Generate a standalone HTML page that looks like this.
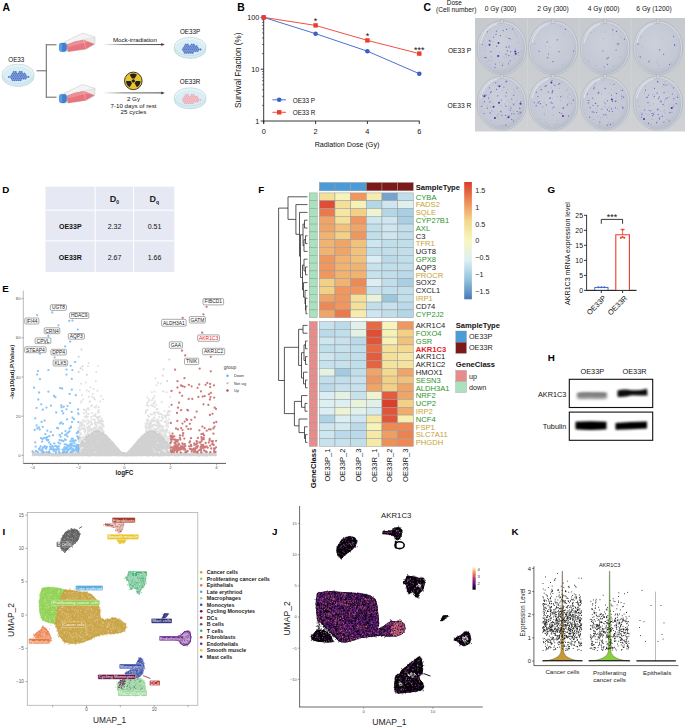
<!DOCTYPE html><html><head><meta charset="utf-8"><style>html,body{margin:0;padding:0;background:#fff;overflow:hidden;}svg{display:block;font-family:"Liberation Sans",sans-serif;}</style></head><body><svg width="685" height="727" viewBox="0 0 685 727"><rect width="685" height="727" fill="#fff"/><text x="2.6" y="10.7" font-size="10.4" text-anchor="start" font-weight="bold" fill="#000">A</text><text x="237.2" y="10.9" font-size="10.4" text-anchor="start" font-weight="bold" fill="#000">B</text><text x="423.5" y="11.0" font-size="10.4" text-anchor="start" font-weight="bold" fill="#000">C</text><text x="2.3" y="192.9" font-size="9.8" text-anchor="start" font-weight="bold" fill="#000">D</text><text x="2.3" y="292.0" font-size="9.8" text-anchor="start" font-weight="bold" fill="#000">E</text><text x="258.2" y="192.9" font-size="9.8" text-anchor="start" font-weight="bold" fill="#000">F</text><text x="547.6" y="192.7" font-size="9.8" text-anchor="start" font-weight="bold" fill="#000">G</text><text x="547.8" y="361.1" font-size="9.8" text-anchor="start" font-weight="bold" fill="#000">H</text><text x="2.6" y="534.9" font-size="9.8" text-anchor="start" font-weight="bold" fill="#000">I</text><text x="272.0" y="534.9" font-size="9.8" text-anchor="start" font-weight="bold" fill="#000">J</text><text x="511.4" y="534.9" font-size="9.8" text-anchor="start" font-weight="bold" fill="#000">K</text><text x="16.3" y="61.7" font-size="6.3" text-anchor="middle" fill="#111">OE33</text><ellipse cx="18" cy="76.8" rx="15.9" ry="9.6" fill="#d4ebf1" stroke="#aecbd5" stroke-width="0.6"/><rect x="2.0999999999999996" y="73.8" width="31.8" height="3" fill="#d4ebf1"/><line x1="2.0999999999999996" y1="73.8" x2="2.0999999999999996" y2="76.8" stroke="#bcd4dc" stroke-width="0.5"/><line x1="33.9" y1="73.8" x2="33.9" y2="76.8" stroke="#bcd4dc" stroke-width="0.5"/><ellipse cx="18" cy="73.8" rx="15.9" ry="9.6" fill="#e6f5f8" stroke="#b6d0d9" stroke-width="0.6"/><ellipse cx="18" cy="75.1" rx="14.3" ry="8.0" fill="#d9eff5" stroke="#cde3ea" stroke-width="0.4"/><circle cx="13.75" cy="72.04" r="0.95" fill="#4f72c4" stroke="#7d98d8" stroke-width="0.3"/><circle cx="15.70" cy="72.04" r="0.95" fill="#4f72c4" stroke="#7d98d8" stroke-width="0.3"/><circle cx="19.60" cy="72.04" r="0.95" fill="#4f72c4" stroke="#7d98d8" stroke-width="0.3"/><circle cx="21.55" cy="72.04" r="0.95" fill="#4f72c4" stroke="#7d98d8" stroke-width="0.3"/><circle cx="12.77" cy="73.66" r="0.95" fill="#4f72c4" stroke="#7d98d8" stroke-width="0.3"/><circle cx="14.72" cy="73.66" r="0.95" fill="#4f72c4" stroke="#7d98d8" stroke-width="0.3"/><circle cx="16.67" cy="73.66" r="0.95" fill="#4f72c4" stroke="#7d98d8" stroke-width="0.3"/><circle cx="18.62" cy="73.66" r="0.95" fill="#4f72c4" stroke="#7d98d8" stroke-width="0.3"/><circle cx="20.57" cy="73.66" r="0.95" fill="#4f72c4" stroke="#7d98d8" stroke-width="0.3"/><circle cx="22.52" cy="73.66" r="0.95" fill="#4f72c4" stroke="#7d98d8" stroke-width="0.3"/><circle cx="24.47" cy="73.66" r="0.95" fill="#4f72c4" stroke="#7d98d8" stroke-width="0.3"/><circle cx="11.80" cy="75.28" r="0.95" fill="#4f72c4" stroke="#7d98d8" stroke-width="0.3"/><circle cx="13.75" cy="75.28" r="0.95" fill="#4f72c4" stroke="#7d98d8" stroke-width="0.3"/><circle cx="15.70" cy="75.28" r="0.95" fill="#4f72c4" stroke="#7d98d8" stroke-width="0.3"/><circle cx="17.65" cy="75.28" r="0.95" fill="#4f72c4" stroke="#7d98d8" stroke-width="0.3"/><circle cx="19.60" cy="75.28" r="0.95" fill="#4f72c4" stroke="#7d98d8" stroke-width="0.3"/><circle cx="21.55" cy="75.28" r="0.95" fill="#4f72c4" stroke="#7d98d8" stroke-width="0.3"/><circle cx="23.50" cy="75.28" r="0.95" fill="#4f72c4" stroke="#7d98d8" stroke-width="0.3"/><circle cx="25.45" cy="75.28" r="0.95" fill="#4f72c4" stroke="#7d98d8" stroke-width="0.3"/><circle cx="8.88" cy="76.90" r="0.95" fill="#4f72c4" stroke="#7d98d8" stroke-width="0.3"/><circle cx="10.82" cy="76.90" r="0.95" fill="#4f72c4" stroke="#7d98d8" stroke-width="0.3"/><circle cx="12.77" cy="76.90" r="0.95" fill="#4f72c4" stroke="#7d98d8" stroke-width="0.3"/><circle cx="14.72" cy="76.90" r="0.95" fill="#4f72c4" stroke="#7d98d8" stroke-width="0.3"/><circle cx="16.67" cy="76.90" r="0.95" fill="#4f72c4" stroke="#7d98d8" stroke-width="0.3"/><circle cx="18.62" cy="76.90" r="0.95" fill="#4f72c4" stroke="#7d98d8" stroke-width="0.3"/><circle cx="20.57" cy="76.90" r="0.95" fill="#4f72c4" stroke="#7d98d8" stroke-width="0.3"/><circle cx="22.52" cy="76.90" r="0.95" fill="#4f72c4" stroke="#7d98d8" stroke-width="0.3"/><circle cx="24.47" cy="76.90" r="0.95" fill="#4f72c4" stroke="#7d98d8" stroke-width="0.3"/><circle cx="26.42" cy="76.90" r="0.95" fill="#4f72c4" stroke="#7d98d8" stroke-width="0.3"/><circle cx="28.37" cy="76.90" r="0.95" fill="#4f72c4" stroke="#7d98d8" stroke-width="0.3"/><circle cx="11.80" cy="78.52" r="0.95" fill="#4f72c4" stroke="#7d98d8" stroke-width="0.3"/><circle cx="13.75" cy="78.52" r="0.95" fill="#4f72c4" stroke="#7d98d8" stroke-width="0.3"/><circle cx="15.70" cy="78.52" r="0.95" fill="#4f72c4" stroke="#7d98d8" stroke-width="0.3"/><circle cx="17.65" cy="78.52" r="0.95" fill="#4f72c4" stroke="#7d98d8" stroke-width="0.3"/><circle cx="19.60" cy="78.52" r="0.95" fill="#4f72c4" stroke="#7d98d8" stroke-width="0.3"/><circle cx="21.55" cy="78.52" r="0.95" fill="#4f72c4" stroke="#7d98d8" stroke-width="0.3"/><circle cx="23.50" cy="78.52" r="0.95" fill="#4f72c4" stroke="#7d98d8" stroke-width="0.3"/><circle cx="25.45" cy="78.52" r="0.95" fill="#4f72c4" stroke="#7d98d8" stroke-width="0.3"/><circle cx="12.77" cy="80.14" r="0.95" fill="#4f72c4" stroke="#7d98d8" stroke-width="0.3"/><circle cx="14.72" cy="80.14" r="0.95" fill="#4f72c4" stroke="#7d98d8" stroke-width="0.3"/><circle cx="16.67" cy="80.14" r="0.95" fill="#4f72c4" stroke="#7d98d8" stroke-width="0.3"/><circle cx="18.62" cy="80.14" r="0.95" fill="#4f72c4" stroke="#7d98d8" stroke-width="0.3"/><circle cx="20.57" cy="80.14" r="0.95" fill="#4f72c4" stroke="#7d98d8" stroke-width="0.3"/><line x1="36.5" y1="70.8" x2="46.3" y2="70.8" stroke="#666" stroke-width="1.0"/><line x1="46.3" y1="44.6" x2="46.3" y2="97.4" stroke="#666" stroke-width="1.0"/><line x1="45.8" y1="44.8" x2="56.5" y2="44.8" stroke="#666" stroke-width="1.0"/><line x1="45.8" y1="97.2" x2="56.5" y2="97.2" stroke="#666" stroke-width="1.0"/><polygon points="64.2,42.1 82.6,33.3 95.1,37.2 94.7,44.4 85.9,49.0 67.5,51.7" fill="#e9e9ea" stroke="#c2c2c4" stroke-width="0.5"/><polygon points="64.2,42.1 82.6,33.3 95.1,37.2 83.5,39.7 67.1,44.1" fill="#f4f4f5" stroke="#cfcfd1" stroke-width="0.4"/><polygon points="66.7,45.0 74.7,41.7 83.5,40.0 94.1,44.0 85.9,48.9 68.1,51.6" fill="#e8747f" stroke="#dc6673" stroke-width="0.3"/><polygon points="66.7,45.0 74.7,41.7 83.5,40.0 89.1,42.1 79.1,44.3 68.1,47.3" fill="#ee8e97"/><line x1="83.5" y1="39.699999999999996" x2="85.9" y2="48.9" stroke="#d9d9db" stroke-width="0.4"/><rect x="59.300000000000004" y="43.0" width="7.4" height="8.7" rx="2.4" fill="#3c82d2" stroke="#2f6fbd" stroke-width="0.3"/><rect x="59.5" y="43.5" width="2.6" height="7.7" rx="1.2" fill="#5b9be0"/><polygon points="64.2,93.4 82.6,84.6 95.1,88.5 94.7,95.7 85.9,100.3 67.5,103.0" fill="#e9e9ea" stroke="#c2c2c4" stroke-width="0.5"/><polygon points="64.2,93.4 82.6,84.6 95.1,88.5 83.5,91.0 67.1,95.4" fill="#f4f4f5" stroke="#cfcfd1" stroke-width="0.4"/><polygon points="66.7,96.3 74.7,93.0 83.5,91.3 94.1,95.3 85.9,100.2 68.1,102.9" fill="#e8747f" stroke="#dc6673" stroke-width="0.3"/><polygon points="66.7,96.3 74.7,93.0 83.5,91.3 89.1,93.4 79.1,95.6 68.1,98.6" fill="#ee8e97"/><line x1="83.5" y1="91.0" x2="85.9" y2="100.19999999999999" stroke="#d9d9db" stroke-width="0.4"/><rect x="59.300000000000004" y="94.3" width="7.4" height="8.7" rx="2.4" fill="#3c82d2" stroke="#2f6fbd" stroke-width="0.3"/><rect x="59.5" y="94.8" width="2.6" height="7.7" rx="1.2" fill="#5b9be0"/><text x="134.9" y="41.6" font-size="6.2" text-anchor="middle" fill="#111">Mock-irradiation</text><defs><linearGradient id="arr" x1="103" y1="0" x2="163" y2="0" gradientUnits="userSpaceOnUse"><stop offset="0" stop-color="#555" stop-opacity="0"/><stop offset="0.35" stop-color="#555" stop-opacity="0.9"/><stop offset="1" stop-color="#333"/></linearGradient></defs><rect x="103.4" y="44.15" width="59.5" height="0.9" fill="url(#arr)"/><polygon points="164.8,44.6 161.2,43.1 161.2,46.1" fill="#444"/><rect x="103.4" y="92.45" width="59.5" height="0.9" fill="url(#arr)"/><polygon points="164.8,92.9 161.2,91.4 161.2,94.4" fill="#444"/><circle cx="133.3" cy="80.9" r="8.8" fill="#ebc42a" stroke="#2a2a2a" stroke-width="0.9"/><path d="M131.98 78.61 L129.69 74.65 A7.216 7.216 0 0 1 136.91 74.65 L134.62 78.61 Z" fill="#222"/><path d="M135.94 80.90 L140.52 80.90 A7.216 7.216 0 0 1 136.91 87.15 L134.62 83.19 Z" fill="#222"/><path d="M131.98 83.19 L129.69 87.15 A7.216 7.216 0 0 1 126.08 80.90 L130.66 80.90 Z" fill="#222"/><circle cx="133.3" cy="80.9" r="1.6720000000000002" fill="#222"/><text x="133.5" y="100.8" font-size="6.2" text-anchor="middle" fill="#111">2 Gy</text><text x="133.5" y="108.3" font-size="6.2" text-anchor="middle" fill="#111">7-10 days of rest</text><text x="133.5" y="114.2" font-size="6.2" text-anchor="middle" fill="#111">25 cycles</text><text x="190.1" y="33.8" font-size="6.3" text-anchor="middle" fill="#111">OE33P</text><ellipse cx="190.1" cy="49.4" rx="15.8" ry="9.0" fill="#d4ebf1" stroke="#aecbd5" stroke-width="0.6"/><rect x="174.29999999999998" y="46.4" width="31.6" height="3" fill="#d4ebf1"/><line x1="174.29999999999998" y1="46.4" x2="174.29999999999998" y2="49.4" stroke="#bcd4dc" stroke-width="0.5"/><line x1="205.9" y1="46.4" x2="205.9" y2="49.4" stroke="#bcd4dc" stroke-width="0.5"/><ellipse cx="190.1" cy="46.4" rx="15.8" ry="9.0" fill="#e6f5f8" stroke="#b6d0d9" stroke-width="0.6"/><ellipse cx="190.1" cy="47.699999999999996" rx="14.200000000000001" ry="7.4" fill="#d9eff5" stroke="#cde3ea" stroke-width="0.4"/><circle cx="185.85" cy="44.64" r="0.95" fill="#4f72c4" stroke="#7d98d8" stroke-width="0.3"/><circle cx="187.80" cy="44.64" r="0.95" fill="#4f72c4" stroke="#7d98d8" stroke-width="0.3"/><circle cx="191.70" cy="44.64" r="0.95" fill="#4f72c4" stroke="#7d98d8" stroke-width="0.3"/><circle cx="193.65" cy="44.64" r="0.95" fill="#4f72c4" stroke="#7d98d8" stroke-width="0.3"/><circle cx="184.87" cy="46.26" r="0.95" fill="#4f72c4" stroke="#7d98d8" stroke-width="0.3"/><circle cx="186.82" cy="46.26" r="0.95" fill="#4f72c4" stroke="#7d98d8" stroke-width="0.3"/><circle cx="188.77" cy="46.26" r="0.95" fill="#4f72c4" stroke="#7d98d8" stroke-width="0.3"/><circle cx="190.72" cy="46.26" r="0.95" fill="#4f72c4" stroke="#7d98d8" stroke-width="0.3"/><circle cx="192.67" cy="46.26" r="0.95" fill="#4f72c4" stroke="#7d98d8" stroke-width="0.3"/><circle cx="194.62" cy="46.26" r="0.95" fill="#4f72c4" stroke="#7d98d8" stroke-width="0.3"/><circle cx="196.57" cy="46.26" r="0.95" fill="#4f72c4" stroke="#7d98d8" stroke-width="0.3"/><circle cx="183.90" cy="47.88" r="0.95" fill="#4f72c4" stroke="#7d98d8" stroke-width="0.3"/><circle cx="185.85" cy="47.88" r="0.95" fill="#4f72c4" stroke="#7d98d8" stroke-width="0.3"/><circle cx="187.80" cy="47.88" r="0.95" fill="#4f72c4" stroke="#7d98d8" stroke-width="0.3"/><circle cx="189.75" cy="47.88" r="0.95" fill="#4f72c4" stroke="#7d98d8" stroke-width="0.3"/><circle cx="191.70" cy="47.88" r="0.95" fill="#4f72c4" stroke="#7d98d8" stroke-width="0.3"/><circle cx="193.65" cy="47.88" r="0.95" fill="#4f72c4" stroke="#7d98d8" stroke-width="0.3"/><circle cx="195.60" cy="47.88" r="0.95" fill="#4f72c4" stroke="#7d98d8" stroke-width="0.3"/><circle cx="197.55" cy="47.88" r="0.95" fill="#4f72c4" stroke="#7d98d8" stroke-width="0.3"/><circle cx="182.92" cy="49.50" r="0.95" fill="#4f72c4" stroke="#7d98d8" stroke-width="0.3"/><circle cx="184.87" cy="49.50" r="0.95" fill="#4f72c4" stroke="#7d98d8" stroke-width="0.3"/><circle cx="186.82" cy="49.50" r="0.95" fill="#4f72c4" stroke="#7d98d8" stroke-width="0.3"/><circle cx="188.77" cy="49.50" r="0.95" fill="#4f72c4" stroke="#7d98d8" stroke-width="0.3"/><circle cx="190.72" cy="49.50" r="0.95" fill="#4f72c4" stroke="#7d98d8" stroke-width="0.3"/><circle cx="192.67" cy="49.50" r="0.95" fill="#4f72c4" stroke="#7d98d8" stroke-width="0.3"/><circle cx="194.62" cy="49.50" r="0.95" fill="#4f72c4" stroke="#7d98d8" stroke-width="0.3"/><circle cx="196.57" cy="49.50" r="0.95" fill="#4f72c4" stroke="#7d98d8" stroke-width="0.3"/><circle cx="198.52" cy="49.50" r="0.95" fill="#4f72c4" stroke="#7d98d8" stroke-width="0.3"/><circle cx="200.47" cy="49.50" r="0.95" fill="#4f72c4" stroke="#7d98d8" stroke-width="0.3"/><circle cx="183.90" cy="51.12" r="0.95" fill="#4f72c4" stroke="#7d98d8" stroke-width="0.3"/><circle cx="185.85" cy="51.12" r="0.95" fill="#4f72c4" stroke="#7d98d8" stroke-width="0.3"/><circle cx="187.80" cy="51.12" r="0.95" fill="#4f72c4" stroke="#7d98d8" stroke-width="0.3"/><circle cx="189.75" cy="51.12" r="0.95" fill="#4f72c4" stroke="#7d98d8" stroke-width="0.3"/><circle cx="191.70" cy="51.12" r="0.95" fill="#4f72c4" stroke="#7d98d8" stroke-width="0.3"/><circle cx="193.65" cy="51.12" r="0.95" fill="#4f72c4" stroke="#7d98d8" stroke-width="0.3"/><circle cx="195.60" cy="51.12" r="0.95" fill="#4f72c4" stroke="#7d98d8" stroke-width="0.3"/><circle cx="197.55" cy="51.12" r="0.95" fill="#4f72c4" stroke="#7d98d8" stroke-width="0.3"/><circle cx="184.87" cy="52.74" r="0.95" fill="#4f72c4" stroke="#7d98d8" stroke-width="0.3"/><circle cx="186.82" cy="52.74" r="0.95" fill="#4f72c4" stroke="#7d98d8" stroke-width="0.3"/><circle cx="188.77" cy="52.74" r="0.95" fill="#4f72c4" stroke="#7d98d8" stroke-width="0.3"/><circle cx="190.72" cy="52.74" r="0.95" fill="#4f72c4" stroke="#7d98d8" stroke-width="0.3"/><circle cx="192.67" cy="52.74" r="0.95" fill="#4f72c4" stroke="#7d98d8" stroke-width="0.3"/><text x="190.1" y="84.0" font-size="6.3" text-anchor="middle" fill="#111">OE33R</text><ellipse cx="190.1" cy="99.8" rx="15.8" ry="9.0" fill="#d4ebf1" stroke="#aecbd5" stroke-width="0.6"/><rect x="174.29999999999998" y="96.8" width="31.6" height="3" fill="#d4ebf1"/><line x1="174.29999999999998" y1="96.8" x2="174.29999999999998" y2="99.8" stroke="#bcd4dc" stroke-width="0.5"/><line x1="205.9" y1="96.8" x2="205.9" y2="99.8" stroke="#bcd4dc" stroke-width="0.5"/><ellipse cx="190.1" cy="96.8" rx="15.8" ry="9.0" fill="#e6f5f8" stroke="#b6d0d9" stroke-width="0.6"/><ellipse cx="190.1" cy="98.1" rx="14.200000000000001" ry="7.4" fill="#d9eff5" stroke="#cde3ea" stroke-width="0.4"/><circle cx="185.85" cy="95.04" r="0.95" fill="#f0a6b2" stroke="#f6c6ce" stroke-width="0.3"/><circle cx="187.80" cy="95.04" r="0.95" fill="#f0a6b2" stroke="#f6c6ce" stroke-width="0.3"/><circle cx="191.70" cy="95.04" r="0.95" fill="#f0a6b2" stroke="#f6c6ce" stroke-width="0.3"/><circle cx="193.65" cy="95.04" r="0.95" fill="#f0a6b2" stroke="#f6c6ce" stroke-width="0.3"/><circle cx="184.87" cy="96.66" r="0.95" fill="#f0a6b2" stroke="#f6c6ce" stroke-width="0.3"/><circle cx="186.82" cy="96.66" r="0.95" fill="#f0a6b2" stroke="#f6c6ce" stroke-width="0.3"/><circle cx="188.77" cy="96.66" r="0.95" fill="#f0a6b2" stroke="#f6c6ce" stroke-width="0.3"/><circle cx="190.72" cy="96.66" r="0.95" fill="#f0a6b2" stroke="#f6c6ce" stroke-width="0.3"/><circle cx="192.67" cy="96.66" r="0.95" fill="#f0a6b2" stroke="#f6c6ce" stroke-width="0.3"/><circle cx="194.62" cy="96.66" r="0.95" fill="#f0a6b2" stroke="#f6c6ce" stroke-width="0.3"/><circle cx="196.57" cy="96.66" r="0.95" fill="#f0a6b2" stroke="#f6c6ce" stroke-width="0.3"/><circle cx="183.90" cy="98.28" r="0.95" fill="#f0a6b2" stroke="#f6c6ce" stroke-width="0.3"/><circle cx="185.85" cy="98.28" r="0.95" fill="#f0a6b2" stroke="#f6c6ce" stroke-width="0.3"/><circle cx="187.80" cy="98.28" r="0.95" fill="#f0a6b2" stroke="#f6c6ce" stroke-width="0.3"/><circle cx="189.75" cy="98.28" r="0.95" fill="#f0a6b2" stroke="#f6c6ce" stroke-width="0.3"/><circle cx="191.70" cy="98.28" r="0.95" fill="#f0a6b2" stroke="#f6c6ce" stroke-width="0.3"/><circle cx="193.65" cy="98.28" r="0.95" fill="#f0a6b2" stroke="#f6c6ce" stroke-width="0.3"/><circle cx="195.60" cy="98.28" r="0.95" fill="#f0a6b2" stroke="#f6c6ce" stroke-width="0.3"/><circle cx="197.55" cy="98.28" r="0.95" fill="#f0a6b2" stroke="#f6c6ce" stroke-width="0.3"/><circle cx="182.92" cy="99.90" r="0.95" fill="#f0a6b2" stroke="#f6c6ce" stroke-width="0.3"/><circle cx="184.87" cy="99.90" r="0.95" fill="#f0a6b2" stroke="#f6c6ce" stroke-width="0.3"/><circle cx="186.82" cy="99.90" r="0.95" fill="#f0a6b2" stroke="#f6c6ce" stroke-width="0.3"/><circle cx="188.77" cy="99.90" r="0.95" fill="#f0a6b2" stroke="#f6c6ce" stroke-width="0.3"/><circle cx="190.72" cy="99.90" r="0.95" fill="#f0a6b2" stroke="#f6c6ce" stroke-width="0.3"/><circle cx="192.67" cy="99.90" r="0.95" fill="#f0a6b2" stroke="#f6c6ce" stroke-width="0.3"/><circle cx="194.62" cy="99.90" r="0.95" fill="#f0a6b2" stroke="#f6c6ce" stroke-width="0.3"/><circle cx="196.57" cy="99.90" r="0.95" fill="#f0a6b2" stroke="#f6c6ce" stroke-width="0.3"/><circle cx="198.52" cy="99.90" r="0.95" fill="#f0a6b2" stroke="#f6c6ce" stroke-width="0.3"/><circle cx="200.47" cy="99.90" r="0.95" fill="#f0a6b2" stroke="#f6c6ce" stroke-width="0.3"/><circle cx="183.90" cy="101.52" r="0.95" fill="#f0a6b2" stroke="#f6c6ce" stroke-width="0.3"/><circle cx="185.85" cy="101.52" r="0.95" fill="#f0a6b2" stroke="#f6c6ce" stroke-width="0.3"/><circle cx="187.80" cy="101.52" r="0.95" fill="#f0a6b2" stroke="#f6c6ce" stroke-width="0.3"/><circle cx="189.75" cy="101.52" r="0.95" fill="#f0a6b2" stroke="#f6c6ce" stroke-width="0.3"/><circle cx="191.70" cy="101.52" r="0.95" fill="#f0a6b2" stroke="#f6c6ce" stroke-width="0.3"/><circle cx="193.65" cy="101.52" r="0.95" fill="#f0a6b2" stroke="#f6c6ce" stroke-width="0.3"/><circle cx="195.60" cy="101.52" r="0.95" fill="#f0a6b2" stroke="#f6c6ce" stroke-width="0.3"/><circle cx="197.55" cy="101.52" r="0.95" fill="#f0a6b2" stroke="#f6c6ce" stroke-width="0.3"/><circle cx="184.87" cy="103.14" r="0.95" fill="#f0a6b2" stroke="#f6c6ce" stroke-width="0.3"/><circle cx="186.82" cy="103.14" r="0.95" fill="#f0a6b2" stroke="#f6c6ce" stroke-width="0.3"/><circle cx="188.77" cy="103.14" r="0.95" fill="#f0a6b2" stroke="#f6c6ce" stroke-width="0.3"/><circle cx="190.72" cy="103.14" r="0.95" fill="#f0a6b2" stroke="#f6c6ce" stroke-width="0.3"/><circle cx="192.67" cy="103.14" r="0.95" fill="#f0a6b2" stroke="#f6c6ce" stroke-width="0.3"/><line x1="263.7" y1="16.9" x2="263.7" y2="123.5" stroke="#222" stroke-width="0.9"/><line x1="263.3" y1="121.0" x2="419.7" y2="121.0" stroke="#222" stroke-width="0.9"/><line x1="260.7" y1="17.4" x2="263.7" y2="17.4" stroke="#222" stroke-width="0.9"/><text x="259.2" y="19.9" font-size="7.2" text-anchor="end" fill="#111">100</text><line x1="260.7" y1="69.2" x2="263.7" y2="69.2" stroke="#222" stroke-width="0.9"/><text x="259.2" y="71.7" font-size="7.2" text-anchor="end" fill="#111">10</text><line x1="260.7" y1="121.0" x2="263.7" y2="121.0" stroke="#222" stroke-width="0.9"/><text x="259.2" y="123.5" font-size="7.2" text-anchor="end" fill="#111">1</text><line x1="261.9" y1="105.4" x2="263.7" y2="105.4" stroke="#222" stroke-width="0.6"/><line x1="261.9" y1="96.3" x2="263.7" y2="96.3" stroke="#222" stroke-width="0.6"/><line x1="261.9" y1="89.8" x2="263.7" y2="89.8" stroke="#222" stroke-width="0.6"/><line x1="261.9" y1="84.8" x2="263.7" y2="84.8" stroke="#222" stroke-width="0.6"/><line x1="261.9" y1="80.7" x2="263.7" y2="80.7" stroke="#222" stroke-width="0.6"/><line x1="261.9" y1="77.2" x2="263.7" y2="77.2" stroke="#222" stroke-width="0.6"/><line x1="261.9" y1="74.2" x2="263.7" y2="74.2" stroke="#222" stroke-width="0.6"/><line x1="261.9" y1="71.6" x2="263.7" y2="71.6" stroke="#222" stroke-width="0.6"/><line x1="261.9" y1="53.6" x2="263.7" y2="53.6" stroke="#222" stroke-width="0.6"/><line x1="261.9" y1="44.5" x2="263.7" y2="44.5" stroke="#222" stroke-width="0.6"/><line x1="261.9" y1="38.0" x2="263.7" y2="38.0" stroke="#222" stroke-width="0.6"/><line x1="261.9" y1="33.0" x2="263.7" y2="33.0" stroke="#222" stroke-width="0.6"/><line x1="261.9" y1="28.9" x2="263.7" y2="28.9" stroke="#222" stroke-width="0.6"/><line x1="261.9" y1="25.4" x2="263.7" y2="25.4" stroke="#222" stroke-width="0.6"/><line x1="261.9" y1="22.4" x2="263.7" y2="22.4" stroke="#222" stroke-width="0.6"/><line x1="261.9" y1="19.8" x2="263.7" y2="19.8" stroke="#222" stroke-width="0.6"/><line x1="263.7" y1="121.0" x2="263.7" y2="124.0" stroke="#222" stroke-width="0.9"/><text x="263.7" y="134.2" font-size="7.4" text-anchor="middle" fill="#111">0</text><line x1="315.6" y1="121.0" x2="315.6" y2="124.0" stroke="#222" stroke-width="0.9"/><text x="315.6" y="134.2" font-size="7.4" text-anchor="middle" fill="#111">2</text><line x1="367.4" y1="121.0" x2="367.4" y2="124.0" stroke="#222" stroke-width="0.9"/><text x="367.4" y="134.2" font-size="7.4" text-anchor="middle" fill="#111">4</text><line x1="419.3" y1="121.0" x2="419.3" y2="124.0" stroke="#222" stroke-width="0.9"/><text x="419.3" y="134.2" font-size="7.4" text-anchor="middle" fill="#111">6</text><text x="347.0" y="146.5" font-size="7.15" text-anchor="middle" fill="#111">Radiation Dose (Gy)</text><text x="0.0" y="0.0" font-size="8.15" text-anchor="middle" fill="#111" transform="translate(241.2,70.2) rotate(-90)">Survival Fraction (%)</text><polyline points="263.7,17.4 315.6,25.4 367.4,40.4 419.3,53.6" fill="none" stroke="#ef3b2c" stroke-width="0.9"/><polyline points="263.7,17.4 315.6,33.7 367.4,51.2 419.3,73.7" fill="none" stroke="#3c5fc6" stroke-width="0.9"/><circle cx="263.7" cy="17.4" r="2.3" fill="#3c5fc6"/><circle cx="315.6" cy="33.7" r="2.3" fill="#3c5fc6"/><circle cx="367.4" cy="51.2" r="2.3" fill="#3c5fc6"/><circle cx="419.3" cy="73.7" r="2.3" fill="#3c5fc6"/><rect x="261.5" y="15.2" width="4.4" height="4.4" fill="#ef3b2c"/><rect x="313.4" y="23.2" width="4.4" height="4.4" fill="#ef3b2c"/><rect x="365.2" y="38.2" width="4.4" height="4.4" fill="#ef3b2c"/><rect x="417.1" y="51.4" width="4.4" height="4.4" fill="#ef3b2c"/><text x="315.6" y="24.0" font-size="9" text-anchor="middle" fill="#111">*</text><text x="367.4" y="38.6" font-size="9" text-anchor="middle" fill="#111">*</text><text x="419.3" y="52.6" font-size="9" text-anchor="middle" fill="#111">***</text><line x1="272.4" y1="99.8" x2="286.0" y2="99.8" stroke="#3c5fc6" stroke-width="0.9"/><circle cx="279.2" cy="99.8" r="2.3" fill="#3c5fc6"/><line x1="272.4" y1="112.3" x2="286.0" y2="112.3" stroke="#ef3b2c" stroke-width="0.9"/><rect x="277" y="110.1" width="4.4" height="4.4" fill="#ef3b2c"/><text x="292.7" y="102.6" font-size="6.4" text-anchor="start" fill="#111">OE33 P</text><text x="292.7" y="115.1" font-size="6.4" text-anchor="start" fill="#111">OE33 R</text><text x="454.3" y="5.3" font-size="6.4" text-anchor="middle" fill="#111">Dose</text><text x="456.2" y="11.9" font-size="6.7" text-anchor="middle" fill="#111">(Cell number)</text><text x="500.5" y="10.8" font-size="6.7" text-anchor="middle" fill="#111">0 Gy (300)</text><text x="553.0" y="10.8" font-size="6.7" text-anchor="middle" fill="#111">2 Gy (300)</text><text x="603.6" y="10.8" font-size="6.7" text-anchor="middle" fill="#111">4 Gy (600)</text><text x="654.0" y="10.8" font-size="6.7" text-anchor="middle" fill="#111">6 Gy (1200)</text><text x="471.3" y="53.2" font-size="6.7" text-anchor="end" fill="#111">OE33 P</text><text x="471.3" y="107.8" font-size="6.7" text-anchor="end" fill="#111">OE33 R</text><defs><linearGradient id="cbg" x1="0" y1="0" x2="0" y2="1"><stop offset="0" stop-color="#c6c9cd"/><stop offset="1" stop-color="#cfd1d4"/></linearGradient><radialGradient id="dishg" cx="0.45" cy="0.4" r="0.6"><stop offset="0" stop-color="#cbd0db"/><stop offset="0.8" stop-color="#c3c8d4"/><stop offset="1" stop-color="#b7bdca"/></radialGradient></defs><rect x="475" y="18" width="210" height="113.5" fill="url(#cbg)"/><line x1="527.4" y1="18.0" x2="527.4" y2="131.5" stroke="#d2d5d8" stroke-width="0.8"/><line x1="579.2" y1="18.0" x2="579.2" y2="131.5" stroke="#d2d5d8" stroke-width="0.8"/><line x1="631.2" y1="18.0" x2="631.2" y2="131.5" stroke="#d2d5d8" stroke-width="0.8"/><ellipse cx="501.8" cy="47.9" rx="24.7" ry="27.0" fill="#d2d6de" stroke="#a7adb9" stroke-width="0.6"/><ellipse cx="501.8" cy="48.5" rx="22.9" ry="25.2" fill="url(#dishg)" stroke="#b3b7c3" stroke-width="0.5"/><path d="M480.6 42.9 A22.2 24.5 0 0 1 496.8 23.9" stroke="#e8eaf0" stroke-width="1.3" fill="none" opacity="0.75"/><rect x="500.3" y="19.4" width="3" height="4" fill="#cdd0d8" stroke="#a9adb8" stroke-width="0.4"/><path d="M498.2 55.9h0M498.5 42.9h0M489.5 44.8h0M515.7 53.7h0M515.2 51.4h0M507.5 50.8h0M484.9 57.5h0M508.8 55.5h0M487.6 31.8h0M490.2 41.2h0M506.3 47.2h0M508.9 38.3h0M506.2 54.1h0M495.0 67.3h0M508.5 63.8h0M493.6 37.1h0M496.8 46.2h0M510.6 51.7h0M496.0 34.3h0M495.5 64.1h0M490.9 51.6h0M506.6 29.4h0M502.4 65.3h0M482.5 44.5h0M500.4 35.7h0M508.9 46.9h0M486.0 57.7h0M510.2 61.0h0M518.4 52.5h0M503.2 30.6h0M510.1 38.8h0M496.4 31.2h0M489.4 40.4h0M512.7 29.0h0" stroke="#6548c4" stroke-width="1.2" stroke-linecap="round" stroke-opacity="0.85" fill="none"/><path d="M498.2 55.9h0M498.5 42.9h0M489.5 44.8h0M515.7 53.7h0M515.2 51.4h0" stroke="#4a2db2" stroke-width="2.0" stroke-linecap="round" stroke-opacity="0.95" fill="none"/><path d="M485.0 50.9h0M518.0 55.1h0M489.3 29.6h0M506.7 36.9h0M488.9 60.3h0M515.8 50.1h0M505.3 54.7h0M518.9 55.2h0M508.9 56.2h0M486.7 61.5h0M514.0 55.4h0M483.1 41.3h0M510.0 28.5h0M499.4 62.5h0M489.4 64.7h0M509.6 45.6h0M506.3 57.8h0M503.3 63.8h0M492.7 41.6h0M515.3 48.3h0M491.1 60.6h0M518.4 42.3h0M485.5 46.1h0M499.6 43.1h0M516.7 35.9h0M515.0 33.3h0M491.5 57.0h0M515.0 59.0h0M506.8 50.2h0M504.0 56.9h0M499.2 52.4h0M509.9 47.9h0M511.9 56.2h0M521.1 51.3h0" stroke="#8d84cc" stroke-width="0.9" stroke-linecap="round" stroke-opacity="0.6" fill="none"/><ellipse cx="553.3" cy="47.9" rx="24.7" ry="27.0" fill="#d2d6de" stroke="#a7adb9" stroke-width="0.6"/><ellipse cx="553.3" cy="48.5" rx="22.9" ry="25.2" fill="url(#dishg)" stroke="#b3b7c3" stroke-width="0.5"/><path d="M532.1 42.9 A22.2 24.5 0 0 1 548.3 23.9" stroke="#e8eaf0" stroke-width="1.3" fill="none" opacity="0.75"/><rect x="551.8" y="19.4" width="3" height="4" fill="#cdd0d8" stroke="#a9adb8" stroke-width="0.4"/><path d="M547.2 42.1h0M553.1 61.5h0M548.5 54.0h0M565.4 29.3h0M539.1 51.3h0M559.0 51.7h0M547.4 57.8h0M557.3 39.8h0M573.5 51.1h0" stroke="#6548c4" stroke-width="1.2" stroke-linecap="round" stroke-opacity="0.85" fill="none"/><path d="M545.4 46.3h0M550.0 46.9h0M533.0 43.9h0M564.7 33.4h0M552.4 61.8h0M562.4 65.4h0M535.3 43.8h0M548.6 57.4h0M561.1 26.8h0" stroke="#8d84cc" stroke-width="0.9" stroke-linecap="round" stroke-opacity="0.6" fill="none"/><ellipse cx="605.2" cy="47.9" rx="24.7" ry="27.0" fill="#d2d6de" stroke="#a7adb9" stroke-width="0.6"/><ellipse cx="605.2" cy="48.5" rx="22.9" ry="25.2" fill="url(#dishg)" stroke="#b3b7c3" stroke-width="0.5"/><path d="M584.0 42.9 A22.2 24.5 0 0 1 600.2 23.9" stroke="#e8eaf0" stroke-width="1.3" fill="none" opacity="0.75"/><rect x="603.7" y="19.4" width="3" height="4" fill="#cdd0d8" stroke="#a9adb8" stroke-width="0.4"/><path d="M616.5 31.4h0M612.7 29.9h0M607.4 64.3h0M603.0 51.0h0M616.1 50.0h0M604.2 67.0h0M618.6 43.7h0M624.4 39.1h0M617.3 44.0h0M607.0 58.7h0M608.3 57.7h0" stroke="#6548c4" stroke-width="1.2" stroke-linecap="round" stroke-opacity="0.85" fill="none"/><path d="M591.1 32.6h0M613.0 34.5h0M594.5 31.0h0M619.8 57.4h0M620.8 37.0h0M605.2 32.0h0M613.3 66.3h0M595.9 65.8h0M618.1 45.3h0M588.7 60.9h0M603.8 38.5h0" stroke="#8d84cc" stroke-width="0.9" stroke-linecap="round" stroke-opacity="0.6" fill="none"/><ellipse cx="658.0" cy="47.9" rx="24.7" ry="27.0" fill="#d2d6de" stroke="#a7adb9" stroke-width="0.6"/><ellipse cx="658.0" cy="48.5" rx="22.9" ry="25.2" fill="url(#dishg)" stroke="#b3b7c3" stroke-width="0.5"/><path d="M636.8 42.9 A22.2 24.5 0 0 1 653.0 23.9" stroke="#e8eaf0" stroke-width="1.3" fill="none" opacity="0.75"/><rect x="656.5" y="19.4" width="3" height="4" fill="#cdd0d8" stroke="#a9adb8" stroke-width="0.4"/><path d="M663.7 54.3h0M673.5 36.3h0M669.5 64.5h0M674.8 45.6h0M648.9 61.7h0M659.7 49.9h0M674.6 44.5h0M638.1 44.2h0M640.2 56.6h0" stroke="#6548c4" stroke-width="1.2" stroke-linecap="round" stroke-opacity="0.85" fill="none"/><path d="M662.4 38.5h0M657.9 60.3h0M659.0 65.5h0M657.2 62.8h0M671.5 64.0h0M649.4 60.3h0M640.8 37.0h0M640.4 58.4h0M642.8 47.7h0" stroke="#8d84cc" stroke-width="0.9" stroke-linecap="round" stroke-opacity="0.6" fill="none"/><ellipse cx="501.8" cy="103.2" rx="24.7" ry="27.0" fill="#d2d6de" stroke="#a7adb9" stroke-width="0.6"/><ellipse cx="501.8" cy="103.8" rx="22.9" ry="25.2" fill="url(#dishg)" stroke="#b3b7c3" stroke-width="0.5"/><path d="M480.6 98.2 A22.2 24.5 0 0 1 496.8 79.2" stroke="#e8eaf0" stroke-width="1.3" fill="none" opacity="0.75"/><rect x="500.3" y="74.7" width="3" height="4" fill="#cdd0d8" stroke="#a9adb8" stroke-width="0.4"/><path d="M499.0 102.7h0M493.5 106.8h0M520.5 103.7h0M508.5 117.2h0M499.4 86.3h0M494.9 117.9h0M484.4 96.2h0M514.1 113.8h0M501.9 115.3h0M503.9 87.0h0M484.9 95.6h0M513.7 95.2h0M490.5 92.6h0M484.5 101.7h0M487.2 108.2h0M481.7 106.3h0M495.7 82.8h0M511.7 99.0h0M482.9 95.0h0M505.9 96.0h0M511.8 113.8h0M511.0 108.2h0M517.1 111.5h0M506.0 81.9h0M511.8 119.3h0M497.6 95.8h0M517.0 88.0h0M505.7 125.2h0M490.1 112.8h0M520.8 101.9h0M509.0 116.0h0M489.7 101.9h0M505.7 115.4h0M501.3 100.0h0M488.7 98.1h0M513.7 104.7h0M491.2 91.6h0M520.9 112.2h0M506.7 81.2h0M510.3 110.5h0M519.7 108.2h0M500.8 111.4h0M484.2 113.5h0M506.3 92.6h0M513.6 121.0h0M486.0 94.9h0M506.0 106.1h0M496.6 89.3h0M520.0 113.0h0M489.4 87.8h0" stroke="#6548c4" stroke-width="1.2" stroke-linecap="round" stroke-opacity="0.85" fill="none"/><path d="M499.0 102.7h0M493.5 106.8h0M520.5 103.7h0M508.5 117.2h0M499.4 86.3h0M494.9 117.9h0M484.4 96.2h0" stroke="#4a2db2" stroke-width="2.0" stroke-linecap="round" stroke-opacity="0.95" fill="none"/><path d="M518.5 113.9h0M519.5 111.9h0M490.1 107.0h0M482.8 96.0h0M501.0 111.4h0M491.7 101.3h0M508.3 109.1h0M510.7 106.4h0M497.4 115.0h0M502.5 90.8h0M493.0 103.2h0M500.2 105.7h0M501.8 106.0h0M500.2 86.2h0M507.1 117.9h0M508.0 100.2h0M507.6 89.5h0M482.7 103.9h0M490.2 113.4h0M493.9 82.1h0M491.3 120.7h0M497.3 85.5h0M491.6 110.8h0M508.9 106.0h0M518.0 111.7h0M501.5 112.5h0M518.3 113.9h0M513.5 89.5h0M499.8 114.3h0M498.0 118.2h0M509.5 116.0h0M500.1 125.7h0M517.0 100.3h0M502.5 125.8h0M497.2 116.0h0M514.7 103.3h0M487.2 105.8h0M506.3 118.8h0M512.5 103.6h0M513.0 111.0h0M504.8 104.1h0M498.4 113.7h0M488.8 94.6h0M501.9 84.5h0M497.6 82.1h0M492.6 111.6h0M509.8 102.3h0M499.1 85.0h0M520.2 108.9h0M514.7 91.8h0" stroke="#8d84cc" stroke-width="0.9" stroke-linecap="round" stroke-opacity="0.6" fill="none"/><ellipse cx="553.3" cy="103.2" rx="24.7" ry="27.0" fill="#d2d6de" stroke="#a7adb9" stroke-width="0.6"/><ellipse cx="553.3" cy="103.8" rx="22.9" ry="25.2" fill="url(#dishg)" stroke="#b3b7c3" stroke-width="0.5"/><path d="M532.1 98.2 A22.2 24.5 0 0 1 548.3 79.2" stroke="#e8eaf0" stroke-width="1.3" fill="none" opacity="0.75"/><rect x="551.8" y="74.7" width="3" height="4" fill="#cdd0d8" stroke="#a9adb8" stroke-width="0.4"/><path d="M551.4 82.6h0M563.0 116.0h0M534.2 102.6h0M559.7 83.5h0M536.3 92.2h0M546.2 85.7h0M553.8 107.2h0M561.7 113.5h0M568.4 116.1h0M537.9 96.6h0M541.2 89.7h0M552.1 103.3h0M558.6 84.2h0M538.0 102.9h0M550.4 98.2h0M552.4 91.7h0M562.9 108.5h0M552.1 92.9h0M552.0 80.5h0M540.4 103.7h0M536.2 105.7h0M555.0 85.2h0M549.7 98.2h0M559.6 112.5h0M552.8 90.5h0M551.2 102.1h0M563.4 107.6h0M545.1 86.3h0M548.2 92.1h0M539.1 101.6h0M546.3 104.9h0M560.6 96.8h0M573.3 100.2h0M567.4 104.9h0" stroke="#6548c4" stroke-width="1.2" stroke-linecap="round" stroke-opacity="0.85" fill="none"/><path d="M551.4 82.6h0M563.0 116.0h0" stroke="#4a2db2" stroke-width="2.0" stroke-linecap="round" stroke-opacity="0.95" fill="none"/><path d="M562.0 82.7h0M543.0 106.9h0M558.4 124.9h0M557.2 120.2h0M562.8 116.1h0M560.6 100.7h0M559.7 88.4h0M566.6 90.6h0M555.6 124.8h0M550.0 103.5h0M567.9 103.6h0M542.4 107.0h0M561.1 113.6h0M545.6 122.5h0M571.4 103.4h0M557.1 96.4h0M569.1 94.5h0M562.5 96.0h0M544.2 113.6h0M569.3 103.1h0M544.5 114.8h0M552.6 108.2h0M568.6 115.7h0M548.8 124.9h0M553.3 115.1h0M544.2 102.5h0M539.0 119.3h0M567.4 89.4h0M539.7 87.1h0M567.7 97.0h0M552.4 98.2h0M551.7 87.9h0M553.6 84.7h0M552.3 108.2h0" stroke="#8d84cc" stroke-width="0.9" stroke-linecap="round" stroke-opacity="0.6" fill="none"/><ellipse cx="605.2" cy="103.2" rx="24.7" ry="27.0" fill="#d2d6de" stroke="#a7adb9" stroke-width="0.6"/><ellipse cx="605.2" cy="103.8" rx="22.9" ry="25.2" fill="url(#dishg)" stroke="#b3b7c3" stroke-width="0.5"/><path d="M584.0 98.2 A22.2 24.5 0 0 1 600.2 79.2" stroke="#e8eaf0" stroke-width="1.3" fill="none" opacity="0.75"/><rect x="603.7" y="74.7" width="3" height="4" fill="#cdd0d8" stroke="#a9adb8" stroke-width="0.4"/><path d="M611.9 99.6h0M593.1 105.5h0M599.9 122.1h0M615.7 101.5h0M598.8 92.7h0M592.9 98.1h0M609.4 111.2h0M610.4 124.3h0M595.4 103.4h0M622.5 90.4h0M597.8 105.9h0M607.4 109.7h0M601.8 109.0h0M605.9 114.9h0M587.4 94.0h0M605.2 88.4h0M592.2 111.8h0M596.5 112.5h0M615.4 107.8h0M612.5 101.6h0M588.6 102.8h0M611.5 95.1h0M603.8 114.6h0M593.9 112.2h0M623.6 97.2h0M607.4 100.8h0M622.4 107.1h0M616.6 93.6h0M605.0 103.0h0M589.6 117.2h0M614.0 84.3h0M615.5 101.2h0M611.6 108.9h0M588.1 100.5h0M621.8 96.2h0M594.2 87.1h0M590.2 107.7h0M623.1 108.2h0M607.4 125.1h0M598.2 93.2h0M612.5 111.5h0M593.8 88.7h0" stroke="#6548c4" stroke-width="1.2" stroke-linecap="round" stroke-opacity="0.85" fill="none"/><path d="M611.9 99.6h0" stroke="#4a2db2" stroke-width="2.0" stroke-linecap="round" stroke-opacity="0.95" fill="none"/><path d="M609.4 107.2h0M589.4 100.5h0M597.7 110.2h0M603.5 101.8h0M600.7 118.0h0M621.4 98.5h0M615.9 92.6h0M606.2 114.6h0M622.2 98.5h0M604.1 106.4h0M588.0 103.4h0M595.9 108.8h0M595.2 84.0h0M605.8 107.4h0M598.1 115.9h0M601.4 93.9h0M610.4 84.3h0M595.7 102.9h0M616.7 100.8h0M609.5 93.2h0M608.5 122.9h0M599.5 124.8h0M596.2 103.5h0M607.4 117.8h0M594.9 83.9h0M613.1 114.7h0M610.0 125.3h0M608.2 107.3h0M617.4 108.5h0M620.9 90.3h0M602.9 80.4h0M616.1 97.7h0M613.2 123.6h0M605.1 99.1h0M598.6 91.0h0M596.8 112.6h0M605.7 104.3h0M602.9 116.6h0M612.3 101.0h0M614.5 100.9h0M593.4 119.5h0M611.2 89.6h0" stroke="#8d84cc" stroke-width="0.9" stroke-linecap="round" stroke-opacity="0.6" fill="none"/><ellipse cx="658.0" cy="103.2" rx="24.7" ry="27.0" fill="#d2d6de" stroke="#a7adb9" stroke-width="0.6"/><ellipse cx="658.0" cy="103.8" rx="22.9" ry="25.2" fill="url(#dishg)" stroke="#b3b7c3" stroke-width="0.5"/><path d="M636.8 98.2 A22.2 24.5 0 0 1 653.0 79.2" stroke="#e8eaf0" stroke-width="1.3" fill="none" opacity="0.75"/><rect x="656.5" y="74.7" width="3" height="4" fill="#cdd0d8" stroke="#a9adb8" stroke-width="0.4"/><path d="M671.7 108.0h0M644.0 119.0h0M662.4 116.2h0M660.9 100.8h0M642.1 114.2h0M658.4 98.6h0M663.1 104.4h0M667.3 97.6h0M657.7 81.4h0M652.2 113.4h0M673.8 98.5h0M656.6 122.6h0M653.6 114.2h0M676.1 103.7h0M672.4 94.0h0M661.0 101.9h0M659.5 119.0h0M677.6 97.2h0M650.1 110.7h0M644.7 110.1h0M666.0 98.9h0M663.8 84.5h0M666.1 85.1h0M648.7 95.0h0M652.7 115.7h0M659.2 96.9h0M663.9 122.1h0M658.1 109.1h0M673.2 106.8h0M648.5 123.4h0M673.4 87.9h0M657.4 109.8h0M670.1 112.4h0M654.5 88.3h0M659.3 118.0h0M645.5 90.2h0M657.8 82.0h0M654.3 96.3h0M664.1 92.7h0M646.4 97.5h0M657.3 93.0h0M658.2 114.6h0M669.2 121.0h0M647.5 97.0h0M641.5 117.1h0M648.0 102.7h0" stroke="#6548c4" stroke-width="1.2" stroke-linecap="round" stroke-opacity="0.85" fill="none"/><path d="M671.7 108.0h0M644.0 119.0h0" stroke="#4a2db2" stroke-width="2.0" stroke-linecap="round" stroke-opacity="0.95" fill="none"/><path d="M664.1 85.8h0M664.7 102.8h0M639.3 106.5h0M668.8 84.7h0M669.0 106.3h0M664.7 110.0h0M673.7 100.2h0M669.5 97.2h0M667.3 91.7h0M656.8 123.4h0M664.4 100.7h0M644.5 92.9h0M660.6 116.9h0M663.9 111.3h0M657.5 121.0h0M652.5 94.7h0M669.9 104.1h0M654.1 94.3h0M654.4 112.8h0M662.3 86.9h0M664.1 106.0h0M645.7 113.6h0M654.0 97.9h0M667.0 119.6h0M648.6 109.8h0M650.8 124.2h0M652.0 119.2h0M649.6 114.8h0M671.7 85.9h0M651.9 110.9h0M656.7 92.9h0M677.8 104.0h0M641.2 112.8h0M641.7 115.2h0M649.8 105.5h0M673.4 104.8h0M645.4 86.2h0M672.0 112.8h0M647.8 115.0h0M664.8 112.9h0M638.1 100.3h0M669.3 113.4h0M664.9 81.9h0M660.4 110.9h0M677.3 95.2h0M653.2 103.8h0" stroke="#8d84cc" stroke-width="0.9" stroke-linecap="round" stroke-opacity="0.6" fill="none"/><rect x="45.5" y="186.7" width="128.8" height="85.30000000000001" fill="#e6e9f3"/><line x1="95.2" y1="186.7" x2="95.2" y2="272.0" stroke="#ffffff" stroke-width="1.0"/><line x1="133.6" y1="186.7" x2="133.6" y2="272.0" stroke="#ffffff" stroke-width="1.0"/><line x1="45.5" y1="210.2" x2="174.3" y2="210.2" stroke="#ffffff" stroke-width="1.0"/><line x1="45.5" y1="240.9" x2="174.3" y2="240.9" stroke="#ffffff" stroke-width="1.0"/><text x="114.3" y="202.2" font-size="9" font-weight="bold" text-anchor="middle" fill="#222">D<tspan font-size="5" dy="1.6">0</tspan></text><text x="154.2" y="202.2" font-size="9" font-weight="bold" text-anchor="middle" fill="#222">D<tspan font-size="5" dy="1.6">q</tspan></text><text x="70.3" y="228.5" font-size="7.0" text-anchor="middle" font-weight="bold" fill="#111">OE33P</text><text x="70.3" y="259.8" font-size="7.0" text-anchor="middle" font-weight="bold" fill="#111">OE33R</text><text x="114.5" y="228.5" font-size="7.0" text-anchor="middle" fill="#111">2.32</text><text x="154.5" y="228.5" font-size="7.0" text-anchor="middle" fill="#111">0.51</text><text x="114.5" y="259.8" font-size="7.0" text-anchor="middle" fill="#111">2.67</text><text x="154.5" y="259.8" font-size="7.0" text-anchor="middle" fill="#111">1.66</text><line x1="23.3" y1="290.5" x2="23.3" y2="463.4" stroke="#aaaaaa" stroke-width="0.8"/><line x1="23.3" y1="463.4" x2="226.0" y2="463.4" stroke="#333333" stroke-width="0.8"/><line x1="21.5" y1="455.4" x2="23.3" y2="455.4" stroke="#555" stroke-width="0.5"/><text x="20.6" y="456.9" font-size="4.3" text-anchor="end" fill="#555">0</text><line x1="21.5" y1="416.2" x2="23.3" y2="416.2" stroke="#555" stroke-width="0.5"/><text x="20.6" y="417.7" font-size="4.3" text-anchor="end" fill="#555">20</text><line x1="21.5" y1="377.0" x2="23.3" y2="377.0" stroke="#555" stroke-width="0.5"/><text x="20.6" y="378.5" font-size="4.3" text-anchor="end" fill="#555">40</text><line x1="21.5" y1="337.8" x2="23.3" y2="337.8" stroke="#555" stroke-width="0.5"/><text x="20.6" y="339.3" font-size="4.3" text-anchor="end" fill="#555">60</text><line x1="21.5" y1="298.6" x2="23.3" y2="298.6" stroke="#555" stroke-width="0.5"/><text x="20.6" y="300.1" font-size="4.3" text-anchor="end" fill="#555">80</text><line x1="32.5" y1="463.4" x2="32.5" y2="465.2" stroke="#555" stroke-width="0.5"/><text x="32.5" y="469.4" font-size="4.3" text-anchor="middle" fill="#555">−4</text><line x1="78.5" y1="463.4" x2="78.5" y2="465.2" stroke="#555" stroke-width="0.5"/><text x="78.5" y="469.4" font-size="4.3" text-anchor="middle" fill="#555">−2</text><line x1="124.5" y1="463.4" x2="124.5" y2="465.2" stroke="#555" stroke-width="0.5"/><text x="124.5" y="469.4" font-size="4.3" text-anchor="middle" fill="#555">0</text><line x1="170.5" y1="463.4" x2="170.5" y2="465.2" stroke="#555" stroke-width="0.5"/><text x="170.5" y="469.4" font-size="4.3" text-anchor="middle" fill="#555">2</text><line x1="216.5" y1="463.4" x2="216.5" y2="465.2" stroke="#555" stroke-width="0.5"/><text x="216.5" y="469.4" font-size="4.3" text-anchor="middle" fill="#555">4</text><text x="124.5" y="474.6" font-size="6.3" text-anchor="middle" font-weight="bold" fill="#222">logFC</text><text x="0.0" y="0.0" font-size="6.2" text-anchor="middle" font-weight="bold" fill="#222" transform="translate(13.6,371.8) rotate(-90)">-log10(adj.P.Value)</text><path d="M146.1 425.7h0M157.6 423.7h0M84.8 428.9h0M150.9 428.1h0M158.6 428.3h0M166.6 432.3h0M92.8 429.7h0M150.2 422.7h0M81.3 440.9h0M78.9 432.4h0M156.9 409.2h0M90.1 401.2h0M81.5 434.2h0M94.7 427.4h0M86.5 437.1h0M95.8 407.5h0M97.8 411.8h0M95.6 416.2h0M164.0 435.5h0M95.9 430.1h0M80.0 426.1h0M158.6 432.0h0M147.4 410.1h0M156.8 421.6h0M169.9 433.8h0M156.9 429.4h0M153.1 403.8h0M101.5 427.0h0M103.0 399.3h0M79.3 436.4h0M79.1 444.9h0M98.7 430.5h0M97.7 416.8h0M162.2 429.9h0M89.7 427.9h0M147.5 421.4h0M90.3 428.3h0M168.1 415.5h0M158.7 432.9h0M169.6 438.4h0M155.7 425.4h0M161.1 434.6h0M152.8 430.7h0M148.1 415.5h0M168.1 426.8h0M156.4 385.2h0M78.8 441.9h0M150.6 414.2h0M103.7 432.0h0M98.9 421.6h0M146.1 431.3h0M146.7 404.9h0M157.8 422.3h0M84.5 426.1h0M170.3 444.2h0M87.2 424.0h0M98.6 423.8h0M161.1 420.8h0M146.8 419.7h0M158.9 425.8h0M100.2 416.2h0M81.2 438.3h0M145.6 413.0h0M83.7 429.1h0M149.1 417.0h0M169.0 432.9h0M99.3 431.1h0M81.5 429.1h0M87.8 416.5h0M149.0 424.2h0M82.3 438.4h0M148.9 401.0h0M94.5 407.3h0M91.2 406.2h0M165.7 435.0h0M163.4 426.3h0M95.1 422.1h0M170.2 396.9h0M85.5 435.0h0M85.7 436.4h0M101.5 427.5h0M164.5 410.9h0M154.5 391.4h0M91.5 430.2h0M160.6 433.0h0M163.3 430.0h0M159.1 421.7h0M79.6 436.0h0M83.0 399.5h0M165.6 421.3h0M93.0 428.6h0M149.0 423.9h0M95.6 414.1h0M145.7 426.1h0M161.6 402.0h0M78.6 444.8h0M159.0 423.8h0M157.6 428.3h0M145.6 423.9h0M157.9 424.4h0M87.8 432.0h0M101.9 432.0h0M90.4 421.4h0M169.7 432.2h0M101.8 423.0h0M80.5 422.8h0M99.1 427.3h0M165.9 418.3h0M150.1 425.2h0M152.0 425.7h0M155.3 424.6h0M160.9 413.9h0M87.3 423.4h0M145.7 423.2h0M149.3 428.0h0M164.1 430.5h0M159.9 430.1h0M90.0 430.5h0M169.3 407.1h0M88.9 430.4h0M170.2 411.0h0M157.4 420.5h0M84.9 437.6h0M83.7 409.6h0M94.6 423.3h0M97.5 418.6h0M167.3 414.4h0M84.2 425.4h0M85.8 421.0h0M164.5 432.0h0M159.6 433.7h0M84.2 429.8h0M154.0 421.6h0M149.3 427.7h0M99.1 420.1h0M80.7 437.5h0M102.5 425.1h0M85.4 436.5h0M88.0 419.9h0M103.5 431.9h0M82.9 440.2h0M99.4 420.3h0M87.8 433.5h0M100.5 429.4h0M170.4 442.2h0M78.5 427.7h0M84.0 413.2h0M160.0 426.8h0M96.3 405.7h0M168.4 411.0h0M103.3 424.6h0M154.8 431.0h0M156.7 430.5h0M85.9 416.3h0M100.3 422.2h0M164.6 422.1h0M147.9 431.5h0M90.8 430.4h0M81.3 423.9h0M168.3 437.7h0M93.0 430.8h0M159.8 424.3h0M81.2 442.6h0M167.3 424.6h0M154.6 406.8h0M91.4 432.5h0M91.2 417.1h0M149.2 399.5h0M160.8 383.5h0M161.3 429.5h0M81.2 422.6h0M164.8 439.0h0M89.0 425.8h0M96.2 428.1h0M153.7 398.2h0M88.9 434.6h0M153.6 424.8h0M153.8 417.8h0M92.0 424.5h0M166.7 436.6h0M96.2 425.5h0M158.5 425.6h0M167.1 439.5h0M151.2 423.3h0M157.5 423.3h0M150.3 430.6h0M158.5 412.3h0M86.9 435.1h0M91.8 424.3h0M88.7 363.0h0M148.1 419.8h0M97.1 422.5h0M148.6 426.5h0M150.0 421.5h0M88.7 427.0h0M81.1 383.7h0M86.5 417.5h0M152.0 414.5h0M88.3 423.0h0M84.0 439.6h0M156.7 420.6h0M92.3 397.0h0M150.3 424.0h0M99.9 430.5h0M152.8 406.1h0M98.8 429.3h0M166.3 422.7h0M83.4 437.3h0M96.9 417.5h0M78.8 429.3h0M103.4 431.3h0M95.7 431.2h0M96.2 371.9h0M167.9 438.7h0M146.9 432.2h0M95.9 424.4h0M96.2 430.8h0M81.2 441.2h0M166.2 431.6h0M96.9 429.4h0M164.3 438.9h0M83.6 419.7h0M163.0 391.2h0M87.7 433.5h0M146.7 430.6h0M152.5 425.1h0M161.1 426.9h0M98.9 412.4h0M163.7 430.6h0M96.5 431.1h0M154.8 406.9h0M167.6 430.6h0M153.5 428.6h0M146.4 431.1h0M163.4 391.6h0M154.4 430.7h0M80.3 438.6h0M78.9 439.5h0M82.7 424.0h0M99.8 428.2h0M164.7 439.0h0M161.3 430.8h0M88.0 366.0h0M157.2 425.7h0M79.9 390.0h0M82.4 428.5h0M93.7 388.9h0M100.9 430.5h0M168.8 412.0h0M151.3 422.2h0M88.8 413.8h0M146.0 410.7h0M101.2 396.1h0M161.3 432.1h0M95.8 381.2h0M83.6 428.0h0M146.7 430.0h0M159.5 432.7h0M79.7 430.4h0M102.4 429.1h0M169.2 414.8h0M78.9 444.7h0M151.6 419.9h0M93.2 416.1h0M162.9 376.0h0M81.8 440.7h0M153.4 420.9h0M98.7 410.0h0M169.2 419.1h0M96.3 427.1h0M164.0 437.1h0M167.5 412.4h0M150.0 430.1h0M162.4 415.0h0M166.1 425.9h0M85.8 416.2h0M146.4 431.6h0M156.4 405.1h0M154.1 421.3h0M166.7 392.3h0M151.0 405.2h0M90.4 387.4h0M162.8 418.2h0M166.7 429.1h0M165.3 430.9h0M162.0 420.2h0M96.8 426.3h0M150.0 422.3h0M145.6 425.8h0M99.0 417.3h0M102.3 429.1h0M157.5 430.4h0M94.2 398.0h0M92.5 429.0h0M91.5 422.7h0M163.5 437.0h0M86.8 390.5h0M148.3 406.1h0M89.1 431.4h0M158.2 419.2h0M158.4 422.8h0M91.8 419.5h0M165.5 437.3h0M88.9 435.0h0M102.0 421.0h0M168.1 441.8h0M78.9 414.5h0M154.8 417.4h0M166.0 432.7h0M165.2 416.4h0M164.4 416.0h0M92.7 394.0h0M87.9 428.2h0M98.9 427.5h0M85.6 382.4h0M93.7 430.6h0M88.9 391.5h0M148.5 426.8h0M81.8 441.9h0M82.0 394.9h0M90.9 424.6h0M154.9 401.4h0M85.2 430.1h0M84.4 431.5h0M166.9 442.1h0M165.3 433.0h0M160.8 430.4h0M147.4 420.4h0M168.4 422.9h0M155.0 412.6h0M145.9 428.2h0M80.4 434.1h0M80.0 424.1h0M103.0 424.4h0M150.8 425.6h0M94.5 428.5h0M166.1 415.4h0M97.7 430.9h0M145.5 426.2h0M95.2 422.8h0M86.6 426.9h0M149.6 429.6h0M88.7 409.6h0M101.0 422.6h0M154.5 396.0h0M87.3 436.4h0M152.4 425.7h0M88.1 408.1h0M153.1 426.2h0M155.7 431.7h0M153.4 420.8h0M102.3 429.7h0M100.6 423.4h0M86.8 413.8h0M101.9 429.1h0M99.3 417.3h0M87.4 428.8h0M157.0 412.6h0M167.8 420.8h0M94.8 415.2h0M88.7 421.9h0M101.5 420.2h0M156.0 426.1h0M157.7 409.1h0M82.6 425.2h0M152.8 398.4h0M169.0 440.0h0M100.1 427.3h0M97.4 390.8h0M163.6 437.8h0M169.4 437.0h0M150.1 421.9h0M84.1 428.7h0M89.7 426.2h0M166.1 431.4h0M82.5 369.8h0M79.0 441.0h0M157.8 420.4h0M88.8 430.1h0M156.6 409.5h0M158.2 419.2h0M98.0 430.8h0M86.2 411.8h0M102.2 428.5h0M79.9 426.5h0M95.5 423.6h0M94.0 430.9h0M89.7 428.4h0M160.2 430.7h0M155.5 432.0h0M152.2 420.9h0M153.7 413.0h0M151.8 392.3h0M163.7 429.2h0M154.6 412.6h0M147.5 397.4h0M102.9 433.1h0M88.0 430.1h0M147.2 402.7h0M99.0 421.9h0M145.9 411.6h0M160.4 431.4h0M162.2 427.6h0M150.4 426.8h0M79.0 432.9h0M149.6 430.8h0M155.9 430.6h0M151.7 430.2h0M80.1 430.2h0M162.1 430.5h0M92.0 405.2h0M84.7 421.7h0M88.9 422.3h0M153.8 431.0h0M145.6 427.2h0M155.4 378.2h0M149.3 425.9h0M103.3 432.5h0M146.0 430.6h0M163.8 435.6h0M100.3 426.6h0M100.3 401.4h0M159.0 414.1h0M94.9 419.9h0M163.5 431.4h0M103.6 426.4h0M100.3 428.1h0M79.5 436.3h0M151.8 400.5h0M81.2 422.4h0M154.6 403.0h0M162.9 434.0h0M80.4 440.6h0M98.4 429.0h0M165.9 430.3h0M93.9 419.5h0M99.9 427.0h0M165.1 437.2h0M163.3 436.6h0M80.0 427.6h0M163.2 418.2h0M101.5 426.8h0M81.4 401.2h0M147.5 431.4h0M158.8 426.5h0M155.3 420.2h0M93.3 429.5h0M146.2 430.7h0M101.8 418.5h0M147.7 424.3h0M86.4 436.2h0M153.0 419.5h0M82.5 421.8h0M98.7 407.3h0M89.0 396.7h0M94.0 431.4h0M146.0 428.5h0M151.5 426.5h0M80.5 433.2h0M169.5 444.3h0M162.7 375.2h0M167.7 424.4h0M88.4 435.3h0M103.0 433.1h0M170.0 443.7h0M81.8 425.8h0M84.8 416.7h0M156.6 429.4h0M84.8 432.6h0M95.0 424.6h0M87.2 409.5h0M94.8 399.4h0M92.2 413.0h0M156.9 425.5h0M167.4 439.8h0M89.5 401.7h0M79.3 433.3h0M83.1 436.9h0M147.4 427.7h0M161.7 417.0h0M162.7 428.7h0M147.6 403.0h0M91.2 429.7h0M165.7 417.3h0M102.1 424.8h0M100.6 430.0h0M78.5 437.0h0M103.0 421.3h0M149.1 428.6h0M97.9 366.1h0M154.9 414.4h0M101.0 420.9h0M163.6 438.5h0M84.9 410.2h0M78.6 438.5h0M96.3 431.4h0M81.8 426.1h0M87.7 433.0h0M98.2 420.7h0M158.0 382.8h0M158.8 433.6h0M160.3 413.8h0M91.1 430.2h0M155.8 429.0h0M156.9 423.1h0M81.0 402.6h0M161.3 425.5h0M167.6 412.6h0M147.5 423.0h0M150.5 430.4h0M154.5 429.4h0M159.2 416.8h0M95.7 427.9h0M85.5 430.9h0" stroke="#c4c4c4" stroke-width="2.0" stroke-linecap="round" stroke-opacity="0.5" fill="none"/><path d="M202.9 453.6h0M146.6 453.9h0M184.2 454.4h0M73.4 453.8h0M106.9 454.2h0M66.2 453.7h0M72.6 454.3h0M103.1 454.6h0M55.1 455.4h0M197.6 453.7h0M40.1 453.7h0M39.5 454.7h0M186.7 454.3h0M133.7 454.4h0M147.9 455.0h0M139.7 454.3h0M110.8 454.8h0M113.2 454.4h0M36.8 454.5h0M75.8 454.6h0M173.0 455.2h0M65.5 454.2h0M119.6 455.0h0M111.7 455.0h0M49.4 454.2h0M40.0 454.9h0M149.6 453.9h0M175.6 454.5h0M126.6 454.2h0M102.0 455.0h0M207.5 454.0h0M215.8 453.8h0M167.2 455.1h0M213.1 454.8h0M123.0 453.1h0M62.9 454.8h0M177.6 455.0h0M97.1 455.2h0M171.6 454.2h0M83.1 453.5h0M182.6 454.6h0M201.8 454.4h0M70.8 455.3h0M91.2 454.1h0M39.3 455.1h0M204.8 454.8h0M157.6 454.9h0M176.9 455.0h0M53.7 453.9h0M98.7 455.1h0M193.1 454.1h0M194.9 454.9h0M51.7 453.9h0M105.0 455.3h0M179.3 455.1h0M138.7 452.1h0M98.8 455.3h0M65.0 454.2h0M169.3 453.5h0M79.2 454.8h0M150.1 454.0h0M154.6 455.3h0M90.0 455.1h0M60.0 455.4h0M145.9 454.2h0M197.3 454.9h0M56.8 455.2h0M36.6 453.8h0M33.0 455.1h0M98.2 455.0h0M73.8 454.2h0M70.1 454.7h0M147.3 454.8h0M204.8 455.3h0M77.3 455.1h0M149.9 455.0h0M192.8 455.2h0M81.1 454.3h0M34.6 454.6h0M97.0 454.3h0M151.3 453.0h0M167.5 454.5h0M78.2 455.1h0M130.3 455.2h0M107.2 455.4h0M175.8 455.0h0M34.8 453.0h0M58.7 454.6h0M69.2 454.4h0M150.5 454.6h0M182.2 455.0h0M87.7 454.6h0M41.4 454.0h0M164.1 454.2h0M33.7 454.4h0M118.1 453.9h0M169.0 454.7h0M51.9 455.2h0M75.2 454.5h0M170.4 455.2h0M160.4 454.4h0M81.4 454.0h0M134.4 453.7h0M128.8 454.7h0M81.3 453.6h0M72.4 453.2h0M194.4 454.6h0M75.9 455.3h0M169.4 453.7h0M92.6 454.8h0M194.5 455.0h0M199.5 454.7h0M148.5 454.8h0M212.6 453.9h0M118.9 454.5h0M190.3 454.0h0M112.9 455.2h0M89.1 454.0h0M71.5 455.1h0M200.1 455.1h0M59.1 454.9h0M203.4 455.3h0M96.0 455.2h0M40.2 455.2h0M159.9 454.3h0M168.1 454.2h0M44.6 454.5h0M182.9 454.8h0M183.3 455.1h0M192.2 455.1h0M200.8 454.9h0M70.4 455.2h0M53.1 453.4h0M181.9 455.0h0M149.2 454.7h0M85.4 454.0h0M50.9 453.9h0M70.2 454.4h0M91.2 455.2h0M79.7 455.3h0M84.5 455.2h0M91.5 454.4h0M209.9 453.3h0M146.3 455.4h0M38.2 454.4h0M174.7 454.8h0M96.3 455.0h0M72.3 454.1h0M191.2 453.7h0M63.8 454.3h0M32.7 454.9h0M212.4 453.7h0M33.3 454.1h0M179.1 455.3h0M66.5 454.4h0M185.6 455.4h0M80.4 454.6h0M72.0 455.1h0M161.2 454.9h0M149.6 455.4h0M47.4 455.0h0M177.3 453.8h0M148.0 454.7h0M105.1 454.5h0M196.3 453.5h0M37.1 454.2h0M70.4 455.2h0M124.7 453.1h0M102.3 454.8h0M117.3 454.9h0M130.3 455.3h0M151.4 453.6h0M96.6 455.1h0M187.6 454.8h0M154.3 455.4h0M113.2 454.7h0M174.8 454.9h0M117.5 455.1h0M195.4 455.3h0M88.0 454.7h0M161.9 455.1h0M61.2 454.9h0M78.1 454.8h0M62.1 454.2h0M92.9 454.3h0M166.6 452.7h0M51.2 454.9h0M103.2 455.3h0M213.5 454.9h0M112.5 453.7h0M68.6 455.1h0M70.5 455.0h0M104.0 454.3h0M178.0 455.2h0M160.1 453.9h0M117.7 455.4h0M58.6 454.5h0M168.8 454.7h0M199.6 454.1h0M170.3 454.8h0M110.0 455.2h0M194.4 453.7h0M174.9 454.7h0M157.5 453.4h0M150.5 454.5h0M148.1 455.1h0M50.5 453.8h0M163.7 454.5h0M148.3 455.4h0M116.3 454.3h0M146.9 454.0h0M203.7 454.5h0M66.2 454.3h0M104.0 453.9h0M122.6 455.1h0M132.5 455.4h0M62.1 454.9h0M128.0 452.9h0M51.1 454.2h0M164.5 454.8h0M126.7 454.1h0M128.5 453.8h0M108.0 454.7h0M158.4 455.2h0M104.7 455.4h0M213.6 454.9h0M97.9 454.6h0M106.0 455.1h0M34.9 454.4h0M161.0 454.8h0M97.3 455.3h0M168.9 454.6h0M205.4 454.7h0M180.0 455.3h0M104.6 455.3h0M175.4 454.8h0M181.5 454.6h0M135.9 454.5h0M74.1 454.4h0M150.0 455.2h0M183.1 454.9h0M86.7 454.3h0M133.4 454.0h0M97.8 454.0h0M189.0 455.3h0M79.2 454.4h0M110.9 455.4h0M165.3 455.3h0M84.2 455.4h0M120.7 454.5h0M111.3 454.4h0M99.2 454.2h0M203.4 455.2h0M184.8 455.1h0M199.2 455.3h0M185.5 454.8h0M149.0 455.2h0M207.6 455.4h0M153.2 455.4h0M58.8 454.9h0M75.5 455.2h0M60.6 454.4h0M198.9 455.2h0M196.5 454.8h0M144.4 455.1h0M197.0 453.8h0M177.5 455.0h0M160.0 454.8h0M130.2 455.3h0M194.9 454.2h0M134.6 455.3h0M58.1 454.6h0M123.2 454.3h0M59.1 455.0h0M122.9 454.1h0M191.3 455.4h0M33.7 454.7h0M136.0 454.4h0M154.9 454.8h0M109.6 454.5h0M209.3 454.0h0M149.5 454.7h0M37.7 454.1h0M203.9 454.4h0M93.3 454.1h0M121.7 455.3h0M197.7 453.7h0M147.6 455.0h0M94.8 454.7h0M119.8 454.6h0M129.2 455.3h0M112.6 454.7h0M110.2 453.5h0M86.4 454.7h0M184.8 454.4h0M82.5 454.7h0M125.7 453.8h0M178.2 455.2h0M93.4 455.0h0M140.4 454.6h0M149.3 455.3h0M165.5 455.1h0M195.5 455.1h0M87.8 455.3h0M33.6 454.5h0M144.5 453.1h0M153.6 454.8h0M145.1 453.1h0M146.0 454.2h0M142.2 454.2h0M157.8 455.0h0M116.7 453.8h0M172.8 454.9h0M39.3 455.0h0M175.0 454.0h0M100.4 454.6h0M183.9 455.1h0M80.0 454.1h0M88.1 454.6h0M111.7 455.0h0M150.6 455.1h0M136.9 455.3h0M39.7 454.0h0M138.4 454.1h0M201.5 455.2h0M103.7 455.3h0M141.4 452.6h0M120.0 454.2h0M108.4 454.2h0M71.6 454.5h0M60.4 455.3h0M158.3 455.4h0M54.9 454.9h0M192.5 455.3h0M56.2 453.7h0M77.1 455.2h0M167.5 455.3h0M174.9 455.1h0M163.8 454.3h0M48.0 454.0h0M148.2 455.1h0M204.1 454.2h0M79.2 453.7h0M34.6 455.0h0M35.2 454.2h0M47.2 453.8h0M89.7 455.3h0M190.9 454.8h0M122.0 454.4h0M138.3 455.0h0M113.2 455.1h0M179.2 454.9h0M99.3 454.5h0M109.4 454.2h0M103.5 454.8h0M176.9 452.9h0M136.8 455.3h0M211.7 455.0h0M161.9 454.9h0M144.0 454.5h0M212.4 454.7h0M89.3 454.1h0M111.4 454.6h0M158.5 454.7h0M143.2 453.8h0M84.6 454.2h0M32.8 455.3h0M140.4 454.3h0M182.6 455.2h0M185.8 455.2h0M181.9 454.5h0M82.9 454.4h0M189.1 454.8h0M200.6 453.9h0M96.3 454.2h0M179.2 454.7h0M69.4 455.4h0M75.6 452.9h0M144.2 454.9h0M70.5 454.3h0M79.4 455.4h0M117.1 453.5h0M48.6 454.8h0M75.3 453.7h0M139.1 453.6h0M128.5 454.0h0M120.2 454.8h0M67.9 455.0h0M65.7 455.1h0M136.4 454.4h0M106.6 454.8h0M40.7 455.3h0M216.0 455.0h0M148.9 455.0h0M177.4 454.6h0M96.0 454.2h0M128.1 455.1h0M214.7 455.4h0M191.9 454.0h0M80.6 455.3h0M175.9 453.1h0M173.7 454.2h0M183.2 454.6h0M39.5 455.2h0M69.5 455.2h0M41.9 455.0h0M135.1 454.6h0M206.8 454.5h0M199.9 454.1h0M105.6 454.8h0M54.6 454.6h0M136.4 455.2h0M150.4 453.9h0M104.8 455.0h0M115.0 453.9h0M215.0 453.0h0M73.3 454.6h0M97.3 455.2h0M198.6 453.7h0M41.2 454.2h0M177.2 455.0h0M213.8 453.9h0M42.8 454.3h0M205.3 454.0h0M157.0 455.0h0M172.0 454.0h0M51.9 455.0h0M55.3 454.7h0M121.1 455.0h0M58.8 454.7h0M157.2 453.7h0M68.4 455.3h0M39.1 454.7h0M204.4 455.1h0M192.0 454.9h0M114.8 455.0h0M50.3 453.5h0M148.1 454.5h0M115.7 454.3h0M120.4 453.7h0M148.1 454.9h0M42.9 454.8h0M163.8 454.8h0M192.7 455.2h0M81.5 454.9h0M82.4 455.1h0M187.0 455.1h0M122.8 454.8h0M91.0 455.0h0M212.6 455.1h0M43.0 454.1h0M71.4 454.4h0M120.4 455.2h0M69.6 454.6h0M99.5 451.6h0M202.7 455.2h0M50.5 454.8h0M43.1 453.2h0M166.2 454.6h0M35.4 452.5h0M181.0 455.1h0M32.9 454.9h0M185.6 454.7h0M112.6 455.3h0M200.3 455.1h0M57.9 454.0h0M65.6 455.2h0M68.7 453.7h0M47.1 454.1h0M123.7 454.6h0M82.9 455.0h0M162.7 454.0h0M181.8 454.8h0M44.6 455.0h0M167.3 454.0h0M42.7 454.5h0M181.7 454.3h0M191.6 453.6h0M123.2 453.0h0M120.2 455.2h0M193.0 455.3h0M185.5 454.7h0M100.0 454.9h0M142.0 454.5h0M33.4 454.2h0M127.4 455.3h0M54.7 455.0h0M191.7 453.5h0M91.6 455.1h0M170.7 454.4h0M43.8 453.5h0M123.5 453.5h0M126.9 454.1h0M36.3 455.1h0M210.5 455.3h0M51.4 454.7h0M78.6 455.3h0M50.3 455.2h0M161.1 455.3h0M142.8 455.2h0M138.6 453.7h0M51.4 455.2h0M192.5 455.3h0M55.1 455.1h0M123.3 454.5h0M55.0 455.4h0M107.1 454.5h0M190.9 454.3h0M59.6 453.8h0M62.7 454.6h0M184.5 454.4h0M109.9 455.0h0M187.0 454.3h0M205.7 455.2h0M175.5 455.0h0M94.2 454.7h0M112.6 453.5h0M200.4 455.2h0M182.5 455.2h0M127.7 455.1h0M208.7 454.7h0M110.2 455.1h0M148.9 454.5h0M45.2 454.4h0M112.2 455.2h0M58.2 455.4h0M210.9 455.0h0M149.0 452.9h0M181.4 453.7h0M38.8 453.9h0M150.5 455.2h0M82.8 453.8h0M132.3 454.1h0M78.6 454.7h0M128.2 453.0h0M85.4 454.3h0M88.7 455.1h0M141.8 455.0h0M208.4 454.6h0M118.3 455.3h0M130.7 455.1h0M56.7 455.0h0M86.5 454.7h0M77.3 454.9h0M48.7 453.4h0M144.7 454.8h0M137.4 455.0h0M163.2 454.8h0M117.3 454.0h0M118.8 455.0h0M89.6 455.4h0M126.8 454.6h0M103.0 455.3h0M97.4 455.3h0M191.1 455.3h0M122.9 454.0h0M84.9 454.5h0M174.6 455.3h0M61.7 453.4h0M113.5 454.5h0M43.9 454.5h0M167.8 454.6h0M52.6 455.0h0M168.4 452.7h0M60.9 454.9h0M156.8 454.5h0M145.9 454.2h0M127.8 453.8h0M168.4 455.3h0M119.9 453.6h0M176.9 454.8h0M55.9 453.1h0M192.7 453.6h0M140.3 455.4h0M124.1 454.0h0M109.4 455.1h0M176.7 454.4h0M102.3 454.3h0M115.7 453.7h0M86.4 454.9h0M104.4 454.4h0M91.7 455.0h0M177.3 454.7h0M114.2 454.4h0M66.4 455.2h0M138.4 454.8h0M139.5 453.3h0M92.1 454.1h0M187.7 454.0h0M70.1 453.1h0M111.0 455.3h0M41.2 455.3h0M136.4 453.0h0M174.8 455.4h0M131.6 454.1h0M127.7 455.4h0M158.6 454.6h0M141.9 454.8h0M97.1 453.9h0M129.1 454.9h0M50.7 454.6h0M135.8 454.6h0M138.1 453.4h0M122.1 453.5h0M113.5 452.9h0M95.7 452.9h0M130.0 455.1h0M91.0 454.8h0M212.5 454.8h0M52.8 454.3h0M197.1 454.7h0M214.7 453.5h0M195.9 454.8h0M85.8 455.1h0M126.6 454.7h0M66.1 455.4h0M148.4 454.6h0M215.3 454.8h0M149.6 454.3h0M177.4 455.1h0M88.9 455.4h0M88.5 455.3h0M187.5 454.0h0M68.7 454.6h0M124.1 454.6h0M151.5 455.1h0M130.3 454.0h0M108.1 455.4h0M54.9 454.4h0M52.1 453.9h0M50.9 454.8h0M184.0 454.2h0M145.3 455.3h0M34.8 455.0h0M174.3 454.6h0M97.6 453.9h0M63.7 455.3h0M198.8 454.9h0M139.6 454.7h0M103.5 454.4h0M42.6 454.3h0M209.1 454.5h0M113.4 454.8h0M40.6 454.8h0M203.8 454.8h0M197.9 454.7h0M182.6 454.9h0M209.1 454.0h0M123.7 454.6h0M104.2 455.2h0M164.7 455.2h0M193.6 454.5h0M121.6 455.2h0M64.4 454.6h0M98.4 454.3h0M86.0 452.7h0M135.8 454.4h0M103.4 454.5h0M106.7 454.9h0M184.5 455.2h0M97.1 455.4h0M84.7 454.7h0M76.1 453.8h0M95.3 455.1h0M61.2 455.3h0M82.1 454.9h0M186.1 454.6h0M186.4 454.6h0M180.6 454.9h0M165.4 454.6h0M101.8 454.7h0M207.5 455.2h0M125.4 455.2h0M56.6 454.2h0M162.5 455.2h0M140.6 453.1h0M100.2 455.4h0M71.6 453.9h0M193.0 454.5h0M132.3 454.5h0M82.3 455.3h0M153.5 454.3h0M137.0 455.0h0M48.3 454.4h0M65.1 454.8h0M154.4 454.6h0M52.5 454.5h0M124.6 455.0h0M87.1 454.5h0M74.2 455.0h0M55.7 455.2h0M106.7 454.5h0M199.7 455.1h0M191.0 453.2h0M56.8 455.4h0M157.6 455.1h0M154.6 454.7h0M153.8 454.5h0M161.2 455.4h0M97.3 453.3h0M148.2 455.2h0M200.4 454.9h0M167.6 455.3h0M39.9 455.1h0M62.3 455.1h0M102.6 454.5h0M39.7 454.8h0M65.6 454.0h0M187.0 453.9h0M79.4 454.7h0M112.5 455.0h0M32.7 454.5h0M186.0 455.3h0M40.4 454.5h0M189.7 455.1h0M77.5 455.2h0M53.0 455.2h0M200.8 454.7h0M170.4 454.0h0M104.9 454.5h0M170.1 455.0h0M49.0 454.6h0M206.6 453.2h0M159.8 454.3h0M168.4 454.7h0M115.8 454.1h0M42.5 455.0h0M126.7 454.3h0M203.3 454.1h0M40.5 454.1h0M161.8 455.1h0M133.0 454.6h0M210.9 454.5h0M78.4 454.4h0M43.4 454.7h0M69.6 454.5h0M89.6 454.3h0M155.8 454.1h0M76.3 455.3h0M114.4 454.1h0M204.7 454.9h0M195.3 454.7h0M58.6 454.5h0M182.5 455.0h0M133.4 455.4h0M155.1 454.7h0M142.7 453.6h0M185.4 455.0h0M53.6 455.2h0M70.5 454.4h0M43.6 455.3h0M161.6 454.7h0M114.9 454.7h0M118.7 454.8h0M99.3 455.2h0M34.5 455.0h0M215.1 455.4h0M164.5 454.9h0M212.9 454.9h0M122.5 455.2h0M112.4 454.9h0M34.0 454.1h0M201.7 454.5h0M204.6 454.2h0M152.6 455.4h0M58.0 454.6h0M37.6 455.1h0M87.0 453.4h0M66.7 454.1h0M203.0 453.8h0M63.5 455.0h0M169.1 453.4h0M92.6 454.6h0M91.4 453.6h0M100.3 454.4h0M185.5 455.1h0M76.5 454.1h0M148.1 455.0h0M183.3 454.8h0M206.4 453.2h0M123.5 454.8h0M87.6 455.4h0M139.4 454.0h0M62.6 454.6h0M114.0 454.9h0M39.8 455.3h0M113.4 454.8h0M33.0 453.8h0M187.2 454.2h0M110.8 453.9h0M84.6 454.7h0M110.0 454.3h0M94.8 453.9h0M184.5 454.8h0M198.8 454.9h0M114.0 454.6h0M136.2 455.0h0M48.1 454.8h0M92.1 452.6h0M199.7 454.7h0M191.7 452.7h0M146.6 455.0h0M181.8 453.9h0M144.6 454.8h0M87.2 453.0h0M121.0 454.2h0M151.6 455.1h0M195.4 454.5h0M37.6 454.8h0M114.8 453.9h0M48.2 454.8h0M139.4 454.5h0M109.1 454.0h0M105.4 455.1h0M53.5 454.4h0M133.4 453.3h0M53.2 454.9h0M50.0 454.8h0M130.2 455.4h0M134.4 454.2h0M74.2 454.9h0M126.9 455.2h0M140.8 454.4h0M46.0 454.9h0M113.4 454.5h0M164.0 454.4h0M171.8 452.9h0M165.3 453.2h0M51.3 454.9h0M64.0 454.5h0M209.1 453.7h0M57.7 454.7h0M175.3 454.7h0M101.0 455.1h0M35.3 454.8h0M87.7 455.0h0M162.7 453.4h0M146.8 454.4h0M193.0 453.2h0M192.7 454.5h0M63.4 455.4h0M173.0 454.4h0M157.7 455.1h0M101.1 454.9h0M168.2 453.8h0M40.5 454.8h0M143.6 454.3h0M180.3 454.6h0M53.3 454.0h0M79.3 454.7h0M68.0 453.5h0M139.5 454.7h0M53.4 454.9h0M179.8 455.3h0M66.6 454.6h0M158.9 455.1h0M102.6 454.0h0M131.6 453.7h0M159.4 454.5h0M35.0 452.9h0M95.5 454.7h0M193.1 454.4h0M179.8 454.7h0M183.1 455.2h0M157.5 454.4h0M61.6 454.6h0M188.0 453.7h0M144.9 454.0h0M46.5 455.0h0M197.0 454.7h0M140.9 454.8h0M98.9 455.2h0M118.6 454.5h0M97.6 454.9h0M33.6 454.5h0M36.3 454.9h0M117.0 455.1h0M59.3 455.4h0M156.0 455.3h0M124.5 454.5h0M80.7 454.2h0M208.6 454.8h0M215.1 454.0h0M174.3 455.1h0M193.0 455.2h0M149.3 453.9h0M99.3 455.0h0M193.1 453.5h0M205.2 455.0h0M173.0 454.6h0M168.6 453.9h0M97.0 455.3h0M133.8 455.1h0M94.5 455.2h0M92.0 454.2h0M100.1 455.3h0M77.3 455.3h0M57.5 454.4h0M33.8 454.6h0M114.5 454.5h0M137.1 455.2h0M44.7 454.8h0M88.0 454.8h0M133.9 453.8h0M205.0 454.1h0M139.8 453.4h0M47.2 454.8h0M214.2 454.1h0M98.2 455.2h0M192.3 454.3h0M45.0 453.1h0M83.3 455.2h0M79.9 454.8h0M81.8 455.3h0M162.1 455.2h0M69.4 454.3h0M143.4 454.4h0M68.7 454.2h0M167.5 454.0h0M47.1 455.1h0M181.4 454.7h0M57.6 454.7h0M67.1 453.3h0M150.2 454.9h0M202.3 455.2h0M170.4 454.5h0M151.9 454.1h0M94.7 454.5h0M43.1 455.1h0M147.7 455.2h0M94.1 453.9h0M79.8 455.3h0M117.8 453.0h0M136.3 455.2h0M214.2 454.0h0M165.7 454.9h0M93.1 454.9h0M58.7 455.1h0M173.7 453.7h0M110.4 454.3h0M131.6 454.2h0M153.5 454.7h0M143.2 454.5h0M79.9 453.9h0M163.4 455.2h0M89.4 453.5h0M174.7 454.2h0M83.7 455.2h0M128.8 454.9h0M34.2 455.2h0M120.0 454.4h0M99.2 453.9h0M214.6 455.2h0M49.0 453.6h0M37.6 455.1h0M124.8 455.1h0M134.7 454.3h0M99.8 453.1h0M60.0 454.6h0M202.0 453.8h0M62.3 453.6h0M77.1 455.1h0M213.2 453.9h0M95.8 455.4h0M179.8 454.5h0M198.7 455.2h0M52.3 455.4h0M151.3 455.0h0M106.4 455.2h0M136.3 455.1h0M107.9 453.1h0M147.9 454.1h0M73.7 455.4h0M112.3 454.6h0M75.1 454.9h0M150.8 453.7h0M87.4 454.6h0M137.3 455.4h0M61.3 454.0h0M81.7 453.8h0M170.8 455.0h0M93.5 454.6h0M121.8 454.9h0M158.1 455.0h0M142.5 454.0h0M194.9 455.0h0M71.1 454.6h0M176.0 454.7h0M191.4 454.5h0M215.5 453.4h0M87.3 454.9h0M211.8 455.3h0M34.2 454.9h0M167.9 455.1h0M50.4 454.6h0M49.1 454.0h0M95.0 453.9h0M194.8 454.6h0M212.8 454.6h0M178.2 455.2h0M159.4 454.2h0M75.1 455.1h0M111.7 455.2h0M214.8 455.3h0M90.7 455.0h0M122.2 455.0h0M57.5 454.8h0M158.6 455.1h0M59.7 455.3h0M53.2 454.1h0M97.6 453.0h0M96.8 455.3h0M72.1 453.2h0M167.1 454.9h0M82.7 455.0h0M45.2 454.6h0M40.4 454.3h0M134.9 455.3h0M99.2 453.8h0M152.7 455.3h0M132.6 453.8h0M213.3 454.9h0M193.3 455.2h0M91.1 454.3h0M109.6 454.3h0M103.4 455.2h0M107.9 453.0h0M33.5 452.4h0M144.3 454.7h0M144.9 455.0h0M101.9 455.4h0M53.9 454.7h0M187.6 454.9h0M41.6 453.1h0M160.2 454.7h0M133.5 454.0h0M90.6 455.4h0M169.8 455.4h0M189.5 454.0h0M215.5 455.3h0M75.6 454.2h0M102.2 454.1h0M163.5 454.4h0M145.3 454.6h0M157.1 454.7h0M132.4 454.0h0M73.6 454.8h0M199.7 454.9h0M119.6 455.2h0M120.2 454.1h0M73.2 453.9h0M129.8 453.5h0M128.9 453.5h0M76.4 455.1h0M64.2 454.9h0M150.4 454.3h0M184.7 453.7h0M40.5 454.1h0M102.7 454.4h0M55.1 453.7h0M60.8 455.4h0M98.1 454.9h0M180.3 454.2h0M48.7 455.2h0M105.3 453.7h0M115.2 455.4h0M120.5 454.9h0M60.1 453.7h0M157.7 454.5h0M76.2 454.4h0M100.7 454.8h0M35.8 454.5h0M69.5 455.1h0M65.3 455.2h0M164.6 455.3h0M77.0 454.5h0M186.0 454.1h0M190.5 454.6h0M69.6 453.7h0M146.2 454.5h0M100.9 454.3h0M100.1 455.1h0M163.6 455.1h0M151.8 454.3h0M181.7 454.8h0M139.0 454.5h0M202.7 454.4h0M163.5 452.7h0M101.0 454.9h0M45.5 454.6h0M171.6 454.4h0M123.9 454.5h0M198.3 455.4h0M141.6 455.2h0M117.6 453.4h0M108.8 454.9h0M119.6 454.5h0M122.9 454.7h0M126.7 454.7h0M168.7 454.0h0M106.4 453.8h0M134.4 455.0h0M174.0 455.3h0M73.1 454.9h0M46.7 455.2h0M48.7 454.9h0M171.1 455.1h0M157.8 455.3h0M163.3 455.0h0M159.6 455.4h0M109.4 452.1h0M182.8 453.5h0M192.9 454.8h0M127.9 454.6h0M33.6 454.5h0M80.8 455.3h0M90.1 455.3h0M134.7 453.3h0M126.5 455.1h0M88.5 455.2h0M192.0 454.7h0M79.8 453.4h0M69.7 454.1h0M101.3 455.0h0M117.9 454.0h0M99.8 455.3h0M180.0 454.7h0M134.8 453.1h0M41.9 454.9h0M107.7 454.2h0M136.4 455.0h0M179.0 454.6h0M86.1 454.9h0M141.4 453.5h0M116.1 454.3h0M194.1 454.9h0M43.1 454.0h0M41.5 454.8h0M191.2 454.1h0M65.7 454.8h0M202.2 453.6h0M124.2 454.7h0M156.5 455.0h0M71.3 454.6h0M186.7 453.9h0M70.6 453.5h0M51.1 453.8h0M207.5 454.3h0M108.8 454.9h0M199.2 454.7h0M158.7 455.2h0M160.5 455.1h0M40.2 454.9h0M75.3 454.6h0M139.6 454.8h0M60.8 454.1h0M200.3 454.5h0M60.4 453.6h0M179.6 454.3h0M38.6 455.3h0M102.4 454.9h0M132.9 454.8h0M49.7 453.7h0M111.6 455.0h0M157.4 453.9h0M55.0 454.1h0M202.4 452.8h0M129.3 455.3h0M86.0 454.4h0M123.9 453.9h0M203.6 454.4h0M191.5 454.7h0M142.5 455.0h0M58.2 455.3h0M82.4 453.8h0M74.3 454.1h0M202.6 454.0h0M210.5 455.1h0M95.9 453.9h0M41.7 454.9h0M93.8 454.6h0M169.1 455.1h0M65.4 455.2h0M45.3 454.5h0M135.4 454.3h0M177.5 454.6h0M142.1 455.1h0M127.0 455.3h0M50.4 455.1h0M138.9 454.9h0M97.4 454.3h0M62.7 454.3h0M63.7 454.5h0M187.5 455.1h0M193.2 454.8h0M49.8 455.3h0M194.2 454.5h0M131.1 454.6h0M54.1 454.8h0M131.0 455.3h0M125.7 454.9h0M106.8 454.9h0M69.9 454.8h0M192.9 454.8h0M124.8 455.3h0M206.1 455.3h0M122.4 455.0h0M159.3 454.0h0M74.7 455.4h0M81.1 454.8h0M38.2 454.4h0M86.2 454.6h0M196.4 454.2h0M75.5 454.7h0M142.0 455.0h0M43.9 453.7h0M77.7 452.9h0M40.1 453.6h0M146.3 454.7h0M95.4 453.6h0M181.6 453.0h0M34.5 454.8h0M205.5 454.5h0M48.7 454.8h0M77.6 455.2h0M60.3 453.8h0M95.9 454.9h0M72.9 454.8h0M93.4 451.7h0M178.2 454.8h0M120.8 453.5h0M199.6 455.4h0M170.8 454.9h0M147.5 454.9h0M188.1 455.3h0M164.5 454.9h0M96.8 453.9h0M156.3 453.0h0M169.7 454.1h0M204.9 453.9h0M199.0 455.3h0M180.1 453.4h0M141.1 453.6h0M176.8 454.6h0M192.7 454.6h0M130.3 452.8h0M206.6 453.3h0M177.4 453.5h0M78.9 455.0h0M68.9 454.7h0M116.8 455.3h0M199.6 454.1h0M158.6 455.1h0M176.7 454.4h0M178.5 454.3h0M184.4 453.1h0M107.2 454.1h0M186.4 454.6h0M95.0 453.7h0M178.4 454.2h0M33.3 455.2h0M52.8 455.4h0M182.0 454.1h0M116.7 454.7h0M94.2 455.2h0M187.9 454.4h0M146.4 455.3h0M82.4 455.0h0M161.5 453.9h0M181.0 454.8h0M54.7 455.3h0M183.9 455.1h0M66.4 455.0h0M99.2 452.7h0M73.8 454.3h0M197.0 454.5h0M105.1 452.7h0M125.7 455.4h0M214.4 454.6h0M62.3 453.5h0M129.5 454.7h0M206.4 455.4h0M116.1 455.1h0M97.3 454.6h0M51.1 453.4h0M127.1 454.7h0M101.8 453.3h0M155.1 454.4h0M46.5 454.6h0M208.7 454.6h0M99.1 454.6h0M101.7 454.1h0M128.6 454.4h0M124.2 453.3h0M99.4 455.0h0M186.1 455.3h0M158.3 454.3h0M170.7 455.0h0M196.5 455.2h0M39.0 453.6h0M92.3 453.7h0M196.5 453.4h0M59.1 454.2h0M41.1 454.7h0M104.7 455.4h0M84.2 453.9h0M172.8 455.1h0M109.9 454.1h0M212.5 454.2h0M157.0 453.8h0M102.5 453.8h0M159.6 455.0h0M83.6 454.7h0M184.5 454.2h0M178.5 455.1h0M127.4 454.9h0M193.9 454.5h0M63.9 453.9h0M89.9 454.5h0M103.0 455.1h0M210.4 454.7h0M89.4 455.2h0M206.1 455.1h0M113.1 454.5h0M52.5 455.3h0M103.4 454.3h0M209.8 455.3h0M199.7 454.7h0M115.3 454.6h0M175.8 454.1h0M90.4 454.4h0M119.0 453.9h0M135.3 454.5h0M83.2 453.8h0M99.2 454.3h0M85.6 454.7h0M148.5 455.3h0M40.1 453.6h0M184.6 454.5h0M205.4 455.0h0M81.4 455.4h0M133.4 455.0h0M171.2 454.9h0M181.1 454.4h0M53.0 454.9h0M210.5 453.9h0M149.1 454.7h0M105.1 453.7h0M205.5 455.4h0M104.7 454.4h0M180.8 455.0h0M192.9 454.8h0M130.3 453.8h0M198.4 455.2h0M57.1 455.2h0M108.5 455.1h0M124.9 454.4h0M138.8 454.1h0M106.8 454.6h0M187.9 455.0h0M177.6 455.1h0M156.1 454.9h0M171.3 453.1h0M197.9 455.4h0M169.2 454.7h0M194.2 454.0h0M56.7 454.9h0M145.2 453.8h0M83.1 454.1h0M184.2 454.8h0M82.7 455.2h0M49.8 454.7h0M156.9 453.5h0M98.7 455.1h0M161.2 453.5h0M92.3 454.5h0M33.1 455.0h0M83.1 455.0h0M43.4 454.1h0M181.1 454.9h0M39.8 455.2h0M73.8 454.9h0M148.3 454.9h0M137.1 454.6h0M72.6 455.2h0M187.0 454.7h0M181.3 455.1h0M175.7 455.3h0M37.7 454.3h0M44.1 455.4h0M148.4 455.2h0M106.1 454.0h0M126.7 454.7h0M192.1 455.0h0M215.7 454.5h0M93.1 452.8h0M214.0 454.3h0M57.1 454.9h0M116.0 454.7h0M116.2 453.9h0M95.4 455.0h0M84.5 454.4h0M68.2 455.3h0M113.2 454.1h0M68.9 455.2h0M81.4 454.7h0M135.6 454.5h0M170.1 452.6h0M207.0 453.9h0M164.9 454.6h0M44.0 455.4h0M191.4 455.2h0M165.3 454.8h0M97.9 454.8h0M62.6 453.2h0M88.8 452.9h0M40.6 454.9h0M197.9 454.5h0M180.5 454.9h0M52.1 455.3h0M60.8 455.2h0M214.8 454.2h0M200.3 455.1h0M183.7 454.2h0M56.1 454.3h0M126.0 454.5h0M71.0 455.4h0M199.7 455.2h0M163.2 452.6h0M112.9 454.4h0M167.3 453.9h0M187.3 454.1h0M57.1 454.7h0M140.2 455.3h0M102.2 453.4h0M177.1 455.3h0M117.8 453.2h0M130.8 454.8h0M45.6 454.7h0M195.4 454.0h0M121.7 454.9h0M77.3 454.8h0M199.2 455.0h0M141.3 455.1h0M55.7 455.0h0M140.2 454.3h0M149.6 455.1h0M44.9 454.3h0M165.8 454.3h0M106.1 455.0h0M156.3 455.2h0M152.0 454.6h0M159.8 454.8h0M199.8 455.3h0M142.7 454.7h0M214.1 455.1h0M74.6 453.9h0M184.1 454.2h0M149.1 455.4h0M49.8 455.1h0M212.1 455.3h0M41.5 455.1h0M76.7 454.7h0M156.1 455.1h0M203.7 453.8h0M80.9 453.5h0M60.7 453.6h0M51.6 455.2h0M211.6 455.2h0M181.0 454.7h0M62.5 454.9h0M177.3 455.4h0M196.2 455.3h0M189.2 455.4h0M134.8 454.8h0M146.6 454.3h0M141.9 455.3h0M42.5 455.0h0M132.9 455.1h0M33.9 454.4h0M169.6 453.4h0M181.8 455.1h0M116.8 454.3h0M70.6 454.3h0M111.4 453.1h0M133.0 453.5h0M97.4 454.0h0M188.9 454.4h0M188.6 454.6h0M88.2 454.8h0M172.8 454.5h0M212.6 454.2h0M174.0 455.0h0M53.4 455.4h0M159.9 454.3h0M116.3 454.6h0M107.5 454.2h0M201.1 454.4h0M167.3 454.7h0M186.5 453.1h0M123.3 454.8h0M118.9 450.6h0M81.7 451.5h0M144.4 435.2h0M90.9 447.1h0M137.4 449.3h0M112.7 452.9h0M141.1 445.1h0M157.8 434.6h0M120.5 452.4h0M162.8 441.0h0M121.9 454.2h0M141.7 454.1h0M130.3 450.1h0M105.8 438.6h0M159.2 436.2h0M132.3 453.7h0M97.3 434.4h0M111.9 448.6h0M154.2 440.1h0M137.8 446.1h0M121.6 453.6h0M111.5 447.9h0M154.7 432.5h0M106.4 451.8h0M128.9 451.6h0M142.9 454.4h0M122.2 453.5h0M160.9 449.7h0M92.1 438.1h0M137.8 443.5h0M124.8 455.3h0M107.1 453.9h0M118.8 453.3h0M109.8 439.7h0M105.4 440.2h0M100.4 439.0h0M117.9 454.4h0M106.1 452.4h0M146.2 449.7h0M126.5 455.1h0M126.9 453.9h0M118.7 453.7h0M163.5 452.0h0M116.8 449.3h0M146.8 442.5h0M123.1 454.4h0M114.3 450.3h0M127.3 453.3h0M119.5 453.7h0M149.9 437.4h0M91.8 446.3h0M139.4 440.2h0M125.4 455.2h0M108.0 441.9h0M98.8 448.2h0M130.9 449.1h0M132.7 451.1h0M107.3 448.8h0M100.1 451.9h0M169.3 452.8h0M128.7 451.7h0M100.4 449.5h0M152.3 435.1h0M124.3 455.3h0M146.5 450.6h0M124.9 455.3h0M165.5 447.9h0M126.0 455.0h0M108.2 449.2h0M108.1 442.3h0M139.1 445.9h0M129.6 451.8h0M119.1 450.8h0M125.0 455.2h0M130.1 454.2h0M89.4 451.5h0M133.5 453.3h0M110.4 449.9h0M126.3 454.6h0M130.9 452.3h0M130.3 452.1h0M151.5 451.6h0M113.1 451.1h0M123.4 454.7h0M94.9 432.4h0M131.5 448.7h0M115.9 449.7h0M125.4 454.9h0M138.5 450.2h0M140.2 439.2h0M133.5 449.9h0M123.4 455.0h0M115.5 451.2h0M133.9 450.6h0M157.1 450.4h0M150.7 448.2h0M121.9 455.3h0M108.7 454.1h0M101.8 441.9h0M122.8 454.9h0M96.0 440.7h0M98.1 449.2h0M104.1 436.9h0M160.1 437.4h0M111.8 448.6h0M136.4 450.8h0M116.1 449.4h0M132.3 452.7h0M119.0 454.9h0M112.8 451.4h0M129.2 451.8h0M97.3 442.7h0M122.9 454.3h0M121.2 454.4h0M97.2 432.3h0M128.5 453.2h0M156.5 447.6h0M122.9 454.3h0M151.5 441.5h0M133.2 451.3h0M106.9 441.0h0M136.1 454.5h0M114.9 446.5h0M134.2 455.4h0M110.6 446.7h0M113.4 447.4h0M121.5 454.5h0M112.3 452.4h0M137.2 452.0h0M121.3 453.6h0M82.7 453.5h0M101.0 447.0h0M139.6 445.9h0M151.0 442.6h0M150.4 433.9h0M102.6 433.7h0M118.0 452.0h0M140.8 451.7h0M143.4 446.9h0M126.6 453.8h0M141.0 443.9h0M107.0 438.5h0M136.2 447.4h0M93.1 450.3h0M125.8 454.7h0M158.2 436.9h0M89.5 448.9h0M168.1 447.3h0M147.1 448.5h0M118.2 453.2h0M108.0 446.5h0M90.3 452.0h0M119.3 451.4h0M106.0 440.3h0M106.2 438.5h0M150.6 437.2h0M126.1 454.5h0M115.8 446.6h0M112.9 444.8h0M127.1 453.3h0M148.8 447.6h0M156.2 434.2h0M128.6 453.6h0M161.8 441.5h0M125.8 455.1h0M112.6 451.0h0M123.9 455.3h0M130.7 452.2h0M116.4 449.7h0M128.9 451.5h0M105.4 439.4h0M114.5 449.4h0M136.4 454.6h0M148.0 437.7h0M136.2 443.0h0M143.2 438.7h0M141.4 442.0h0M96.2 436.7h0M139.4 441.9h0M121.3 454.2h0M123.0 454.6h0M167.2 443.8h0M146.2 448.2h0M102.8 454.2h0M88.4 447.5h0M116.5 454.1h0M138.7 443.3h0M124.9 455.4h0M126.8 454.0h0M142.4 436.2h0M135.7 443.9h0M125.9 454.4h0M136.9 446.9h0M141.2 447.2h0M101.7 446.5h0M137.5 453.5h0M136.3 453.0h0M131.4 450.5h0M118.6 450.5h0M107.5 440.6h0M109.9 450.4h0M146.9 433.8h0M117.6 453.5h0M121.7 453.6h0M97.1 446.8h0M148.6 435.4h0M127.8 453.4h0M114.8 452.2h0M113.6 445.5h0M84.4 449.8h0M152.8 439.4h0M143.3 450.3h0M135.2 453.0h0M153.0 438.0h0M125.5 455.0h0M142.3 443.0h0M123.6 454.9h0M118.8 453.5h0M116.2 448.8h0M156.3 439.2h0M137.2 449.3h0M115.5 448.4h0M123.6 455.2h0M137.9 443.2h0M141.5 437.4h0M92.2 436.3h0M117.2 449.5h0M143.1 452.7h0M116.8 454.5h0M118.2 451.5h0M155.5 434.3h0M167.9 448.3h0M128.2 453.3h0M135.5 447.9h0M100.7 440.4h0M152.2 435.3h0M131.4 451.9h0M129.9 452.3h0M123.9 455.3h0M158.7 445.9h0M88.6 438.9h0M129.8 452.9h0M141.8 437.5h0M116.5 450.7h0M117.1 450.0h0M123.4 454.6h0M130.7 449.7h0M142.3 441.6h0M143.2 446.8h0M159.3 438.1h0M140.5 445.6h0M144.3 451.4h0M136.3 443.0h0M142.5 439.2h0M130.5 454.0h0M131.4 453.5h0M130.0 452.0h0M131.5 453.3h0M112.4 444.5h0M105.8 450.8h0M133.9 451.7h0M135.8 450.7h0M122.5 454.1h0M163.2 445.3h0M93.2 433.1h0M109.4 445.7h0M113.0 445.5h0M123.3 455.1h0M112.4 442.7h0M157.5 445.1h0M150.7 446.4h0M123.7 454.9h0M150.4 449.1h0M136.9 451.5h0M108.5 441.1h0M116.4 450.9h0M136.9 443.6h0M144.1 454.5h0M101.7 436.4h0M85.8 438.8h0M93.9 444.7h0M149.2 446.0h0M89.9 445.1h0M109.4 447.0h0M139.7 451.8h0M131.7 451.5h0M92.9 436.6h0M88.3 448.1h0M160.8 436.1h0M104.4 438.4h0M125.8 455.0h0M82.4 445.3h0M92.3 449.9h0M154.5 440.1h0M102.5 444.7h0M161.0 438.3h0M151.8 449.4h0M85.9 438.9h0M123.3 454.7h0M89.9 452.9h0M144.4 443.2h0M103.4 445.1h0M132.7 447.7h0M85.2 449.8h0M115.1 453.4h0M139.2 448.0h0M165.0 450.0h0M131.2 454.4h0M158.9 448.6h0M140.1 445.4h0M90.7 434.6h0M148.5 445.1h0M91.6 442.4h0M88.4 437.1h0M122.5 453.9h0M104.7 441.2h0M148.6 434.8h0M143.4 442.6h0M100.7 434.0h0M126.9 453.9h0M130.2 452.7h0M145.6 434.1h0M120.5 452.1h0M113.3 454.2h0M103.9 438.3h0M111.3 447.4h0M147.9 435.2h0M139.9 441.1h0M114.4 446.6h0M137.3 443.5h0M133.7 445.8h0M103.9 438.4h0M133.6 446.3h0M130.3 452.8h0M143.1 439.3h0M135.7 448.0h0M151.2 437.3h0M160.3 435.5h0M169.6 448.4h0M128.6 451.9h0M110.4 445.3h0M127.3 454.3h0M138.4 454.3h0M117.3 450.9h0M164.2 439.8h0M95.1 440.6h0M151.4 449.2h0M112.4 445.9h0M132.5 449.7h0M101.7 446.5h0M120.6 453.2h0M148.2 441.7h0M126.6 454.6h0M125.8 454.6h0M124.3 455.4h0M107.6 443.8h0M138.6 441.0h0M152.4 447.6h0M92.9 436.7h0M105.7 439.5h0M120.0 451.7h0M106.7 437.1h0M142.4 444.4h0M132.0 448.9h0M129.0 452.2h0M140.5 442.6h0M144.4 434.3h0M104.3 447.4h0M158.1 448.4h0M137.0 445.7h0M144.6 446.2h0M133.0 453.8h0M138.2 450.6h0M113.6 451.8h0M149.5 441.2h0M147.3 441.5h0M148.9 447.8h0M115.7 449.0h0M133.1 454.0h0M135.5 446.1h0M147.4 444.3h0M119.7 452.9h0M103.4 444.0h0M152.7 449.0h0M144.2 454.8h0M101.9 435.0h0M121.6 453.6h0M103.2 434.5h0M104.5 446.3h0M138.7 445.1h0M105.0 435.3h0M92.5 449.5h0M94.6 435.4h0M158.0 440.4h0M115.2 446.1h0M105.7 442.1h0M112.6 452.5h0M132.9 447.4h0M126.2 454.8h0M119.4 452.5h0M102.6 434.6h0M125.1 455.2h0M113.9 447.1h0M104.0 444.3h0M127.5 453.6h0M128.5 453.6h0M107.1 445.6h0M91.4 441.1h0M163.1 448.4h0M103.4 449.3h0M161.6 441.0h0M139.4 453.1h0M126.6 454.0h0M134.5 454.0h0M137.7 449.7h0M120.7 452.2h0M88.0 436.8h0M108.2 452.1h0M146.4 448.3h0M113.4 445.6h0M138.8 452.4h0M106.9 438.0h0M125.2 455.0h0M93.5 453.1h0M135.6 454.6h0M128.6 452.5h0M116.8 453.2h0M116.3 452.9h0M97.9 431.9h0M102.7 444.4h0M148.8 443.2h0M121.3 454.3h0M131.3 448.7h0M120.6 454.3h0M110.8 451.4h0M102.2 452.3h0M154.8 440.4h0M122.0 454.2h0M119.1 451.0h0M102.1 434.6h0M113.0 446.7h0M112.5 442.9h0M144.2 436.5h0M149.9 449.3h0M109.5 450.5h0M98.3 454.8h0M148.1 435.4h0M130.7 455.2h0M97.5 434.9h0M95.1 439.4h0M142.1 440.1h0M156.1 433.3h0M153.2 444.7h0M110.8 447.8h0M118.6 450.5h0M134.6 444.7h0M83.0 444.4h0M108.4 448.5h0M159.7 440.9h0M149.2 441.1h0M162.6 448.2h0M133.0 447.1h0M120.0 452.0h0M147.6 439.8h0M155.9 433.9h0M103.7 434.7h0M111.9 452.9h0M126.3 454.8h0M113.9 452.9h0M141.6 440.5h0M106.5 447.9h0M120.4 454.7h0M91.5 442.0h0M121.7 453.6h0M108.8 448.4h0M89.0 436.0h0M162.1 437.1h0M97.7 434.7h0M137.8 443.4h0M80.3 449.4h0M137.0 442.3h0M113.1 445.4h0M126.5 455.0h0M121.2 452.6h0M117.6 450.9h0M123.8 455.1h0M112.3 448.7h0M124.7 455.4h0M166.7 447.4h0M162.9 439.3h0M147.8 453.2h0M99.3 436.5h0M130.2 451.0h0M95.0 448.1h0M169.0 452.7h0M129.1 454.1h0M113.8 448.4h0M117.4 448.6h0M136.3 447.8h0M128.4 452.1h0M107.5 448.9h0M150.9 431.9h0M106.9 439.5h0M105.2 436.9h0M103.7 443.1h0M166.0 443.2h0M154.0 437.3h0M123.9 455.2h0M107.8 439.5h0M112.2 451.7h0M112.7 448.6h0M97.8 448.5h0M141.4 444.2h0M144.2 447.1h0M104.8 438.1h0M146.1 440.0h0M149.6 443.6h0M165.3 440.9h0M137.1 446.0h0M123.0 454.4h0M102.8 445.5h0M143.6 453.7h0M127.8 454.2h0M135.9 446.5h0M102.9 438.3h0M88.1 441.3h0M167.3 447.0h0M146.8 444.3h0M98.5 438.6h0M105.6 447.9h0M132.8 455.1h0M123.1 454.7h0M132.0 453.7h0M150.8 434.2h0M107.5 437.8h0M94.0 432.2h0M108.7 455.2h0M91.8 452.7h0M151.5 444.8h0M121.7 454.1h0M123.2 454.5h0M88.2 454.5h0M101.6 447.9h0M143.2 451.3h0M163.7 439.6h0M119.3 452.3h0M97.8 442.7h0M121.7 453.4h0M116.4 447.2h0M153.8 445.9h0M148.9 449.2h0M102.2 433.5h0M150.0 431.6h0M156.6 438.6h0M123.2 455.1h0M120.1 453.5h0M95.7 433.2h0M124.1 455.3h0M137.2 451.7h0M89.4 449.7h0M102.7 441.6h0M98.2 442.5h0M111.2 445.9h0M132.4 451.0h0M125.3 455.2h0M125.2 455.0h0M107.4 448.5h0M146.4 443.8h0M138.9 448.1h0M126.0 454.5h0M108.3 439.7h0M98.5 432.8h0M132.5 449.7h0M128.2 454.8h0M132.4 451.7h0M152.7 442.3h0M142.1 447.0h0M120.4 454.0h0M135.6 450.0h0M140.7 438.8h0M117.9 453.5h0M101.1 452.7h0M156.5 438.7h0M155.5 449.1h0M118.9 452.0h0M118.9 452.9h0M154.8 436.9h0M147.2 441.1h0M141.3 445.2h0M154.3 437.7h0M166.2 455.1h0M151.5 447.0h0M112.2 453.0h0M133.6 448.1h0M145.3 446.8h0M123.7 455.0h0M128.5 452.6h0M147.4 442.6h0M129.4 452.4h0M131.8 448.1h0M133.7 449.4h0M119.4 452.5h0M136.3 447.6h0M156.6 436.0h0M110.5 442.1h0M112.0 447.2h0M126.6 455.0h0M110.5 445.0h0M91.8 433.5h0M159.5 437.8h0M134.7 453.0h0M121.2 453.4h0M131.4 449.9h0M104.0 444.7h0M153.5 436.6h0M113.8 449.0h0M134.6 446.9h0M124.7 455.3h0M115.8 447.2h0M114.4 446.9h0M141.4 441.5h0M139.4 455.1h0M145.2 435.6h0M130.1 450.0h0M103.5 436.9h0M170.3 446.5h0M92.5 438.7h0M152.6 447.7h0M114.9 449.0h0M103.8 444.5h0M126.7 454.3h0M110.6 449.2h0M115.9 449.9h0M100.5 437.8h0M123.9 455.3h0M106.4 439.1h0M120.8 452.9h0M129.9 453.5h0M97.3 432.7h0M102.2 445.9h0M123.0 454.8h0M113.6 448.4h0M83.4 443.6h0M130.3 452.7h0M149.0 445.1h0M100.0 436.4h0M154.3 447.6h0M128.6 452.7h0M164.6 443.4h0M101.1 446.1h0M97.9 452.0h0M120.7 452.1h0M129.0 452.7h0M95.7 434.9h0M127.2 454.9h0M145.2 436.9h0M122.3 454.5h0M98.0 445.8h0M88.3 437.3h0M127.4 453.2h0M141.2 445.5h0M106.2 446.6h0M138.9 451.1h0M122.1 454.6h0M164.2 448.0h0M103.3 435.7h0M143.3 449.0h0M109.1 441.3h0M116.3 447.6h0M132.7 450.6h0M99.8 446.3h0M143.1 454.1h0M107.2 454.6h0M138.8 447.6h0M126.0 454.6h0M103.9 439.8h0M126.3 454.4h0M128.8 452.6h0M120.3 452.0h0M139.3 440.2h0M127.7 453.5h0M154.9 444.8h0M144.4 439.9h0M129.1 452.4h0M112.8 451.1h0M123.8 455.2h0M105.6 436.5h0M135.5 452.8h0M141.5 438.8h0M123.0 455.0h0M105.4 453.3h0M112.8 444.6h0M131.3 449.8h0M107.6 444.4h0M132.2 451.4h0M123.9 455.3h0M96.3 434.2h0M96.3 439.7h0M93.2 450.7h0M151.3 446.1h0M124.9 455.2h0M99.7 451.0h0M109.1 455.2h0M128.3 454.8h0M143.1 444.3h0M136.4 447.3h0M115.8 449.7h0M159.2 434.8h0M137.9 446.5h0M148.5 443.7h0M134.6 445.6h0M112.4 449.0h0M108.2 443.5h0M151.8 445.5h0M153.5 443.5h0M149.8 440.1h0M146.6 445.1h0M103.5 445.1h0M163.6 446.3h0M145.5 443.8h0M118.7 453.8h0M106.7 444.4h0M95.5 442.7h0M128.9 453.1h0M164.9 441.9h0M98.1 453.4h0M151.0 447.1h0M158.3 439.0h0M116.0 450.0h0M109.5 450.6h0M127.1 453.8h0M118.4 451.0h0M107.8 450.9h0M113.8 448.3h0M115.3 451.1h0M112.8 447.8h0M120.6 452.9h0M137.6 444.5h0M139.3 444.8h0M94.8 439.4h0M97.7 447.0h0M84.0 445.1h0M139.8 441.6h0M108.0 437.8h0M143.4 437.7h0M118.2 451.0h0M115.6 454.5h0M99.7 436.4h0M119.6 454.0h0M168.7 445.4h0M120.4 452.0h0M124.0 455.2h0M141.5 443.5h0M93.7 434.4h0M138.8 448.0h0M145.1 452.2h0M127.9 454.9h0M116.2 453.0h0M116.3 451.8h0M115.2 446.3h0M86.4 448.1h0M139.5 439.8h0M138.4 450.0h0M89.8 451.5h0M150.5 438.4h0M111.3 442.4h0M146.6 442.2h0M152.5 435.1h0M109.9 439.8h0M128.7 453.8h0M123.1 455.0h0M81.1 445.9h0M111.5 450.5h0M134.5 445.2h0M105.9 443.1h0M144.7 453.7h0M125.3 454.9h0M86.5 446.7h0M129.8 451.3h0M145.1 439.3h0M101.2 449.1h0M140.1 439.3h0M97.6 435.1h0M129.3 454.0h0M120.8 452.6h0M103.3 451.2h0M119.2 452.4h0M156.7 444.0h0M110.3 446.7h0M116.9 455.3h0M129.8 451.0h0M107.7 443.3h0M98.6 449.8h0M105.3 438.2h0M112.5 444.4h0M168.7 446.8h0M134.3 447.5h0M101.9 433.3h0M128.5 453.5h0M134.3 448.9h0M134.1 446.2h0M137.6 448.0h0M133.2 449.3h0M136.3 451.4h0M96.3 441.9h0M129.0 452.9h0M126.7 453.7h0M120.9 454.4h0M162.7 443.5h0M133.9 449.0h0M132.6 451.8h0M163.8 442.1h0M128.6 452.7h0M154.2 443.6h0M116.1 449.0h0M125.6 454.8h0M141.1 440.8h0M148.4 450.7h0M149.1 452.5h0M85.1 449.2h0M139.7 452.4h0M133.3 449.8h0M124.5 455.4h0M143.9 445.0h0M133.3 453.4h0M88.7 448.4h0M145.0 450.9h0M125.6 454.8h0M138.9 450.1h0M162.2 445.6h0M133.3 446.7h0M109.0 452.7h0M137.0 442.4h0M99.8 442.1h0M122.6 454.2h0M137.2 451.3h0M101.7 443.2h0M142.8 440.6h0M109.6 444.5h0M95.3 446.5h0M131.7 450.6h0M130.7 452.4h0M117.5 448.9h0M128.2 453.0h0M124.0 455.2h0M138.8 451.6h0M102.9 445.8h0M115.9 452.5h0M88.4 441.0h0M105.9 454.0h0M96.4 441.9h0M110.4 448.2h0M152.1 449.7h0M115.4 447.3h0M107.9 447.5h0M84.4 451.9h0M112.6 445.1h0M146.9 453.7h0M120.9 454.5h0M102.7 443.7h0M100.7 450.0h0M124.3 455.3h0M105.9 445.2h0M109.3 439.1h0M131.0 452.5h0M98.1 442.9h0M89.9 438.2h0M122.5 455.2h0M135.4 448.7h0M135.4 448.8h0M113.5 445.6h0M122.3 454.3h0M137.6 447.6h0M170.0 451.7h0M106.0 442.1h0M119.3 452.6h0M127.5 453.0h0M114.6 447.1h0M153.4 452.0h0M134.3 450.9h0M119.4 451.6h0M146.7 450.1h0M127.2 454.1h0M137.6 450.4h0M125.8 455.2h0M137.2 446.6h0M132.6 453.3h0M134.8 451.2h0M103.0 447.2h0M128.3 452.6h0M118.5 454.2h0M146.6 439.6h0M116.5 448.0h0M131.3 450.2h0M129.4 452.2h0M121.1 453.6h0M106.3 449.3h0M107.2 442.5h0M131.7 452.3h0M119.4 454.5h0M157.1 436.3h0M107.9 451.4h0M124.9 455.2h0M87.8 445.8h0M123.6 455.1h0M138.9 439.9h0M113.0 443.9h0M121.1 454.3h0M136.9 451.0h0M95.4 431.7h0M99.4 439.6h0M91.0 451.7h0M133.8 451.6h0M113.7 447.1h0M133.3 448.1h0M148.6 450.9h0M118.7 452.1h0M115.4 448.3h0M121.9 454.7h0M118.2 449.4h0M105.8 445.3h0M139.8 442.4h0M122.5 454.6h0M91.2 440.7h0M109.7 439.8h0M123.1 454.4h0M136.8 447.5h0M133.6 447.7h0M110.0 442.9h0M164.8 441.3h0M108.1 448.3h0M130.6 452.8h0M99.1 443.5h0M137.9 442.4h0M82.3 445.2h0M130.9 451.1h0M136.2 451.1h0M119.0 454.0h0M133.7 447.8h0M131.9 452.0h0M168.5 445.1h0M118.6 452.4h0M141.7 454.6h0M103.8 454.4h0M133.4 447.1h0M124.0 455.1h0M125.0 455.3h0M124.4 455.4h0M129.6 451.6h0M100.8 446.7h0M111.1 449.3h0M146.3 433.2h0M120.4 451.9h0M156.2 453.9h0M156.0 437.4h0M137.5 446.1h0M91.5 436.3h0M140.7 448.4h0M148.1 443.1h0M137.5 445.8h0M158.2 437.3h0M103.0 434.4h0M102.1 435.7h0M105.8 436.3h0M116.2 451.1h0M141.1 441.2h0M136.9 442.6h0M103.8 434.7h0M97.6 435.3h0M100.4 436.0h0M133.1 451.4h0M149.2 435.0h0M144.9 447.3h0M104.8 450.4h0M80.1 452.6h0M103.8 434.5h0M125.4 454.8h0M86.0 442.8h0M138.2 451.0h0M138.5 452.9h0M122.0 454.2h0M150.7 442.5h0M127.4 453.0h0M86.1 440.7h0M147.6 439.5h0M126.0 454.7h0M144.1 444.5h0M107.9 447.2h0M102.9 439.7h0M140.0 447.5h0M124.2 455.4h0M131.0 451.9h0M128.8 451.9h0M105.2 437.2h0M98.5 454.3h0M108.9 446.7h0M122.2 455.1h0M156.4 440.6h0M105.5 444.6h0M143.4 451.3h0M119.7 452.3h0M83.5 452.1h0M86.7 437.5h0M97.3 435.6h0M169.8 447.7h0M137.9 449.4h0M162.2 438.6h0M103.8 447.2h0M104.6 446.4h0M114.1 446.2h0M109.1 444.4h0M110.7 441.1h0M103.8 440.8h0M130.1 452.3h0M124.2 455.3h0M115.7 448.8h0M92.2 440.9h0M129.0 452.2h0M128.1 454.0h0M123.2 454.6h0M162.3 453.8h0M139.4 443.4h0M129.8 452.9h0M108.4 449.2h0M116.6 449.7h0M97.4 444.5h0M94.9 435.5h0M141.0 444.0h0M119.3 452.9h0M101.0 448.5h0M158.7 441.3h0M132.6 454.9h0M121.0 452.5h0M151.1 448.7h0M137.0 446.5h0M105.0 435.7h0M143.4 449.9h0M132.6 453.4h0M112.7 446.7h0M158.2 450.5h0M133.2 453.1h0M98.6 434.6h0M131.4 448.8h0M110.0 441.7h0M124.6 455.3h0M125.5 454.8h0M156.6 436.5h0M147.1 438.8h0M157.5 445.3h0M150.6 444.8h0M79.7 447.1h0M106.6 442.4h0M83.5 449.4h0M124.2 455.4h0M153.3 433.9h0M137.6 444.2h0M113.5 446.5h0M153.3 435.6h0M152.2 444.9h0M139.8 441.4h0M135.3 448.6h0M129.9 454.3h0M112.1 448.9h0M134.5 453.7h0M115.1 447.3h0M153.2 451.2h0M143.0 447.9h0M100.3 442.8h0M84.4 446.4h0M145.1 447.4h0M128.6 452.3h0M115.5 449.4h0M85.2 442.5h0M140.3 448.1h0M140.8 448.1h0M123.4 455.1h0M108.6 448.2h0M146.0 442.1h0M99.8 443.4h0M98.7 441.7h0M82.7 450.1h0M105.8 447.6h0M146.2 436.8h0M140.9 450.5h0M153.5 441.1h0M92.0 434.8h0M154.1 443.5h0M147.9 436.6h0M147.4 433.7h0M113.9 448.3h0M107.8 447.8h0M100.1 433.3h0M133.1 447.1h0M148.0 432.7h0M112.8 452.2h0M153.4 433.8h0M108.9 446.2h0M129.7 451.0h0M124.2 455.3h0M94.1 447.5h0M155.2 436.3h0M101.3 448.0h0M129.2 451.7h0M123.3 454.6h0M114.6 451.8h0M107.6 442.9h0M141.3 438.5h0M155.2 443.9h0M113.5 452.9h0M149.8 439.1h0M136.2 448.2h0M148.1 444.2h0M121.9 454.2h0M150.2 438.9h0M101.1 446.6h0M118.1 452.6h0M99.5 432.0h0M125.5 454.9h0M126.5 455.0h0M131.9 451.9h0M134.3 451.6h0M129.2 452.6h0M100.1 440.2h0M132.7 449.0h0M126.7 454.0h0M86.8 439.6h0M159.7 446.6h0M151.2 437.6h0M136.4 450.9h0M150.1 453.2h0M131.7 449.5h0M111.4 447.3h0M111.3 450.2h0M130.2 450.6h0M137.9 447.0h0M119.9 451.8h0M103.7 440.3h0M111.5 445.9h0M105.6 449.0h0M158.4 441.6h0M118.9 451.4h0M141.3 448.8h0M136.7 443.6h0M149.4 433.9h0M126.5 454.1h0M120.7 454.2h0M105.4 439.4h0M113.4 449.7h0M159.6 438.5h0M86.6 437.6h0M105.8 445.2h0M127.7 452.8h0M124.2 455.4h0M102.6 436.7h0M118.1 452.6h0M134.9 448.1h0M163.4 441.5h0M118.2 450.3h0M124.9 455.3h0M123.7 455.2h0M124.6 455.4h0M127.4 454.0h0M91.9 437.5h0M116.9 450.4h0M110.9 445.0h0M122.5 454.7h0M109.4 447.6h0M142.0 440.1h0M136.6 446.5h0M141.9 451.2h0M157.5 437.4h0M130.7 453.1h0M132.8 450.0h0M118.5 449.8h0M116.5 449.1h0M162.0 443.1h0M122.8 454.1h0M145.0 445.7h0M126.2 455.0h0M80.0 454.6h0M145.4 436.2h0M123.1 454.5h0M128.0 454.1h0M127.2 454.3h0M135.6 452.7h0M132.0 450.3h0M140.3 445.6h0M115.0 447.0h0M150.9 436.3h0M96.0 435.1h0M167.3 446.8h0M104.2 450.2h0M127.6 452.9h0M116.4 447.5h0M117.9 449.4h0M159.4 447.8h0M132.0 450.5h0M135.3 448.3h0M106.1 440.4h0M135.9 448.6h0M154.7 432.2h0M138.3 453.8h0M158.0 446.6h0M134.1 448.9h0M133.3 452.7h0M127.4 453.7h0M114.6 445.9h0M135.8 445.3h0M136.0 448.1h0M143.5 444.7h0M115.9 446.7h0M91.2 435.3h0M133.4 446.5h0M152.0 450.0h0M147.6 436.6h0M92.2 439.7h0M158.6 451.1h0M132.2 451.9h0M88.5 440.3h0M92.1 452.9h0M144.9 434.9h0M93.5 441.7h0M152.0 434.6h0M115.4 454.7h0M151.9 440.8h0M164.5 443.4h0M146.2 443.1h0M115.5 446.3h0M155.7 436.9h0M142.3 441.8h0M129.7 452.7h0M89.6 447.0h0M100.8 453.4h0M140.7 453.5h0M116.0 453.2h0M162.2 449.3h0M123.3 455.2h0M151.7 438.9h0M104.1 450.2h0M153.3 455.0h0M117.6 448.5h0M128.3 454.7h0M166.8 444.6h0M111.8 453.9h0M115.5 449.7h0M99.3 449.2h0M83.2 451.9h0M121.3 452.9h0M108.6 449.0h0M133.2 450.1h0M106.6 437.5h0M100.6 440.8h0M119.0 453.6h0M144.9 445.9h0M126.6 455.0h0M119.2 450.6h0M127.5 453.9h0M150.2 436.2h0M100.0 435.9h0M112.7 451.2h0M159.7 441.9h0M91.7 449.1h0M102.1 444.6h0M143.2 435.6h0M87.4 451.2h0M127.2 453.6h0M135.1 446.2h0M100.6 440.7h0M92.4 440.3h0M153.7 437.7h0M108.7 443.4h0M85.8 443.8h0M126.0 455.1h0M103.0 443.1h0M135.3 447.7h0M109.7 446.5h0M142.0 445.9h0M134.4 454.8h0M122.7 454.3h0M104.6 440.8h0M139.9 447.1h0M124.8 455.3h0M128.5 451.9h0M118.7 452.9h0M149.6 452.1h0M158.7 447.6h0M97.2 446.2h0M111.4 447.0h0M85.6 446.7h0M128.8 451.9h0M165.4 442.1h0M147.7 432.5h0M144.8 438.5h0M112.0 453.5h0M127.8 453.1h0M162.5 442.0h0M142.0 444.1h0M166.0 445.3h0M90.9 451.1h0M104.1 447.3h0M111.8 442.3h0M123.1 455.0h0M112.9 449.5h0M106.2 444.3h0M115.5 447.3h0M139.8 447.7h0M157.9 434.5h0M144.1 440.7h0M118.4 454.1h0M97.3 437.9h0M141.6 446.6h0M136.1 447.1h0M127.0 454.8h0M113.5 444.4h0M154.5 440.6h0M123.6 455.2h0M155.0 435.8h0M134.5 449.5h0M139.4 440.1h0M132.1 453.5h0M137.5 450.6h0M113.1 445.3h0M144.6 444.2h0M101.7 436.2h0M128.1 452.4h0M147.9 446.6h0M152.3 437.1h0M120.6 453.6h0M122.8 454.2h0M136.8 448.9h0M116.4 450.1h0M100.3 447.6h0M133.7 448.0h0M143.2 442.3h0M160.7 444.5h0M125.0 455.3h0M123.5 454.8h0M140.3 444.0h0M116.4 451.9h0M139.9 448.5h0M101.4 435.8h0M158.0 438.5h0M149.6 450.2h0M102.3 452.8h0M133.6 449.3h0M139.8 440.8h0M103.6 447.3h0M112.0 442.0h0M124.9 455.4h0M103.5 433.8h0M122.8 455.1h0M169.1 447.2h0M94.6 445.3h0M162.3 451.8h0M137.6 441.3h0M164.0 443.4h0M116.7 452.2h0M107.5 452.0h0M131.3 450.6h0M123.8 455.2h0M134.0 445.9h0M147.2 446.8h0M141.1 441.9h0M152.4 440.4h0M144.5 450.9h0M166.8 451.5h0M125.9 454.8h0M152.1 439.5h0M117.5 451.3h0M166.4 454.6h0M135.8 449.9h0M143.9 437.9h0M148.9 449.8h0M112.2 445.1h0M167.7 452.8h0M108.6 446.1h0M86.8 450.5h0M113.6 452.5h0M107.5 450.2h0M114.7 450.1h0M131.4 450.9h0M102.4 436.1h0M117.0 454.0h0M98.8 433.8h0M158.9 441.8h0M105.8 438.4h0M114.2 451.2h0M119.4 454.5h0M138.9 447.0h0M110.2 445.2h0M153.5 435.1h0M145.8 436.6h0M139.2 451.2h0M110.8 443.0h0M116.8 451.7h0M103.7 449.5h0M137.1 443.6h0M102.3 444.8h0M112.6 444.9h0M149.4 433.7h0M103.1 443.7h0M152.7 433.8h0M126.4 454.7h0M95.3 445.8h0M155.5 445.3h0M97.2 451.1h0M144.6 453.2h0M134.9 448.1h0M98.3 439.8h0M99.7 451.0h0M140.2 439.2h0M134.5 447.3h0M132.1 449.8h0M136.8 442.7h0M91.4 452.6h0M141.4 439.9h0M125.6 455.2h0M85.8 450.7h0M116.8 450.4h0M155.5 443.3h0M102.2 441.9h0M114.3 446.3h0M116.2 448.5h0M106.8 443.8h0M131.0 449.5h0M103.6 438.7h0M96.3 434.8h0M133.5 449.4h0M127.2 453.3h0M123.8 455.1h0M79.8 452.5h0M127.5 454.2h0M114.9 450.3h0M82.8 441.5h0M120.3 454.5h0M118.9 454.5h0M106.2 447.7h0M115.9 450.3h0M168.9 445.5h0M148.2 439.9h0M105.9 441.4h0M131.3 452.2h0M115.7 448.1h0M128.7 454.5h0M116.4 451.5h0M141.4 437.1h0M141.7 438.9h0M140.2 449.4h0M120.3 455.1h0M123.3 454.9h0M132.3 452.0h0M110.9 445.0h0M98.3 445.1h0M121.2 453.1h0M89.5 443.2h0M106.1 453.3h0M128.7 453.1h0M113.5 444.8h0M114.7 445.9h0M150.1 440.9h0M90.8 449.0h0M119.5 450.8h0M161.8 451.4h0M146.0 444.8h0M125.3 455.0h0M158.2 445.3h0M153.2 433.1h0M115.1 452.5h0M141.7 437.1h0M88.1 452.6h0M101.6 440.4h0M117.5 448.7h0M142.2 436.2h0M138.0 445.9h0M141.4 454.0h0M119.8 451.2h0M121.9 454.4h0M153.9 439.3h0M102.0 434.6h0M122.7 455.3h0M167.1 448.3h0M141.1 446.4h0M118.4 451.4h0M127.5 453.5h0M160.5 451.6h0M132.3 449.3h0M120.2 453.5h0M130.2 449.9h0M131.8 449.1h0M84.9 439.5h0M135.0 444.8h0M106.4 443.1h0M120.8 452.1h0M120.3 452.0h0M90.5 444.0h0M82.8 450.9h0M108.3 439.5h0M152.7 439.2h0M128.9 454.4h0M146.3 448.5h0M112.9 448.6h0M104.1 455.0h0M111.3 452.7h0M121.7 454.5h0M112.6 444.3h0M155.2 448.5h0M88.2 454.9h0M125.3 455.1h0M93.4 454.0h0M109.1 443.8h0M131.6 448.4h0M126.8 454.0h0M133.3 453.5h0M128.7 451.6h0M148.9 444.7h0M114.0 452.3h0M148.4 443.0h0M118.2 450.2h0M105.1 449.1h0M150.5 441.7h0M143.7 436.0h0M154.6 437.6h0M147.9 443.8h0M146.4 436.9h0M147.3 441.8h0M90.0 440.6h0M130.5 452.2h0M134.5 448.4h0M148.1 433.8h0M153.8 444.5h0M123.5 455.2h0M98.8 446.4h0M97.0 436.9h0M147.4 433.4h0M124.4 455.4h0M97.9 447.5h0M86.8 446.8h0M132.9 451.6h0M123.7 455.1h0M123.4 454.7h0M92.1 438.5h0M133.3 454.5h0M124.6 455.4h0M152.2 438.0h0M129.3 454.0h0M139.2 439.7h0M105.8 445.6h0M103.5 446.8h0M104.8 437.8h0M141.9 446.9h0M124.9 455.2h0M118.2 452.8h0M124.5 455.4h0M128.5 452.4h0M114.2 449.7h0M100.7 442.3h0M120.9 452.2h0M169.4 446.8h0M99.4 436.9h0M128.4 452.3h0M129.3 452.0h0M110.9 449.5h0M109.9 440.3h0M120.0 453.4h0M123.6 455.1h0M150.7 433.1h0M125.3 455.1h0M122.6 455.1h0M118.2 450.1h0M83.1 443.2h0M127.2 455.0h0M127.1 453.5h0M137.7 450.2h0M100.1 434.2h0M139.3 455.2h0M138.5 440.3h0M90.5 437.1h0M144.6 440.9h0M164.1 440.0h0M121.2 452.7h0M157.8 447.7h0M143.4 446.2h0M87.1 452.8h0M113.5 443.5h0M129.3 452.7h0M116.2 448.3h0M97.9 444.2h0M92.0 437.9h0M144.2 436.2h0M108.2 441.0h0M166.1 445.8h0M99.6 451.5h0M140.7 451.9h0M120.1 454.9h0M135.4 446.1h0M120.8 454.3h0M92.9 437.2h0M139.2 449.7h0M96.1 439.4h0M110.1 451.3h0M135.7 444.5h0M88.5 449.6h0M85.0 449.0h0M116.5 451.8h0M124.0 455.2h0M130.3 451.6h0M104.7 437.6h0M101.3 443.9h0M124.7 455.3h0M132.3 452.6h0M132.5 449.3h0M127.6 453.8h0M127.9 455.3h0M123.2 455.1h0M147.0 455.1h0M123.4 455.1h0M141.7 445.3h0M111.5 454.5h0M140.2 440.2h0M122.5 455.4h0M97.8 446.7h0M145.1 448.3h0M109.6 441.2h0M133.6 449.5h0M117.1 450.4h0M139.4 443.7h0M138.1 444.2h0M102.4 444.0h0M101.4 451.9h0M168.1 444.6h0M128.9 451.6h0M159.5 449.4h0M142.6 446.1h0M138.5 442.1h0M167.9 444.7h0M84.8 449.1h0M161.1 442.4h0M116.7 451.4h0M109.6 452.1h0M128.7 454.4h0M110.4 449.1h0M103.7 441.5h0M99.2 434.1h0M124.7 455.3h0M108.7 450.4h0M125.2 455.3h0M137.5 448.6h0M149.9 451.1h0M102.5 447.6h0M100.8 453.6h0M109.1 452.2h0M96.0 451.3h0M111.9 444.0h0M126.4 454.5h0M155.1 444.5h0M146.3 443.1h0M116.9 450.4h0M160.9 439.3h0M89.0 440.7h0M115.7 446.5h0M162.7 449.3h0M117.4 450.6h0M109.0 441.1h0M130.7 453.3h0M117.8 451.7h0M98.7 436.6h0M113.5 443.7h0M130.1 451.4h0M107.4 444.0h0M147.8 444.1h0M115.3 454.7h0M96.6 444.9h0M129.8 454.4h0M115.7 452.7h0M125.4 455.1h0M108.8 444.4h0M146.6 443.8h0M127.5 453.7h0M127.8 452.6h0M120.3 453.7h0M145.5 437.6h0M83.5 455.0h0M126.2 455.1h0M130.5 452.3h0M145.7 444.1h0M148.7 439.4h0M119.2 450.5h0M105.1 437.2h0M100.4 444.5h0M137.5 446.3h0M117.1 449.3h0M120.3 453.5h0M112.8 443.5h0M109.8 447.4h0M116.7 452.6h0M121.0 452.4h0M150.8 450.1h0M134.6 453.6h0M164.2 446.7h0M132.0 448.9h0M89.0 450.9h0M141.1 439.7h0M110.7 446.5h0M144.8 447.1h0M108.0 450.6h0M117.1 453.3h0M124.7 455.3h0M83.5 451.5h0M104.0 442.5h0M113.7 450.9h0M126.7 453.8h0M120.0 452.4h0M97.4 433.8h0M154.1 452.5h0M115.7 447.0h0M133.2 453.2h0M139.2 445.3h0M102.3 442.1h0M111.8 451.9h0M118.8 453.0h0M96.5 434.3h0M105.1 434.9h0M145.2 443.0h0M134.1 451.5h0M122.6 455.0h0M122.2 453.7h0M114.2 449.1h0M127.8 453.6h0M127.8 454.2h0M110.1 439.8h0M156.0 451.0h0M126.8 453.9h0M148.7 447.2h0M136.4 453.9h0M113.0 453.2h0M144.8 434.5h0M135.0 450.0h0M123.2 454.8h0M118.6 451.7h0M149.2 441.9h0M142.0 446.7h0M141.6 451.2h0M93.6 450.6h0M141.5 441.9h0M130.3 449.9h0M169.6 453.0h0M115.5 447.5h0M126.5 453.8h0M98.6 438.7h0M136.3 452.3h0M135.4 447.2h0M92.2 454.5h0M92.6 454.5h0M142.2 447.8h0M121.4 453.0h0M155.7 434.1h0M150.8 439.4h0M122.6 454.3h0M122.9 454.6h0M128.2 454.7h0M97.0 447.0h0M119.1 454.3h0M116.8 452.4h0M132.8 451.2h0M96.8 432.0h0M109.7 444.5h0M116.2 447.8h0M107.9 443.0h0M142.6 436.0h0M115.1 448.7h0M113.4 450.0h0M88.7 454.1h0M130.6 451.7h0M112.3 443.9h0M153.1 441.4h0M111.5 449.9h0M110.7 446.0h0M108.5 440.9h0M121.2 453.6h0M113.7 445.2h0M138.4 441.3h0M140.6 452.6h0M117.9 450.7h0M169.3 447.2h0M131.5 452.1h0M92.0 449.2h0M137.0 448.7h0M132.5 449.8h0M90.7 451.0h0M128.1 455.1h0M141.8 441.6h0M101.4 440.1h0M147.0 441.0h0M111.8 449.7h0M136.5 447.5h0M146.0 448.3h0M124.8 455.3h0M98.4 432.7h0M123.0 454.5h0M129.4 451.8h0M127.5 453.6h0M108.9 453.7h0M102.3 442.4h0M140.5 453.4h0M97.7 449.8h0M148.3 448.8h0M108.2 441.4h0M165.5 444.5h0M103.5 436.6h0M146.4 436.0h0M137.9 448.5h0M153.0 436.7h0M160.7 454.8h0M151.5 432.2h0M135.9 446.6h0M132.2 450.1h0M116.9 453.1h0M118.1 451.7h0M135.9 454.0h0M106.1 436.9h0M96.9 435.5h0M165.7 445.9h0M145.7 434.4h0M115.0 447.6h0M125.0 455.3h0M153.0 433.2h0M121.6 453.9h0M108.8 441.9h0M154.6 441.7h0M120.7 452.7h0M148.2 447.1h0M139.0 443.6h0M146.6 452.0h0M116.2 452.0h0M127.2 455.0h0M105.0 442.9h0M151.7 452.5h0M95.4 436.8h0M105.4 440.0h0M106.3 442.9h0M139.0 451.6h0M156.9 445.5h0M142.3 443.4h0M100.6 437.0h0M101.9 440.3h0M125.6 455.3h0M120.6 451.9h0M129.7 450.8h0M116.8 448.4h0M113.4 450.5h0M135.8 446.9h0M93.1 436.8h0M119.7 452.5h0M167.8 445.3h0M133.9 450.1h0M109.6 447.4h0M166.1 444.5h0M146.3 441.8h0M79.1 453.8h0M111.2 448.3h0M113.4 448.1h0M98.3 446.1h0M130.3 452.8h0M158.3 434.8h0M89.2 447.1h0M113.7 449.8h0M123.5 455.3h0M123.9 455.1h0M112.4 442.9h0M138.5 453.5h0M150.0 451.7h0M87.1 437.6h0M110.6 447.1h0M106.4 441.5h0M78.9 446.2h0M116.7 451.8h0M164.4 443.6h0M126.7 454.1h0M132.7 447.6h0M128.6 453.6h0M135.1 451.8h0M119.1 452.0h0M118.3 450.5h0M145.8 433.8h0M157.0 435.8h0M138.6 443.2h0M83.5 442.7h0M111.9 445.5h0M117.5 452.1h0M111.9 449.2h0M149.8 445.4h0M93.4 432.4h0M132.1 451.8h0M127.5 455.0h0M145.1 444.2h0M117.8 449.4h0M92.7 442.6h0M117.8 451.6h0M142.4 443.1h0M119.6 452.6h0M132.7 450.2h0M134.5 446.3h0M117.2 448.4h0M127.8 454.7h0M129.7 451.7h0M119.9 454.3h0M122.9 454.4h0M148.5 442.3h0M104.2 441.8h0M136.0 450.3h0M138.8 451.6h0M120.2 452.8h0M102.6 453.1h0M154.1 437.4h0M89.8 446.4h0M164.1 446.4h0M112.8 450.2h0M150.4 437.3h0M93.8 445.6h0M143.5 443.6h0M90.2 439.7h0M111.6 447.6h0M134.1 452.8h0M130.3 453.7h0M138.3 448.3h0M155.5 433.8h0M126.2 455.0h0M141.7 450.6h0M112.0 450.2h0M97.0 434.7h0M113.5 447.1h0M102.8 438.7h0M115.1 450.5h0M128.2 452.3h0M101.5 451.2h0M147.9 436.0h0M139.1 447.4h0M107.8 443.9h0M124.3 455.4h0M140.3 442.1h0M121.1 452.5h0M163.4 440.4h0M85.2 454.2h0M167.6 444.0h0M170.2 448.3h0M106.5 444.7h0M107.7 450.6h0M106.9 451.0h0M119.0 450.6h0M82.6 449.6h0M103.2 440.4h0M117.2 453.0h0M167.2 445.9h0M105.3 451.9h0M117.6 451.2h0M82.5 450.9h0M118.4 453.6h0M110.3 449.8h0M163.4 443.1h0M133.8 447.7h0M126.4 454.5h0M144.3 435.3h0M141.4 445.8h0M102.0 441.3h0M116.1 454.4h0M146.9 444.5h0M104.2 446.5h0M145.1 436.2h0M101.9 440.3h0M146.1 448.2h0M161.2 450.0h0M132.3 450.1h0M129.3 454.1h0M125.0 455.2h0M78.5 448.2h0M120.8 452.2h0M124.0 455.2h0M128.7 452.0h0M119.3 452.4h0M129.4 454.7h0M147.5 439.7h0M131.4 453.4h0M159.6 439.6h0M97.7 432.2h0M100.1 445.4h0M115.0 446.2h0M103.4 436.2h0M127.2 454.5h0M93.5 433.8h0M113.5 449.9h0M139.6 440.7h0M93.3 435.6h0M102.4 436.2h0M131.0 450.6h0M79.2 454.5h0M113.0 454.8h0M114.3 445.8h0M126.8 455.1h0M136.6 452.2h0M113.4 445.6h0M114.1 447.7h0M103.3 440.8h0M150.5 439.9h0M115.8 450.1h0M94.6 450.3h0M143.0 440.0h0M159.6 442.0h0M107.6 446.5h0M132.8 449.9h0M130.3 450.2h0M134.3 447.0h0M113.6 445.3h0M79.4 452.2h0M130.2 452.8h0M87.6 444.6h0M121.2 454.2h0M139.9 446.2h0M107.5 448.9h0M88.7 445.6h0M128.3 452.8h0M120.9 452.4h0M124.6 455.4h0M108.0 449.4h0M138.9 451.2h0M130.6 450.1h0M117.8 452.7h0M123.8 455.1h0M133.5 446.6h0M142.0 444.6h0M127.8 454.8h0M155.4 440.7h0M118.6 451.6h0M116.6 451.8h0M123.4 454.7h0M92.7 439.4h0M130.5 450.8h0M137.9 442.7h0M146.6 446.1h0M133.6 449.8h0M145.0 437.9h0M103.3 437.2h0M119.0 452.7h0M156.0 441.8h0M91.0 449.2h0M118.0 449.7h0M135.1 445.3h0M141.4 437.2h0M86.5 453.6h0M166.6 442.2h0M126.4 454.2h0M130.3 453.8h0M124.5 455.4h0M121.8 454.3h0M146.9 444.6h0M137.6 443.8h0M127.2 453.4h0M148.9 433.6h0M169.7 448.4h0M110.7 448.6h0M122.1 454.7h0M135.1 450.3h0M154.4 435.8h0M85.9 452.3h0M105.4 437.2h0M92.0 447.2h0M122.9 454.5h0M93.9 439.4h0M145.0 450.0h0M112.5 454.7h0M161.0 441.4h0M89.5 445.9h0M114.2 448.9h0M86.7 452.5h0M130.0 452.1h0M122.7 454.8h0M155.1 447.7h0M130.1 452.7h0M151.9 445.8h0M98.9 439.6h0M127.4 453.6h0M145.6 442.0h0M142.6 440.6h0M112.2 445.8h0M162.7 439.1h0M143.2 446.6h0M113.5 444.6h0M80.2 453.6h0M133.5 447.3h0M109.6 442.9h0M135.1 445.7h0M122.4 454.3h0M121.3 453.9h0M90.4 442.3h0M108.5 448.6h0M123.7 454.9h0M144.7 439.0h0M95.2 440.6h0M94.0 454.7h0M109.4 446.0h0M139.8 445.5h0M121.5 455.0h0M123.2 455.3h0M167.4 444.5h0M138.2 449.6h0M80.3 444.6h0M107.1 437.1h0M142.7 442.6h0M119.8 455.3h0M114.4 451.2h0M158.3 447.2h0M150.9 432.1h0M118.0 450.3h0M111.0 448.8h0M115.5 447.1h0M123.0 454.4h0M93.7 444.5h0M107.4 451.0h0M107.3 442.9h0M158.1 450.1h0M126.0 455.3h0M150.6 452.7h0M112.8 443.7h0M128.3 454.6h0M124.3 455.4h0M83.6 445.7h0M156.3 443.7h0M122.9 454.2h0M121.0 454.1h0M106.9 441.2h0M134.0 446.3h0M119.1 450.2h0M111.0 443.6h0M79.8 453.1h0M122.7 454.5h0M133.4 448.4h0M85.7 453.0h0M106.5 441.6h0M127.0 454.3h0M97.0 438.8h0M132.3 448.0h0M120.8 454.4h0M142.6 451.2h0M154.7 449.9h0M82.6 448.6h0M162.4 437.7h0M98.5 431.6h0M121.7 454.5h0M132.6 450.3h0M142.0 444.1h0M126.2 454.4h0M131.2 452.4h0M134.2 453.5h0M132.2 448.7h0M132.0 448.5h0M164.6 441.4h0M135.5 446.6h0M111.4 452.9h0M165.0 453.6h0M140.1 439.3h0M119.9 451.9h0M134.3 447.8h0M127.5 454.7h0M107.2 448.6h0M94.8 441.3h0M135.5 446.8h0M169.8 447.4h0M118.6 450.2h0M118.9 450.8h0M93.9 441.2h0M121.6 453.4h0M106.3 443.0h0M120.7 454.2h0M152.4 433.6h0M125.4 454.9h0M131.5 450.6h0M151.0 439.0h0M97.9 436.9h0M131.3 449.2h0M84.4 443.4h0M120.5 454.6h0M123.4 455.0h0M144.4 442.6h0M102.3 437.2h0M99.9 433.0h0M150.3 448.8h0M84.5 447.4h0M82.4 443.0h0M131.2 453.7h0M105.4 437.8h0M106.1 443.8h0M135.3 446.1h0M164.8 442.6h0M92.9 448.6h0M122.7 454.9h0M126.5 454.7h0M136.0 452.4h0M148.0 438.2h0M109.8 443.0h0M133.7 451.0h0M167.9 445.4h0M131.1 449.5h0M119.6 451.8h0M141.8 450.5h0M157.2 440.8h0M117.5 454.5h0M119.5 450.8h0M148.1 449.4h0M116.7 447.7h0M119.5 451.5h0M139.1 450.6h0M89.2 447.9h0M152.7 451.3h0M131.6 453.2h0M148.2 435.6h0M170.4 451.4h0M137.8 451.7h0M122.0 454.4h0M128.1 452.7h0M114.7 448.6h0M130.7 454.7h0M104.6 451.2h0M119.9 451.9h0M97.5 447.7h0M121.6 453.2h0M140.1 442.0h0M145.3 453.2h0M155.1 441.7h0M122.7 454.3h0M163.6 442.5h0M126.7 454.1h0M130.9 450.5h0M168.3 444.5h0M127.1 454.4h0M91.4 434.6h0M120.5 452.8h0M85.3 445.3h0M120.6 455.1h0M101.8 444.7h0M117.5 451.8h0M128.1 452.8h0M144.1 436.3h0M81.7 452.4h0M136.5 447.2h0M123.1 454.9h0M84.4 450.9h0M155.1 438.1h0M116.8 451.7h0M147.2 443.3h0M144.0 436.2h0M104.5 441.1h0M91.5 437.3h0M97.4 447.9h0M109.4 452.3h0M114.2 447.2h0M88.9 447.7h0M85.3 443.2h0M127.7 452.8h0M158.1 454.4h0M145.6 439.6h0M115.7 450.4h0M122.6 454.3h0M130.7 451.6h0M117.7 449.6h0M160.6 436.6h0M157.0 444.9h0M127.8 454.4h0M137.0 448.0h0M110.1 444.9h0M147.7 438.2h0M117.5 455.4h0M120.2 454.4h0M126.9 453.7h0M139.1 445.2h0M137.3 446.5h0M135.4 446.5h0M126.6 454.5h0M146.5 444.1h0M138.9 439.6h0M138.3 452.9h0M128.8 452.8h0M163.2 451.7h0M114.7 448.7h0M84.8 442.8h0M110.4 446.8h0M113.7 448.0h0M103.1 451.3h0M145.0 443.7h0M147.6 441.1h0M122.6 454.2h0M138.8 447.4h0M89.8 439.0h0M134.4 454.8h0M154.8 448.0h0M134.2 447.1h0M143.6 454.0h0M131.7 448.4h0M117.4 448.6h0M91.4 434.4h0M95.5 441.8h0M128.3 452.6h0M119.7 452.1h0M126.7 455.1h0M111.6 446.5h0M97.0 448.2h0M102.8 440.4h0M141.7 439.1h0M121.1 452.5h0M112.9 448.6h0M102.6 442.2h0M130.9 452.8h0M130.9 453.6h0M142.1 438.0h0M111.6 446.0h0M163.8 442.3h0M95.2 441.9h0M125.7 455.0h0M154.1 434.7h0M156.1 444.7h0M133.2 450.5h0M107.3 436.8h0M88.5 436.3h0M169.7 448.8h0M110.4 442.4h0M118.6 451.9h0M128.4 452.9h0M114.7 452.9h0M97.2 441.5h0M137.9 440.9h0M130.1 452.7h0M140.7 452.9h0M143.0 441.4h0M126.7 454.1h0M140.5 438.8h0M160.8 442.1h0M127.6 453.8h0M121.5 454.2h0M126.1 454.6h0M86.8 446.9h0M148.2 435.5h0M89.9 442.7h0M80.2 452.9h0M124.7 455.4h0M151.2 441.6h0M126.7 453.7h0M145.8 441.9h0M114.6 453.2h0M125.0 455.3h0M96.7 433.5h0M139.0 445.9h0M128.5 451.8h0M136.2 444.7h0M138.4 448.3h0M128.5 454.1h0M122.6 454.7h0M130.7 450.8h0M115.8 447.1h0M165.6 453.6h0M117.8 451.4h0M126.8 454.7h0M136.0 445.4h0M113.7 450.6h0M119.0 454.6h0M159.0 443.0h0M107.3 437.1h0M140.0 448.9h0M122.3 454.9h0M103.1 441.4h0M102.2 436.4h0M104.8 439.6h0M120.8 452.2h0M149.7 449.4h0M132.7 448.5h0M84.6 443.4h0M142.8 436.2h0M97.3 431.8h0M109.7 441.4h0M118.9 450.3h0M133.7 454.0h0M99.7 437.7h0M154.3 436.2h0M114.6 448.1h0M126.1 454.4h0M133.7 449.9h0M145.4 446.8h0M145.3 446.9h0M147.2 436.7h0M102.1 435.7h0M101.3 442.5h0M134.3 450.4h0M133.0 451.6h0M120.6 455.3h0M109.0 442.3h0M127.9 452.5h0M104.2 438.4h0M107.7 439.1h0M159.6 450.2h0M145.4 446.6h0M111.6 448.3h0M96.8 445.2h0M119.5 454.7h0M99.6 437.0h0M97.7 442.8h0M127.2 454.9h0M121.2 455.2h0M98.1 446.9h0M115.1 449.1h0M130.7 449.4h0M124.6 455.3h0M154.9 440.9h0M138.7 445.3h0M142.2 437.0h0M96.8 437.1h0M134.4 446.3h0M118.7 452.9h0M160.3 436.0h0M105.1 438.4h0M102.8 436.6h0M142.2 452.8h0M95.6 436.5h0M117.2 451.9h0M95.0 443.3h0M101.3 437.7h0M142.6 442.9h0M111.9 447.2h0M134.1 451.2h0M109.0 446.6h0M116.8 447.7h0M113.6 448.2h0M121.6 455.2h0M101.0 443.5h0M115.5 446.1h0M120.2 452.7h0M119.1 453.5h0M125.9 454.9h0M116.1 450.2h0M113.0 450.4h0M92.3 441.2h0M110.6 443.0h0M117.6 450.3h0M117.8 451.4h0M127.6 454.1h0M134.3 447.8h0M111.0 455.0h0M135.8 448.4h0M102.2 441.5h0M112.9 445.7h0M136.4 446.1h0M141.7 437.6h0M130.6 452.9h0M116.4 451.2h0M153.6 432.5h0M136.5 450.8h0M123.2 455.1h0M106.8 440.8h0M130.9 449.6h0M129.3 454.4h0M126.8 454.6h0M140.8 446.6h0M142.7 439.6h0M111.5 447.6h0M116.9 449.9h0M114.9 446.1h0M134.0 452.6h0M116.1 447.4h0M111.8 453.3h0M87.6 441.9h0M161.7 439.5h0M129.9 453.1h0M161.9 436.9h0M125.2 455.1h0M110.8 442.5h0M139.8 439.0h0M113.7 443.9h0M136.7 448.1h0M105.9 439.4h0M131.5 448.4h0M80.1 449.5h0M133.2 450.5h0M144.2 438.2h0M112.4 443.0h0M83.1 441.5h0M102.2 454.7h0M120.0 452.8h0M124.1 455.2h0M125.0 455.3h0M128.2 453.8h0M122.8 454.3h0M108.5 444.8h0M94.1 451.0h0M143.5 443.2h0M90.5 441.1h0M133.4 449.9h0M99.2 441.1h0M121.2 454.1h0M87.1 439.9h0M100.1 443.5h0M148.7 433.6h0M161.6 445.9h0M109.9 447.7h0M95.9 453.2h0M137.2 446.3h0M132.0 448.3h0M120.9 453.2h0M161.3 440.3h0M124.0 455.1h0M114.4 445.7h0M130.0 450.6h0M121.6 453.9h0M108.6 444.5h0M107.0 444.4h0M144.6 434.4h0M80.5 444.5h0M79.5 452.3h0M127.5 453.6h0M102.2 440.2h0M123.2 454.7h0M105.1 445.1h0M129.9 451.6h0M98.2 431.5h0M124.1 455.2h0M126.7 454.3h0M98.2 433.3h0M90.1 444.6h0M147.3 437.1h0M122.7 454.2h0M108.9 446.9h0M142.7 446.1h0M86.5 452.9h0M147.9 432.3h0M131.9 449.9h0M96.0 445.1h0M128.8 453.4h0M108.3 448.7h0M124.6 455.4h0M108.8 442.8h0M105.0 449.0h0M146.1 440.3h0M125.0 455.3h0M104.8 447.2h0M119.2 451.3h0M100.2 436.2h0M153.6 443.4h0M167.9 447.3h0M133.2 449.2h0M113.1 443.9h0M97.8 454.5h0M155.7 443.1h0M118.2 449.7h0M149.0 454.5h0M105.6 440.8h0M98.9 434.4h0M140.3 451.2h0M135.6 450.9h0M108.1 453.6h0M138.7 445.4h0M135.8 443.8h0M133.4 450.7h0M141.3 442.0h0M103.7 449.6h0M151.7 452.7h0M92.1 449.9h0M106.8 453.1h0M120.4 451.9h0M117.1 449.6h0M137.1 453.6h0M144.5 451.5h0M96.3 433.0h0M162.3 440.6h0M104.7 442.3h0M101.3 438.2h0M101.3 435.0h0M125.0 455.3h0M95.7 432.2h0M143.9 445.6h0M103.2 448.0h0M134.0 450.6h0M128.1 453.5h0M110.1 448.9h0M89.6 450.8h0M105.8 443.3h0M137.2 444.9h0M155.1 447.3h0M126.9 454.5h0M143.9 436.3h0M153.1 443.0h0M95.5 441.6h0M132.2 447.8h0M148.9 451.0h0M112.6 443.9h0M133.8 451.2h0M117.0 449.5h0M125.1 455.2h0M136.1 445.2h0M89.6 447.3h0M124.3 455.4h0M155.5 433.3h0M119.6 453.1h0M98.1 451.4h0M87.2 451.3h0M111.2 452.5h0M114.3 446.2h0M100.7 442.8h0M119.3 453.2h0M94.7 441.9h0M117.5 449.4h0M112.7 450.5h0M83.7 446.1h0M95.2 454.1h0M116.3 448.1h0M111.7 442.9h0M128.8 452.8h0M122.2 454.1h0M86.8 438.3h0M143.9 449.6h0M131.6 450.2h0M125.5 455.2h0M129.9 453.9h0M100.0 441.6h0M118.2 455.1h0M107.2 451.9h0M121.4 455.0h0M138.1 451.2h0M143.4 443.6h0M143.9 436.6h0M156.6 445.1h0M150.5 451.2h0M101.8 441.6h0M93.2 434.2h0M146.6 434.3h0M153.8 433.4h0M138.9 445.5h0M104.5 436.5h0M111.6 454.2h0M136.6 451.1h0M158.1 445.9h0M165.4 448.2h0M159.3 443.8h0M118.9 454.3h0M111.9 442.1h0M138.8 446.9h0M142.5 453.1h0M121.4 452.9h0M160.6 441.7h0M142.9 447.2h0M136.8 442.2h0M103.5 440.8h0M106.1 445.4h0M111.1 444.5h0M89.9 453.9h0M109.7 450.3h0M88.5 451.6h0M150.8 450.4h0M136.4 444.0h0M162.9 441.3h0M111.4 447.5h0M130.9 451.0h0M155.8 444.9h0M87.4 454.0h0M106.6 441.1h0M94.3 435.3h0M136.8 443.8h0M94.7 449.9h0M156.6 451.1h0M113.2 451.9h0M112.1 442.5h0M109.2 448.6h0M97.4 432.4h0M126.9 454.6h0M153.2 439.3h0M101.4 433.2h0M153.0 439.8h0M98.9 452.7h0M130.6 454.1h0M157.3 439.1h0M111.5 443.0h0M143.2 437.6h0M124.1 455.3h0M99.5 431.9h0M152.6 451.4h0M110.4 441.0h0M135.5 446.6h0M127.7 454.5h0M125.3 455.3h0M89.5 436.2h0M158.1 434.1h0M124.1 455.2h0M82.2 442.6h0M131.7 449.8h0M143.7 439.3h0M135.6 449.5h0M137.2 451.9h0M146.5 442.1h0M154.6 447.4h0M146.1 434.1h0M149.9 437.9h0M144.8 448.5h0M104.2 440.2h0M103.7 448.7h0M81.2 446.6h0M130.9 453.1h0M100.7 452.4h0M165.3 446.5h0M100.2 455.0h0M122.5 455.1h0M138.4 449.0h0M103.3 442.8h0M133.5 447.2h0M127.6 453.2h0M131.1 454.3h0M143.5 446.3h0M86.4 444.4h0M119.4 451.1h0M154.3 452.8h0M124.2 455.4h0M118.8 450.3h0M113.8 453.9h0M150.5 442.7h0M95.4 450.1h0M114.0 450.2h0M98.9 435.3h0M152.1 436.8h0M135.3 444.5h0M147.7 448.6h0M106.0 435.5h0M150.4 453.6h0M115.3 449.2h0M100.6 434.7h0M150.1 444.7h0M142.1 439.7h0M119.2 454.1h0M101.2 436.2h0M115.5 447.7h0M96.3 432.3h0M125.7 454.7h0M159.7 447.3h0M140.9 438.1h0M113.1 447.0h0M116.4 448.4h0M107.0 442.3h0M143.0 438.3h0M81.9 450.9h0M149.2 440.4h0M133.1 451.6h0M135.6 454.0h0M95.5 443.0h0M110.9 442.7h0M91.1 451.5h0M114.6 450.6h0M138.0 442.3h0M126.3 455.1h0M106.1 440.3h0M111.8 442.8h0M153.0 432.1h0M165.2 442.9h0M120.9 453.4h0M144.7 436.4h0M163.9 442.9h0M152.7 438.8h0M105.7 444.7h0M136.9 444.7h0M90.4 436.0h0M137.3 452.9h0M131.0 453.4h0M133.7 452.0h0M102.9 454.4h0M96.5 452.3h0M138.0 454.8h0M113.5 445.7h0M123.5 455.1h0M147.9 437.2h0M119.8 452.7h0M145.5 447.4h0M90.0 442.4h0M140.9 453.0h0M107.1 448.6h0M148.8 443.3h0M104.1 448.9h0M116.5 447.9h0M170.4 453.5h0M144.5 441.4h0M101.8 438.9h0M117.9 449.4h0M121.1 454.4h0M131.8 448.6h0M93.2 443.5h0M102.1 445.1h0M113.5 444.4h0M96.8 448.7h0M105.0 436.0h0M153.9 441.5h0M127.1 453.8h0M113.7 450.1h0M117.8 453.3h0M106.4 447.6h0M118.5 449.9h0M88.7 444.7h0M162.8 448.6h0M141.2 440.9h0M99.6 453.3h0M126.2 454.9h0M124.2 455.3h0M99.0 434.9h0M110.7 455.2h0M101.4 452.4h0M141.1 439.0h0M142.4 447.6h0M149.0 443.4h0M105.9 449.6h0M128.6 452.6h0M117.9 449.0h0M117.8 454.0h0M127.6 454.1h0M142.9 443.3h0M133.2 449.3h0M118.4 451.1h0M123.5 455.0h0M146.0 435.0h0M128.9 454.8h0M98.6 443.7h0M134.5 449.9h0M102.1 438.8h0M156.7 438.1h0M132.9 453.5h0M85.2 448.9h0M147.0 440.8h0M108.0 446.0h0M148.6 444.3h0M155.9 432.5h0M108.4 447.2h0M103.0 435.3h0M129.1 453.3h0M118.4 451.5h0M111.5 449.7h0M143.3 435.9h0M113.2 447.2h0M108.7 439.0h0M149.0 437.1h0M137.9 445.0h0M97.9 449.3h0M140.7 442.3h0M95.9 445.0h0M126.8 454.6h0M96.4 431.6h0M129.4 451.4h0M90.2 439.0h0M81.6 443.6h0M162.5 441.9h0M99.6 452.7h0M135.3 444.8h0M139.5 445.7h0M97.5 434.8h0M147.5 446.6h0M127.6 453.5h0M105.4 436.4h0M149.4 442.7h0M127.3 453.3h0M127.0 454.2h0M119.2 454.4h0M126.5 455.4h0M130.2 452.9h0M120.1 453.0h0M109.9 443.6h0M117.3 450.1h0M134.7 450.8h0M123.5 455.3h0M120.6 455.1h0M139.9 440.8h0M118.5 450.3h0M162.0 439.8h0M154.7 434.4h0M129.3 452.2h0M105.3 437.5h0M109.8 445.0h0M108.4 445.0h0M146.1 448.5h0M104.1 439.5h0M85.9 454.7h0M92.1 450.0h0M146.5 441.4h0M112.9 449.6h0M98.5 454.0h0M120.5 452.9h0M111.2 446.1h0M122.6 454.0h0M113.5 445.7h0M134.7 446.7h0M114.0 449.7h0M113.5 449.1h0M90.6 434.7h0M100.6 436.9h0M134.3 452.6h0M140.9 438.9h0M111.9 451.9h0M146.4 447.1h0M146.1 442.9h0M135.9 445.5h0M159.6 439.7h0M129.3 452.4h0M129.8 454.5h0M118.4 449.7h0M96.2 434.6h0M100.3 440.8h0M88.8 447.0h0M157.7 438.9h0M138.0 444.7h0M99.2 433.0h0M122.6 454.7h0M160.6 439.1h0M168.0 444.2h0M149.0 449.0h0M122.3 454.3h0M101.8 436.0h0M125.9 455.0h0M140.1 448.3h0M121.6 453.2h0M128.2 454.1h0M161.3 445.2h0M107.5 439.2h0M127.8 452.7h0M136.6 454.4h0M118.3 452.0h0M122.7 454.1h0M95.6 431.8h0M117.2 451.5h0M108.2 452.8h0M94.4 444.9h0M148.2 448.2h0M112.7 446.0h0M143.3 448.2h0M140.1 440.6h0M102.8 435.0h0M136.7 449.7h0M144.9 446.0h0M92.3 444.9h0M116.3 449.3h0M86.3 443.7h0M145.1 438.1h0M92.6 443.6h0M108.7 450.9h0M111.1 454.7h0M139.9 441.3h0M98.5 436.7h0M120.4 454.8h0M150.2 452.9h0M150.4 433.7h0M121.5 453.1h0M106.8 444.7h0M136.0 445.0h0M88.8 435.5h0M133.2 448.0h0M86.8 444.3h0M121.3 453.5h0M150.3 431.7h0M97.7 450.5h0M112.3 446.5h0M140.0 441.2h0M117.1 452.5h0M120.3 452.7h0M106.3 438.9h0M167.6 447.5h0M133.4 452.0h0M114.2 446.5h0M151.9 448.2h0M139.6 443.4h0M131.6 451.6h0M127.5 454.1h0M87.6 442.4h0M143.7 440.3h0M149.5 446.7h0M118.2 449.3h0M113.6 447.7h0M154.7 447.4h0M108.4 441.3h0M107.6 441.2h0M109.7 442.0h0M117.6 448.7h0M109.9 440.4h0M145.7 433.5h0M116.1 452.2h0M136.9 447.2h0M134.9 446.5h0M137.8 454.5h0M106.5 440.1h0M109.3 448.9h0M108.7 454.5h0M126.6 453.9h0M111.6 442.0h0M138.8 447.6h0M112.3 448.3h0M121.3 452.9h0M143.6 436.1h0M86.6 449.0h0M136.0 446.2h0M128.4 453.1h0M99.8 447.2h0M151.1 438.5h0M113.6 445.6h0M130.8 453.5h0M136.6 448.1h0M87.5 444.6h0M128.0 453.0h0M136.6 448.8h0M104.2 446.9h0M116.0 452.9h0M126.4 455.0h0M100.1 433.9h0M133.9 452.7h0M138.2 445.4h0M125.5 454.8h0M118.8 451.1h0M136.2 448.3h0M103.5 451.2h0M120.9 454.1h0M159.9 436.3h0M99.1 449.4h0M86.0 447.7h0M144.8 447.4h0M152.7 439.6h0M128.2 454.3h0M122.7 455.0h0M157.0 436.5h0M141.2 451.0h0M107.2 442.7h0M121.5 453.4h0M134.9 448.0h0M122.2 453.9h0M141.7 437.8h0M106.3 448.6h0M149.0 441.6h0M107.3 442.2h0M115.0 448.9h0M135.6 448.9h0M127.6 454.7h0M94.9 438.4h0M115.7 446.9h0M93.8 450.3h0M99.7 433.8h0M152.3 434.4h0M111.3 445.9h0M112.0 447.3h0M129.9 451.3h0M137.9 446.2h0M145.4 454.1h0M117.0 451.2h0M86.2 449.1h0M114.4 454.6h0M121.9 453.5h0M109.7 444.5h0M142.8 438.9h0M145.5 447.7h0M132.0 453.4h0M122.3 454.2h0M110.6 441.0h0M96.5 447.6h0M151.9 443.9h0M132.6 451.0h0M86.8 447.9h0M153.5 437.0h0M107.4 437.9h0M116.8 452.4h0M119.8 452.0h0M138.8 443.3h0M116.9 450.0h0M133.1 451.2h0M92.6 455.2h0M114.0 454.1h0M143.9 451.6h0M82.5 450.6h0M85.6 448.0h0M143.9 435.3h0M166.5 453.6h0M151.5 438.6h0M160.7 437.0h0M118.0 452.3h0M110.7 449.3h0M131.5 453.0h0M93.9 439.6h0M149.4 433.1h0M101.6 448.8h0M134.7 451.0h0M137.1 442.6h0M111.8 443.6h0M106.9 455.2h0M116.2 453.5h0M151.9 432.0h0M114.3 449.3h0M90.6 436.8h0M161.7 441.2h0M122.0 454.8h0M135.2 450.9h0M135.2 450.3h0M152.4 447.2h0M140.3 455.1h0M109.1 454.8h0M119.1 452.0h0M122.7 455.3h0M93.1 440.5h0M130.6 453.4h0M157.1 436.1h0M99.1 443.6h0M101.6 436.0h0M118.1 453.6h0M128.2 453.2h0M149.4 431.8h0M123.5 455.0h0M126.2 454.2h0M147.4 439.3h0M140.3 440.1h0M109.8 439.9h0M152.3 431.9h0M105.3 440.2h0M116.2 448.5h0M109.9 447.2h0M93.3 437.2h0M114.5 453.3h0M137.9 445.7h0M133.5 451.4h0M140.9 446.4h0M155.7 440.7h0M102.3 440.6h0M117.4 449.3h0M97.2 443.9h0M120.6 454.3h0M126.8 454.6h0M134.2 454.3h0M98.6 450.1h0M139.7 441.7h0M93.8 442.5h0M134.1 446.8h0M119.5 452.3h0M113.9 451.0h0M124.0 455.3h0M102.4 453.3h0M136.0 450.7h0M123.5 454.7h0M147.0 442.7h0M131.9 449.7h0M137.1 449.2h0M138.3 455.0h0M132.6 452.1h0M89.0 451.4h0M91.1 446.7h0M148.0 443.2h0M104.9 452.1h0M139.6 443.6h0M130.1 454.7h0M82.1 455.2h0M123.8 455.2h0M97.5 436.0h0M140.8 441.8h0M105.4 440.6h0M132.9 450.4h0M150.0 439.0h0M112.3 445.5h0M97.9 437.4h0M127.5 453.6h0M144.1 442.6h0M124.3 455.3h0M136.0 450.0h0M97.6 448.2h0M103.6 443.2h0M136.7 450.3h0M94.7 450.6h0M128.2 453.0h0M120.7 454.1h0M109.8 453.8h0M90.6 443.9h0M130.6 451.3h0M119.0 454.7h0M120.3 453.0h0M156.5 442.6h0M108.1 448.4h0M146.9 436.6h0M148.9 443.1h0M140.4 441.7h0M134.0 447.1h0M85.6 446.7h0M152.7 453.7h0M138.1 443.8h0M140.7 446.2h0M134.3 449.2h0M132.7 450.0h0M124.0 455.2h0M130.3 450.1h0M115.6 447.0h0M79.9 447.2h0M143.1 441.7h0M131.5 451.6h0M126.3 454.2h0M132.9 448.8h0M116.7 448.1h0M149.2 449.3h0M113.0 443.8h0M112.4 444.1h0M145.9 441.6h0M117.3 452.1h0M90.6 434.4h0M170.3 445.7h0M146.9 438.4h0M110.0 440.5h0M146.2 436.3h0M119.9 452.1h0M145.7 449.2h0M123.9 455.3h0M139.6 439.9h0M167.1 447.3h0M123.9 455.1h0M114.9 449.0h0M101.6 450.0h0M125.6 455.0h0M145.6 439.0h0M125.4 454.9h0M141.4 439.9h0M160.9 449.2h0M108.0 444.5h0M145.5 447.6h0M88.5 443.6h0M121.6 454.5h0M122.7 454.3h0M112.0 446.2h0M102.8 441.1h0M119.0 451.1h0M132.5 448.6h0M88.3 438.2h0M140.2 442.1h0M145.9 453.1h0M148.1 435.9h0M115.5 447.8h0M149.4 451.0h0M142.2 439.9h0M112.7 450.2h0M143.5 437.9h0M112.2 444.6h0M109.5 450.4h0M134.6 446.5h0M94.8 438.6h0M159.8 443.5h0M121.3 453.5h0M107.3 447.2h0M116.8 448.7h0M149.2 437.2h0M101.5 437.3h0M123.8 455.1h0M160.3 445.2h0M111.2 449.5h0M163.0 445.8h0M135.7 449.1h0M149.9 433.3h0M133.3 451.7h0M122.9 454.5h0M85.7 443.5h0M124.6 455.4h0M159.0 434.9h0M103.1 434.7h0M122.4 454.2h0M106.4 450.2h0M152.5 447.9h0M143.7 437.8h0M107.4 449.1h0M107.9 439.8h0M127.6 453.6h0M106.7 448.9h0M138.6 450.2h0M117.2 453.9h0M106.0 445.2h0M144.5 444.5h0M159.6 439.1h0M102.1 447.4h0M130.4 453.9h0M92.1 450.7h0M130.2 452.1h0M139.0 447.9h0M152.1 437.4h0M129.3 453.1h0M101.6 451.5h0M132.1 448.7h0M155.6 449.6h0M116.9 451.6h0M91.2 445.4h0M116.1 451.1h0M119.8 453.0h0M98.4 439.4h0M143.8 446.6h0M141.8 450.0h0M89.1 442.5h0M119.0 452.2h0M112.9 443.0h0M103.4 447.9h0M154.3 437.1h0M126.0 454.8h0M107.5 448.5h0M137.0 443.9h0M136.7 446.6h0M110.4 446.4h0M149.8 440.1h0M152.0 431.6h0M166.5 450.0h0M97.8 450.3h0M128.6 452.6h0M114.3 452.2h0M122.4 455.1h0M117.2 448.7h0M99.4 432.1h0M122.1 453.7h0M130.0 452.7h0M160.1 443.7h0M118.1 452.7h0M139.7 448.7h0M142.0 445.7h0M167.9 447.2h0M137.5 451.5h0M92.4 433.6h0M164.5 448.1h0M106.2 438.1h0M120.9 453.8h0M120.0 452.2h0M109.1 441.1h0M157.8 445.1h0M125.8 454.6h0M123.6 455.3h0M99.7 451.6h0M124.6 455.4h0M128.3 454.1h0M108.6 440.9h0M120.1 453.7h0M123.7 454.9h0M121.4 453.9h0M143.3 436.9h0M132.8 449.0h0M103.4 453.6h0M144.9 439.8h0M133.3 453.1h0M167.9 451.6h0M136.5 453.7h0M132.5 452.0h0M129.3 452.4h0M114.0 448.4h0M108.8 447.4h0M114.8 448.0h0M119.2 455.4h0M138.4 445.3h0M117.1 453.1h0M107.6 441.9h0M130.7 450.3h0M159.3 443.4h0M104.1 446.4h0M118.0 451.4h0M132.2 449.0h0M123.2 455.0h0M109.7 442.5h0M114.1 448.6h0M115.3 455.2h0M147.8 450.8h0M132.5 451.1h0M119.3 451.7h0M136.5 451.1h0M148.3 439.3h0M118.7 451.5h0M147.7 436.5h0M139.0 441.9h0M121.1 454.7h0M89.9 444.2h0M117.9 450.0h0M124.1 455.4h0M107.8 450.3h0M117.4 448.5h0M97.3 438.5h0M98.9 439.4h0M130.3 452.6h0M118.5 453.4h0M105.6 436.2h0M111.4 450.2h0M118.3 450.6h0M104.4 438.3h0M134.1 452.7h0M121.6 453.3h0M108.3 452.5h0M163.8 454.2h0M101.0 449.0h0M161.0 447.3h0M102.7 436.2h0M109.3 442.6h0M116.2 450.8h0M152.7 436.4h0M159.4 447.7h0M93.2 443.9h0M139.9 448.9h0M115.2 453.5h0M124.2 455.2h0M150.9 431.5h0M157.4 449.9h0M126.2 455.0h0M142.3 436.2h0M144.9 434.5h0M91.5 438.4h0M160.9 452.3h0M139.4 439.3h0M113.8 452.6h0M146.8 441.1h0M108.3 450.0h0M85.8 444.0h0M127.4 453.0h0M113.8 452.6h0M121.9 453.4h0M93.5 444.6h0M83.5 449.7h0M134.2 450.3h0M143.4 443.1h0M97.2 454.1h0M126.6 454.8h0M100.8 443.4h0M153.2 435.0h0M158.0 434.2h0M118.2 452.0h0M112.4 442.3h0M145.6 449.6h0M124.6 455.4h0M119.5 454.7h0M156.1 434.7h0M111.7 452.6h0M130.5 451.7h0M108.7 451.7h0M146.5 444.5h0M114.9 449.1h0M124.2 455.2h0M114.3 447.5h0M118.0 454.3h0M126.5 454.4h0M127.0 454.8h0M122.4 453.9h0M136.0 452.2h0M105.4 443.7h0M87.4 442.5h0M103.3 438.5h0M161.3 452.2h0M120.9 453.5h0M112.4 451.4h0M91.1 437.9h0M127.8 454.1h0M148.2 433.5h0M133.0 449.6h0M95.8 438.0h0M97.8 432.3h0M160.7 438.5h0M113.9 452.5h0M121.2 453.4h0M160.6 437.7h0M127.6 454.6h0M104.1 439.4h0M145.1 446.6h0M141.8 445.5h0M106.0 441.2h0M97.7 452.0h0M152.7 433.0h0M102.3 439.3h0M95.3 436.0h0M86.2 442.6h0M129.4 451.8h0M125.8 454.6h0M112.5 448.1h0M134.8 445.6h0M124.9 455.3h0M112.3 451.0h0M124.0 455.1h0M107.0 445.2h0M132.8 453.2h0M146.8 434.7h0M148.1 443.6h0M128.0 455.1h0M136.7 443.5h0M83.4 441.7h0M146.8 435.0h0M120.1 452.9h0M95.1 436.6h0M87.7 449.7h0M155.5 442.3h0M101.5 434.9h0M119.3 452.1h0M146.8 433.2h0M126.6 454.2h0M169.0 445.0h0M114.0 445.1h0M156.8 434.8h0M110.4 444.2h0M82.8 446.2h0M134.4 445.1h0M150.5 432.4h0M143.4 447.9h0M129.6 451.1h0M140.7 449.7h0M160.2 446.0h0M136.2 446.7h0M122.4 454.7h0M124.8 455.3h0M115.9 452.0h0M144.3 439.5h0M119.1 455.0h0M154.8 433.4h0M112.4 444.7h0M159.8 445.0h0M138.5 450.4h0M150.7 443.9h0M102.9 451.9h0M119.7 453.8h0M118.0 454.6h0M142.4 447.7h0M158.2 434.0h0M117.0 449.3h0M165.0 444.2h0M114.5 446.1h0M116.8 448.0h0M110.0 452.5h0M121.6 454.5h0M144.3 446.8h0M121.0 453.4h0M164.2 441.8h0M133.3 451.4h0M133.7 447.1h0M125.9 454.4h0M108.7 442.8h0M137.4 444.5h0M144.0 440.9h0M168.8 447.2h0M140.2 440.8h0M127.3 455.3h0M127.5 453.6h0M132.7 453.3h0M129.9 451.1h0M99.9 433.2h0M139.3 447.4h0M121.8 453.5h0M97.6 444.2h0M112.1 444.7h0M111.9 449.7h0M92.0 435.8h0M141.8 450.6h0M131.9 449.2h0M138.6 443.7h0M115.9 452.2h0M83.6 446.3h0M145.9 439.9h0M125.2 455.2h0M128.9 453.1h0M109.2 442.6h0M130.5 452.3h0M157.9 452.8h0M150.8 434.5h0M145.1 438.9h0M146.7 436.4h0M98.7 434.3h0M101.1 448.9h0M108.5 449.0h0M134.1 450.2h0M130.2 453.1h0M84.6 449.0h0M107.9 438.6h0M132.1 450.1h0M111.5 450.9h0M139.4 450.0h0M130.9 455.2h0M165.7 442.3h0M131.2 449.4h0M129.0 451.7h0M126.7 454.5h0M104.4 441.8h0M154.0 444.5h0M131.2 450.2h0M133.7 446.4h0M140.4 444.3h0M128.4 454.0h0M97.4 446.0h0M126.3 455.1h0M87.8 450.6h0M145.0 441.5h0M135.6 449.7h0M96.7 432.6h0M139.8 448.2h0M99.5 434.4h0M127.1 453.9h0M98.2 433.3h0M115.9 451.1h0M134.2 451.6h0M135.0 453.2h0M153.5 435.1h0M120.2 453.1h0M108.2 439.0h0M122.3 454.4h0M93.1 434.6h0M145.6 433.5h0M100.5 434.9h0M127.3 454.1h0M132.2 452.0h0M149.6 446.2h0M127.5 453.6h0M103.4 445.9h0M154.7 435.8h0M150.9 436.6h0M113.5 448.1h0M115.4 447.1h0M131.1 450.7h0M94.5 448.6h0M166.3 454.6h0M139.6 449.1h0M95.7 436.9h0M145.5 435.6h0M141.1 448.6h0M116.7 453.6h0M119.3 450.7h0M133.9 448.7h0M116.6 447.8h0M124.9 455.3h0M126.4 454.8h0M109.1 451.2h0M106.1 442.0h0M120.4 452.5h0M126.3 454.5h0M136.6 448.5h0M103.7 449.2h0M131.7 453.7h0M119.8 452.1h0M92.2 439.0h0M109.3 439.8h0M123.2 454.8h0M107.2 445.9h0M129.2 451.1h0M90.0 450.5h0M147.6 439.3h0M122.2 454.6h0M141.1 445.9h0M109.9 441.0h0M106.0 450.0h0M139.6 441.3h0M105.1 444.6h0M122.3 454.1h0M119.7 451.8h0M97.0 432.1h0M121.0 453.9h0M110.4 441.8h0M170.0 446.2h0M102.7 433.8h0M133.9 452.2h0M131.6 452.3h0M136.7 448.2h0M105.6 453.4h0M141.6 446.6h0M116.8 450.7h0M124.1 455.2h0M92.8 434.9h0M78.9 449.3h0M132.5 449.8h0M125.6 454.7h0M118.5 450.6h0M135.1 448.0h0M112.7 447.0h0M126.9 454.1h0M112.3 453.2h0M134.4 449.7h0M106.8 446.3h0M133.3 454.0h0M101.3 441.7h0M127.0 455.2h0M127.8 453.9h0M123.7 455.3h0M124.8 455.3h0M107.0 443.0h0M158.3 444.3h0M114.5 454.1h0M148.9 437.7h0M157.1 445.9h0M141.5 437.7h0M152.6 446.4h0M152.9 447.4h0M124.0 455.3h0M111.9 450.9h0M125.5 455.2h0M137.2 450.5h0M109.8 443.3h0M132.9 452.2h0M122.0 454.8h0M148.3 452.5h0M126.4 454.3h0M125.7 455.3h0M130.7 451.1h0M116.4 450.8h0M146.4 445.3h0M137.2 451.9h0M128.9 454.0h0M119.3 451.9h0M133.9 452.2h0M89.2 442.9h0M122.2 453.9h0M129.2 453.9h0M99.9 452.8h0M116.8 452.1h0M103.9 451.6h0M145.1 442.6h0M168.4 445.0h0M134.2 451.8h0M110.1 440.9h0M127.1 453.4h0M155.5 441.8h0M150.8 433.8h0M156.8 447.5h0M108.5 453.3h0M131.5 450.8h0M167.5 450.8h0M85.8 438.6h0M122.3 454.7h0M138.8 439.8h0M144.4 442.7h0M116.6 448.3h0M140.8 446.6h0M127.6 452.9h0M151.9 438.4h0M135.0 448.4h0M113.5 444.3h0M87.6 439.1h0M106.9 444.6h0M111.4 447.3h0M91.7 441.4h0M142.0 436.5h0M80.3 449.7h0M111.5 442.7h0M98.5 446.6h0M107.2 439.2h0M128.2 452.9h0M135.5 452.4h0M124.9 455.2h0M127.8 454.9h0M103.6 440.4h0M106.1 447.5h0M108.4 447.0h0M129.2 453.2h0M166.3 444.5h0M108.7 448.3h0M119.5 451.8h0M158.0 449.5h0M85.6 448.8h0M136.6 448.7h0M133.2 448.2h0M151.1 449.2h0M109.0 446.8h0M136.0 446.9h0M139.1 445.5h0M133.2 447.0h0M140.8 442.5h0M108.2 447.7h0M112.4 444.6h0M157.9 434.3h0M127.7 453.4h0M130.3 450.7h0M126.3 455.0h0M95.0 437.4h0M140.2 448.2h0M103.5 442.5h0M96.7 433.6h0M145.7 438.5h0M160.5 436.3h0M106.8 448.1h0M117.2 453.7h0M110.5 448.2h0M142.6 446.8h0M118.1 449.4h0M163.0 447.0h0M120.1 451.9h0M127.5 455.0h0M125.8 455.0h0M127.0 454.2h0M170.0 446.4h0M102.4 444.8h0M126.2 455.2h0M140.4 438.4h0M134.0 449.8h0M120.2 451.9h0M129.3 453.9h0M131.5 454.2h0M122.3 453.6h0M88.2 453.0h0M112.6 451.5h0M85.4 452.6h0M164.8 453.0h0M119.4 453.9h0M116.9 451.1h0M112.7 452.0h0M146.7 440.7h0M138.9 441.3h0M146.0 451.9h0M125.0 455.2h0M135.0 444.5h0M142.3 441.1h0M109.1 449.9h0M97.1 437.0h0M134.3 446.3h0M122.7 454.7h0M134.6 445.8h0M156.5 448.9h0M133.3 452.4h0M150.1 440.6h0M129.7 452.7h0M124.2 455.3h0M139.8 439.2h0M151.0 441.3h0M91.2 435.7h0M111.7 441.8h0M117.3 448.6h0M137.0 445.9h0M134.1 446.8h0M115.8 453.4h0M132.4 451.4h0M133.1 450.6h0M94.8 442.3h0M79.2 448.4h0M105.4 447.3h0M136.5 455.1h0M123.2 454.6h0M161.3 440.8h0M102.4 448.4h0M133.1 452.1h0M155.1 443.0h0M124.1 455.2h0M105.3 444.3h0M125.4 455.1h0M163.4 448.3h0M95.6 441.7h0M134.4 452.8h0M120.9 453.6h0M124.9 455.3h0M137.6 446.6h0M125.7 454.9h0M122.0 454.5h0M131.7 451.9h0M149.2 447.2h0M143.4 442.4h0M123.5 455.0h0M120.7 452.9h0M152.2 434.2h0M102.8 438.6h0M131.3 449.9h0M166.1 446.9h0M131.0 449.4h0M121.2 454.0h0M84.9 450.8h0M113.7 448.3h0M130.7 449.5h0M125.1 455.3h0M114.1 444.8h0M129.7 452.4h0M135.8 448.3h0M110.0 449.4h0M94.0 439.6h0M105.2 441.3h0M103.6 454.0h0M141.6 437.1h0M154.0 434.3h0M125.8 454.9h0M94.5 438.6h0M110.2 441.0h0M140.6 439.1h0M112.6 449.6h0M119.1 451.6h0M112.2 449.6h0M158.5 444.4h0M123.3 454.6h0M153.0 437.8h0M149.8 454.0h0M113.4 443.5h0M127.4 454.9h0M105.5 450.6h0M102.8 434.1h0M96.0 446.0h0M110.2 451.2h0M121.7 454.6h0M129.9 452.2h0M94.5 449.4h0M149.2 447.6h0M89.8 446.1h0M119.4 453.8h0M139.9 446.8h0M140.0 440.9h0M125.8 454.6h0M145.4 448.1h0M139.3 440.2h0M116.9 450.9h0M141.7 449.1h0M135.4 446.2h0M89.0 436.2h0M150.5 448.1h0M117.6 448.5h0M112.2 444.0h0M92.6 445.8h0M144.8 452.3h0M115.4 449.9h0M123.7 454.9h0M108.5 449.5h0M116.1 449.6h0M121.6 454.7h0M100.0 443.5h0M129.8 453.8h0M103.1 448.4h0M143.7 446.1h0M115.3 449.6h0M121.0 453.5h0M129.5 453.2h0M144.0 440.6h0M141.8 446.3h0M121.5 455.0h0M92.1 452.7h0M93.5 440.0h0M119.5 453.7h0M104.1 444.1h0M154.8 440.4h0M128.9 453.0h0M156.6 455.0h0M125.7 454.6h0M83.1 441.7h0M116.9 452.3h0M99.9 436.9h0M106.8 451.1h0M134.4 448.0h0M114.8 452.7h0M86.3 449.6h0M116.6 448.0h0M115.3 446.3h0M112.3 446.6h0M111.4 443.5h0M105.8 441.3h0M152.1 433.0h0M130.1 451.9h0M90.8 435.6h0M96.4 444.8h0M103.4 450.8h0M109.2 439.0h0M118.7 453.5h0M140.9 449.8h0M111.9 446.0h0M92.4 439.3h0M140.5 451.6h0M136.2 447.6h0M104.8 439.5h0M121.0 453.7h0M139.2 449.1h0M93.1 435.3h0M141.1 453.9h0M127.6 452.8h0M81.5 442.9h0M114.7 453.5h0M128.3 452.8h0M121.7 453.4h0M88.3 439.2h0M156.5 441.5h0M121.9 455.0h0M137.8 445.9h0M109.9 445.1h0M122.2 455.1h0M113.5 452.3h0M156.9 441.2h0M156.2 447.7h0M159.9 436.2h0M95.3 445.6h0M120.8 452.2h0M116.5 449.1h0M136.7 452.7h0M127.4 454.2h0M162.0 447.0h0M108.9 440.7h0M153.3 443.1h0M126.4 455.2h0M153.9 431.8h0M108.2 442.3h0M115.8 450.0h0M116.2 447.5h0M93.9 441.9h0M112.7 449.2h0M140.6 450.0h0M125.7 455.2h0M160.9 436.1h0M137.4 444.5h0M132.2 448.5h0M110.7 447.7h0M134.9 450.7h0M111.1 446.0h0M127.4 453.4h0M142.0 439.2h0M157.8 444.9h0M120.9 453.6h0M98.1 432.8h0M108.7 443.8h0M150.0 441.8h0M118.2 454.9h0M112.6 454.8h0M148.1 442.3h0M138.0 441.8h0M136.6 443.1h0M147.5 441.5h0M144.7 452.7h0M116.2 450.7h0M151.7 439.2h0M153.5 438.5h0M137.3 451.1h0M102.6 434.7h0M103.8 437.7h0M105.8 443.8h0M118.5 451.6h0M103.1 437.6h0M97.6 443.1h0M108.6 447.0h0M110.5 446.7h0M103.8 444.4h0M116.3 447.8h0M155.7 448.1h0M107.8 442.1h0M101.6 438.2h0M121.8 454.3h0M126.5 454.4h0M88.4 440.8h0M86.3 442.3h0M81.5 349.4h0M78.7 356.8h0M82.4 366.2h0M80.6 368.2h0M78.7 371.9h0M86.8 374.8h0M169.3 359.4h0M163.6 369.2h0M167.1 380.9h0" stroke="#bdbdbd" stroke-width="2.0" stroke-linecap="round" stroke-opacity="0.7" fill="none"/><path d="M67.0 452.1h0M78.3 449.4h0M46.8 447.0h0M77.6 449.8h0M35.2 442.3h0M69.6 445.0h0M61.8 440.6h0M49.9 449.4h0M63.2 413.4h0M64.7 444.3h0M54.2 450.9h0M76.8 445.0h0M58.8 446.5h0M76.7 450.9h0M35.9 450.9h0M53.0 435.2h0M32.6 451.5h0M56.8 446.5h0M53.9 449.6h0M75.7 440.5h0M49.1 442.6h0M58.1 428.3h0M42.0 449.9h0M39.7 448.2h0M66.7 444.8h0M71.9 451.6h0M38.9 449.1h0M76.7 448.4h0M40.3 450.3h0M68.4 450.6h0M78.3 449.9h0M70.9 447.4h0M70.4 441.4h0M71.7 439.0h0M66.5 447.8h0M69.5 431.4h0M72.7 438.7h0M36.6 425.5h0M77.3 436.3h0M74.7 450.2h0M71.9 443.6h0M61.2 422.4h0M73.8 440.6h0M62.9 452.4h0M55.9 452.3h0M67.6 450.0h0M73.6 451.4h0M42.6 439.0h0M73.1 451.4h0M48.7 452.1h0M62.0 433.3h0M67.7 449.1h0M63.4 441.2h0M34.6 430.0h0M56.2 412.5h0M67.4 436.4h0M50.1 446.8h0M55.4 449.3h0M49.2 442.3h0M52.1 446.5h0M51.2 448.6h0M43.6 451.7h0M77.4 432.6h0M65.3 452.4h0M72.5 417.6h0M72.0 422.1h0M59.0 449.7h0M67.2 447.7h0M68.1 432.6h0M42.1 441.6h0M72.8 448.9h0M68.4 449.3h0M52.7 449.6h0M77.9 451.7h0M60.0 423.6h0M37.4 428.5h0M46.6 452.2h0M46.3 448.8h0M58.8 451.9h0M72.1 451.2h0M47.3 430.7h0M71.7 445.5h0M42.7 448.7h0M64.2 448.2h0M70.0 448.9h0M42.8 451.4h0M54.3 443.4h0M46.3 439.1h0M32.6 451.7h0M56.5 450.1h0M65.1 447.5h0M53.4 449.1h0M41.1 438.2h0M47.3 440.4h0M49.1 451.7h0M48.2 440.0h0M37.8 452.0h0M70.6 443.8h0M67.3 446.9h0M71.2 448.3h0M67.1 451.6h0M45.2 447.8h0M63.6 449.7h0M39.8 429.6h0M76.3 446.4h0M75.7 448.5h0M66.5 409.3h0M66.4 448.4h0M65.5 431.1h0M59.3 452.4h0M55.4 445.9h0M78.3 438.5h0M43.0 447.3h0M47.2 437.2h0M53.3 446.8h0M38.9 427.5h0M78.0 448.0h0M76.1 446.2h0M43.4 452.2h0M78.3 450.6h0M44.8 446.1h0M61.6 440.5h0M64.4 447.5h0M69.5 446.6h0M78.0 431.7h0M44.6 420.6h0M52.3 446.5h0M64.5 449.8h0M59.5 440.1h0M49.3 452.3h0M60.6 436.6h0M75.7 446.5h0M57.5 448.4h0M74.5 443.4h0M51.4 449.1h0M64.5 451.1h0M35.7 446.6h0M76.8 446.7h0M50.6 444.4h0M42.0 450.9h0M76.5 446.3h0M58.5 442.6h0M45.4 434.2h0M78.3 437.6h0M40.7 446.3h0M62.5 449.8h0M68.6 445.7h0M70.9 426.6h0M58.4 449.0h0M57.3 447.2h0M74.6 446.2h0M42.8 452.0h0M73.6 441.7h0M65.8 439.8h0M78.0 445.5h0M66.6 444.7h0M76.9 450.2h0M71.7 448.1h0M53.8 450.8h0M71.0 452.0h0M75.7 449.2h0M60.0 443.6h0M72.2 440.8h0M59.8 434.9h0M73.7 450.0h0M70.9 452.1h0M64.1 451.8h0M72.5 449.4h0M73.4 445.8h0M65.6 449.2h0M78.3 422.1h0M69.6 393.9h0M46.1 437.8h0M42.8 426.8h0M62.2 411.1h0M78.2 413.5h0M48.4 391.7h0M36.6 407.9h0M46.4 439.0h0M65.1 435.1h0M69.5 428.5h0M66.3 434.3h0M49.3 436.2h0M54.0 395.9h0M61.2 405.3h0M67.5 406.1h0M44.2 437.8h0M46.5 407.6h0M60.1 388.2h0M39.1 392.5h0M35.2 418.3h0M34.1 387.7h0M74.1 419.2h0M67.7 432.8h0M64.9 439.5h0M75.8 395.2h0M38.3 399.5h0M71.8 389.7h0M71.7 411.9h0M70.1 403.1h0M76.8 433.2h0M67.0 419.4h0M63.0 423.8h0M63.7 406.7h0M57.1 427.9h0M41.2 404.3h0M55.4 397.2h0M78.1 409.4h0M41.6 421.9h0M62.2 388.5h0M42.8 409.7h0M50.9 405.7h0M71.0 427.3h0M61.6 407.3h0M50.7 431.9h0M37.1 315.1h0M52.3 312.5h0M58.5 325.3h0M69.3 320.9h0M72.5 320.6h0M77.8 329.6h0M48.4 336.0h0M70.2 341.7h0M65.2 346.4h0M39.9 353.7h0M54.6 357.4h0M75.1 362.1h0M70.7 365.8h0M48.4 370.1h0M38.0 371.1h0M66.5 369.6h0M72.3 370.1h0M37.1 374.6h0M66.5 374.6h0M71.8 378.8h0M39.9 379.2h0" stroke="#3f9ff2" stroke-width="2.3" stroke-linecap="round" stroke-opacity="0.62" fill="none"/><path d="M176.8 449.0h0M183.2 433.5h0M216.1 440.8h0M177.5 450.2h0M176.7 450.8h0M191.6 451.1h0M201.4 444.8h0M189.8 423.8h0M179.3 444.2h0M203.6 437.8h0M180.3 439.5h0M186.5 426.4h0M182.2 448.6h0M212.7 443.3h0M190.5 448.8h0M212.9 441.1h0M194.7 444.0h0M189.8 448.8h0M180.5 447.4h0M201.5 441.3h0M205.8 451.7h0M173.2 448.0h0M194.2 448.3h0M206.7 451.9h0M197.5 452.4h0M174.6 446.4h0M197.9 437.9h0M184.8 449.0h0M193.9 451.9h0M172.5 437.6h0M214.8 448.7h0M201.8 439.8h0M188.2 429.1h0M178.6 450.3h0M180.0 435.4h0M196.2 447.2h0M170.6 436.0h0M183.8 449.6h0M201.2 449.1h0M174.9 439.4h0M214.0 451.1h0M191.3 446.2h0M197.8 446.2h0M191.5 449.3h0M175.8 441.0h0M176.7 450.6h0M200.7 449.9h0M202.4 446.4h0M204.6 428.1h0M216.0 447.3h0M177.1 447.1h0M176.7 451.1h0M193.4 448.8h0M170.8 423.0h0M182.9 444.1h0M197.1 447.7h0M201.0 450.4h0M178.0 440.1h0M204.1 450.5h0M175.4 447.2h0M180.8 449.6h0M181.1 428.1h0M174.7 448.2h0M211.6 441.3h0M173.5 448.1h0M177.3 420.9h0M194.4 444.9h0M195.4 449.0h0M203.0 444.9h0M197.8 451.3h0M206.5 446.6h0M199.4 450.1h0M205.6 443.0h0M184.3 438.6h0M183.2 433.1h0M176.1 444.6h0M182.4 443.6h0M186.6 451.8h0M183.2 446.9h0M173.1 451.5h0M208.8 442.4h0M171.1 439.5h0M194.7 451.1h0M209.7 438.9h0M175.5 442.4h0M203.0 433.7h0M181.0 446.3h0M214.0 448.3h0M200.9 446.8h0M191.0 445.0h0M176.0 428.5h0M174.0 451.9h0M194.9 450.3h0M209.0 429.3h0M205.0 451.1h0M179.2 448.1h0M201.8 438.8h0M184.1 446.7h0M187.3 450.8h0M171.2 447.7h0M180.7 449.5h0M210.3 452.2h0M201.2 452.3h0M185.1 449.8h0M184.9 444.2h0M190.0 441.4h0M178.2 447.9h0M199.4 442.3h0M175.4 443.5h0M171.4 441.4h0M204.9 447.5h0M195.6 448.8h0M173.9 447.5h0M181.1 448.4h0M215.6 451.8h0M173.2 439.4h0M170.9 450.3h0M200.4 442.5h0M172.1 452.2h0M191.3 419.8h0M189.5 442.6h0M204.3 446.6h0M174.3 436.4h0M200.6 447.7h0M177.1 451.9h0M174.5 443.0h0M201.0 450.5h0M176.7 445.8h0M182.3 446.4h0M170.5 443.0h0M181.4 446.5h0M186.4 419.1h0M177.4 446.5h0M202.9 448.0h0M209.6 440.2h0M178.0 407.7h0M206.7 430.7h0M185.4 446.1h0M192.1 450.4h0M172.1 447.4h0M196.2 444.6h0M193.8 449.5h0M171.4 437.8h0M210.5 452.3h0M185.5 452.1h0M177.5 441.6h0M182.4 423.6h0M172.6 433.6h0M197.2 443.5h0M178.5 445.4h0M196.5 441.1h0M201.4 446.2h0M173.2 451.3h0M177.0 448.2h0M181.1 410.2h0M212.3 444.2h0M175.4 445.5h0M184.0 446.4h0M176.8 440.2h0M214.2 452.1h0M210.2 445.7h0M210.7 429.4h0M174.4 446.1h0M211.2 448.5h0M171.6 435.8h0M196.9 441.5h0M183.4 447.1h0M182.4 443.3h0M213.6 445.0h0M195.9 451.8h0M178.9 449.8h0M214.3 449.3h0M172.6 449.8h0M207.7 447.7h0M178.0 429.4h0M175.4 441.9h0M189.2 446.3h0M184.8 448.8h0M187.7 451.2h0M173.4 436.6h0M174.8 450.0h0M206.2 446.3h0M183.8 448.5h0M178.5 443.6h0M204.0 435.5h0M178.6 448.6h0M180.6 449.5h0M180.6 452.3h0M194.3 443.5h0M171.2 451.6h0M214.2 397.6h0M202.3 426.6h0M214.7 407.6h0M177.0 413.0h0M191.0 438.2h0M171.6 404.8h0M203.5 404.3h0M194.8 417.3h0M201.0 391.4h0M171.5 391.0h0M203.8 439.3h0M179.9 437.9h0M191.6 386.3h0M199.2 384.4h0M182.7 435.7h0M182.5 386.2h0M201.5 434.2h0M177.5 381.2h0M212.5 413.8h0M214.0 422.8h0M213.4 433.7h0M204.0 435.4h0M182.5 430.1h0M210.2 387.1h0M188.1 410.4h0M210.5 397.1h0M213.4 428.4h0M199.4 430.3h0M210.1 383.9h0M208.9 394.3h0M201.4 437.2h0M177.5 387.5h0M181.0 385.5h0M216.0 408.9h0M214.0 385.3h0M209.9 415.0h0M190.8 428.9h0M187.1 420.0h0M184.6 386.8h0M198.4 397.0h0M208.4 404.9h0M205.6 384.8h0M204.7 396.1h0M187.2 409.8h0M210.8 392.9h0M182.1 395.8h0M209.9 399.5h0M179.0 402.7h0M196.7 411.6h0M197.6 387.8h0M192.3 398.9h0M216.3 422.0h0M214.5 426.6h0M184.7 421.6h0M188.7 398.9h0M206.6 306.8h0M203.4 314.3h0M182.7 317.8h0M202.2 332.7h0M182.0 350.7h0M185.2 355.4h0M210.8 356.8h0M175.1 369.7h0M199.7 368.6h0M210.8 371.3h0M184.5 378.2h0M188.9 384.8h0M207.3 382.9h0M179.7 392.7h0M202.7 396.6h0" stroke="#b33232" stroke-width="2.3" stroke-linecap="round" stroke-opacity="0.65" fill="none"/><rect x="50.3" y="304.7" width="16.1" height="5.7" rx="1.2" fill="#fff" fill-opacity="0.9" stroke="#555" stroke-width="0.5"/><text x="58.4" y="309.3" font-size="4.9" text-anchor="middle" fill="#222">UGT8</text><rect x="69.6" y="312.6" width="19.2" height="5.9" rx="1.2" fill="#fff" fill-opacity="0.9" stroke="#555" stroke-width="0.5"/><text x="79.2" y="317.3" font-size="4.9" text-anchor="middle" fill="#222">HDAC9</text><rect x="24.7" y="318" width="14.2" height="6.0" rx="1.2" fill="#fff" fill-opacity="0.9" stroke="#555" stroke-width="0.5"/><text x="31.8" y="322.8" font-size="4.9" text-anchor="middle" fill="#222">IFI44</text><rect x="44.2" y="327.8" width="15.6" height="5.9" rx="1.2" fill="#fff" fill-opacity="0.9" stroke="#555" stroke-width="0.5"/><text x="52.0" y="332.5" font-size="4.9" text-anchor="middle" fill="#222">CRN4</text><rect x="68.3" y="333.5" width="16.1" height="5.7" rx="1.2" fill="#fff" fill-opacity="0.9" stroke="#555" stroke-width="0.5"/><text x="76.3" y="338.1" font-size="4.9" text-anchor="middle" fill="#222">AQP3</text><rect x="35.1" y="337.9" width="15.8" height="5.7" rx="1.2" fill="#fff" fill-opacity="0.9" stroke="#555" stroke-width="0.5"/><text x="43.0" y="342.5" font-size="4.9" text-anchor="middle" fill="#222">CPVL</text><rect x="24.7" y="346.8" width="21.4" height="5.9" rx="1.2" fill="#fff" fill-opacity="0.9" stroke="#555" stroke-width="0.5"/><text x="35.4" y="351.5" font-size="4.9" text-anchor="middle" fill="#222">STEAP4</text><rect x="50.9" y="349.3" width="15.5" height="5.7" rx="1.2" fill="#fff" fill-opacity="0.9" stroke="#555" stroke-width="0.5"/><text x="58.7" y="353.9" font-size="4.9" text-anchor="middle" fill="#222">DPP4</text><rect x="53.1" y="360" width="14.6" height="6.0" rx="1.2" fill="#fff" fill-opacity="0.9" stroke="#555" stroke-width="0.5"/><text x="60.4" y="364.8" font-size="4.9" text-anchor="middle" fill="#222">KLK5</text><rect x="203" y="298.5" width="20.6" height="6.4" rx="1.2" fill="#fff" fill-opacity="0.9" stroke="#555" stroke-width="0.5"/><text x="213.3" y="303.4" font-size="4.9" text-anchor="middle" fill="#222">FIBCD1</text><rect x="189.3" y="316.6" width="16.1" height="6.4" rx="1.2" fill="#fff" fill-opacity="0.9" stroke="#555" stroke-width="0.5"/><text x="197.4" y="321.6" font-size="4.9" text-anchor="middle" fill="#222">GATM</text><rect x="161.6" y="319.3" width="24.5" height="6.9" rx="1.2" fill="#fff" fill-opacity="0.9" stroke="#555" stroke-width="0.5"/><text x="173.8" y="324.5" font-size="4.9" text-anchor="middle" fill="#222">ALDH3A1</text><rect x="197.7" y="334.9" width="21.7" height="6.4" rx="1.2" fill="#fff" fill-opacity="0.9" stroke="#555" stroke-width="0.5"/><text x="208.6" y="339.9" font-size="4.9" text-anchor="middle" fill="#e8201c">AKR1C3</text><rect x="169.3" y="341.8" width="13.1" height="6.5" rx="1.2" fill="#fff" fill-opacity="0.9" stroke="#555" stroke-width="0.5"/><text x="175.9" y="346.8" font-size="4.9" text-anchor="middle" fill="#222">GAA</text><rect x="202.4" y="348.3" width="22.3" height="6.4" rx="1.2" fill="#fff" fill-opacity="0.9" stroke="#555" stroke-width="0.5"/><text x="213.6" y="353.2" font-size="4.9" text-anchor="middle" fill="#222">AKR1C2</text><rect x="184.5" y="358.2" width="14.2" height="6.4" rx="1.2" fill="#fff" fill-opacity="0.9" stroke="#555" stroke-width="0.5"/><text x="191.6" y="363.1" font-size="4.9" text-anchor="middle" fill="#222">TNIK</text><text x="223.7" y="369.1" font-size="4.85" text-anchor="start" fill="#333">group</text><circle cx="227.5" cy="375.7" r="1.2" fill="#5ab0f5"/><text x="234.0" y="377.1" font-size="3.9" text-anchor="start" fill="#333">Down</text><circle cx="227.5" cy="383.09999999999997" r="1.2" fill="#c4c4c4"/><text x="234.0" y="384.5" font-size="3.9" text-anchor="start" fill="#333">Not sig</text><circle cx="227.5" cy="390.5" r="1.2" fill="#c04848"/><text x="234.0" y="391.9" font-size="3.9" text-anchor="start" fill="#333">Up</text><rect x="319.30" y="182.5" width="15.67" height="8.3" fill="#4b9bd9" stroke="#9a9a9a" stroke-width="0.5"/><rect x="334.97" y="182.5" width="15.67" height="8.3" fill="#4b9bd9" stroke="#9a9a9a" stroke-width="0.5"/><rect x="350.64" y="182.5" width="15.67" height="8.3" fill="#4b9bd9" stroke="#9a9a9a" stroke-width="0.5"/><rect x="366.31" y="182.5" width="15.67" height="8.3" fill="#7b1a18" stroke="#9a9a9a" stroke-width="0.5"/><rect x="381.98" y="182.5" width="15.67" height="8.3" fill="#7b1a18" stroke="#9a9a9a" stroke-width="0.5"/><rect x="397.65" y="182.5" width="15.67" height="8.3" fill="#7b1a18" stroke="#9a9a9a" stroke-width="0.5"/><rect x="319.30" y="192.90" width="15.67" height="7.80" fill="#f4e099" stroke="#9a9a9a" stroke-width="0.5"/><rect x="334.97" y="192.90" width="15.67" height="7.80" fill="#f7f4bb" stroke="#9a9a9a" stroke-width="0.5"/><rect x="350.64" y="192.90" width="15.67" height="7.80" fill="#ef975e" stroke="#9a9a9a" stroke-width="0.5"/><rect x="366.31" y="192.90" width="15.67" height="7.80" fill="#f6ecad" stroke="#9a9a9a" stroke-width="0.5"/><rect x="381.98" y="192.90" width="15.67" height="7.80" fill="#75a4ce" stroke="#9a9a9a" stroke-width="0.5"/><rect x="397.65" y="192.90" width="15.67" height="7.80" fill="#c1deeb" stroke="#9a9a9a" stroke-width="0.5"/><rect x="309.3" y="192.90" width="7.9" height="7.80" fill="#a8e3bd" stroke="#9a9a9a" stroke-width="0.5"/><text x="415.8" y="199.5" font-size="7.6" text-anchor="start" fill="#2b932b">CYBA</text><rect x="319.30" y="200.70" width="15.67" height="7.80" fill="#de4d35" stroke="#9a9a9a" stroke-width="0.5"/><rect x="334.97" y="200.70" width="15.67" height="7.80" fill="#f4e099" stroke="#9a9a9a" stroke-width="0.5"/><rect x="350.64" y="200.70" width="15.67" height="7.80" fill="#f6f1b6" stroke="#9a9a9a" stroke-width="0.5"/><rect x="366.31" y="200.70" width="15.67" height="7.80" fill="#b4d7e7" stroke="#9a9a9a" stroke-width="0.5"/><rect x="381.98" y="200.70" width="15.67" height="7.80" fill="#cde6ef" stroke="#9a9a9a" stroke-width="0.5"/><rect x="397.65" y="200.70" width="15.67" height="7.80" fill="#e0f0ed" stroke="#9a9a9a" stroke-width="0.5"/><rect x="309.3" y="200.70" width="7.9" height="7.80" fill="#a8e3bd" stroke="#9a9a9a" stroke-width="0.5"/><text x="415.8" y="207.3" font-size="7.6" text-anchor="start" fill="#c6a233">FADS2</text><rect x="319.30" y="208.50" width="15.67" height="7.80" fill="#ea7a4d" stroke="#9a9a9a" stroke-width="0.5"/><rect x="334.97" y="208.50" width="15.67" height="7.80" fill="#f5e6a3" stroke="#9a9a9a" stroke-width="0.5"/><rect x="350.64" y="208.50" width="15.67" height="7.80" fill="#f2d086" stroke="#9a9a9a" stroke-width="0.5"/><rect x="366.31" y="208.50" width="15.67" height="7.80" fill="#eef4d2" stroke="#9a9a9a" stroke-width="0.5"/><rect x="381.98" y="208.50" width="15.67" height="7.80" fill="#b4d7e7" stroke="#9a9a9a" stroke-width="0.5"/><rect x="397.65" y="208.50" width="15.67" height="7.80" fill="#a8cfe3" stroke="#9a9a9a" stroke-width="0.5"/><rect x="309.3" y="208.50" width="7.9" height="7.80" fill="#a8e3bd" stroke="#9a9a9a" stroke-width="0.5"/><text x="415.8" y="215.1" font-size="7.6" text-anchor="start" fill="#c6a233">SQLE</text><rect x="319.30" y="216.30" width="15.67" height="7.80" fill="#f0a568" stroke="#9a9a9a" stroke-width="0.5"/><rect x="334.97" y="216.30" width="15.67" height="7.80" fill="#f4e099" stroke="#9a9a9a" stroke-width="0.5"/><rect x="350.64" y="216.30" width="15.67" height="7.80" fill="#ef975e" stroke="#9a9a9a" stroke-width="0.5"/><rect x="366.31" y="216.30" width="15.67" height="7.80" fill="#cde6ef" stroke="#9a9a9a" stroke-width="0.5"/><rect x="381.98" y="216.30" width="15.67" height="7.80" fill="#cde6ef" stroke="#9a9a9a" stroke-width="0.5"/><rect x="397.65" y="216.30" width="15.67" height="7.80" fill="#a8cfe3" stroke="#9a9a9a" stroke-width="0.5"/><rect x="309.3" y="216.30" width="7.9" height="7.80" fill="#a8e3bd" stroke="#9a9a9a" stroke-width="0.5"/><text x="415.8" y="222.9" font-size="7.6" text-anchor="start" fill="#2b932b">CYP27B1</text><rect x="319.30" y="224.10" width="15.67" height="7.80" fill="#f0a568" stroke="#9a9a9a" stroke-width="0.5"/><rect x="334.97" y="224.10" width="15.67" height="7.80" fill="#f2c17c" stroke="#9a9a9a" stroke-width="0.5"/><rect x="350.64" y="224.10" width="15.67" height="7.80" fill="#f0a568" stroke="#9a9a9a" stroke-width="0.5"/><rect x="366.31" y="224.10" width="15.67" height="7.80" fill="#c1deeb" stroke="#9a9a9a" stroke-width="0.5"/><rect x="381.98" y="224.10" width="15.67" height="7.80" fill="#cde6ef" stroke="#9a9a9a" stroke-width="0.5"/><rect x="397.65" y="224.10" width="15.67" height="7.80" fill="#c1deeb" stroke="#9a9a9a" stroke-width="0.5"/><rect x="309.3" y="224.10" width="7.9" height="7.80" fill="#a8e3bd" stroke="#9a9a9a" stroke-width="0.5"/><text x="415.8" y="230.7" font-size="7.6" text-anchor="start" fill="#2b932b">AXL</text><rect x="319.30" y="231.90" width="15.67" height="7.80" fill="#f1b372" stroke="#9a9a9a" stroke-width="0.5"/><rect x="334.97" y="231.90" width="15.67" height="7.80" fill="#f2d086" stroke="#9a9a9a" stroke-width="0.5"/><rect x="350.64" y="231.90" width="15.67" height="7.80" fill="#ef975e" stroke="#9a9a9a" stroke-width="0.5"/><rect x="366.31" y="231.90" width="15.67" height="7.80" fill="#c1deeb" stroke="#9a9a9a" stroke-width="0.5"/><rect x="381.98" y="231.90" width="15.67" height="7.80" fill="#cde6ef" stroke="#9a9a9a" stroke-width="0.5"/><rect x="397.65" y="231.90" width="15.67" height="7.80" fill="#c1deeb" stroke="#9a9a9a" stroke-width="0.5"/><rect x="309.3" y="231.90" width="7.9" height="7.80" fill="#a8e3bd" stroke="#9a9a9a" stroke-width="0.5"/><text x="415.8" y="238.5" font-size="7.6" text-anchor="start" fill="#1a1a1a">C3</text><rect x="319.30" y="239.70" width="15.67" height="7.80" fill="#f1b372" stroke="#9a9a9a" stroke-width="0.5"/><rect x="334.97" y="239.70" width="15.67" height="7.80" fill="#f0a568" stroke="#9a9a9a" stroke-width="0.5"/><rect x="350.64" y="239.70" width="15.67" height="7.80" fill="#f2c17c" stroke="#9a9a9a" stroke-width="0.5"/><rect x="366.31" y="239.70" width="15.67" height="7.80" fill="#cde6ef" stroke="#9a9a9a" stroke-width="0.5"/><rect x="381.98" y="239.70" width="15.67" height="7.80" fill="#c1deeb" stroke="#9a9a9a" stroke-width="0.5"/><rect x="397.65" y="239.70" width="15.67" height="7.80" fill="#c1deeb" stroke="#9a9a9a" stroke-width="0.5"/><rect x="309.3" y="239.70" width="7.9" height="7.80" fill="#a8e3bd" stroke="#9a9a9a" stroke-width="0.5"/><text x="415.8" y="246.3" font-size="7.6" text-anchor="start" fill="#c6a233">TFR1</text><rect x="319.30" y="247.50" width="15.67" height="7.80" fill="#f1b372" stroke="#9a9a9a" stroke-width="0.5"/><rect x="334.97" y="247.50" width="15.67" height="7.80" fill="#f0a568" stroke="#9a9a9a" stroke-width="0.5"/><rect x="350.64" y="247.50" width="15.67" height="7.80" fill="#f2c17c" stroke="#9a9a9a" stroke-width="0.5"/><rect x="366.31" y="247.50" width="15.67" height="7.80" fill="#c1deeb" stroke="#9a9a9a" stroke-width="0.5"/><rect x="381.98" y="247.50" width="15.67" height="7.80" fill="#c1deeb" stroke="#9a9a9a" stroke-width="0.5"/><rect x="397.65" y="247.50" width="15.67" height="7.80" fill="#c1deeb" stroke="#9a9a9a" stroke-width="0.5"/><rect x="309.3" y="247.50" width="7.9" height="7.80" fill="#a8e3bd" stroke="#9a9a9a" stroke-width="0.5"/><text x="415.8" y="254.1" font-size="7.6" text-anchor="start" fill="#1a1a1a">UGT8</text><rect x="319.30" y="255.30" width="15.67" height="7.80" fill="#ef975e" stroke="#9a9a9a" stroke-width="0.5"/><rect x="334.97" y="255.30" width="15.67" height="7.80" fill="#f1b372" stroke="#9a9a9a" stroke-width="0.5"/><rect x="350.64" y="255.30" width="15.67" height="7.80" fill="#f2c17c" stroke="#9a9a9a" stroke-width="0.5"/><rect x="366.31" y="255.30" width="15.67" height="7.80" fill="#daeef3" stroke="#9a9a9a" stroke-width="0.5"/><rect x="381.98" y="255.30" width="15.67" height="7.80" fill="#bbdae9" stroke="#9a9a9a" stroke-width="0.5"/><rect x="397.65" y="255.30" width="15.67" height="7.80" fill="#c1deeb" stroke="#9a9a9a" stroke-width="0.5"/><rect x="309.3" y="255.30" width="7.9" height="7.80" fill="#a8e3bd" stroke="#9a9a9a" stroke-width="0.5"/><text x="415.8" y="261.9" font-size="7.6" text-anchor="start" fill="#2b932b">GPX8</text><rect x="319.30" y="263.10" width="15.67" height="7.80" fill="#ef975e" stroke="#9a9a9a" stroke-width="0.5"/><rect x="334.97" y="263.10" width="15.67" height="7.80" fill="#f1b372" stroke="#9a9a9a" stroke-width="0.5"/><rect x="350.64" y="263.10" width="15.67" height="7.80" fill="#f1b372" stroke="#9a9a9a" stroke-width="0.5"/><rect x="366.31" y="263.10" width="15.67" height="7.80" fill="#c7e2ed" stroke="#9a9a9a" stroke-width="0.5"/><rect x="381.98" y="263.10" width="15.67" height="7.80" fill="#c1deeb" stroke="#9a9a9a" stroke-width="0.5"/><rect x="397.65" y="263.10" width="15.67" height="7.80" fill="#c1deeb" stroke="#9a9a9a" stroke-width="0.5"/><rect x="309.3" y="263.10" width="7.9" height="7.80" fill="#a8e3bd" stroke="#9a9a9a" stroke-width="0.5"/><text x="415.8" y="269.7" font-size="7.6" text-anchor="start" fill="#1a1a1a">AQP3</text><rect x="319.30" y="270.90" width="15.67" height="7.80" fill="#ef975e" stroke="#9a9a9a" stroke-width="0.5"/><rect x="334.97" y="270.90" width="15.67" height="7.80" fill="#f1b372" stroke="#9a9a9a" stroke-width="0.5"/><rect x="350.64" y="270.90" width="15.67" height="7.80" fill="#f1b372" stroke="#9a9a9a" stroke-width="0.5"/><rect x="366.31" y="270.90" width="15.67" height="7.80" fill="#c7e2ed" stroke="#9a9a9a" stroke-width="0.5"/><rect x="381.98" y="270.90" width="15.67" height="7.80" fill="#c1deeb" stroke="#9a9a9a" stroke-width="0.5"/><rect x="397.65" y="270.90" width="15.67" height="7.80" fill="#bbdae9" stroke="#9a9a9a" stroke-width="0.5"/><rect x="309.3" y="270.90" width="7.9" height="7.80" fill="#a8e3bd" stroke="#9a9a9a" stroke-width="0.5"/><text x="415.8" y="277.5" font-size="7.6" text-anchor="start" fill="#c6a233">PROCR</text><rect x="319.30" y="278.70" width="15.67" height="7.80" fill="#f2d086" stroke="#9a9a9a" stroke-width="0.5"/><rect x="334.97" y="278.70" width="15.67" height="7.80" fill="#f1b372" stroke="#9a9a9a" stroke-width="0.5"/><rect x="350.64" y="278.70" width="15.67" height="7.80" fill="#ed8954" stroke="#9a9a9a" stroke-width="0.5"/><rect x="366.31" y="278.70" width="15.67" height="7.80" fill="#daeef3" stroke="#9a9a9a" stroke-width="0.5"/><rect x="381.98" y="278.70" width="15.67" height="7.80" fill="#c1deeb" stroke="#9a9a9a" stroke-width="0.5"/><rect x="397.65" y="278.70" width="15.67" height="7.80" fill="#a8cfe3" stroke="#9a9a9a" stroke-width="0.5"/><rect x="309.3" y="278.70" width="7.9" height="7.80" fill="#a8e3bd" stroke="#9a9a9a" stroke-width="0.5"/><text x="415.8" y="285.3" font-size="7.6" text-anchor="start" fill="#1a1a1a">SOX2</text><rect x="319.30" y="286.50" width="15.67" height="7.80" fill="#f2d086" stroke="#9a9a9a" stroke-width="0.5"/><rect x="334.97" y="286.50" width="15.67" height="7.80" fill="#ef975e" stroke="#9a9a9a" stroke-width="0.5"/><rect x="350.64" y="286.50" width="15.67" height="7.80" fill="#ef975e" stroke="#9a9a9a" stroke-width="0.5"/><rect x="366.31" y="286.50" width="15.67" height="7.80" fill="#c7e2ed" stroke="#9a9a9a" stroke-width="0.5"/><rect x="381.98" y="286.50" width="15.67" height="7.80" fill="#c1deeb" stroke="#9a9a9a" stroke-width="0.5"/><rect x="397.65" y="286.50" width="15.67" height="7.80" fill="#c1deeb" stroke="#9a9a9a" stroke-width="0.5"/><rect x="309.3" y="286.50" width="7.9" height="7.80" fill="#a8e3bd" stroke="#9a9a9a" stroke-width="0.5"/><text x="415.8" y="293.1" font-size="7.6" text-anchor="start" fill="#1a1a1a">CXCL1</text><rect x="319.30" y="294.30" width="15.67" height="7.80" fill="#f0a568" stroke="#9a9a9a" stroke-width="0.5"/><rect x="334.97" y="294.30" width="15.67" height="7.80" fill="#ef975e" stroke="#9a9a9a" stroke-width="0.5"/><rect x="350.64" y="294.30" width="15.67" height="7.80" fill="#f4e099" stroke="#9a9a9a" stroke-width="0.5"/><rect x="366.31" y="294.30" width="15.67" height="7.80" fill="#e9f3db" stroke="#9a9a9a" stroke-width="0.5"/><rect x="381.98" y="294.30" width="15.67" height="7.80" fill="#9bc7df" stroke="#9a9a9a" stroke-width="0.5"/><rect x="397.65" y="294.30" width="15.67" height="7.80" fill="#c1deeb" stroke="#9a9a9a" stroke-width="0.5"/><rect x="309.3" y="294.30" width="7.9" height="7.80" fill="#a8e3bd" stroke="#9a9a9a" stroke-width="0.5"/><text x="415.8" y="300.9" font-size="7.6" text-anchor="start" fill="#c6a233">IRP1</text><rect x="319.30" y="302.10" width="15.67" height="7.80" fill="#ed8954" stroke="#9a9a9a" stroke-width="0.5"/><rect x="334.97" y="302.10" width="15.67" height="7.80" fill="#ef975e" stroke="#9a9a9a" stroke-width="0.5"/><rect x="350.64" y="302.10" width="15.67" height="7.80" fill="#f4e099" stroke="#9a9a9a" stroke-width="0.5"/><rect x="366.31" y="302.10" width="15.67" height="7.80" fill="#c1deeb" stroke="#9a9a9a" stroke-width="0.5"/><rect x="381.98" y="302.10" width="15.67" height="7.80" fill="#c7e2ed" stroke="#9a9a9a" stroke-width="0.5"/><rect x="397.65" y="302.10" width="15.67" height="7.80" fill="#bbdae9" stroke="#9a9a9a" stroke-width="0.5"/><rect x="309.3" y="302.10" width="7.9" height="7.80" fill="#a8e3bd" stroke="#9a9a9a" stroke-width="0.5"/><text x="415.8" y="308.7" font-size="7.6" text-anchor="start" fill="#1a1a1a">CD74</text><rect x="319.30" y="309.90" width="15.67" height="7.80" fill="#f0a568" stroke="#9a9a9a" stroke-width="0.5"/><rect x="334.97" y="309.90" width="15.67" height="7.80" fill="#ea7a4d" stroke="#9a9a9a" stroke-width="0.5"/><rect x="350.64" y="309.90" width="15.67" height="7.80" fill="#f6ecad" stroke="#9a9a9a" stroke-width="0.5"/><rect x="366.31" y="309.90" width="15.67" height="7.80" fill="#cde6ef" stroke="#9a9a9a" stroke-width="0.5"/><rect x="381.98" y="309.90" width="15.67" height="7.80" fill="#c1deeb" stroke="#9a9a9a" stroke-width="0.5"/><rect x="397.65" y="309.90" width="15.67" height="7.80" fill="#b4d7e7" stroke="#9a9a9a" stroke-width="0.5"/><rect x="309.3" y="309.90" width="7.9" height="7.80" fill="#a8e3bd" stroke="#9a9a9a" stroke-width="0.5"/><text x="415.8" y="316.5" font-size="7.6" text-anchor="start" fill="#2b932b">CYP2J2</text><rect x="319.30" y="321.50" width="15.67" height="7.80" fill="#c7e2ed" stroke="#9a9a9a" stroke-width="0.5"/><rect x="334.97" y="321.50" width="15.67" height="7.80" fill="#bbdae9" stroke="#9a9a9a" stroke-width="0.5"/><rect x="350.64" y="321.50" width="15.67" height="7.80" fill="#e0f0ed" stroke="#9a9a9a" stroke-width="0.5"/><rect x="366.31" y="321.50" width="15.67" height="7.80" fill="#e66b45" stroke="#9a9a9a" stroke-width="0.5"/><rect x="381.98" y="321.50" width="15.67" height="7.80" fill="#f7f4bb" stroke="#9a9a9a" stroke-width="0.5"/><rect x="397.65" y="321.50" width="15.67" height="7.80" fill="#ef975e" stroke="#9a9a9a" stroke-width="0.5"/><rect x="309.3" y="321.50" width="7.9" height="7.80" fill="#e88b8b" stroke="#9a9a9a" stroke-width="0.5"/><text x="415.8" y="328.1" font-size="7.6" text-anchor="start" fill="#1a1a1a">AKR1C4</text><rect x="319.30" y="329.30" width="15.67" height="7.80" fill="#bbdae9" stroke="#9a9a9a" stroke-width="0.5"/><rect x="334.97" y="329.30" width="15.67" height="7.80" fill="#c1deeb" stroke="#9a9a9a" stroke-width="0.5"/><rect x="350.64" y="329.30" width="15.67" height="7.80" fill="#e4f2e4" stroke="#9a9a9a" stroke-width="0.5"/><rect x="366.31" y="329.30" width="15.67" height="7.80" fill="#de4d35" stroke="#9a9a9a" stroke-width="0.5"/><rect x="381.98" y="329.30" width="15.67" height="7.80" fill="#f6f1b6" stroke="#9a9a9a" stroke-width="0.5"/><rect x="397.65" y="329.30" width="15.67" height="7.80" fill="#f2d086" stroke="#9a9a9a" stroke-width="0.5"/><rect x="309.3" y="329.30" width="7.9" height="7.80" fill="#e88b8b" stroke="#9a9a9a" stroke-width="0.5"/><text x="415.8" y="335.9" font-size="7.6" text-anchor="start" fill="#2b932b">FOXO4</text><rect x="319.30" y="337.10" width="15.67" height="7.80" fill="#cde6ef" stroke="#9a9a9a" stroke-width="0.5"/><rect x="334.97" y="337.10" width="15.67" height="7.80" fill="#c7e2ed" stroke="#9a9a9a" stroke-width="0.5"/><rect x="350.64" y="337.10" width="15.67" height="7.80" fill="#bbdae9" stroke="#9a9a9a" stroke-width="0.5"/><rect x="366.31" y="337.10" width="15.67" height="7.80" fill="#e05539" stroke="#9a9a9a" stroke-width="0.5"/><rect x="381.98" y="337.10" width="15.67" height="7.80" fill="#f6f1b6" stroke="#9a9a9a" stroke-width="0.5"/><rect x="397.65" y="337.10" width="15.67" height="7.80" fill="#f2c17c" stroke="#9a9a9a" stroke-width="0.5"/><rect x="309.3" y="337.10" width="7.9" height="7.80" fill="#e88b8b" stroke="#9a9a9a" stroke-width="0.5"/><text x="415.8" y="343.7" font-size="7.6" text-anchor="start" fill="#2b932b">GSR</text><rect x="319.30" y="344.90" width="15.67" height="7.80" fill="#c1deeb" stroke="#9a9a9a" stroke-width="0.5"/><rect x="334.97" y="344.90" width="15.67" height="7.80" fill="#c7e2ed" stroke="#9a9a9a" stroke-width="0.5"/><rect x="350.64" y="344.90" width="15.67" height="7.80" fill="#c1deeb" stroke="#9a9a9a" stroke-width="0.5"/><rect x="366.31" y="344.90" width="15.67" height="7.80" fill="#e66b45" stroke="#9a9a9a" stroke-width="0.5"/><rect x="381.98" y="344.90" width="15.67" height="7.80" fill="#f4e099" stroke="#9a9a9a" stroke-width="0.5"/><rect x="397.65" y="344.90" width="15.67" height="7.80" fill="#f3da90" stroke="#9a9a9a" stroke-width="0.5"/><rect x="309.3" y="344.90" width="7.9" height="7.80" fill="#e88b8b" stroke="#9a9a9a" stroke-width="0.5"/><text x="415.8" y="351.5" font-size="7.6" text-anchor="start" font-weight="bold" fill="#e3221e">AKR1C3</text><rect x="319.30" y="352.70" width="15.67" height="7.80" fill="#cde6ef" stroke="#9a9a9a" stroke-width="0.5"/><rect x="334.97" y="352.70" width="15.67" height="7.80" fill="#c1deeb" stroke="#9a9a9a" stroke-width="0.5"/><rect x="350.64" y="352.70" width="15.67" height="7.80" fill="#c1deeb" stroke="#9a9a9a" stroke-width="0.5"/><rect x="366.31" y="352.70" width="15.67" height="7.80" fill="#e25c3d" stroke="#9a9a9a" stroke-width="0.5"/><rect x="381.98" y="352.70" width="15.67" height="7.80" fill="#f4e099" stroke="#9a9a9a" stroke-width="0.5"/><rect x="397.65" y="352.70" width="15.67" height="7.80" fill="#f5e6a3" stroke="#9a9a9a" stroke-width="0.5"/><rect x="309.3" y="352.70" width="7.9" height="7.80" fill="#e88b8b" stroke="#9a9a9a" stroke-width="0.5"/><text x="415.8" y="359.3" font-size="7.6" text-anchor="start" fill="#1a1a1a">AKR1C1</text><rect x="319.30" y="360.50" width="15.67" height="7.80" fill="#c7e2ed" stroke="#9a9a9a" stroke-width="0.5"/><rect x="334.97" y="360.50" width="15.67" height="7.80" fill="#c7e2ed" stroke="#9a9a9a" stroke-width="0.5"/><rect x="350.64" y="360.50" width="15.67" height="7.80" fill="#c1deeb" stroke="#9a9a9a" stroke-width="0.5"/><rect x="366.31" y="360.50" width="15.67" height="7.80" fill="#e46441" stroke="#9a9a9a" stroke-width="0.5"/><rect x="381.98" y="360.50" width="15.67" height="7.80" fill="#f4e39e" stroke="#9a9a9a" stroke-width="0.5"/><rect x="397.65" y="360.50" width="15.67" height="7.80" fill="#f4e39e" stroke="#9a9a9a" stroke-width="0.5"/><rect x="309.3" y="360.50" width="7.9" height="7.80" fill="#e88b8b" stroke="#9a9a9a" stroke-width="0.5"/><text x="415.8" y="367.1" font-size="7.6" text-anchor="start" fill="#1a1a1a">AKR1C2</text><rect x="319.30" y="368.30" width="15.67" height="7.80" fill="#e4f2e4" stroke="#9a9a9a" stroke-width="0.5"/><rect x="334.97" y="368.30" width="15.67" height="7.80" fill="#a2cbe1" stroke="#9a9a9a" stroke-width="0.5"/><rect x="350.64" y="368.30" width="15.67" height="7.80" fill="#c1deeb" stroke="#9a9a9a" stroke-width="0.5"/><rect x="366.31" y="368.30" width="15.67" height="7.80" fill="#f0a568" stroke="#9a9a9a" stroke-width="0.5"/><rect x="381.98" y="368.30" width="15.67" height="7.80" fill="#f3da90" stroke="#9a9a9a" stroke-width="0.5"/><rect x="397.65" y="368.30" width="15.67" height="7.80" fill="#f0a568" stroke="#9a9a9a" stroke-width="0.5"/><rect x="309.3" y="368.30" width="7.9" height="7.80" fill="#e88b8b" stroke="#9a9a9a" stroke-width="0.5"/><text x="415.8" y="374.9" font-size="7.6" text-anchor="start" fill="#1a1a1a">HMOX1</text><rect x="319.30" y="376.10" width="15.67" height="7.80" fill="#c1deeb" stroke="#9a9a9a" stroke-width="0.5"/><rect x="334.97" y="376.10" width="15.67" height="7.80" fill="#c1deeb" stroke="#9a9a9a" stroke-width="0.5"/><rect x="350.64" y="376.10" width="15.67" height="7.80" fill="#c7e2ed" stroke="#9a9a9a" stroke-width="0.5"/><rect x="366.31" y="376.10" width="15.67" height="7.80" fill="#ef975e" stroke="#9a9a9a" stroke-width="0.5"/><rect x="381.98" y="376.10" width="15.67" height="7.80" fill="#f2d086" stroke="#9a9a9a" stroke-width="0.5"/><rect x="397.65" y="376.10" width="15.67" height="7.80" fill="#f2c17c" stroke="#9a9a9a" stroke-width="0.5"/><rect x="309.3" y="376.10" width="7.9" height="7.80" fill="#e88b8b" stroke="#9a9a9a" stroke-width="0.5"/><text x="415.8" y="382.7" font-size="7.6" text-anchor="start" fill="#2b932b">SESN3</text><rect x="319.30" y="383.90" width="15.67" height="7.80" fill="#bbdae9" stroke="#9a9a9a" stroke-width="0.5"/><rect x="334.97" y="383.90" width="15.67" height="7.80" fill="#c7e2ed" stroke="#9a9a9a" stroke-width="0.5"/><rect x="350.64" y="383.90" width="15.67" height="7.80" fill="#c7e2ed" stroke="#9a9a9a" stroke-width="0.5"/><rect x="366.31" y="383.90" width="15.67" height="7.80" fill="#f0a568" stroke="#9a9a9a" stroke-width="0.5"/><rect x="381.98" y="383.90" width="15.67" height="7.80" fill="#f2d086" stroke="#9a9a9a" stroke-width="0.5"/><rect x="397.65" y="383.90" width="15.67" height="7.80" fill="#f0a568" stroke="#9a9a9a" stroke-width="0.5"/><rect x="309.3" y="383.90" width="7.9" height="7.80" fill="#e88b8b" stroke="#9a9a9a" stroke-width="0.5"/><text x="415.8" y="390.5" font-size="7.6" text-anchor="start" fill="#2b932b">ALDH3A1</text><rect x="319.30" y="391.70" width="15.67" height="7.80" fill="#daeef3" stroke="#9a9a9a" stroke-width="0.5"/><rect x="334.97" y="391.70" width="15.67" height="7.80" fill="#e4f2e4" stroke="#9a9a9a" stroke-width="0.5"/><rect x="350.64" y="391.70" width="15.67" height="7.80" fill="#c7e2ed" stroke="#9a9a9a" stroke-width="0.5"/><rect x="366.31" y="391.70" width="15.67" height="7.80" fill="#eef4d2" stroke="#9a9a9a" stroke-width="0.5"/><rect x="381.98" y="391.70" width="15.67" height="7.80" fill="#e25c3d" stroke="#9a9a9a" stroke-width="0.5"/><rect x="397.65" y="391.70" width="15.67" height="7.80" fill="#f0a568" stroke="#9a9a9a" stroke-width="0.5"/><rect x="309.3" y="391.70" width="7.9" height="7.80" fill="#e88b8b" stroke="#9a9a9a" stroke-width="0.5"/><text x="415.8" y="398.3" font-size="7.6" text-anchor="start" fill="#2b932b">NRF2</text><rect x="319.30" y="399.50" width="15.67" height="7.80" fill="#deeff1" stroke="#9a9a9a" stroke-width="0.5"/><rect x="334.97" y="399.50" width="15.67" height="7.80" fill="#deeff1" stroke="#9a9a9a" stroke-width="0.5"/><rect x="350.64" y="399.50" width="15.67" height="7.80" fill="#e9f3db" stroke="#9a9a9a" stroke-width="0.5"/><rect x="366.31" y="399.50" width="15.67" height="7.80" fill="#e2f1e8" stroke="#9a9a9a" stroke-width="0.5"/><rect x="381.98" y="399.50" width="15.67" height="7.80" fill="#db3e2e" stroke="#9a9a9a" stroke-width="0.5"/><rect x="397.65" y="399.50" width="15.67" height="7.80" fill="#f2d086" stroke="#9a9a9a" stroke-width="0.5"/><rect x="309.3" y="399.50" width="7.9" height="7.80" fill="#e88b8b" stroke="#9a9a9a" stroke-width="0.5"/><text x="415.8" y="406.1" font-size="7.6" text-anchor="start" fill="#2b932b">UCP2</text><rect x="319.30" y="407.30" width="15.67" height="7.80" fill="#daeef3" stroke="#9a9a9a" stroke-width="0.5"/><rect x="334.97" y="407.30" width="15.67" height="7.80" fill="#eef4d2" stroke="#9a9a9a" stroke-width="0.5"/><rect x="350.64" y="407.30" width="15.67" height="7.80" fill="#e0f0ed" stroke="#9a9a9a" stroke-width="0.5"/><rect x="366.31" y="407.30" width="15.67" height="7.80" fill="#d4eaf1" stroke="#9a9a9a" stroke-width="0.5"/><rect x="381.98" y="407.30" width="15.67" height="7.80" fill="#e05539" stroke="#9a9a9a" stroke-width="0.5"/><rect x="397.65" y="407.30" width="15.67" height="7.80" fill="#f0ac6d" stroke="#9a9a9a" stroke-width="0.5"/><rect x="309.3" y="407.30" width="7.9" height="7.80" fill="#e88b8b" stroke="#9a9a9a" stroke-width="0.5"/><text x="415.8" y="413.9" font-size="7.6" text-anchor="start" fill="#c6a233">IRP2</text><rect x="319.30" y="415.10" width="15.67" height="7.80" fill="#aed3e5" stroke="#9a9a9a" stroke-width="0.5"/><rect x="334.97" y="415.10" width="15.67" height="7.80" fill="#daeef3" stroke="#9a9a9a" stroke-width="0.5"/><rect x="350.64" y="415.10" width="15.67" height="7.80" fill="#cde6ef" stroke="#9a9a9a" stroke-width="0.5"/><rect x="366.31" y="415.10" width="15.67" height="7.80" fill="#f5e9a8" stroke="#9a9a9a" stroke-width="0.5"/><rect x="381.98" y="415.10" width="15.67" height="7.80" fill="#e05539" stroke="#9a9a9a" stroke-width="0.5"/><rect x="397.65" y="415.10" width="15.67" height="7.80" fill="#f6eeb2" stroke="#9a9a9a" stroke-width="0.5"/><rect x="309.3" y="415.10" width="7.9" height="7.80" fill="#e88b8b" stroke="#9a9a9a" stroke-width="0.5"/><text x="415.8" y="421.7" font-size="7.6" text-anchor="start" fill="#2b932b">NCF4</text><rect x="319.30" y="422.90" width="15.67" height="7.80" fill="#cde6ef" stroke="#9a9a9a" stroke-width="0.5"/><rect x="334.97" y="422.90" width="15.67" height="7.80" fill="#d4eaf1" stroke="#9a9a9a" stroke-width="0.5"/><rect x="350.64" y="422.90" width="15.67" height="7.80" fill="#bbdae9" stroke="#9a9a9a" stroke-width="0.5"/><rect x="366.31" y="422.90" width="15.67" height="7.80" fill="#f7f4bb" stroke="#9a9a9a" stroke-width="0.5"/><rect x="381.98" y="422.90" width="15.67" height="7.80" fill="#ed8954" stroke="#9a9a9a" stroke-width="0.5"/><rect x="397.65" y="422.90" width="15.67" height="7.80" fill="#ed8954" stroke="#9a9a9a" stroke-width="0.5"/><rect x="309.3" y="422.90" width="7.9" height="7.80" fill="#e88b8b" stroke="#9a9a9a" stroke-width="0.5"/><text x="415.8" y="429.5" font-size="7.6" text-anchor="start" fill="#c6a233">FSP1</text><rect x="319.30" y="430.70" width="15.67" height="7.80" fill="#cde6ef" stroke="#9a9a9a" stroke-width="0.5"/><rect x="334.97" y="430.70" width="15.67" height="7.80" fill="#bbdae9" stroke="#9a9a9a" stroke-width="0.5"/><rect x="350.64" y="430.70" width="15.67" height="7.80" fill="#bbdae9" stroke="#9a9a9a" stroke-width="0.5"/><rect x="366.31" y="430.70" width="15.67" height="7.80" fill="#f5e9a8" stroke="#9a9a9a" stroke-width="0.5"/><rect x="381.98" y="430.70" width="15.67" height="7.80" fill="#ef9e63" stroke="#9a9a9a" stroke-width="0.5"/><rect x="397.65" y="430.70" width="15.67" height="7.80" fill="#eb8251" stroke="#9a9a9a" stroke-width="0.5"/><rect x="309.3" y="430.70" width="7.9" height="7.80" fill="#e88b8b" stroke="#9a9a9a" stroke-width="0.5"/><text x="415.8" y="437.3" font-size="7.6" text-anchor="start" fill="#c6a233">SLC7A11</text><rect x="319.30" y="438.50" width="15.67" height="7.80" fill="#c7e2ed" stroke="#9a9a9a" stroke-width="0.5"/><rect x="334.97" y="438.50" width="15.67" height="7.80" fill="#c7e2ed" stroke="#9a9a9a" stroke-width="0.5"/><rect x="350.64" y="438.50" width="15.67" height="7.80" fill="#c1deeb" stroke="#9a9a9a" stroke-width="0.5"/><rect x="366.31" y="438.50" width="15.67" height="7.80" fill="#f5e9a8" stroke="#9a9a9a" stroke-width="0.5"/><rect x="381.98" y="438.50" width="15.67" height="7.80" fill="#ee9059" stroke="#9a9a9a" stroke-width="0.5"/><rect x="397.65" y="438.50" width="15.67" height="7.80" fill="#ed8954" stroke="#9a9a9a" stroke-width="0.5"/><rect x="309.3" y="438.50" width="7.9" height="7.80" fill="#e88b8b" stroke="#9a9a9a" stroke-width="0.5"/><text x="415.8" y="445.1" font-size="7.6" text-anchor="start" fill="#c6a233">PHGDH</text><text x="415.8" y="190.4" font-size="7.6" text-anchor="start" font-weight="bold" fill="#111">SampleType</text><text x="0.0" y="0.0" font-size="7.6" text-anchor="end" fill="#111" transform="translate(329.7,448.6) rotate(-90)">OE33P_1</text><text x="0.0" y="0.0" font-size="7.6" text-anchor="end" fill="#111" transform="translate(345.4,448.6) rotate(-90)">OE33P_2</text><text x="0.0" y="0.0" font-size="7.6" text-anchor="end" fill="#111" transform="translate(361.1,448.6) rotate(-90)">OE33P_3</text><text x="0.0" y="0.0" font-size="7.6" text-anchor="end" fill="#111" transform="translate(376.7,448.6) rotate(-90)">OE33R_1</text><text x="0.0" y="0.0" font-size="7.6" text-anchor="end" fill="#111" transform="translate(392.4,448.6) rotate(-90)">OE33R_2</text><text x="0.0" y="0.0" font-size="7.6" text-anchor="end" fill="#111" transform="translate(408.1,448.6) rotate(-90)">OE33R_3</text><text x="0.0" y="0.0" font-size="7.7" text-anchor="end" font-weight="bold" fill="#111" transform="translate(316.1,448.6) rotate(-90)">GeneClass</text><defs><linearGradient id="hb" x1="0" y1="0" x2="0" y2="1"><stop offset="0.000" stop-color="#da3b2c"/><stop offset="0.167" stop-color="#ee8c56"/><stop offset="0.333" stop-color="#f3d88c"/><stop offset="0.500" stop-color="#f7f7c0"/><stop offset="0.667" stop-color="#dceff4"/><stop offset="0.833" stop-color="#93c2dc"/><stop offset="1.000" stop-color="#4878b8"/></linearGradient></defs><rect x="464.2" y="182" width="7.7" height="117.3" fill="url(#hb)"/><text x="475.2" y="193.1" font-size="7.2" text-anchor="start" fill="#222">1.5</text><text x="475.2" y="209.8" font-size="7.2" text-anchor="start" fill="#222">1</text><text x="475.2" y="226.6" font-size="7.2" text-anchor="start" fill="#222">0.5</text><text x="475.2" y="243.3" font-size="7.2" text-anchor="start" fill="#222">0</text><text x="475.2" y="260.0" font-size="7.2" text-anchor="start" fill="#222">−0.5</text><text x="475.2" y="276.8" font-size="7.2" text-anchor="start" fill="#222">−1</text><text x="475.2" y="293.5" font-size="7.2" text-anchor="start" fill="#222">−1.5</text><text x="455.8" y="328.4" font-size="7.6" text-anchor="start" font-weight="bold" fill="#111">SampleType</text><rect x="455.8" y="331" width="10.7" height="11.2" fill="#4b9bd9" stroke="#9a9a9a" stroke-width="0.4"/><rect x="455.8" y="342.2" width="10.7" height="11.2" fill="#7b1a18" stroke="#9a9a9a" stroke-width="0.4"/><text x="469.0" y="339.2" font-size="7.2" text-anchor="start" fill="#222">OE33P</text><text x="469.0" y="350.4" font-size="7.2" text-anchor="start" fill="#222">OE33R</text><text x="455.8" y="367.4" font-size="7.6" text-anchor="start" font-weight="bold" fill="#111">GeneClass</text><rect x="455.8" y="370.4" width="10.7" height="11" fill="#e88b8b" stroke="#9a9a9a" stroke-width="0.4"/><rect x="455.8" y="381.4" width="10.7" height="11" fill="#a8e3bd" stroke="#9a9a9a" stroke-width="0.4"/><text x="469.0" y="378.6" font-size="7.2" text-anchor="start" fill="#222">up</text><text x="469.0" y="389.6" font-size="7.2" text-anchor="start" fill="#222">down</text><path d="M307.5 220.2H304.5V228.0H307.5M307.5 235.8H305.5V243.6H307.5M305.5 239.7H304.0V251.4H307.5M304.5 224.1H303.0V245.6H304.0M307.5 267.0H305.5V274.8H307.5M307.5 259.2H304.0V270.9H305.5M307.5 306.0H306.0V313.8H307.5M307.5 298.2H305.5V309.9H306.0M307.5 290.4H305.0V304.0H305.5M307.5 282.6H303.5V297.2H305.0M304.0 265.0H302.5V289.9H303.5M303.0 234.8H300.5V277.5H302.5M307.5 212.4H299.5V256.2H300.5M307.5 204.6H295.9V234.3H299.5M307.5 196.8H288.0V219.4H295.9M307.5 325.4H303.0V333.2H307.5M307.5 341.0H305.5V348.8H307.5M307.5 356.6H305.5V364.4H307.5M305.5 344.9H304.0V360.5H305.5M307.5 380.0H305.5V387.8H307.5M307.5 372.2H303.5V383.9H305.5M304.0 352.7H301.5V378.0H303.5M303.0 329.3H298.6V365.4H301.5M307.5 403.4H305.0V411.2H307.5M307.5 395.6H301.5V407.3H305.0M307.5 434.6H305.5V442.4H307.5M307.5 426.8H304.5V438.5H305.5M307.5 419.0H299.0V432.6H304.5M301.5 401.4H294.4V425.8H299.0M298.6 347.3H284.4V413.6H294.4M288.0 208.1H278.6V380.5H284.4" stroke="#222" stroke-width="0.75" fill="none"/><line x1="586.6" y1="214.9" x2="586.6" y2="290.8" stroke="#222" stroke-width="0.9"/><line x1="586.6" y1="290.4" x2="636.4" y2="290.4" stroke="#222" stroke-width="0.9"/><line x1="584.0" y1="290.4" x2="586.6" y2="290.4" stroke="#222" stroke-width="0.9"/><text x="583.0" y="292.8" font-size="6.9" text-anchor="end" fill="#111">0</text><line x1="584.0" y1="275.4" x2="586.6" y2="275.4" stroke="#222" stroke-width="0.9"/><text x="583.0" y="277.8" font-size="6.9" text-anchor="end" fill="#111">5</text><line x1="584.0" y1="260.4" x2="586.6" y2="260.4" stroke="#222" stroke-width="0.9"/><text x="583.0" y="262.8" font-size="6.9" text-anchor="end" fill="#111">10</text><line x1="584.0" y1="245.3" x2="586.6" y2="245.3" stroke="#222" stroke-width="0.9"/><text x="583.0" y="247.7" font-size="6.9" text-anchor="end" fill="#111">15</text><line x1="584.0" y1="230.3" x2="586.6" y2="230.3" stroke="#222" stroke-width="0.9"/><text x="583.0" y="232.7" font-size="6.9" text-anchor="end" fill="#111">20</text><line x1="584.0" y1="215.3" x2="586.6" y2="215.3" stroke="#222" stroke-width="0.9"/><text x="583.0" y="217.7" font-size="6.9" text-anchor="end" fill="#111">25</text><line x1="601.3" y1="290.4" x2="601.3" y2="293.0" stroke="#222" stroke-width="0.9"/><line x1="622.6" y1="290.4" x2="622.6" y2="293.0" stroke="#222" stroke-width="0.9"/><text x="0.0" y="0.0" font-size="7.1" text-anchor="middle" fill="#111" transform="translate(569.8,253.5) rotate(-90)">AKR1C3 mRNA expression level</text><rect x="594.8" y="287.4" width="13.2" height="3.0" fill="#fff" stroke="#3c5fc6" stroke-width="0.9"/><path d="M615.8 290.4 V234.8 H629.4 V290.4" fill="#fff" stroke="#ef3b2c" stroke-width="1.1"/><circle cx="598.4" cy="287.2" r="1.0" fill="#3c5fc6"/><circle cx="601.4" cy="287.2" r="1.0" fill="#3c5fc6"/><circle cx="604.4" cy="287.2" r="1.0" fill="#3c5fc6"/><line x1="622.6" y1="234.8" x2="622.6" y2="229.4" stroke="#ef3b2c" stroke-width="0.8"/><line x1="620.4" y1="229.4" x2="624.8" y2="229.4" stroke="#ef3b2c" stroke-width="0.8"/><rect x="620.0" y="236.9" width="1.8" height="1.8" fill="#ef3b2c"/><rect x="623.4" y="236.9" width="1.8" height="1.8" fill="#ef3b2c"/><rect x="621.7" y="228.8" width="1.8" height="1.8" fill="#ef3b2c"/><rect x="621.7" y="236.0" width="1.8" height="1.8" fill="#ef3b2c"/><line x1="586.6" y1="290.4" x2="636.4" y2="290.4" stroke="#222" stroke-width="0.9"/><path d="M601.3 223.8V219.4H622.6V223.8" stroke="#222" stroke-width="0.9" fill="none"/><text x="611.9" y="220.2" font-size="9" text-anchor="middle" fill="#111">***</text><text x="0.0" y="0.0" font-size="7.4" text-anchor="end" fill="#111" transform="translate(606.6,298.6) rotate(-45)">OE33P</text><text x="0.0" y="0.0" font-size="7.4" text-anchor="end" fill="#111" transform="translate(627.9,298.6) rotate(-45)">OE33R</text><text x="592.3" y="374.4" font-size="7.3" text-anchor="middle" fill="#111">OE33P</text><text x="634.5" y="374.4" font-size="7.3" text-anchor="middle" fill="#111">OE33R</text><text x="566.3" y="397.0" font-size="7.3" text-anchor="end" fill="#111">AKR1C3</text><text x="566.3" y="429.0" font-size="7.3" text-anchor="end" fill="#111">Tubulin</text><defs><filter id="bl" x="-20%" y="-80%" width="140%" height="260%"><feGaussianBlur stdDeviation="0.9"/></filter><filter id="bl2" x="-20%" y="-80%" width="140%" height="260%"><feGaussianBlur stdDeviation="1.4"/></filter></defs><rect x="569.3" y="379.3" width="83.4" height="28.2" fill="#fff" stroke="#111" stroke-width="1.1"/><rect x="569.3" y="412.1" width="83.4" height="28.2" fill="#fff" stroke="#111" stroke-width="1.1"/><g filter="url(#bl2)"><path d="M577 393.5 Q583 391.5 592 392.5 Q600 392 607 392.8 L607 398.5 Q598 399.5 590 398.8 Q583 399.5 577 398.5Z" fill="#8c8c8c"/></g><g filter="url(#bl)"><path d="M577.5 393.5 Q590 392.5 606 393.5 L606 395 Q590 394 577.5 395Z" fill="#666"/></g><g filter="url(#bl)"><path d="M617.5 390.5 Q624 388.6 632 390.2 Q640 390.8 647 388.8 L647.5 395.5 Q640 395.5 632 395.2 Q624 397.5 617.5 396.8Z" fill="#0c0c0c"/></g><g filter="url(#bl)"><path d="M575.5 421.8 Q590 420.5 606.5 421.8 L606.5 429.2 Q590 430.8 575.5 429.2Z" fill="#060606"/></g><g filter="url(#bl)"><path d="M615.5 423 Q630 422 647 421.6 L647 428.6 Q630 429.6 615.5 429.8Z" fill="#060606"/></g><rect x="27.3" y="512.5" width="170.5" height="192.8" fill="#fff" stroke="#b0b0b0" stroke-width="0.8"/><line x1="25.3" y1="515.1" x2="27.3" y2="515.1" stroke="#666" stroke-width="0.5"/><text x="23.8" y="516.7" font-size="4.6" text-anchor="end" fill="#555">15</text><line x1="25.3" y1="548.4" x2="27.3" y2="548.4" stroke="#666" stroke-width="0.5"/><text x="23.8" y="550.0" font-size="4.6" text-anchor="end" fill="#555">10</text><line x1="25.3" y1="581.7" x2="27.3" y2="581.7" stroke="#666" stroke-width="0.5"/><text x="23.8" y="583.3" font-size="4.6" text-anchor="end" fill="#555">5</text><line x1="25.3" y1="615.0" x2="27.3" y2="615.0" stroke="#666" stroke-width="0.5"/><text x="23.8" y="616.6" font-size="4.6" text-anchor="end" fill="#555">0</text><line x1="25.3" y1="648.3" x2="27.3" y2="648.3" stroke="#666" stroke-width="0.5"/><text x="23.8" y="649.9" font-size="4.6" text-anchor="end" fill="#555">−5</text><line x1="25.3" y1="681.6" x2="27.3" y2="681.6" stroke="#666" stroke-width="0.5"/><text x="23.8" y="683.2" font-size="4.6" text-anchor="end" fill="#555">−10</text><line x1="52.7" y1="705.3" x2="52.7" y2="707.3" stroke="#666" stroke-width="0.5"/><line x1="86.5" y1="705.3" x2="86.5" y2="707.3" stroke="#666" stroke-width="0.5"/><line x1="120.3" y1="705.3" x2="120.3" y2="707.3" stroke="#666" stroke-width="0.5"/><line x1="154.2" y1="705.3" x2="154.2" y2="707.3" stroke="#666" stroke-width="0.5"/><line x1="188.1" y1="705.3" x2="188.1" y2="707.3" stroke="#666" stroke-width="0.5"/><text x="86.5" y="711.0" font-size="4.6" text-anchor="middle" fill="#555">0</text><text x="154.2" y="711.0" font-size="4.6" text-anchor="middle" fill="#555">10</text><text x="109.6" y="723.2" font-size="8.3" text-anchor="middle" fill="#222">UMAP_1</text><text x="0.0" y="0.0" font-size="8.5" text-anchor="middle" fill="#222" transform="translate(13.8,620) rotate(-90)">UMAP_2</text><polygon points="42.6,588.4 49.5,587.4 57.1,588.0 64.8,590.0 61.0,598.4 57.9,607.6 56.4,618.3 55.6,623.7 47.9,622.2 42.6,619.9 40.0,613.7 39.5,603.0 40.3,593.8" fill="#8fd14f" fill-opacity="0.92" stroke="#8fd14f" stroke-width="0.8" stroke-opacity="0.92" stroke-linejoin="round"/><path d="M53.8 621.1h0M48.1 592.6h0M43.0 589.3h0M48.8 597.2h0M39.7 601.6h0M47.8 610.5h0M45.1 615.1h0M53.5 607.8h0M57.8 600.7h0M57.3 595.9h0M61.0 590.3h0M52.1 615.2h0M53.2 607.8h0M58.1 606.0h0M56.0 616.8h0M53.4 616.8h0M52.4 622.7h0M52.2 618.0h0M49.2 589.1h0M53.1 604.7h0M52.6 599.1h0M55.8 608.6h0M45.9 615.8h0M42.3 609.5h0M44.4 591.1h0M52.7 611.8h0M46.1 600.0h0M48.6 621.9h0M51.1 590.8h0M46.0 612.7h0M54.9 593.0h0M46.4 602.9h0M43.3 598.8h0M55.6 598.4h0M48.7 615.5h0M56.1 605.7h0M53.0 599.2h0M46.4 620.0h0M44.1 611.8h0M48.8 593.0h0M42.9 616.8h0M43.9 612.7h0M53.3 608.3h0M57.2 603.1h0M45.4 597.3h0M51.3 598.1h0M59.8 595.1h0M51.9 609.2h0M46.6 603.9h0M61.8 591.7h0M56.8 609.4h0M46.2 609.7h0M42.4 614.0h0M42.7 594.5h0M47.0 597.1h0M44.2 603.5h0M55.7 619.5h0M46.8 600.1h0M50.0 600.6h0M57.3 590.1h0M50.0 609.5h0M47.9 601.6h0M41.3 606.4h0M47.7 616.1h0M53.1 592.0h0M62.8 590.8h0M55.1 612.7h0M58.0 588.4h0M50.0 613.2h0M45.1 596.8h0M52.0 601.6h0M47.2 608.2h0M58.0 601.1h0M60.2 594.7h0M54.6 600.4h0M50.8 616.8h0M41.6 605.6h0M51.7 600.5h0M41.8 610.1h0M48.0 620.5h0M45.7 616.5h0M52.2 605.7h0M48.2 608.8h0M59.2 601.3h0M57.7 599.8h0M51.7 607.5h0M43.0 604.3h0M41.2 594.2h0M62.2 589.6h0M53.4 602.6h0M45.7 593.0h0M56.9 593.0h0M40.9 605.1h0M51.2 593.5h0M47.5 616.8h0M59.7 592.4h0M52.9 620.8h0M53.3 621.2h0M48.7 601.1h0M42.1 610.0h0M55.3 598.7h0M46.0 595.6h0M43.3 617.5h0M55.0 609.3h0M42.8 590.7h0M56.4 601.7h0M43.9 596.1h0M45.7 613.2h0M42.9 605.1h0M56.6 612.3h0M50.6 593.9h0M50.8 608.8h0M48.2 595.9h0M42.7 616.9h0M44.1 594.0h0M63.5 590.4h0M57.2 595.5h0M56.5 600.4h0M44.0 594.5h0M40.2 606.5h0M43.6 616.2h0M50.8 609.2h0M50.7 598.6h0M59.4 596.9h0M42.7 611.5h0M57.4 602.5h0M50.4 591.0h0M42.3 612.2h0M42.8 593.9h0M50.3 610.4h0M59.3 601.2h0M50.2 617.6h0M51.4 605.7h0M53.4 599.1h0M58.6 588.5h0M47.6 617.3h0M47.4 593.8h0M48.8 606.8h0M41.4 617.0h0M56.5 592.9h0M51.6 608.1h0M52.2 596.1h0M43.5 600.3h0M50.4 588.6h0M47.4 621.0h0M48.4 605.9h0M45.1 607.1h0M53.0 612.3h0M48.2 602.1h0M53.0 609.9h0M51.1 606.3h0M40.2 608.2h0M60.4 589.1h0M42.5 601.4h0M42.3 616.1h0M50.7 616.2h0M41.1 602.6h0M52.3 602.4h0M42.8 604.2h0M56.4 603.4h0M60.8 598.5h0M52.0 612.8h0M48.5 618.0h0M50.5 606.1h0M40.5 606.9h0M52.7 607.2h0M48.3 612.8h0M49.3 606.0h0M55.8 614.2h0M47.2 587.8h0M58.3 594.8h0M49.4 620.2h0M44.6 597.4h0M49.4 614.2h0M52.1 590.0h0M60.9 589.0h0M42.4 594.0h0M55.4 601.5h0M54.9 620.6h0M40.0 603.0h0M45.7 602.0h0M47.3 614.3h0M52.7 597.0h0M53.6 602.2h0M44.3 605.7h0M50.1 595.7h0M55.6 591.7h0M50.9 614.3h0M57.5 589.9h0M59.2 593.7h0M45.2 594.4h0M55.3 606.1h0M50.0 591.2h0M58.9 599.1h0M44.1 611.4h0M56.9 601.8h0M57.7 591.4h0M54.3 614.7h0M46.4 615.9h0M57.8 596.3h0M47.3 596.5h0M42.7 591.4h0M50.7 617.8h0M63.5 592.4h0M59.1 598.8h0M53.0 607.4h0M49.2 613.9h0M58.3 589.3h0M52.1 608.4h0M49.3 611.9h0M52.1 621.2h0M47.1 612.4h0M44.1 593.9h0M46.0 601.2h0M44.9 588.2h0M43.2 599.4h0M47.0 612.8h0M54.3 595.1h0M47.5 611.9h0M43.4 607.6h0M57.8 593.3h0M43.7 605.0h0M53.2 621.1h0M52.4 600.5h0M51.7 605.6h0M62.7 590.3h0M49.6 610.4h0M50.5 607.3h0M59.7 593.3h0M52.5 597.1h0M49.9 593.4h0M42.9 609.2h0M45.9 594.6h0M41.2 607.1h0M51.4 610.5h0M43.0 614.3h0M43.6 595.9h0M55.0 593.4h0M50.2 621.6h0M57.2 610.4h0M41.4 606.5h0M49.2 617.7h0M59.4 602.3h0M54.9 600.9h0M56.6 590.9h0M57.2 608.7h0M44.3 597.5h0M52.9 612.5h0M54.4 612.2h0M56.7 609.9h0M48.5 616.9h0M52.9 610.2h0M40.4 593.7h0M52.9 592.9h0M53.6 590.7h0M47.3 609.5h0M52.4 600.7h0M52.3 614.6h0M45.9 617.2h0M52.9 602.4h0M59.8 598.7h0M54.5 610.1h0M53.3 606.0h0M52.9 591.4h0M47.5 589.9h0M55.0 614.0h0M52.3 605.4h0M54.5 608.8h0M59.6 596.6h0M45.6 595.1h0M56.1 605.8h0M47.6 600.6h0M46.1 621.2h0M56.2 588.6h0M45.5 609.2h0M43.3 592.1h0M40.4 605.1h0M42.6 616.8h0M51.2 620.3h0M57.1 592.6h0M54.4 594.5h0M49.3 589.3h0M51.9 619.7h0M60.2 593.5h0M43.3 593.8h0M54.0 608.1h0M48.3 609.4h0M45.5 602.3h0M48.6 617.8h0M52.1 609.6h0M53.1 603.7h0M47.9 614.0h0M48.0 616.9h0M53.7 620.6h0M42.5 597.8h0M44.3 594.0h0M49.0 618.4h0M45.9 588.2h0M51.5 588.6h0M54.8 590.6h0M45.1 588.7h0M50.5 619.3h0M40.8 614.9h0M56.4 593.7h0M43.0 597.4h0M50.8 598.1h0M55.6 623.3h0M56.5 599.7h0M53.2 617.1h0M45.1 613.3h0M51.2 614.9h0M54.0 602.9h0M51.8 598.2h0M59.4 594.5h0M44.0 589.4h0M47.1 617.2h0M47.4 618.4h0M45.0 618.7h0M60.1 598.6h0M50.6 621.5h0M55.5 592.9h0" stroke="#8fd14f" stroke-width="0.8" stroke-linecap="round" stroke-opacity="0.9" fill="none"/><path d="M55.4 597.9h0M42.5 616.2h0M41.4 596.1h0M51.8 611.6h0M53.4 606.6h0M49.6 619.4h0M47.7 619.1h0M46.5 605.1h0M49.2 622.2h0M51.0 606.5h0M45.9 596.0h0M56.1 616.9h0M59.0 594.0h0M54.4 620.2h0M54.8 609.4h0M53.9 609.4h0M41.2 614.2h0M62.3 595.3h0M50.2 594.4h0M45.3 617.5h0M48.0 608.1h0M62.2 591.8h0M48.6 606.0h0M56.0 606.1h0M54.0 611.6h0M44.4 600.8h0M57.7 594.9h0M50.1 619.6h0M42.5 594.3h0M55.9 615.4h0M59.2 589.9h0M40.4 607.0h0M58.7 591.8h0M42.2 603.3h0M40.4 593.7h0M44.1 591.3h0M40.6 603.2h0M63.1 589.6h0M45.8 616.5h0M46.6 614.0h0M56.5 612.5h0M55.5 606.1h0M53.6 587.9h0M58.7 592.6h0M43.5 592.9h0M51.8 606.7h0M45.0 601.5h0M49.9 616.9h0M56.5 608.7h0M43.8 593.0h0M45.2 599.8h0M55.6 622.9h0M45.4 599.0h0M45.0 619.0h0M40.8 615.3h0M48.6 607.1h0M48.4 596.8h0M43.9 595.9h0M51.2 596.1h0M48.2 594.1h0M45.5 617.3h0M56.5 607.7h0M54.6 621.7h0M54.3 616.8h0M43.0 611.5h0M55.0 621.0h0M41.5 610.9h0M40.9 604.6h0M40.4 607.1h0M49.9 599.2h0M63.1 591.7h0M52.7 608.9h0M56.3 614.8h0M48.9 598.1h0M51.4 612.4h0M49.9 622.4h0M51.0 604.3h0M46.1 607.5h0M50.3 594.8h0M58.4 589.7h0M47.1 604.5h0M46.8 615.8h0M57.8 592.5h0M62.4 590.3h0M40.3 597.5h0M45.9 607.9h0M50.6 621.5h0M53.1 618.5h0M45.0 620.8h0M50.4 591.1h0M49.9 617.6h0M51.5 602.8h0M40.6 610.0h0M46.1 603.4h0M51.8 594.2h0M47.8 595.6h0M43.2 599.9h0M51.5 588.4h0M46.2 601.3h0M54.2 604.7h0M56.3 612.7h0M59.5 591.6h0M61.9 595.3h0M52.4 611.5h0M52.6 611.6h0M59.0 591.1h0M43.9 612.5h0M55.3 611.4h0M53.9 618.2h0M51.0 590.0h0M52.0 616.2h0M47.2 620.5h0M54.3 597.4h0M50.1 620.9h0M41.4 614.3h0" stroke="#ffffff" stroke-width="0.6" stroke-linecap="round" stroke-opacity="0.6" fill="none"/><path d="M59.9 602.5h0M38.6 600.8h0M41.9 588.1h0M48.2 586.3h0M61.2 598.6h0M59.9 601.2h0M41.1 603.4h0M57.0 612.3h0M59.2 588.7h0M41.3 591.4h0M59.8 601.7h0M44.1 587.9h0M48.6 587.5h0M54.7 623.9h0M43.3 588.6h0M40.0 612.1h0M55.1 616.3h0M57.1 609.4h0M39.9 603.8h0M50.7 623.0h0M40.9 615.6h0M41.9 592.6h0M58.2 607.3h0M57.3 609.7h0M38.9 595.6h0M63.4 589.0h0M49.4 588.5h0M60.6 588.2h0M41.8 619.2h0M39.4 608.4h0M55.9 617.3h0M39.2 610.4h0M47.5 588.1h0M60.7 598.4h0M39.0 606.0h0M60.3 600.2h0M40.5 609.7h0M46.2 621.6h0M58.4 613.0h0M43.0 587.5h0M44.7 621.0h0M63.7 592.7h0M40.9 591.9h0M40.3 610.1h0M42.1 617.6h0M39.2 610.7h0M41.8 589.3h0M49.5 622.9h0M56.4 613.8h0M41.9 591.3h0M48.2 588.1h0M41.9 610.1h0M57.9 614.2h0M62.3 597.0h0M48.8 587.5h0M46.3 621.0h0M59.0 601.8h0M64.3 591.5h0M40.6 617.5h0M56.2 588.4h0M53.6 586.9h0M40.0 601.2h0M46.0 588.3h0M56.2 614.5h0M40.5 604.6h0M58.1 588.4h0M60.8 600.7h0M39.6 606.1h0M39.4 594.4h0M42.6 590.0h0M40.4 613.7h0M52.9 587.3h0M52.1 587.4h0M55.3 618.6h0M42.6 617.8h0M57.3 605.1h0M46.7 587.2h0M60.1 598.6h0M57.6 588.6h0M47.8 620.4h0M42.7 620.5h0M56.1 619.3h0M43.4 589.3h0M64.2 593.9h0M60.9 588.6h0M45.8 589.8h0M50.7 625.3h0M51.1 587.7h0M39.5 600.3h0M41.0 597.2h0M55.9 622.2h0M56.9 614.9h0M51.7 622.7h0M55.9 623.1h0M52.6 622.5h0M44.7 588.7h0M64.5 589.4h0M39.4 607.0h0M41.7 589.9h0M48.2 621.7h0M57.5 589.1h0M45.0 588.0h0M38.6 602.6h0M55.8 618.9h0M57.2 620.2h0M56.6 617.9h0" stroke="#8fd14f" stroke-width="0.7" stroke-linecap="round" fill="none"/><polygon points="64.8,590.0 70.9,590.4 78.6,592.0 86.2,592.3 92.4,595.3 97.7,601.5 99.7,610.7 100.0,618.3 104.6,620.2 111.5,619.1 114.6,618.3 120.0,620.2 124.9,623.7 126.1,627.8 123.3,631.3 117.7,632.9 110.0,633.6 101.6,634.6 93.9,637.0 88.5,640.1 80.1,642.8 70.9,643.6 64.0,641.6 59.4,635.9 56.8,627.5 55.9,623.7 56.4,618.3 57.9,607.6 61.0,598.4" fill="#c9a13f" fill-opacity="0.9" stroke="#c9a13f" stroke-width="0.8" stroke-opacity="0.9" stroke-linejoin="round"/><path d="M86.0 593.7h0M87.1 625.2h0M58.5 612.4h0M74.0 591.1h0M72.9 604.1h0M94.7 601.2h0M67.5 591.5h0M61.5 617.6h0M88.9 621.1h0M79.7 595.8h0M57.4 612.1h0M108.9 632.3h0M62.5 634.8h0M65.6 601.1h0M64.4 605.9h0M65.2 599.9h0M71.2 603.0h0M72.5 610.5h0M108.1 625.8h0M69.3 602.6h0M64.8 601.9h0M66.9 636.7h0M100.7 619.3h0M83.1 629.3h0M76.4 627.1h0M109.9 627.2h0M72.8 617.4h0M88.2 612.3h0M118.3 626.5h0M70.8 611.8h0M87.4 621.5h0M83.8 637.4h0M80.5 604.2h0M73.4 636.6h0M117.3 621.2h0M80.1 605.9h0M77.9 619.9h0M77.6 612.4h0M95.1 620.6h0M64.4 596.1h0M112.9 623.4h0M94.4 624.1h0M85.2 592.4h0M96.4 619.2h0M120.8 623.3h0M76.7 630.3h0M77.0 634.4h0M88.3 596.6h0M61.9 615.8h0M81.0 630.5h0M72.8 631.6h0M118.7 626.3h0M108.1 622.3h0M71.7 631.2h0M71.5 639.6h0M65.9 599.4h0M71.3 611.7h0M82.9 618.7h0M125.8 627.9h0M95.3 600.2h0M63.9 595.7h0M86.0 619.0h0M92.2 618.6h0M58.1 611.6h0M102.6 624.6h0M74.4 628.9h0M73.2 601.2h0M69.4 636.6h0M92.7 635.9h0M79.8 633.6h0M88.4 600.3h0M84.5 629.3h0M74.7 598.9h0M75.6 621.3h0M64.2 600.7h0M94.2 628.9h0M97.3 624.6h0M86.9 596.3h0M75.4 626.8h0M100.8 626.0h0M80.7 597.3h0M124.1 625.2h0M88.6 595.1h0M100.5 624.1h0M83.2 612.5h0M90.3 617.3h0M104.6 631.3h0M85.7 619.2h0M103.9 626.3h0M64.9 641.6h0M94.2 613.2h0M64.5 640.8h0M74.4 633.0h0M73.3 635.6h0M79.9 639.0h0M83.9 628.2h0M85.0 625.2h0M74.5 612.8h0M67.5 613.3h0M100.8 621.3h0M94.6 625.5h0M94.1 609.5h0M90.9 614.1h0M74.3 614.6h0M95.3 598.9h0M71.0 600.4h0M75.6 595.7h0M82.4 609.8h0M96.6 607.1h0M83.9 632.4h0M91.2 637.6h0M63.1 631.0h0M61.3 607.3h0M57.1 613.8h0M89.4 631.0h0M62.4 625.5h0M94.9 608.5h0M61.1 599.6h0M91.8 601.6h0M95.4 624.3h0M80.5 596.8h0M104.4 632.1h0M71.5 631.6h0M106.6 623.3h0M118.9 620.1h0M86.9 592.8h0M77.2 625.5h0M80.3 610.4h0M59.3 622.4h0M79.6 596.9h0M99.2 618.0h0M66.1 638.2h0M66.9 639.4h0M64.3 635.0h0M67.9 627.4h0M69.6 615.4h0M77.9 636.5h0M74.2 597.0h0M82.4 613.4h0M69.8 615.8h0M88.2 623.0h0M74.5 640.1h0M79.3 596.4h0M98.6 635.4h0M84.6 637.1h0M68.6 607.8h0M83.2 629.8h0M89.7 602.7h0M70.0 630.8h0M96.6 602.5h0M106.8 631.9h0M75.9 593.0h0M76.4 632.3h0M98.7 633.7h0M69.9 618.8h0M66.1 625.2h0M68.6 594.4h0M123.9 625.3h0M61.1 627.6h0M77.7 623.8h0M73.6 611.1h0M77.5 622.2h0M83.9 593.0h0M99.6 615.2h0M81.3 641.7h0M84.8 609.3h0M73.8 601.3h0M85.7 604.9h0M83.2 622.9h0M69.6 618.5h0M94.1 605.1h0M92.3 630.1h0M101.0 632.8h0M65.5 632.8h0M101.1 631.5h0M58.6 618.2h0M63.2 603.7h0M104.2 627.7h0M73.6 626.6h0M85.3 631.3h0M104.1 633.3h0M73.0 615.8h0M79.3 622.0h0M58.5 622.1h0M124.7 626.6h0M73.2 614.5h0M61.0 626.3h0M73.6 601.3h0M70.6 627.4h0M124.6 625.9h0M60.3 636.5h0M89.4 598.5h0M87.1 639.0h0M62.7 633.6h0M74.4 606.3h0M70.7 631.5h0M78.9 640.1h0M115.0 623.0h0M96.8 621.4h0M72.3 609.7h0M59.2 633.6h0M85.4 620.6h0M115.2 618.8h0M75.7 606.5h0M83.3 611.0h0M64.4 595.2h0M86.8 626.4h0M72.3 611.7h0M92.3 607.0h0M78.2 600.4h0M81.2 626.7h0M108.7 626.1h0M74.1 599.4h0M90.9 627.3h0M91.0 635.1h0M69.3 608.1h0M77.1 599.2h0M111.7 626.5h0M98.7 609.5h0M76.7 640.8h0M72.0 618.1h0M79.1 634.0h0M94.4 616.1h0M80.7 619.2h0M81.7 616.7h0M86.1 624.2h0M87.5 637.7h0M83.0 621.9h0M79.0 599.8h0M92.1 614.4h0M80.7 635.0h0M102.3 622.5h0M94.0 608.4h0M72.7 625.2h0M74.2 614.2h0M72.0 624.0h0M106.9 625.9h0M96.4 614.4h0M68.5 615.0h0M77.5 623.2h0M72.8 611.9h0M90.5 637.3h0M106.3 623.1h0M91.9 612.9h0M67.0 635.7h0M83.9 633.9h0M68.1 618.3h0M59.7 635.9h0M75.5 618.8h0M79.5 610.9h0M120.4 625.0h0M87.1 639.4h0M117.3 624.1h0M96.9 600.9h0M101.6 628.7h0M64.3 624.7h0M75.6 640.2h0M78.9 637.3h0M96.7 604.2h0M61.3 636.0h0M86.5 627.1h0M64.3 630.7h0M82.4 605.6h0M94.0 634.4h0M68.8 603.6h0M84.1 628.6h0M73.8 592.4h0M81.7 601.9h0M93.6 602.1h0M64.3 615.2h0M87.9 615.1h0M91.4 636.4h0M91.8 602.7h0M93.9 610.2h0M69.0 639.6h0M89.0 605.5h0M63.7 609.6h0M75.9 601.0h0M79.4 612.1h0M98.3 634.9h0M66.6 612.5h0M118.2 621.7h0M62.3 619.3h0M72.7 610.4h0M88.0 622.4h0M79.6 634.8h0M91.3 626.2h0M110.6 626.0h0M58.1 619.7h0M78.5 617.5h0M78.8 598.6h0M99.8 627.5h0M62.9 635.8h0M69.9 603.0h0M78.0 630.8h0M66.3 612.1h0M59.1 623.7h0M114.0 627.9h0M95.9 627.6h0M79.4 611.4h0M111.9 621.0h0M100.0 627.4h0M77.5 625.2h0M101.0 627.5h0M73.6 624.5h0M94.3 612.5h0M67.3 622.2h0M70.5 595.6h0M70.4 597.9h0M86.2 613.4h0M79.3 596.0h0M87.2 616.1h0M90.1 622.0h0M125.4 626.5h0M61.1 608.4h0M90.0 600.8h0M115.2 631.0h0M103.4 626.9h0M75.2 635.0h0M97.9 609.3h0M122.4 627.3h0M70.7 608.5h0M115.6 629.6h0M109.7 626.9h0M91.3 628.9h0M93.1 623.5h0M100.5 619.3h0M74.1 591.4h0M116.7 629.1h0M82.5 633.4h0M70.9 624.6h0M100.5 624.3h0M63.9 624.9h0M83.4 614.7h0M84.2 629.6h0M92.4 624.2h0M113.6 621.5h0M73.9 634.7h0M94.9 603.1h0M82.0 619.6h0M82.9 592.9h0M60.0 626.1h0M85.4 598.4h0M62.7 632.3h0M88.2 621.7h0M91.6 625.2h0M64.1 593.7h0M95.0 603.3h0M87.8 633.6h0M64.4 593.6h0M88.2 598.4h0M96.4 631.8h0M80.9 621.2h0M96.1 627.0h0M105.0 621.7h0M66.7 640.8h0M69.6 636.9h0M64.6 631.3h0M99.0 619.0h0M81.9 613.8h0M84.5 594.5h0M93.8 625.2h0M63.1 615.0h0M85.5 628.0h0M73.0 629.0h0M80.1 642.2h0M85.9 626.1h0M88.2 635.0h0M117.3 625.9h0M90.5 633.0h0M77.4 625.0h0M115.7 620.3h0M117.4 621.9h0M88.5 615.4h0M58.3 613.1h0M70.1 601.6h0M58.3 622.0h0M63.0 616.5h0M69.3 614.5h0M88.9 624.0h0M119.6 629.2h0M87.6 598.7h0M64.4 639.3h0M111.1 626.4h0M73.5 599.0h0M94.4 615.5h0M84.7 606.2h0M76.1 601.4h0M122.2 627.6h0M99.4 611.4h0M76.6 624.7h0M67.2 629.5h0M111.9 627.6h0M84.3 612.8h0M86.6 621.9h0M87.4 610.3h0M94.5 602.8h0M89.9 626.1h0M89.1 594.5h0M65.5 636.3h0M86.3 620.8h0M57.7 623.2h0M97.0 606.3h0M72.5 625.1h0M119.1 630.2h0M88.8 617.2h0M75.9 640.8h0M71.4 593.9h0M82.1 598.8h0M75.6 613.9h0M73.5 593.4h0M82.0 610.7h0M64.4 603.6h0M73.9 606.8h0M89.5 598.9h0M65.7 611.4h0M86.6 598.9h0M76.5 641.9h0M88.1 639.0h0M60.8 630.8h0M77.4 595.3h0M68.1 600.9h0M73.0 638.7h0M96.0 609.7h0M74.8 596.7h0M66.3 610.1h0M114.8 628.7h0M83.1 601.3h0M79.1 628.4h0M119.9 621.1h0M111.3 631.5h0M63.7 621.6h0M96.3 634.8h0M66.2 642.2h0M64.1 637.7h0M123.7 629.4h0M94.8 630.1h0M110.2 625.1h0M60.5 600.4h0M109.4 620.3h0M81.7 610.9h0M82.0 619.4h0M84.4 626.9h0M77.8 602.1h0M70.6 627.9h0M93.3 603.9h0M68.6 608.5h0M57.8 615.7h0M67.2 592.5h0M64.3 595.7h0M82.8 630.7h0M60.2 617.4h0M69.0 601.4h0M70.2 637.4h0M82.3 602.6h0M88.0 604.5h0M90.0 619.9h0M76.3 592.2h0M60.2 627.0h0M109.9 621.5h0M89.6 605.1h0M89.8 631.8h0M68.4 633.1h0M124.8 625.4h0M76.3 640.5h0M80.0 619.3h0M76.0 595.9h0M104.1 625.6h0M79.5 624.1h0M100.1 625.4h0M70.8 612.0h0M67.5 623.5h0M65.0 624.3h0M66.4 605.4h0M72.1 625.5h0M87.9 612.6h0M73.0 610.8h0M82.9 607.6h0M85.1 630.5h0M79.5 628.9h0M69.3 601.9h0M60.0 613.3h0M66.6 638.8h0M102.4 619.5h0M105.4 626.6h0M120.0 624.0h0M106.8 622.3h0M63.8 636.5h0M99.0 624.1h0M67.8 637.1h0M61.5 624.5h0M121.0 625.2h0M79.6 592.3h0M89.3 638.8h0M62.3 630.9h0M64.7 603.0h0M74.5 596.6h0M67.6 628.2h0M64.2 631.9h0M57.8 612.2h0M98.8 633.8h0M106.2 620.7h0M85.8 621.8h0M80.1 615.3h0M124.1 630.1h0M124.9 627.6h0M120.3 626.2h0M102.5 619.6h0M81.0 607.7h0M118.7 626.7h0M69.0 592.3h0M108.2 629.9h0M104.5 621.7h0M59.7 624.4h0M107.5 624.3h0M88.4 595.9h0M88.9 639.6h0M66.0 598.3h0M76.9 623.5h0M56.9 624.6h0M99.2 617.7h0M113.1 627.5h0M95.2 624.2h0M75.4 629.1h0M58.6 624.3h0M76.0 623.6h0M70.3 640.7h0M114.6 629.0h0M88.4 614.5h0M89.9 631.2h0M111.8 624.7h0M92.7 602.0h0M96.4 622.7h0M91.9 637.9h0M70.8 634.9h0M86.9 639.0h0M120.8 627.2h0M76.4 616.5h0M83.8 632.2h0M102.1 623.8h0M60.8 604.8h0M86.6 612.8h0M85.8 600.6h0M60.4 632.5h0M98.6 634.9h0M58.6 621.5h0M95.8 622.8h0M98.6 621.9h0M90.1 606.8h0M78.1 623.1h0M95.0 614.2h0M76.0 602.1h0M84.8 618.4h0M77.7 641.3h0M79.0 632.2h0M64.6 634.1h0M97.9 606.6h0M72.3 617.9h0M109.9 625.6h0M116.6 623.7h0M89.9 597.0h0M82.4 605.7h0M95.0 625.4h0M61.8 632.5h0M64.1 606.9h0M58.7 622.6h0M111.7 622.7h0M75.7 599.4h0M78.3 618.8h0M83.9 605.6h0M81.6 607.5h0M64.1 625.2h0M68.3 620.8h0M80.0 638.0h0M66.1 626.8h0M66.0 612.9h0M99.7 622.5h0M114.8 621.7h0M78.3 597.6h0M87.6 637.4h0M91.0 621.7h0M81.2 640.8h0M113.3 629.4h0M64.9 625.3h0M89.2 627.4h0M117.3 621.0h0M71.3 622.5h0M67.0 608.3h0M92.0 621.5h0M59.5 633.4h0M71.9 633.1h0M83.1 636.8h0M67.8 635.3h0M62.0 632.1h0M82.7 631.0h0M116.4 619.5h0M82.0 600.3h0M89.2 600.3h0M86.9 599.4h0M80.8 613.7h0M84.0 624.8h0M110.0 631.8h0M66.5 599.1h0M73.5 626.3h0M56.0 623.9h0M89.4 625.9h0M80.0 605.4h0M98.3 611.0h0M68.6 596.5h0M113.4 633.0h0M59.5 622.1h0M70.3 614.4h0M120.3 631.3h0M77.5 594.5h0M89.4 615.9h0M80.9 595.4h0M122.8 627.2h0M105.3 624.3h0M60.6 624.9h0M64.9 597.0h0M89.5 632.9h0M76.2 621.4h0M97.5 614.8h0M89.9 604.8h0M62.0 600.3h0M64.7 610.9h0M68.6 636.8h0M95.7 618.8h0M71.7 626.2h0M115.3 629.1h0M106.6 630.4h0M98.9 626.7h0M64.4 621.3h0M66.8 600.8h0M88.9 631.7h0M94.8 600.8h0M113.1 625.6h0M86.5 623.1h0M90.6 606.7h0M78.7 638.7h0M109.5 620.3h0M83.5 616.6h0M122.5 626.9h0M92.1 630.7h0M115.0 629.8h0M75.8 606.8h0M62.7 635.9h0M65.9 628.3h0M68.5 631.2h0M76.4 609.7h0M69.0 611.2h0M79.8 635.4h0M65.1 604.1h0M68.6 606.6h0M71.5 606.8h0M60.2 612.0h0M62.3 619.0h0M102.3 630.0h0M93.0 623.8h0M74.7 632.6h0M72.7 628.5h0M80.5 594.7h0M112.0 620.1h0M63.9 633.6h0M61.4 620.3h0M75.1 617.9h0M75.0 596.5h0M83.6 597.7h0M97.1 606.5h0M81.5 641.7h0M96.1 614.6h0M95.9 628.8h0M90.4 630.1h0M76.9 616.4h0M105.3 626.6h0M85.1 634.8h0M76.1 642.0h0M65.0 630.7h0M67.2 638.3h0M85.7 613.5h0M61.0 607.1h0M82.3 600.9h0M61.3 605.7h0M92.1 630.1h0M69.7 605.0h0M112.8 632.4h0M94.9 619.8h0M76.8 615.2h0M59.7 613.9h0M95.1 610.6h0M102.9 625.0h0M63.2 616.2h0M94.1 612.6h0M98.2 611.0h0M58.9 627.3h0M88.4 600.5h0M77.8 632.6h0M94.0 631.0h0M85.2 612.9h0M97.2 631.2h0M56.7 621.3h0M86.3 597.3h0M89.6 600.0h0M86.2 605.4h0M60.0 610.2h0M82.7 608.6h0M60.4 611.7h0M75.9 606.7h0M67.0 621.1h0M58.7 620.0h0M75.1 602.7h0M110.9 624.4h0M71.4 621.0h0M82.5 603.3h0M75.2 613.4h0M70.5 619.2h0M109.3 621.5h0M96.8 627.5h0M63.4 640.4h0M78.6 605.9h0M94.0 630.0h0M94.2 619.3h0M114.4 618.6h0M106.0 627.1h0M59.5 626.6h0M90.7 599.9h0M78.5 612.8h0M90.7 599.9h0M124.3 626.9h0M60.0 608.0h0M72.6 642.6h0M76.7 608.6h0M92.4 607.8h0M114.4 629.7h0M81.8 631.1h0M62.6 606.9h0M92.6 626.0h0M74.8 631.2h0M116.7 621.5h0M64.8 610.9h0M72.9 618.0h0M66.3 613.8h0M91.4 618.2h0M61.7 626.9h0M110.3 624.2h0M58.2 621.5h0M74.6 598.8h0M88.8 601.7h0M80.2 618.5h0M86.2 639.8h0M66.8 616.2h0M95.9 600.8h0M66.8 593.5h0M75.6 602.6h0M79.9 601.9h0M105.7 630.7h0M71.5 633.2h0M72.0 615.0h0M73.7 629.3h0M71.4 641.5h0M86.3 621.6h0M108.8 628.2h0M67.6 621.8h0M82.6 594.9h0M63.0 626.5h0M105.8 628.1h0M88.3 622.1h0M94.4 612.8h0M59.8 619.9h0M84.1 593.8h0M98.8 610.8h0M99.5 627.7h0M108.1 620.8h0M70.9 612.2h0M88.9 635.7h0M62.9 600.1h0M77.1 592.3h0M83.8 598.7h0M91.0 637.0h0M93.7 614.3h0M86.5 605.3h0M66.5 626.1h0M64.1 596.3h0M75.8 606.5h0M69.3 614.6h0M82.4 627.1h0M108.7 628.3h0M76.3 627.3h0M65.9 604.1h0M115.9 631.0h0M80.8 599.5h0M114.4 631.2h0M71.4 625.0h0M71.5 602.6h0M84.4 640.2h0M69.4 626.5h0M73.3 617.6h0M88.9 614.0h0M67.3 590.5h0M70.1 607.7h0M89.0 602.2h0M84.2 613.0h0M65.6 628.4h0M70.8 622.8h0M88.6 625.1h0M118.5 620.5h0M112.0 622.4h0M77.1 604.3h0M72.1 641.9h0M95.8 620.0h0M70.5 600.3h0M77.3 635.9h0M68.0 606.4h0M62.4 626.5h0M79.2 606.0h0M75.5 639.3h0M88.3 622.7h0M69.9 643.0h0M87.4 600.4h0M59.7 613.7h0M72.8 629.8h0M71.2 602.4h0M110.9 620.1h0M87.6 637.3h0M65.1 636.5h0M115.5 625.0h0M63.2 612.3h0M101.5 619.9h0M119.6 620.8h0M92.1 628.7h0M103.5 630.1h0M91.7 613.8h0M85.6 597.9h0M69.4 631.6h0M86.6 599.9h0M108.9 620.2h0M80.0 592.3h0M70.8 619.8h0M83.6 619.6h0M72.7 616.5h0M79.0 598.1h0M87.9 615.7h0M72.6 605.5h0M63.7 595.3h0M57.9 608.0h0M88.6 638.4h0M96.3 632.9h0M79.9 628.8h0M60.1 621.7h0M88.2 606.3h0M58.5 615.7h0M67.5 626.8h0M75.2 594.6h0M81.4 629.2h0M86.0 638.0h0M72.9 595.3h0M88.4 623.3h0M80.7 599.5h0M98.3 621.4h0M67.0 625.1h0M60.7 611.4h0M65.4 605.3h0M81.9 631.1h0M77.2 640.5h0M87.0 597.4h0M95.2 624.5h0M93.7 616.1h0M82.1 595.8h0M67.2 596.5h0M94.7 618.8h0M66.0 626.8h0M70.9 603.6h0M91.7 614.6h0M91.6 613.1h0M111.9 625.7h0M66.1 590.8h0M82.3 627.5h0M110.3 627.7h0M70.5 623.5h0M77.2 631.4h0M60.7 614.0h0M111.4 629.0h0M82.0 638.6h0M114.1 621.8h0M66.1 632.5h0M62.5 632.4h0M92.6 622.4h0M70.2 604.7h0M99.6 611.4h0M85.1 614.5h0M91.4 609.7h0M116.0 621.8h0M86.6 606.1h0M70.5 608.3h0M91.1 628.9h0M84.0 626.5h0M69.2 631.5h0M65.3 635.5h0M60.4 614.8h0M96.0 625.9h0M114.8 630.8h0M71.4 608.1h0M61.8 601.3h0M57.8 619.3h0M83.8 623.8h0M69.1 591.6h0M62.8 604.6h0M74.4 628.6h0M80.2 616.3h0M122.5 625.2h0M87.0 612.9h0M111.0 630.9h0M85.7 605.6h0M103.9 632.1h0M89.1 607.9h0M71.9 632.4h0M91.2 617.0h0M92.3 599.4h0M78.3 611.2h0M72.8 600.0h0M80.9 636.1h0M71.2 597.9h0M57.1 626.9h0M78.1 626.5h0M114.4 631.1h0M116.4 628.3h0M77.9 600.7h0M89.4 623.0h0M64.6 641.4h0M81.9 610.3h0M73.0 623.9h0M113.5 619.7h0M86.8 596.5h0M66.8 602.4h0M112.7 631.6h0M78.4 637.3h0M121.5 628.6h0M85.6 637.3h0M63.5 616.1h0M61.5 638.3h0M62.8 637.2h0M72.9 592.3h0M89.1 607.0h0M66.5 592.3h0M80.7 618.0h0M113.7 626.3h0M86.2 595.6h0M71.6 616.3h0M70.3 627.2h0M75.7 604.8h0M106.8 629.3h0M68.2 639.0h0M68.2 621.4h0M90.1 614.4h0M62.8 638.1h0M109.0 632.0h0M92.9 614.0h0M81.6 640.8h0M84.8 596.1h0M110.4 625.8h0M58.1 612.6h0M80.7 612.1h0M114.7 625.2h0M58.5 612.5h0M86.7 602.1h0M88.7 628.5h0M83.2 626.7h0M61.4 614.9h0M100.6 620.2h0M65.5 610.8h0M78.7 616.0h0M72.3 590.9h0M114.6 620.1h0M89.5 602.4h0M77.8 629.0h0M82.8 613.3h0M76.5 620.7h0M74.5 627.6h0M91.8 617.9h0M64.0 597.9h0M74.6 620.0h0M78.7 629.8h0M87.4 609.0h0M97.1 629.0h0M121.1 628.7h0M100.7 630.5h0M76.7 607.3h0M99.0 615.8h0M60.1 625.9h0M60.0 605.7h0M74.0 631.7h0M61.0 634.9h0M83.9 622.2h0M92.2 611.0h0M93.9 614.0h0M70.3 610.0h0M97.0 608.0h0M66.1 627.6h0M120.6 626.7h0M62.4 625.4h0M77.5 594.7h0M59.8 624.2h0M108.2 628.6h0M72.2 612.0h0M93.1 629.8h0M70.7 632.2h0M66.5 594.9h0M115.4 622.6h0M82.9 610.6h0M93.8 602.2h0M125.1 624.4h0M94.6 602.2h0M70.9 592.1h0M97.3 626.0h0M106.1 621.3h0M73.3 617.6h0M85.2 610.2h0M59.9 606.3h0M68.7 620.6h0M75.1 601.4h0M91.7 606.6h0M74.1 598.8h0M71.5 630.2h0M66.2 605.8h0M104.7 628.8h0M63.9 630.3h0M75.8 618.4h0M73.1 622.3h0M82.2 615.8h0M89.6 595.9h0M88.4 599.0h0M66.5 640.0h0M85.2 636.4h0M56.9 620.0h0M64.1 619.5h0M112.1 625.2h0M101.3 632.6h0M116.9 630.1h0M62.1 636.5h0M81.8 606.2h0M75.3 640.6h0M74.3 614.4h0M74.2 642.0h0M89.0 612.5h0M76.5 640.7h0M60.5 621.0h0M70.1 601.9h0M68.9 600.0h0M76.7 611.4h0M94.1 630.6h0M118.2 624.3h0M78.7 605.9h0M58.4 620.0h0M125.9 627.3h0M83.6 635.3h0M113.8 631.3h0M77.3 627.5h0M65.0 599.0h0M73.9 616.5h0M81.2 605.0h0M83.0 594.0h0M119.1 622.9h0M83.0 641.0h0M90.3 603.3h0M83.5 618.4h0M80.1 639.9h0M81.1 628.9h0M93.0 599.5h0M60.6 620.5h0M94.6 626.8h0M61.3 634.5h0M66.0 597.5h0M99.1 613.4h0M81.8 625.0h0M104.7 621.1h0M72.2 592.5h0M78.5 618.4h0M82.2 627.6h0M95.8 621.0h0M78.1 623.2h0M59.4 616.0h0M107.1 620.2h0M72.7 612.5h0M87.2 616.9h0M107.3 632.9h0M89.6 599.9h0M87.6 599.7h0M87.8 627.5h0M91.8 607.8h0M58.8 628.8h0M61.4 598.9h0M106.5 631.0h0M81.8 614.8h0M65.2 596.5h0M98.7 621.7h0M89.1 638.2h0M69.0 590.8h0M78.8 615.7h0M81.1 626.8h0M99.1 620.5h0M120.1 622.7h0M64.1 614.8h0M89.0 628.6h0M82.0 639.2h0M103.7 619.9h0M96.9 635.3h0M87.9 598.5h0M77.1 603.3h0M109.4 632.8h0M60.0 631.9h0M60.9 616.6h0M87.2 606.8h0M73.7 628.7h0M89.8 612.5h0M79.8 620.1h0M85.8 597.1h0M62.3 600.5h0M121.9 624.8h0M116.8 628.5h0M90.7 599.8h0M84.2 599.6h0M69.9 623.6h0M71.2 603.0h0M116.8 626.2h0M73.1 612.5h0M82.5 601.0h0M93.4 622.0h0M63.7 610.6h0M64.5 622.1h0M74.6 591.2h0M117.1 630.6h0M79.3 632.4h0M112.6 619.4h0M110.1 633.2h0M72.6 619.9h0M65.2 591.2h0M75.2 604.0h0M77.8 603.7h0M67.1 603.4h0M63.8 597.9h0M90.6 595.3h0M67.3 620.4h0M62.5 602.0h0" stroke="#c9a13f" stroke-width="0.8" stroke-linecap="round" stroke-opacity="0.9" fill="none"/><path d="M77.1 610.9h0M78.0 618.5h0M61.3 627.7h0M113.9 629.2h0M86.8 626.6h0M92.0 613.3h0M91.4 609.4h0M86.0 640.7h0M89.7 604.9h0M69.7 620.2h0M81.4 610.5h0M92.1 614.1h0M79.7 636.8h0M82.8 637.6h0M103.6 634.0h0M108.2 631.8h0M89.2 631.5h0M85.4 635.5h0M76.9 634.5h0M88.6 602.9h0M67.6 609.7h0M86.0 633.1h0M66.1 628.5h0M81.5 637.6h0M81.3 631.4h0M76.3 636.7h0M109.1 626.5h0M113.1 625.0h0M92.9 598.7h0M82.7 596.2h0M80.0 633.2h0M113.7 621.1h0M68.8 604.6h0M69.6 633.1h0M68.0 609.2h0M63.9 611.9h0M80.5 603.7h0M83.2 639.8h0M118.3 630.8h0M97.5 616.5h0M61.1 629.0h0M90.5 635.3h0M117.0 619.6h0M100.6 634.4h0M95.2 619.7h0M88.9 616.9h0M124.7 624.2h0M71.2 618.5h0M79.9 601.5h0M87.6 600.8h0M114.0 620.0h0M111.7 631.2h0M88.1 608.5h0M90.7 624.7h0M92.6 629.3h0M90.3 596.8h0M72.8 642.2h0M96.9 619.6h0M88.6 597.2h0M66.8 627.7h0M119.0 631.2h0M68.5 593.1h0M81.0 624.3h0M113.6 628.1h0M63.7 605.4h0M71.6 600.5h0M69.5 599.6h0M86.4 628.3h0M87.2 614.3h0M78.0 615.2h0M64.3 623.0h0M74.2 626.1h0M81.5 629.2h0M73.4 626.1h0M90.7 600.2h0M115.0 620.0h0M81.7 620.5h0M123.8 623.5h0M103.3 626.1h0M109.6 624.4h0M67.0 599.6h0M77.0 594.7h0M76.2 592.4h0M108.4 624.1h0M120.3 620.9h0M82.2 615.2h0M110.3 628.7h0M101.0 625.0h0M78.3 616.3h0M67.6 626.3h0M98.7 608.5h0M68.2 600.4h0M96.1 628.6h0M75.6 592.0h0M90.8 614.4h0M88.6 618.1h0M62.5 624.1h0M93.2 625.8h0M58.4 618.7h0M119.9 622.3h0M89.0 624.9h0M71.0 635.0h0M83.1 634.9h0M73.2 625.4h0M97.3 620.8h0M77.3 604.4h0M92.2 615.4h0M68.2 616.6h0M62.2 607.4h0M61.4 614.9h0M64.8 620.6h0M118.4 631.2h0M83.8 639.3h0M89.0 606.5h0M80.6 636.4h0M85.7 629.0h0M107.4 624.3h0M79.2 626.3h0M77.5 621.0h0M66.2 614.5h0M74.4 621.9h0M70.3 634.4h0M95.2 620.8h0M91.8 624.0h0M65.4 638.8h0M80.7 632.3h0M63.9 627.3h0M70.9 629.0h0M77.6 622.1h0M97.8 604.3h0M71.9 643.4h0M72.9 592.4h0M70.9 600.9h0M84.4 612.0h0M82.8 593.1h0M81.7 601.9h0M99.8 618.5h0M69.6 619.9h0M102.4 626.2h0M79.0 604.9h0M85.3 598.6h0M85.3 605.2h0M92.7 605.1h0M80.7 637.5h0M82.3 618.6h0M88.0 609.5h0M57.7 612.7h0M71.8 636.4h0M65.3 624.0h0M61.5 600.0h0M77.5 612.4h0M84.0 627.4h0M60.5 614.2h0M62.3 635.6h0M73.5 592.1h0M67.9 632.8h0M115.1 626.6h0M93.3 628.2h0M58.9 612.0h0M67.7 638.9h0M106.8 626.1h0M62.0 621.6h0M89.2 597.0h0M88.5 594.0h0M77.4 642.4h0M74.3 621.5h0M82.8 592.4h0M59.2 624.7h0M60.3 609.6h0M74.0 621.4h0M68.1 614.4h0M86.7 627.5h0M66.7 625.0h0M107.4 626.8h0M62.1 620.5h0M92.2 630.3h0M59.6 610.0h0M80.8 610.5h0M73.6 641.9h0M100.7 625.0h0M77.2 624.0h0M86.0 606.4h0M103.5 622.1h0M82.4 599.2h0M86.9 601.0h0M96.6 611.4h0M60.4 634.6h0M83.1 596.1h0M112.5 627.6h0M106.9 626.9h0M80.4 618.4h0M92.7 601.6h0M61.6 637.1h0M60.9 606.1h0M90.1 621.3h0M112.0 628.5h0M70.2 597.7h0M82.1 640.6h0M102.3 623.3h0M62.7 627.4h0M74.3 615.9h0M94.7 615.4h0M108.6 622.3h0M64.8 613.7h0M71.8 608.5h0M72.4 637.1h0M87.5 624.9h0M87.3 634.5h0M79.5 622.8h0M94.4 601.4h0M58.5 606.6h0M61.3 638.2h0M81.9 595.8h0M61.6 598.0h0M66.6 617.3h0M67.1 618.5h0M91.9 627.4h0M75.4 613.0h0M106.3 630.2h0M73.1 604.6h0M73.5 633.8h0M92.1 599.6h0M74.6 615.2h0M74.2 626.4h0M108.5 631.2h0M77.1 592.5h0M66.7 613.4h0M93.5 603.4h0M83.4 641.1h0M74.4 601.8h0M73.5 601.5h0M77.0 596.1h0M77.2 637.4h0M106.6 621.4h0M64.7 633.1h0M90.4 606.7h0M62.7 611.4h0M91.6 608.8h0M102.1 622.1h0M67.2 602.9h0M86.1 630.4h0M112.8 626.2h0M121.2 621.4h0M78.0 604.1h0M65.6 601.0h0M63.2 606.1h0M95.3 613.2h0M70.7 629.6h0M78.9 629.8h0M119.3 627.7h0M64.2 620.0h0M87.3 629.6h0M82.5 603.5h0M89.7 636.0h0M83.5 637.0h0M88.6 615.9h0M87.9 621.9h0M71.2 619.7h0M93.8 617.1h0M66.6 599.4h0M109.0 626.3h0M94.7 601.5h0M62.4 607.6h0M60.4 609.5h0M87.5 594.9h0M85.1 628.8h0M57.0 616.2h0M75.3 635.9h0M61.9 612.4h0M103.8 633.8h0M80.0 601.6h0M57.9 629.6h0M67.0 603.1h0M73.7 613.5h0M93.1 604.9h0M79.4 635.6h0M72.3 638.2h0M90.4 600.4h0M62.6 607.2h0M72.5 609.6h0M69.0 617.2h0M89.4 617.6h0M91.4 631.4h0M63.9 632.0h0M72.6 642.2h0M111.5 620.3h0M96.9 606.4h0M77.8 610.4h0M87.5 633.8h0M70.2 628.5h0M77.5 607.4h0M74.2 598.1h0M96.2 632.2h0M65.0 608.0h0M115.6 628.1h0M64.6 592.6h0M88.8 634.9h0M117.7 628.5h0M74.8 598.6h0M63.4 616.0h0M86.0 609.5h0M59.4 630.7h0M60.4 625.7h0M81.3 594.7h0M77.7 642.8h0M74.0 595.7h0M83.0 607.8h0M65.0 622.2h0M85.8 612.3h0M88.1 626.3h0M85.4 632.0h0M91.4 618.1h0M86.1 639.1h0M97.2 623.9h0M71.4 624.3h0M90.6 617.1h0M81.6 625.1h0M95.9 621.1h0M94.6 614.5h0M61.5 607.4h0M64.3 632.8h0M97.5 619.6h0M85.9 612.4h0M119.7 630.6h0M89.7 596.5h0M67.2 603.2h0M83.8 619.4h0M91.6 616.8h0M57.6 624.8h0M70.4 626.8h0M92.3 625.2h0M70.0 593.4h0M72.5 606.4h0M118.7 631.2h0M65.1 631.5h0M74.6 610.8h0M82.7 623.8h0M100.4 629.9h0M86.5 634.6h0M80.8 626.0h0M63.4 601.9h0M75.6 609.3h0M67.3 602.3h0M109.3 625.7h0M74.6 628.8h0M93.9 622.2h0M76.6 633.0h0M61.8 629.0h0M67.6 619.6h0M80.6 613.3h0M94.4 600.4h0M108.7 632.0h0M103.0 623.0h0M82.5 630.9h0M71.9 592.6h0M84.5 598.1h0M120.4 631.2h0M106.0 627.8h0M124.0 626.6h0M70.9 615.8h0M121.9 622.6h0M112.4 624.0h0M99.8 616.0h0M82.7 605.8h0M106.6 621.6h0M65.1 593.0h0M72.9 597.9h0M93.3 600.1h0M61.5 600.4h0M60.9 619.9h0M61.0 634.9h0M120.2 629.5h0M87.1 631.8h0M78.3 611.9h0M63.3 625.8h0M68.1 636.9h0M75.0 599.9h0M89.0 613.6h0M111.6 631.4h0M96.1 632.0h0M100.9 619.5h0M64.1 605.0h0M58.5 609.9h0M90.9 608.4h0M88.9 607.1h0M91.9 610.4h0M67.5 599.7h0M94.0 629.8h0M77.1 597.5h0M123.8 625.5h0M95.2 621.0h0M68.6 623.8h0M65.0 614.1h0M73.5 636.4h0M78.2 635.6h0M115.0 619.5h0M93.7 610.9h0M124.3 625.8h0M59.6 624.0h0M110.0 623.3h0M74.0 632.7h0M70.9 614.3h0M73.0 601.5h0M71.7 639.9h0M70.3 636.7h0M75.9 633.5h0M107.7 627.0h0M68.8 614.7h0M78.0 626.2h0M67.1 615.3h0M89.7 625.6h0" stroke="#ffffff" stroke-width="0.6" stroke-linecap="round" stroke-opacity="0.6" fill="none"/><path d="M59.0 607.9h0M84.9 641.5h0M79.8 591.0h0M76.1 591.3h0M97.3 600.1h0M114.1 633.1h0M110.3 634.9h0M95.8 599.1h0M94.1 637.3h0M56.0 623.8h0M55.3 627.3h0M101.4 634.1h0M110.4 633.2h0M60.8 598.9h0M109.9 619.2h0M116.1 632.1h0M75.9 644.1h0M88.4 639.6h0M91.4 638.3h0M107.4 619.6h0M117.8 633.5h0M72.8 591.1h0M60.2 635.9h0M107.4 618.6h0M120.1 632.2h0M65.4 590.6h0M105.7 619.2h0M102.5 633.2h0M100.6 617.2h0M76.9 593.5h0M123.8 629.1h0M124.9 631.8h0M106.1 619.2h0M78.2 591.5h0M79.2 642.9h0M99.4 636.5h0M62.0 593.5h0M121.6 621.2h0M61.1 636.7h0M72.5 642.6h0M94.5 638.3h0M109.4 620.1h0M94.8 599.2h0M102.7 634.3h0M75.5 643.5h0M69.4 589.9h0M125.5 623.8h0M110.8 619.0h0M96.1 599.8h0M111.7 618.2h0M111.5 617.9h0M58.0 630.4h0M57.4 612.7h0M112.5 632.5h0M89.5 593.2h0M118.1 633.7h0M98.1 606.6h0M64.9 590.4h0M68.5 644.3h0M117.5 619.4h0M90.2 595.1h0M81.0 593.0h0M112.8 618.9h0M104.9 634.2h0M99.7 613.2h0M97.0 635.1h0M116.8 619.2h0M62.1 595.8h0M69.5 588.8h0M113.2 618.0h0M113.5 618.8h0M102.8 620.7h0M65.4 589.9h0M117.1 632.6h0M55.8 624.2h0M106.5 621.5h0M100.2 609.4h0M75.0 644.8h0M102.4 619.1h0M80.5 642.4h0M104.6 633.4h0M96.1 600.5h0M65.2 641.5h0M98.1 635.1h0M91.6 638.9h0M121.1 620.7h0M112.0 619.4h0M107.1 632.2h0M100.3 615.6h0M58.2 629.4h0M57.6 635.0h0M56.6 622.1h0M102.3 619.8h0M125.2 624.7h0M120.7 620.8h0M64.8 642.5h0M64.1 643.2h0M107.5 620.0h0M100.1 612.5h0M100.6 617.8h0M100.4 610.7h0M55.6 623.4h0M91.5 638.5h0M94.2 597.0h0M61.5 637.9h0M118.7 631.9h0M101.8 618.3h0M57.5 615.5h0M89.0 638.5h0M123.8 623.2h0M58.6 636.9h0M62.8 640.6h0M102.8 635.3h0M59.7 601.5h0M64.8 641.0h0M115.1 619.3h0M79.5 642.2h0M63.0 593.8h0M71.9 590.5h0M117.0 621.0h0M64.3 640.4h0M103.3 634.7h0M102.9 619.0h0M56.7 631.0h0M111.3 634.2h0M58.0 614.1h0M65.2 641.1h0M113.2 633.2h0M66.9 591.2h0M66.6 641.6h0M120.1 619.1h0M113.4 632.1h0M112.6 617.5h0M58.7 610.5h0M64.3 641.6h0M125.4 626.2h0M79.7 592.1h0M97.8 634.8h0M58.4 636.6h0M121.0 632.6h0M56.2 624.7h0M67.3 591.2h0M97.3 605.5h0M77.2 591.7h0M97.0 634.8h0M112.9 633.8h0M56.6 626.5h0M91.6 637.9h0M56.0 626.1h0M69.3 641.6h0M116.5 618.7h0M119.3 618.7h0M93.4 596.9h0M124.3 624.0h0M98.4 611.3h0M56.2 622.0h0M60.6 600.6h0M86.9 592.2h0M90.6 595.6h0M57.3 610.5h0M85.2 594.3h0M82.3 643.0h0M96.1 636.1h0M114.3 633.5h0M112.3 632.2h0M115.7 618.7h0M97.0 635.8h0M65.8 590.8h0M115.0 633.3h0M57.8 627.6h0M55.6 626.7h0M110.4 619.6h0M62.2 596.4h0M56.4 623.3h0M119.3 632.3h0M118.9 618.8h0M54.5 624.2h0M121.8 621.7h0M56.9 605.1h0M59.1 636.3h0M99.7 616.7h0M65.8 590.2h0M81.8 593.2h0M55.3 624.1h0M117.0 632.3h0M107.8 618.5h0M54.0 622.3h0M74.8 589.0h0M58.2 629.3h0M124.2 631.6h0M78.8 643.7h0M101.2 610.9h0M125.1 630.2h0M73.1 642.8h0M65.1 641.8h0M97.7 602.5h0M99.9 607.6h0M58.7 603.5h0M62.0 595.7h0M56.2 617.3h0M114.2 618.6h0M68.8 591.4h0M56.7 619.2h0M91.0 639.8h0M56.5 626.2h0M92.0 638.6h0M60.8 597.7h0M56.9 624.3h0M105.9 619.8h0M121.5 632.0h0M73.9 590.8h0M102.5 618.8h0M105.3 621.2h0M98.1 604.7h0M100.8 618.3h0M99.9 608.3h0M112.5 618.9h0M76.1 591.4h0M124.6 629.0h0M101.7 634.9h0M127.2 627.1h0M84.8 641.7h0M63.3 594.4h0M125.8 623.1h0M122.8 631.4h0M55.7 622.4h0M61.2 596.4h0M57.6 605.9h0M114.8 633.8h0M90.8 638.9h0M63.1 594.3h0M122.3 622.3h0M65.1 643.9h0M59.5 604.2h0M69.4 643.9h0M74.8 642.9h0M125.3 623.4h0M124.1 623.2h0M60.0 599.6h0M113.1 632.6h0M125.9 625.4h0M120.6 630.8h0M90.6 594.5h0M108.1 620.7h0M57.2 630.8h0M55.7 620.6h0M60.7 597.6h0M62.3 597.4h0M56.2 622.1h0M83.9 591.5h0M70.7 589.2h0M57.0 628.8h0M102.6 620.3h0M83.9 592.2h0M71.1 590.5h0M56.3 627.0h0M105.4 634.1h0M63.8 592.6h0M97.6 601.3h0M59.2 634.4h0M74.5 592.1h0M106.7 635.6h0M63.6 593.0h0M98.8 634.9h0M66.7 642.3h0M91.4 594.3h0M125.5 626.7h0M76.3 642.2h0M62.8 592.2h0M115.5 618.1h0M124.3 631.5h0M89.2 639.7h0M83.4 642.2h0M115.1 617.6h0M72.6 591.5h0M57.4 610.1h0M93.1 636.9h0M122.7 622.0h0M59.4 606.8h0M88.6 593.6h0M110.7 633.5h0M83.1 641.8h0M103.3 620.2h0M100.5 617.9h0M91.5 595.0h0M69.9 591.2h0M121.5 631.9h0M79.7 590.5h0M73.5 642.3h0M90.2 594.2h0M113.0 618.4h0M99.7 612.2h0M98.4 603.6h0M58.3 624.1h0M113.7 633.9h0M76.6 643.6h0M123.1 631.2h0M98.1 604.6h0M55.5 609.9h0M125.0 630.3h0M98.7 611.1h0M58.7 603.2h0M57.2 625.8h0M103.6 619.5h0M62.7 595.8h0M102.7 619.4h0M87.6 639.8h0M87.5 592.3h0M120.9 620.1h0M95.2 635.8h0M96.7 602.2h0M111.0 618.4h0M63.4 592.3h0M85.6 592.0h0M99.0 635.3h0M83.3 592.6h0M61.4 599.4h0M114.1 619.4h0M113.1 633.5h0M56.2 623.7h0M119.0 630.2h0M63.4 593.6h0M99.0 611.1h0M63.2 591.6h0M126.1 624.2h0M62.5 594.0h0M120.5 632.7h0M75.7 592.6h0M102.6 619.5h0M63.1 594.0h0M114.0 618.6h0M55.5 622.9h0M115.6 617.6h0M87.0 591.7h0M63.3 641.3h0M112.8 618.2h0M58.9 635.2h0M113.2 617.7h0M108.0 619.9h0M90.8 638.9h0M66.3 590.0h0M55.3 611.0h0M55.6 625.7h0M125.5 625.2h0M57.1 620.4h0M115.3 618.9h0M72.6 643.0h0M121.4 632.3h0M84.4 641.5h0M80.9 590.9h0M112.1 618.1h0M116.9 619.0h0M111.0 633.2h0" stroke="#c9a13f" stroke-width="0.7" stroke-linecap="round" fill="none"/><polygon points="42.6,626.5 45.6,628.0 48.7,632.1 51.0,637.5 51.0,641.3 43.3,640.5 35.7,638.2 34.1,635.2 37.2,632.1 41.0,629.5" fill="#e8733a" fill-opacity="0.7" stroke="#e8733a" stroke-width="0.8" stroke-opacity="0.7" stroke-linejoin="round"/><path d="M41.2 633.8h0M46.2 633.5h0M50.7 640.5h0M45.5 632.6h0M38.2 635.6h0M45.9 639.9h0M47.5 634.1h0M47.6 639.4h0M41.8 630.0h0M39.9 632.0h0M44.6 629.2h0M41.3 637.8h0M38.5 636.7h0M43.0 631.7h0M47.2 632.1h0M45.6 636.9h0M47.9 638.7h0M45.7 634.1h0M49.1 640.4h0M45.7 640.3h0M38.1 634.7h0M39.8 634.7h0M42.8 627.7h0M42.6 626.9h0M47.1 630.9h0M40.2 638.5h0M36.7 637.5h0M46.5 629.6h0M38.8 633.0h0M43.2 639.1h0M46.7 633.9h0M40.1 635.2h0M40.2 631.8h0M41.3 632.6h0M42.1 636.7h0M46.4 639.0h0M45.0 636.8h0M39.7 634.9h0M40.5 636.2h0M43.5 635.1h0M38.6 637.0h0M42.1 640.0h0M35.6 634.5h0M44.7 640.0h0M43.2 640.4h0M48.3 638.0h0M44.2 631.7h0M46.6 632.6h0M48.7 634.4h0M40.3 632.2h0M42.0 636.3h0M38.6 635.2h0M42.1 629.9h0" stroke="#e8733a" stroke-width="0.8" stroke-linecap="round" stroke-opacity="0.9" fill="none"/><path d="M43.9 630.4h0M47.1 630.4h0M45.1 632.8h0M44.3 634.6h0M41.6 637.3h0M35.3 634.0h0M47.0 637.4h0M46.0 631.5h0M43.0 634.8h0M35.8 636.3h0M41.6 633.7h0M48.4 637.1h0M44.2 633.6h0M45.6 636.1h0M38.4 633.0h0M41.5 634.9h0M42.1 631.9h0M43.5 636.7h0M43.2 630.4h0M48.9 637.4h0M43.9 634.6h0M44.3 636.6h0M44.0 629.1h0M40.0 631.6h0M42.9 628.5h0M44.9 635.7h0M43.7 637.9h0" stroke="#ffffff" stroke-width="0.6" stroke-linecap="round" stroke-opacity="0.6" fill="none"/><path d="M36.2 635.2h0M44.0 628.0h0M45.2 640.5h0M45.6 640.7h0M33.6 634.2h0M44.8 640.8h0M47.7 640.9h0M42.2 627.4h0M41.0 630.5h0M44.6 640.4h0M45.3 628.9h0M40.8 640.0h0M33.7 637.2h0M51.3 640.6h0M48.0 631.6h0M44.6 640.6h0M47.3 631.3h0M36.2 640.0h0M45.1 629.3h0M48.0 631.9h0M37.0 638.0h0M43.1 625.7h0M37.2 632.9h0M36.7 633.2h0M34.3 635.3h0M39.3 631.6h0M51.5 638.5h0M33.8 635.3h0M49.4 629.1h0M49.7 634.5h0M44.5 640.0h0M35.2 634.1h0" stroke="#e8733a" stroke-width="0.7" stroke-linecap="round" fill="none"/><polygon points="61.2,539.5 65.4,532.1 72.2,529.2 77.4,530.1 80.0,533.9 78.3,539.5 74.0,544.2 68.8,548.0 64.6,552.6 61.2,548.8 60.3,544.2" fill="#5a5a5a" fill-opacity="0.9" stroke="#5a5a5a" stroke-width="0.8" stroke-opacity="0.9" stroke-linejoin="round"/><path d="M62.9 539.0h0M73.7 538.9h0M65.0 534.4h0M70.2 540.1h0M79.5 534.3h0M69.0 540.7h0M70.7 538.1h0M72.9 535.7h0M64.2 540.7h0M69.7 540.5h0M73.0 532.1h0M70.7 532.2h0M66.8 535.8h0M75.2 541.6h0M73.2 535.6h0M66.7 548.9h0M65.8 544.4h0M68.2 540.1h0M67.3 542.5h0M63.9 546.6h0M66.9 549.2h0M63.5 537.4h0M71.6 539.1h0M71.8 531.5h0M70.8 535.7h0M63.5 548.5h0M68.7 538.6h0M71.7 534.7h0M66.5 535.0h0M67.4 540.8h0M62.6 547.1h0M76.7 538.3h0M67.0 549.3h0M61.1 544.1h0M68.5 537.5h0M69.7 531.4h0M68.9 531.5h0M69.8 534.6h0M72.3 530.1h0M69.7 546.5h0M63.8 549.9h0M67.1 548.3h0M72.5 536.2h0M77.8 535.9h0M69.8 535.7h0M60.8 544.6h0M75.0 531.5h0M72.3 536.1h0M73.9 530.1h0M67.4 531.7h0M67.8 532.2h0M73.0 544.2h0M69.5 546.9h0M62.4 543.5h0M61.6 542.5h0M78.0 533.1h0M78.4 532.5h0M73.2 537.9h0M70.2 534.2h0M63.5 549.9h0M64.9 546.4h0M66.1 535.6h0M77.9 539.3h0M64.7 534.4h0M74.7 531.2h0M61.3 541.4h0M71.8 544.4h0M66.8 537.4h0M69.4 537.1h0M72.5 540.3h0M75.1 537.6h0M67.5 548.9h0M72.8 539.8h0M66.3 539.5h0M72.3 531.4h0M70.8 531.3h0M75.6 536.3h0M62.6 543.3h0M75.5 542.6h0M74.0 540.1h0M73.5 537.9h0M63.8 537.3h0M62.1 547.5h0M73.8 537.0h0M69.9 536.8h0M76.5 535.5h0M72.7 532.2h0M67.3 542.3h0M68.9 547.6h0M65.8 533.1h0M66.1 534.9h0M62.0 549.1h0M62.4 544.1h0M65.5 546.1h0M68.8 535.9h0M72.2 534.3h0M77.0 532.0h0M77.8 538.6h0M69.7 542.0h0M77.2 538.7h0M66.8 532.9h0M64.6 541.4h0M62.5 545.5h0M64.5 543.7h0M73.8 531.0h0M73.8 530.7h0M64.2 546.8h0M66.1 537.8h0M70.6 532.6h0M66.1 550.1h0M64.2 535.3h0M70.5 530.8h0M65.8 546.0h0M78.5 534.4h0M63.2 543.2h0M62.1 538.0h0M76.5 531.7h0M68.9 545.2h0M72.4 531.1h0M71.8 535.0h0M62.7 537.5h0M75.7 531.9h0M71.7 540.7h0M75.8 540.1h0M68.5 531.5h0M69.4 540.1h0M78.5 534.9h0M65.3 545.9h0M62.4 550.0h0M74.5 531.9h0M61.1 543.4h0M64.3 547.6h0M62.7 540.0h0M64.4 542.7h0M64.1 534.9h0M63.8 544.3h0" stroke="#5a5a5a" stroke-width="0.8" stroke-linecap="round" stroke-opacity="0.9" fill="none"/><path d="M69.6 540.3h0M74.2 542.7h0M72.2 538.4h0M66.6 541.8h0M61.0 542.8h0M73.7 534.4h0M70.5 532.8h0M67.3 546.1h0M64.3 551.4h0M73.9 543.2h0M75.7 535.0h0M66.9 541.5h0M64.7 548.2h0M68.4 537.7h0M73.5 544.1h0M76.6 532.1h0M75.8 536.4h0M75.9 541.8h0M64.9 539.6h0M67.7 537.2h0M72.1 538.7h0M61.4 539.4h0M71.3 545.6h0M68.4 534.4h0M63.0 549.9h0M65.6 546.3h0M72.4 540.2h0M78.0 535.7h0M70.4 538.2h0M63.9 551.7h0M68.2 538.9h0M64.2 546.9h0M68.8 533.9h0M65.3 534.8h0M69.9 535.4h0M77.1 537.4h0M63.6 543.3h0M67.1 537.6h0M68.5 543.4h0M62.1 549.3h0M74.9 531.1h0M68.2 534.1h0M74.2 533.6h0M64.0 550.8h0M70.5 530.9h0M70.5 542.9h0M67.5 540.9h0M74.3 539.1h0M64.0 538.9h0" stroke="#ffffff" stroke-width="0.6" stroke-linecap="round" stroke-opacity="0.6" fill="none"/><path d="M67.4 530.3h0M71.1 546.4h0M61.3 548.2h0M61.9 548.7h0M65.1 552.5h0M60.6 545.6h0M60.7 548.1h0M61.2 538.9h0M60.0 542.7h0M59.1 543.0h0M62.7 536.2h0M76.4 530.2h0M71.3 528.6h0M74.3 530.2h0M68.1 549.8h0M77.6 537.0h0M63.6 537.1h0M69.1 549.9h0M75.7 530.0h0M75.4 543.3h0M77.6 539.7h0M77.3 540.0h0M61.2 546.7h0M73.7 543.5h0M80.1 533.7h0M61.1 547.3h0M64.1 551.7h0M71.0 528.8h0M74.1 543.1h0M60.8 542.7h0M61.3 538.9h0M74.2 529.0h0M61.3 541.9h0M62.5 535.4h0M77.1 541.9h0M64.2 536.3h0M71.0 546.4h0M63.7 535.5h0M77.3 530.2h0M71.7 528.5h0M65.7 550.2h0M74.8 528.8h0M61.4 550.6h0M79.2 531.2h0M72.4 547.3h0M71.8 529.8h0M72.3 546.3h0M68.6 529.8h0M80.1 534.4h0M77.9 531.7h0M77.0 540.8h0" stroke="#5a5a5a" stroke-width="0.7" stroke-linecap="round" fill="none"/><polygon points="128.9,571.3 135.3,572.1 139.6,573.6 145.3,573.6 146.0,579.1 144.6,585.3 142.5,587.7 140.3,590.8 139.6,593.9 137.5,593.1 136.7,590.0 133.9,587.7 131.0,590.0 129.6,586.9 128.2,580.6 125.4,578.3 127.4,575.9" fill="#3fae6e" fill-opacity="0.55" stroke="#3fae6e" stroke-width="0.8" stroke-opacity="0.55" stroke-linejoin="round"/><path d="M144.1 582.6h0M136.9 582.8h0M144.5 584.4h0M137.4 574.7h0M134.6 581.6h0M135.4 582.3h0M143.3 578.8h0M140.9 589.0h0M142.3 578.4h0M134.9 588.5h0M128.4 574.7h0M143.0 586.2h0M140.2 578.0h0M143.4 583.7h0M135.0 573.8h0M142.0 578.4h0M141.2 580.4h0M144.3 585.1h0M139.2 577.4h0M128.0 574.2h0M136.8 583.1h0M131.0 585.0h0M140.7 590.2h0M133.6 574.5h0M132.7 579.8h0M133.9 576.3h0M143.6 575.0h0M131.4 573.5h0M143.4 578.0h0M139.8 586.1h0M137.5 577.0h0M143.2 576.7h0M130.5 574.6h0M139.2 578.5h0M131.9 574.3h0M142.0 585.2h0M130.4 584.9h0M142.1 581.5h0M138.9 592.0h0M134.2 584.3h0M130.2 584.5h0M135.6 573.8h0M142.8 581.8h0M138.7 580.1h0M132.5 574.1h0M132.7 586.0h0M141.8 581.0h0M134.2 583.9h0M137.4 582.5h0M132.8 582.1h0M139.2 587.8h0M133.0 585.5h0M128.8 572.0h0M136.2 573.0h0M128.3 580.6h0M132.1 573.4h0M135.0 574.1h0M137.1 588.1h0M137.5 587.6h0M126.4 577.5h0M127.8 577.7h0M140.5 580.5h0M137.5 577.3h0M141.5 582.8h0M143.4 578.7h0M143.0 580.1h0M132.0 581.5h0M137.8 576.2h0M142.4 575.5h0M142.6 577.4h0M139.5 582.2h0M141.2 577.9h0M133.0 586.6h0M136.7 587.7h0M138.7 574.7h0M133.9 575.1h0M141.1 578.7h0M138.7 590.0h0M139.0 585.7h0M139.1 582.7h0M143.5 581.3h0M139.7 591.3h0M132.2 588.9h0M137.0 585.1h0M135.7 584.8h0M137.3 575.0h0" stroke="#3fae6e" stroke-width="0.8" stroke-linecap="round" stroke-opacity="0.9" fill="none"/><path d="M133.9 581.7h0M130.3 571.9h0M139.5 580.9h0M130.8 586.4h0M134.0 572.4h0M135.9 579.1h0M139.6 584.7h0M132.2 584.5h0M143.8 585.6h0M137.0 590.5h0M128.5 577.6h0M136.4 586.8h0M136.3 584.5h0M140.6 589.0h0M129.8 582.2h0M138.5 573.2h0M128.2 577.2h0M134.3 577.8h0M140.2 577.9h0M142.9 586.7h0M140.8 590.1h0M134.4 586.8h0M132.7 573.8h0M131.7 588.0h0M131.3 578.2h0M132.0 574.1h0M134.3 576.9h0M133.3 582.3h0M138.4 586.5h0M135.7 575.1h0M138.6 590.4h0M138.9 585.6h0M140.0 587.7h0M139.2 588.6h0M136.1 575.2h0M145.2 582.8h0M129.4 579.0h0M136.3 580.2h0M142.6 582.4h0M144.0 577.2h0M136.5 576.2h0M137.2 590.6h0M139.1 574.6h0M141.6 586.0h0M139.1 583.7h0M139.4 581.3h0M137.5 575.9h0M140.8 582.0h0M138.9 593.5h0M137.3 581.1h0M133.1 587.6h0" stroke="#ffffff" stroke-width="0.6" stroke-linecap="round" stroke-opacity="0.6" fill="none"/><path d="M141.6 592.5h0M133.4 571.2h0M140.5 573.5h0M138.4 593.9h0M135.8 587.4h0M125.6 577.1h0M126.9 579.8h0M127.5 580.1h0M131.3 583.6h0M130.4 572.2h0M146.0 581.7h0M138.0 592.1h0M143.9 587.3h0M129.3 589.3h0M137.3 573.6h0M129.9 572.3h0M140.2 589.8h0M142.9 572.8h0M126.9 577.3h0M141.8 586.7h0M131.3 571.4h0M146.4 583.8h0M145.0 578.8h0M127.3 579.5h0M137.3 573.2h0M136.9 591.7h0M139.4 573.8h0M139.7 594.5h0M136.9 593.2h0M137.5 591.8h0M141.9 586.4h0M137.3 588.6h0M126.8 579.0h0M140.0 573.8h0M142.5 573.8h0M143.2 587.8h0M142.4 573.3h0M128.2 575.8h0M126.8 580.7h0M133.0 586.8h0M127.3 584.8h0M130.3 589.1h0M131.3 588.2h0M124.3 578.4h0M142.7 586.3h0M136.9 591.4h0M144.3 575.7h0M128.1 585.1h0M137.7 592.1h0M142.1 587.6h0M129.4 572.8h0M132.9 571.8h0M145.1 573.8h0" stroke="#3fae6e" stroke-width="0.7" stroke-linecap="round" fill="none"/><polygon points="105.5,523.7 114.2,523.5 116.2,520.3 121.1,519.6 124.0,522.1 123.0,528.5 121.1,532.1 118.2,532.1 116.2,528.0 110.3,526.4 105.5,526.2" fill="#a8392a" fill-opacity="0.3" stroke="#a8392a" stroke-width="0.8" stroke-opacity="0.3" stroke-linejoin="round"/><path d="M122.0 524.5h0M120.6 520.5h0M122.3 520.7h0M123.7 523.9h0M109.5 524.5h0M121.3 524.5h0M115.5 524.8h0M120.5 522.1h0M107.2 525.3h0M121.9 525.7h0M120.7 526.3h0M120.5 531.3h0M118.1 526.9h0M115.9 526.6h0M123.4 522.1h0M115.4 524.8h0M122.1 529.4h0M119.8 530.0h0M119.0 532.1h0M121.0 522.4h0M119.2 524.3h0M119.8 527.9h0M107.8 525.4h0M120.4 521.1h0M120.6 522.0h0M120.5 522.1h0M119.1 519.9h0M120.6 531.3h0" stroke="#a8392a" stroke-width="0.8" stroke-linecap="round" stroke-opacity="0.9" fill="none"/><path d="M123.3 522.8h0M106.9 524.6h0M122.3 524.7h0M112.1 523.6h0M121.2 524.6h0M118.1 527.4h0M111.5 524.2h0M119.3 525.7h0M117.4 524.9h0M115.9 521.9h0M115.5 524.5h0M119.2 523.6h0M115.7 525.9h0M119.6 520.3h0M117.6 524.5h0M122.5 520.9h0M117.7 529.8h0M118.2 531.8h0M117.3 528.5h0M115.9 524.5h0" stroke="#ffffff" stroke-width="0.6" stroke-linecap="round" stroke-opacity="0.6" fill="none"/><path d="M118.2 520.8h0M123.3 521.8h0M117.5 529.8h0M117.2 526.4h0M118.0 533.0h0M118.3 518.8h0M112.0 527.0h0M115.8 530.0h0M114.6 520.5h0M117.6 519.6h0M115.4 530.7h0M116.8 531.1h0M123.8 525.2h0M115.6 520.3h0M105.7 523.6h0M115.5 523.0h0M113.4 527.3h0M117.8 529.9h0M121.3 531.1h0M120.0 533.1h0M103.6 525.0h0M119.4 519.8h0M117.9 520.5h0M114.7 523.3h0M108.6 524.8h0M107.8 523.9h0M106.7 524.6h0" stroke="#a8392a" stroke-width="0.7" stroke-linecap="round" fill="none"/><polygon points="117.0,539.5 126.0,539.5 124.5,542.5 119.5,543.5" fill="#e9c62c" fill-opacity="0.85" stroke="#e9c62c" stroke-width="0.8" stroke-opacity="0.85" stroke-linejoin="round"/><path d="M118.5 541.2h0M121.5 540.1h0M122.6 542.4h0M124.4 542.3h0M122.8 541.0h0M118.7 541.0h0M119.4 540.8h0M121.1 542.6h0M124.4 541.5h0M119.2 541.8h0M123.7 539.6h0M118.1 541.3h0" stroke="#e9c62c" stroke-width="0.8" stroke-linecap="round" stroke-opacity="0.9" fill="none"/><path d="M119.6 540.5h0M122.0 542.4h0M122.6 542.7h0M118.6 540.3h0" stroke="#ffffff" stroke-width="0.6" stroke-linecap="round" stroke-opacity="0.6" fill="none"/><path d="M122.4 538.6h0M124.7 542.9h0M124.1 541.8h0M117.3 540.9h0M122.1 542.6h0M121.0 540.5h0M119.1 541.1h0M118.6 539.8h0M118.6 543.2h0M123.3 543.1h0M117.9 541.0h0M119.9 543.8h0M125.2 539.2h0" stroke="#e9c62c" stroke-width="0.7" stroke-linecap="round" fill="none"/><polygon points="162.1,618.8 164.3,613.7 168.6,613.7 166.4,616.5 163.4,618.8" fill="#2b2b78" fill-opacity="0.9" stroke="#2b2b78" stroke-width="0.8" stroke-opacity="0.9" stroke-linejoin="round"/><path d="M164.6 614.6h0M163.0 617.8h0M165.2 616.9h0M164.5 615.6h0M164.0 614.6h0M165.3 617.2h0M163.1 617.1h0" stroke="#2b2b78" stroke-width="0.8" stroke-linecap="round" stroke-opacity="0.9" fill="none"/><path d="M166.1 615.2h0M165.5 616.2h0" stroke="#ffffff" stroke-width="0.6" stroke-linecap="round" stroke-opacity="0.6" fill="none"/><path d="M167.1 615.8h0M165.8 613.9h0M162.8 618.8h0M164.7 613.8h0M166.4 616.9h0M167.8 614.4h0M163.8 616.7h0M161.7 618.0h0M164.8 617.2h0M163.4 617.4h0M163.0 614.3h0M164.0 618.1h0" stroke="#2b2b78" stroke-width="0.7" stroke-linecap="round" fill="none"/><polygon points="175.0,638.9 178.4,636.1 181.0,635.2 184.4,631.9 187.8,631.0 190.0,632.4 190.8,637.1 190.3,641.7 187.8,644.6 183.5,645.4 181.0,643.6 179.2,640.8 175.8,639.9" fill="#6f2a8f" fill-opacity="0.45" stroke="#6f2a8f" stroke-width="0.8" stroke-opacity="0.45" stroke-linejoin="round"/><path d="M180.0 638.2h0M190.1 635.2h0M176.0 638.3h0M184.8 639.4h0M179.6 639.0h0M186.1 636.7h0M183.0 637.4h0M177.7 637.5h0M182.1 636.5h0M184.3 640.6h0M182.7 634.1h0M188.6 633.5h0M187.0 631.9h0M187.5 635.5h0M185.9 633.1h0M188.9 637.4h0M183.8 638.7h0M184.9 637.9h0M187.9 634.3h0M183.8 636.2h0M187.0 644.0h0M187.6 637.2h0M185.8 644.8h0M188.3 636.1h0M188.5 642.2h0M185.0 643.3h0M178.6 640.4h0M187.2 638.4h0M187.8 640.9h0M178.9 640.5h0M186.7 640.2h0M182.2 641.7h0M186.9 644.3h0M188.0 638.0h0M180.0 638.6h0M189.0 635.3h0M190.0 641.5h0M184.7 640.7h0M183.7 643.6h0M186.1 636.9h0M188.9 641.2h0" stroke="#6f2a8f" stroke-width="0.8" stroke-linecap="round" stroke-opacity="0.9" fill="none"/><path d="M188.4 638.9h0M180.2 637.1h0M180.1 637.0h0M183.1 637.2h0M187.6 638.2h0M179.9 639.6h0M186.2 640.0h0M187.6 634.4h0M183.7 640.5h0M181.0 639.9h0M187.6 634.8h0M188.3 633.2h0M185.2 642.0h0M183.2 634.9h0M188.8 642.1h0M189.1 639.1h0M175.6 639.1h0M184.1 642.4h0M178.7 636.2h0M183.5 637.6h0M190.3 640.3h0M184.9 635.1h0M186.7 631.4h0M179.3 635.9h0" stroke="#ffffff" stroke-width="0.6" stroke-linecap="round" stroke-opacity="0.6" fill="none"/><path d="M191.3 637.2h0M187.3 632.4h0M185.6 644.6h0M183.3 643.4h0M189.1 632.8h0M178.2 641.1h0M177.9 636.4h0M189.9 631.3h0M181.1 635.9h0M177.1 636.4h0M186.9 643.4h0M184.8 644.0h0M180.2 643.7h0M189.7 632.8h0M182.5 644.4h0M188.9 632.9h0M180.9 642.2h0M187.2 646.1h0M180.8 642.3h0M175.8 640.6h0M190.6 640.7h0M176.6 640.4h0M180.6 634.0h0M177.0 638.7h0M178.1 640.0h0M183.5 632.6h0M184.6 631.8h0M175.5 637.6h0M188.5 631.1h0M188.5 631.7h0" stroke="#6f2a8f" stroke-width="0.7" stroke-linecap="round" fill="none"/><polygon points="139.9,657.8 142.6,659.6 144.3,666.6 142.6,673.6 139.1,677.1 133.8,678.8 127.7,677.1 125.0,673.6 130.3,670.1 135.5,664.8 138.2,660.4" fill="#3a4bab" fill-opacity="0.8" stroke="#3a4bab" stroke-width="0.8" stroke-opacity="0.8" stroke-linejoin="round"/><path d="M136.3 673.9h0M142.3 671.3h0M137.9 668.3h0M142.9 669.1h0M138.9 667.7h0M131.7 672.4h0M138.8 663.3h0M141.4 671.5h0M137.8 674.4h0M136.4 673.3h0M140.1 659.3h0M138.1 675.5h0M134.4 670.0h0M141.5 662.8h0M136.5 663.5h0M136.2 672.7h0M137.6 668.4h0M130.5 676.2h0M125.5 673.8h0M139.8 658.1h0M137.3 670.8h0M139.8 660.4h0M128.5 672.4h0M136.0 672.5h0M136.9 663.3h0M138.6 664.7h0M141.0 669.4h0M139.9 669.4h0M132.1 669.7h0M140.8 675.3h0M132.6 675.1h0M130.9 670.1h0M138.2 672.5h0M139.0 672.6h0M129.9 675.7h0M139.3 675.4h0M131.5 675.5h0M135.1 671.1h0M141.7 665.5h0M135.1 668.1h0M136.1 665.2h0M128.8 671.9h0M141.3 672.2h0M141.1 661.5h0M127.7 675.3h0M134.8 667.1h0M141.5 664.5h0M141.9 672.7h0M137.8 674.9h0M134.8 665.6h0M138.4 661.4h0M139.0 660.1h0M134.4 667.2h0M141.5 671.4h0M139.0 675.2h0M138.4 661.5h0M135.7 668.6h0M139.5 676.0h0M136.4 670.4h0M127.4 676.6h0M138.6 664.3h0M142.1 669.2h0M139.5 673.5h0M140.4 660.2h0M142.4 661.3h0M138.6 666.0h0M137.5 668.7h0M137.5 669.9h0M132.5 673.6h0M138.2 663.2h0M138.3 669.8h0M135.5 668.7h0M140.8 672.5h0M142.3 661.3h0M141.9 663.7h0M136.8 668.4h0M135.4 666.0h0M131.1 673.1h0M132.8 670.5h0M139.4 669.3h0M139.8 661.9h0M141.0 667.7h0M136.9 671.3h0M138.9 661.0h0M133.4 669.0h0M128.8 674.2h0M128.0 674.1h0M137.6 672.8h0M142.2 672.5h0M140.3 662.1h0M132.2 674.5h0M129.8 675.0h0M138.4 660.8h0M141.9 673.0h0M133.8 674.5h0M134.2 676.7h0M138.3 668.3h0M133.9 674.1h0M132.8 667.6h0M135.0 675.3h0M139.9 676.3h0M143.1 665.3h0M138.4 667.6h0M135.0 668.5h0" stroke="#3a4bab" stroke-width="0.8" stroke-linecap="round" stroke-opacity="0.9" fill="none"/><path d="M142.7 665.8h0M137.7 668.6h0M140.5 668.8h0M143.3 669.4h0M132.1 671.6h0M137.0 672.5h0M138.4 670.2h0M134.2 671.3h0M135.4 671.9h0M136.3 675.2h0M142.7 660.1h0M137.7 666.1h0M133.4 676.6h0M129.1 674.9h0M134.0 666.4h0M138.7 668.7h0M141.8 659.4h0M135.3 675.8h0M138.1 669.3h0M132.4 673.4h0M143.2 668.9h0M130.7 675.3h0M131.5 669.3h0M142.7 671.8h0M139.0 664.5h0M143.4 667.7h0M138.2 671.5h0M133.7 667.4h0M138.1 662.5h0M140.4 664.6h0M139.1 670.4h0M141.9 664.4h0M142.5 662.4h0M138.6 662.7h0M133.7 678.2h0M129.7 672.1h0M141.3 660.8h0" stroke="#ffffff" stroke-width="0.6" stroke-linecap="round" stroke-opacity="0.6" fill="none"/><path d="M142.9 659.0h0M144.9 668.8h0M137.6 661.1h0M126.3 672.8h0M141.6 672.8h0M126.3 674.7h0M144.6 668.2h0M129.3 671.7h0M134.3 666.7h0M138.4 658.1h0M142.8 673.3h0M141.8 674.2h0M126.1 672.1h0M127.4 676.0h0M133.7 665.6h0M130.5 678.8h0M144.6 663.2h0M140.9 659.2h0M132.0 679.0h0M141.4 659.6h0M139.3 658.7h0M141.1 658.0h0M141.1 673.4h0M138.3 660.4h0M139.3 661.1h0M136.8 677.1h0M130.7 669.9h0M136.7 664.5h0M136.5 664.8h0M126.9 674.2h0M126.8 673.5h0M132.7 678.9h0M139.1 657.8h0M127.0 677.0h0M126.8 671.1h0M135.8 679.4h0M125.1 672.8h0M130.7 670.4h0M128.1 671.4h0M140.7 658.4h0M130.8 668.2h0" stroke="#3a4bab" stroke-width="0.7" stroke-linecap="round" fill="none"/><polygon points="118.0,682.3 125.0,678.8 133.8,678.0 140.8,678.8 144.3,682.3 146.1,691.1 142.6,695.5 133.8,695.5 120.7,694.6 117.2,689.3" fill="#8ed38e" fill-opacity="0.72" stroke="#8ed38e" stroke-width="0.8" stroke-opacity="0.72" stroke-linejoin="round"/><path d="M130.2 693.5h0M143.2 694.7h0M121.9 689.9h0M122.4 692.6h0M142.5 685.7h0M136.4 686.5h0M122.5 684.1h0M130.4 686.9h0M135.1 691.1h0M129.8 688.9h0M131.4 695.2h0M124.4 681.8h0M132.9 692.5h0M122.3 682.9h0M124.8 679.1h0M144.2 683.9h0M130.9 682.2h0M141.5 688.9h0M131.5 693.3h0M144.1 692.4h0M134.0 685.4h0M118.2 685.2h0M139.7 687.7h0M142.2 694.0h0M122.4 685.9h0M120.2 691.0h0M125.7 693.4h0M134.1 688.2h0M125.1 680.4h0M132.7 686.8h0M121.9 680.4h0M122.2 689.1h0M134.0 681.9h0M144.4 689.0h0M119.0 683.1h0M121.7 681.5h0M127.1 680.3h0M140.6 694.6h0M131.7 680.4h0M125.6 681.8h0M117.7 689.5h0M142.5 682.5h0M124.8 684.1h0M140.2 684.1h0M122.1 694.1h0M140.0 692.8h0M132.0 682.2h0M128.6 684.1h0M143.8 687.8h0M125.0 679.4h0M133.4 679.2h0M132.0 692.8h0M127.1 685.9h0M140.5 681.4h0M144.0 688.8h0M133.2 690.6h0M136.6 679.8h0M133.7 681.3h0M126.6 693.4h0M132.7 694.2h0M124.6 686.8h0M138.3 687.0h0M131.0 681.5h0M127.7 688.3h0M134.5 682.9h0M135.2 685.1h0M121.6 693.1h0M144.1 683.5h0M121.8 689.3h0M126.3 682.5h0M126.5 682.9h0M138.8 682.7h0M126.3 689.5h0M141.2 684.7h0M138.5 680.2h0M129.1 683.7h0M134.7 682.1h0M128.0 688.0h0M142.7 682.0h0M134.5 686.2h0M137.0 679.6h0M127.9 686.3h0M122.2 685.7h0M124.4 682.7h0M141.8 689.5h0M118.3 685.9h0M133.7 687.3h0M138.7 687.0h0M120.9 692.3h0M128.5 687.8h0M129.5 682.6h0M141.9 686.4h0M131.3 684.5h0M136.4 688.8h0M124.2 684.5h0M141.1 688.1h0M119.5 682.1h0M122.3 684.7h0M123.5 684.6h0M121.3 692.9h0M124.5 683.7h0M141.7 683.8h0M134.4 690.4h0M139.8 685.0h0M127.5 683.2h0M139.3 694.5h0M118.8 691.2h0M130.6 690.5h0M125.4 682.0h0M120.7 692.4h0M138.5 682.6h0M137.6 683.6h0M135.5 694.1h0M134.6 694.3h0M133.6 692.7h0M120.3 693.2h0M128.9 683.9h0M127.9 687.3h0M124.0 691.4h0M140.4 688.0h0M126.9 690.6h0M138.9 690.1h0M128.1 689.3h0M123.1 685.3h0M130.6 678.9h0M137.5 687.9h0M143.3 686.4h0M138.5 681.3h0M132.8 679.1h0M143.1 686.1h0M133.4 690.0h0M122.1 682.8h0M123.5 684.9h0M126.8 694.4h0M137.0 693.7h0M138.3 685.2h0M128.4 693.2h0M128.8 684.9h0M125.1 691.7h0M122.9 693.7h0M129.8 680.6h0M140.1 680.8h0M133.1 690.1h0M121.9 685.6h0M120.2 681.8h0M138.1 688.9h0M145.0 686.4h0M133.3 689.2h0M127.0 682.6h0M139.2 687.2h0M140.0 680.3h0M129.5 689.8h0M139.5 681.5h0M134.0 682.1h0M119.1 684.0h0M128.2 691.1h0M125.9 679.9h0M126.8 681.2h0M139.9 687.7h0M135.8 690.1h0M130.2 680.3h0M131.1 683.6h0M131.4 681.1h0M133.7 688.1h0M125.5 681.4h0M137.1 683.8h0M127.7 692.9h0M143.5 690.0h0M139.3 679.9h0M131.7 687.8h0M140.6 680.7h0M136.2 682.7h0M136.7 679.1h0M141.6 693.3h0M127.5 682.9h0M122.3 680.7h0M119.3 684.9h0M137.1 683.4h0M142.5 694.0h0M134.0 689.2h0M134.6 690.5h0M122.9 691.5h0M130.6 678.4h0M132.5 682.9h0M134.3 679.8h0M130.6 683.4h0M126.8 680.4h0M119.1 686.8h0M136.2 694.0h0M142.2 681.4h0M123.2 688.6h0M139.1 683.4h0M133.1 681.4h0M137.0 693.6h0M124.9 689.5h0M135.4 682.6h0M132.4 693.7h0M122.0 683.1h0M129.7 686.3h0M133.5 684.1h0M130.7 692.9h0M122.7 682.3h0M139.7 681.3h0M144.9 689.8h0M124.9 686.1h0M126.5 682.1h0M133.1 691.1h0M125.6 685.1h0M140.8 695.4h0M126.0 684.3h0M119.2 682.5h0M129.6 684.1h0" stroke="#8ed38e" stroke-width="0.8" stroke-linecap="round" stroke-opacity="0.9" fill="none"/><path d="M128.9 695.0h0M126.9 683.0h0M122.2 692.3h0M121.9 682.6h0M141.0 688.8h0M120.2 682.5h0M133.5 691.1h0M127.4 694.2h0M117.9 685.2h0M134.7 680.4h0M128.5 689.0h0M129.4 689.8h0M130.4 688.5h0M122.6 691.8h0M132.9 684.5h0M132.7 685.5h0M133.3 684.3h0M140.6 687.4h0M125.6 685.0h0M124.1 681.2h0M130.8 685.1h0M126.4 691.1h0M130.6 684.0h0M136.2 678.9h0M140.2 684.3h0M125.8 688.2h0M143.7 689.0h0M131.8 679.4h0M123.9 685.6h0M143.0 681.1h0M145.2 686.8h0M122.4 683.4h0M133.8 685.4h0M126.6 681.2h0M123.9 690.6h0M139.2 686.8h0M121.8 689.6h0M124.4 694.8h0M141.6 688.2h0M142.5 683.2h0M138.0 678.9h0M135.8 690.3h0M126.2 683.3h0M141.4 683.0h0M124.6 691.8h0M130.9 688.7h0M125.9 685.6h0M127.3 678.7h0M143.2 689.2h0M127.5 687.2h0M138.2 683.9h0M120.6 685.2h0M126.7 679.1h0M124.4 690.2h0M144.3 690.6h0M132.2 682.6h0M130.2 681.3h0M129.5 682.4h0M122.2 692.2h0M134.0 688.5h0M122.0 683.7h0M127.9 685.0h0M132.8 687.0h0M142.4 684.2h0M120.6 684.7h0M139.4 684.7h0M131.9 689.4h0M137.5 693.3h0M126.2 687.9h0M118.7 684.3h0M145.3 689.4h0M138.3 690.9h0M143.3 684.1h0M122.5 689.5h0M133.8 687.8h0M133.6 692.6h0" stroke="#ffffff" stroke-width="0.6" stroke-linecap="round" stroke-opacity="0.6" fill="none"/><path d="M145.8 686.1h0M123.4 693.5h0M144.9 695.2h0M118.2 687.4h0M117.5 690.0h0M144.2 693.3h0M123.6 694.5h0M131.2 695.4h0M142.2 680.6h0M144.1 680.4h0M116.7 683.9h0M128.0 678.4h0M135.5 696.2h0M144.6 682.0h0M123.6 679.8h0M119.2 680.4h0M138.4 678.3h0M138.0 678.7h0M125.4 678.7h0M135.4 677.6h0M122.2 679.4h0M137.8 678.8h0M118.2 687.8h0M117.6 684.0h0M122.5 681.7h0M139.2 678.2h0M136.5 695.9h0M123.8 679.5h0M143.9 681.1h0M122.1 680.3h0M145.6 683.1h0M123.6 679.5h0M116.6 681.7h0M129.8 678.9h0M127.8 679.3h0M128.7 695.2h0M142.7 695.0h0M129.8 695.4h0M115.3 687.3h0M143.4 680.9h0M129.0 679.5h0M140.7 694.5h0M140.2 679.2h0M130.6 694.4h0M141.6 680.0h0M143.5 692.6h0M134.3 678.4h0M146.4 690.8h0M136.3 678.2h0M144.1 694.1h0M124.0 695.7h0M117.8 690.3h0M144.0 683.1h0M143.8 695.3h0M117.1 687.2h0M128.4 694.0h0M134.1 678.5h0M141.9 678.3h0M133.9 678.3h0M118.1 681.3h0M132.9 676.6h0M142.9 679.5h0M142.9 695.9h0M117.2 685.5h0M131.9 677.2h0M126.1 680.0h0M122.3 694.3h0M135.8 678.2h0M137.7 679.0h0M144.5 689.5h0M143.7 694.4h0M125.9 679.9h0M143.8 694.5h0" stroke="#8ed38e" stroke-width="0.7" stroke-linecap="round" fill="none"/><path d="M123.8 683.1h0M123.6 683.5h0M122.4 683.5h0M124.6 681.2h0M124.6 683.9h0M121.9 683.0h0M124.3 684.2h0M122.1 681.7h0M122.4 684.6h0M122.0 683.0h0M122.7 683.7h0M123.8 682.1h0M121.8 681.8h0M121.9 680.6h0M124.9 681.8h0M120.6 685.0h0" stroke="#6b1040" stroke-width="0.8" stroke-linecap="round" stroke-opacity="0.9" fill="none"/><path d="M125.0 683.5h0M120.4 685.8h0M121.8 686.0h0M121.8 686.4h0M124.4 681.8h0M124.7 682.4h0" stroke="#ffffff" stroke-width="0.6" stroke-linecap="round" stroke-opacity="0.6" fill="none"/><path d="M120.2 684.6h0M119.2 687.3h0M119.5 685.3h0M120.9 683.4h0M121.2 686.7h0M125.1 681.0h0M121.7 688.1h0M120.9 680.7h0M120.1 687.0h0M123.3 684.9h0M124.1 679.4h0M120.4 683.9h0M122.6 689.3h0M120.1 684.8h0M123.8 681.1h0" stroke="#6b1040" stroke-width="0.7" stroke-linecap="round" fill="none"/><polygon points="175.0,638.9 178.4,636.1 181.0,635.2 184.4,631.9 187.8,631.0 190.0,632.4 190.8,637.1 190.3,641.7 187.8,644.6 183.5,645.4 181.0,643.6 179.2,640.8 175.8,639.9" fill="none" stroke="#6f2a8f" stroke-width="1.1" stroke-linejoin="round"/><ellipse cx="121.7" cy="538.4" rx="4.4" ry="3.5" fill="none" stroke="#e9c62c" stroke-width="1.4"/><path d="M122.4 679.0h0M123.2 685.1h0M121.8 685.6h0M120.1 679.2h0M125.1 683.6h0M120.6 680.4h0M122.6 679.8h0M119.0 682.6h0M120.0 682.6h0M124.2 686.9h0M122.9 680.8h0M121.4 687.8h0M124.0 681.7h0M124.4 679.0h0M120.4 682.6h0M123.2 679.2h0M123.3 682.2h0M120.9 680.8h0M120.8 681.1h0M123.2 679.7h0M124.8 681.5h0M119.1 687.5h0M119.6 685.2h0M124.7 680.9h0M124.6 679.5h0" stroke="#6b1040" stroke-width="0.9" stroke-linecap="round" fill="none"/><path d="M125.7 679.0h0M129.9 685.6h0M140.0 685.9h0M124.8 679.4h0M142.4 688.2h0M124.0 689.9h0M132.4 691.3h0M135.5 678.2h0M122.1 684.5h0M120.2 682.9h0M135.8 684.9h0M134.3 686.6h0M130.6 689.1h0M140.4 691.4h0M140.5 689.5h0M130.6 680.7h0M122.9 686.5h0M122.9 693.9h0M128.8 679.7h0M135.7 688.4h0M122.6 681.1h0M130.6 679.5h0M121.2 688.3h0M127.0 689.1h0M127.1 692.7h0M122.4 681.3h0M118.1 687.7h0M124.1 679.8h0M119.9 681.4h0M140.7 681.0h0M136.1 694.4h0M136.3 695.4h0M133.1 685.8h0M144.5 691.4h0M131.0 692.4h0M129.8 687.6h0M137.8 679.2h0M141.4 688.2h0M129.0 690.1h0M120.1 684.3h0M121.7 693.5h0M135.2 680.5h0M129.6 694.8h0M129.0 682.2h0M133.2 687.9h0M127.6 685.2h0M137.8 692.1h0M134.6 687.3h0M130.7 692.0h0M118.5 686.7h0M130.3 680.1h0M118.2 683.3h0M132.6 692.1h0M123.8 683.4h0M131.0 688.2h0M126.9 691.8h0M127.4 686.1h0M126.9 686.7h0M139.8 681.7h0M129.8 683.4h0" stroke="#3a4bab" stroke-width="0.8" stroke-linecap="round" stroke-opacity="0.9" fill="none"/><path d="M136.7 663.8h0M137.2 665.3h0M132.3 675.4h0M142.4 673.0h0M135.1 667.5h0M135.0 673.6h0M127.1 674.7h0M143.9 668.0h0M139.5 674.7h0M132.2 676.1h0M135.3 671.8h0M143.1 669.6h0M132.4 672.8h0M134.9 672.4h0M139.7 670.0h0M133.1 673.8h0M131.9 670.5h0M129.4 672.1h0M140.3 663.6h0M130.5 676.8h0M135.0 678.0h0M138.3 672.3h0M139.8 666.8h0M131.2 671.6h0M132.9 671.4h0" stroke="#8ed38e" stroke-width="0.8" stroke-linecap="round" stroke-opacity="0.9" fill="none"/><line x1="79.0" y1="528.5" x2="82.0" y2="526.5" stroke="#5a5a5a" stroke-width="0.9"/><line x1="104.5" y1="524.5" x2="113.0" y2="525.5" stroke="#a8392a" stroke-width="0.8"/><line x1="143.0" y1="675.6" x2="150.5" y2="678.5" stroke="#b02525" stroke-width="0.8"/><line x1="75.5" y1="591.8" x2="79.5" y2="589.5" stroke="#e8733a" stroke-width="0.7"/><rect x="112.2" y="517.5" width="23.0" height="5.3" rx="0.8" fill="#a8392a" stroke="#fff" stroke-width="0.35"/><text x="123.7" y="521.7" font-size="4.38" text-anchor="middle" fill="#fff">Fibroblasts</text><rect x="107.2" y="534.2" width="31.5" height="5.2" rx="0.8" fill="#e9c62c" stroke="#fff" stroke-width="0.35"/><text x="122.9" y="538.3" font-size="4.34" text-anchor="middle" fill="#fff">Smooth muscle</text><rect x="56.5" y="541.8" width="15.3" height="5.1" rx="0.8" fill="#5a5a5a" stroke="#fff" stroke-width="0.35"/><text x="64.2" y="545.9" font-size="4.6" text-anchor="middle" fill="#fff">B cells</text><rect x="132" y="571.3" width="15.0" height="5.3" rx="0.8" fill="#3fae6e" stroke="#fff" stroke-width="0.35"/><text x="139.5" y="575.5" font-size="4.6" text-anchor="middle" fill="#fff">T cells</text><rect x="75.5" y="585.4" width="27.5" height="5.2" rx="0.8" fill="#58ade0" stroke="#fff" stroke-width="0.35"/><text x="89.2" y="589.5" font-size="4.24" text-anchor="middle" fill="#fff">Late erythriod</text><rect x="51.8" y="600.2" width="48.0" height="5.1" rx="0.8" fill="#8fd14f" stroke="#fff" stroke-width="0.35"/><text x="75.8" y="604.3" font-size="4.26" text-anchor="middle" fill="#fff">Proliferating cancer cells</text><rect x="62.5" y="622.0" width="23.0" height="5.4" rx="0.8" fill="#c9a13f" stroke="#fff" stroke-width="0.35"/><text x="74.0" y="626.2" font-size="3.89" text-anchor="middle" fill="#fff">Cancer cells</text><rect x="28.7" y="638.6" width="21.1" height="5.2" rx="0.8" fill="#e8733a" stroke="#fff" stroke-width="0.35"/><text x="39.2" y="642.8" font-size="4.28" text-anchor="middle" fill="#fff">Epithelials</text><rect x="151.3" y="618.4" width="20.7" height="4.9" rx="0.8" fill="#2b2b78" stroke="#fff" stroke-width="0.35"/><text x="161.7" y="622.4" font-size="4.3" text-anchor="middle" fill="#fff">Mast cells</text><rect x="159.2" y="635.9" width="24.5" height="4.9" rx="0.8" fill="#6f2a8f" stroke="#fff" stroke-width="0.35"/><text x="171.4" y="639.9" font-size="4.2" text-anchor="middle" fill="#fff">Endothelials</text><rect x="119.3" y="664" width="22.4" height="4.8" rx="0.8" fill="#3a4bab" stroke="#fff" stroke-width="0.35"/><text x="130.5" y="667.9" font-size="4.3" text-anchor="middle" fill="#fff">Monocytes</text><rect x="97.9" y="674.5" width="37.6" height="4.8" rx="0.8" fill="#6b1040" stroke="#fff" stroke-width="0.35"/><text x="116.7" y="678.4" font-size="4.29" text-anchor="middle" fill="#fff">Cycling Monocytes</text><rect x="149.6" y="680.6" width="10.4" height="4.9" rx="0.8" fill="#b02525" stroke="#fff" stroke-width="0.35"/><text x="154.8" y="684.6" font-size="4.53" text-anchor="middle" fill="#fff">DCs</text><rect x="118" y="691" width="29.0" height="5.0" rx="0.8" fill="#8ed38e" stroke="#fff" stroke-width="0.35"/><text x="132.5" y="695.0" font-size="4.52" text-anchor="middle" fill="#fff">Macrophages</text><circle cx="201.2" cy="572.3" r="1.3" fill="#c9a13f"/><text x="206.8" y="574.2" font-size="5.3" text-anchor="start" font-weight="bold" fill="#1a1a1a">Cancer cells</text><circle cx="201.2" cy="578.8" r="1.3" fill="#8fd14f"/><text x="206.8" y="580.7" font-size="5.3" text-anchor="start" font-weight="bold" fill="#1a1a1a">Proliferating cancer cells</text><circle cx="201.2" cy="585.3" r="1.3" fill="#e8733a"/><text x="206.8" y="587.2" font-size="5.3" text-anchor="start" font-weight="bold" fill="#1a1a1a">Epithelials</text><circle cx="201.2" cy="591.8" r="1.3" fill="#4aa9dc"/><text x="206.8" y="593.7" font-size="5.3" text-anchor="start" font-weight="bold" fill="#1a1a1a">Late erythriod</text><circle cx="201.2" cy="598.3" r="1.3" fill="#8ed38e"/><text x="206.8" y="600.2" font-size="5.3" text-anchor="start" font-weight="bold" fill="#1a1a1a">Macrophages</text><circle cx="201.2" cy="604.8" r="1.3" fill="#3a4bab"/><text x="206.8" y="606.7" font-size="5.3" text-anchor="start" font-weight="bold" fill="#1a1a1a">Monocytes</text><circle cx="201.2" cy="611.3" r="1.3" fill="#6b1040"/><text x="206.8" y="613.2" font-size="5.3" text-anchor="start" font-weight="bold" fill="#1a1a1a">Cycling Monocytes</text><circle cx="201.2" cy="617.8" r="1.3" fill="#b02525"/><text x="206.8" y="619.7" font-size="5.3" text-anchor="start" font-weight="bold" fill="#1a1a1a">DCs</text><circle cx="201.2" cy="624.3" r="1.3" fill="#5a5a5a"/><text x="206.8" y="626.2" font-size="5.3" text-anchor="start" font-weight="bold" fill="#1a1a1a">B cells</text><circle cx="201.2" cy="630.8" r="1.3" fill="#3fae6e"/><text x="206.8" y="632.7" font-size="5.3" text-anchor="start" font-weight="bold" fill="#1a1a1a">T cells</text><circle cx="201.2" cy="637.3" r="1.3" fill="#a8392a"/><text x="206.8" y="639.2" font-size="5.3" text-anchor="start" font-weight="bold" fill="#1a1a1a">Fibroblasts</text><circle cx="201.2" cy="643.8" r="1.3" fill="#6f2a8f"/><text x="206.8" y="645.7" font-size="5.3" text-anchor="start" font-weight="bold" fill="#1a1a1a">Endothelials</text><circle cx="201.2" cy="650.3" r="1.3" fill="#e9c62c"/><text x="206.8" y="652.2" font-size="5.3" text-anchor="start" font-weight="bold" fill="#1a1a1a">Smooth muscle</text><circle cx="201.2" cy="656.8" r="1.3" fill="#2b2b78"/><text x="206.8" y="658.7" font-size="5.3" text-anchor="start" font-weight="bold" fill="#1a1a1a">Mast cells</text><line x1="299.6" y1="506.0" x2="299.6" y2="707.2" stroke="#444" stroke-width="0.8"/><line x1="299.2" y1="707.0" x2="482.8" y2="707.0" stroke="#444" stroke-width="0.8"/><line x1="297.8" y1="523.4" x2="299.6" y2="523.4" stroke="#555" stroke-width="0.5"/><text x="296.8" y="524.8" font-size="4.0" text-anchor="end" fill="#555">15</text><line x1="297.8" y1="554.6" x2="299.6" y2="554.6" stroke="#555" stroke-width="0.5"/><text x="296.8" y="556.0" font-size="4.0" text-anchor="end" fill="#555">10</text><line x1="297.8" y1="585.8" x2="299.6" y2="585.8" stroke="#555" stroke-width="0.5"/><text x="296.8" y="587.2" font-size="4.0" text-anchor="end" fill="#555">5</text><line x1="297.8" y1="617.0" x2="299.6" y2="617.0" stroke="#555" stroke-width="0.5"/><text x="296.8" y="618.4" font-size="4.0" text-anchor="end" fill="#555">0</text><line x1="297.8" y1="648.2" x2="299.6" y2="648.2" stroke="#555" stroke-width="0.5"/><text x="296.8" y="649.6" font-size="4.0" text-anchor="end" fill="#555">−5</text><line x1="297.8" y1="679.4" x2="299.6" y2="679.4" stroke="#555" stroke-width="0.5"/><text x="296.8" y="680.8" font-size="4.0" text-anchor="end" fill="#555">−10</text><line x1="363.6" y1="707.0" x2="363.6" y2="708.8" stroke="#555" stroke-width="0.5"/><text x="363.6" y="712.6" font-size="4.2" text-anchor="middle" fill="#555">0</text><line x1="432.9" y1="707.0" x2="432.9" y2="708.8" stroke="#555" stroke-width="0.5"/><text x="432.9" y="712.6" font-size="4.2" text-anchor="middle" fill="#555">10</text><text x="396.2" y="518.2" font-size="7.8" text-anchor="middle" fill="#222">AKR1C3</text><text x="389.4" y="725.0" font-size="8.6" text-anchor="middle" fill="#222">UMAP_1</text><text x="0.0" y="0.0" font-size="8.6" text-anchor="middle" fill="#222" transform="translate(290.2,618.4) rotate(-90)">UMAP_2</text><defs><linearGradient id="mg" x1="0" y1="0" x2="0" y2="1"><stop offset="0.00" stop-color="#fcfdbf"/><stop offset="0.25" stop-color="#fb8761"/><stop offset="0.50" stop-color="#b73779"/><stop offset="0.75" stop-color="#50127b"/><stop offset="1.00" stop-color="#000004"/></linearGradient></defs><rect x="472.5" y="567.2" width="3.2" height="22.5" fill="url(#mg)"/><line x1="474.8" y1="569.4" x2="475.7" y2="569.4" stroke="#fff" stroke-width="0.3"/><text x="477.5" y="570.9" font-size="4.2" text-anchor="start" fill="#333">4</text><line x1="474.8" y1="576.6" x2="475.7" y2="576.6" stroke="#fff" stroke-width="0.3"/><text x="477.5" y="578.1" font-size="4.2" text-anchor="start" fill="#333">3</text><line x1="474.8" y1="583.7" x2="475.7" y2="583.7" stroke="#fff" stroke-width="0.3"/><text x="477.5" y="585.2" font-size="4.2" text-anchor="start" fill="#333">2</text><polygon points="317.5,593.1 328.0,591.4 340.3,592.3 352.6,593.1 363.1,594.0 370.1,595.8 375.3,599.3 377.1,606.3 378.0,615.0 378.8,623.8 377.1,629.9 382.3,627.3 387.6,623.8 391.1,621.2 395.5,622.0 399.9,621.2 404.2,623.8 405.1,629.1 402.5,633.4 396.4,636.1 387.6,636.1 380.6,635.2 373.6,636.1 366.6,636.9 359.6,637.8 352.6,640.4 345.5,642.2 339.4,641.3 335.9,637.8 331.5,632.6 326.3,627.3 321.0,622.9 317.5,619.4 316.6,611.5 316.1,602.8" fill="#070108" stroke="#070108" stroke-width="1.0" stroke-linejoin="round"/><path d="M316.7 608.1h0M377.6 630.5h0M365.4 635.7h0M398.4 634.2h0M363.1 637.2h0M369.1 596.8h0M337.3 639.2h0M381.6 636.3h0M387.8 623.5h0M388.2 622.3h0M375.5 599.4h0M321.6 621.6h0M399.3 623.3h0M359.5 593.3h0M344.7 593.9h0M319.4 622.2h0M317.3 599.6h0M348.9 640.6h0M327.2 592.5h0M317.1 599.2h0M390.3 619.7h0M325.6 625.9h0M376.1 637.2h0M316.0 608.0h0M327.7 629.2h0M373.2 596.7h0M398.6 634.6h0M329.2 591.4h0M351.5 592.9h0M400.9 621.7h0M362.5 594.6h0M315.1 599.6h0M404.2 628.8h0M355.2 593.4h0M391.9 622.1h0M317.1 595.4h0M316.8 612.8h0M386.2 636.5h0M340.6 641.6h0M389.9 636.7h0M397.7 633.7h0M371.7 635.6h0M361.4 594.3h0M400.0 619.5h0M396.4 623.2h0M367.3 595.4h0M385.7 624.8h0M316.7 606.9h0M375.4 636.0h0M364.0 637.6h0M391.2 620.7h0M397.3 635.6h0M372.2 635.3h0M382.1 626.6h0M378.0 615.0h0M378.4 622.8h0M325.7 627.9h0M385.7 625.2h0M378.4 635.8h0M336.9 592.5h0M354.2 593.3h0M375.0 635.2h0M317.4 608.8h0M402.4 633.4h0M317.1 605.1h0M402.7 623.2h0M378.8 635.5h0M332.5 634.5h0M336.8 592.5h0M378.1 619.2h0M404.5 631.9h0M333.0 635.1h0M317.0 594.8h0M368.0 635.4h0M319.1 592.3h0M332.8 635.9h0M401.0 633.6h0M333.2 634.8h0M395.5 621.8h0M350.5 641.6h0M326.6 627.8h0M319.9 622.8h0M333.4 634.0h0M365.5 636.7h0M388.3 623.7h0M358.9 593.6h0M387.7 636.3h0M357.9 639.2h0M372.4 598.3h0M396.9 635.2h0M334.4 593.0h0M398.0 635.3h0M378.0 623.3h0M329.4 631.7h0M324.5 626.3h0M386.0 624.9h0M366.5 637.9h0M379.7 628.4h0M400.5 633.3h0M354.8 639.8h0M319.4 620.8h0M357.9 592.5h0M316.2 607.7h0M327.6 590.9h0M328.2 626.9h0M326.3 592.3h0M396.2 623.3h0M343.6 592.9h0M315.8 603.8h0M374.3 600.9h0M327.5 592.0h0M377.8 634.5h0M404.6 629.7h0M335.2 636.8h0M391.4 621.9h0M399.9 635.1h0M334.5 634.7h0M341.7 642.2h0M342.5 640.7h0M330.2 632.3h0M364.4 637.1h0M396.3 622.9h0M404.2 632.4h0M374.6 635.1h0M398.1 620.6h0M383.9 626.2h0M320.4 622.3h0M400.8 621.0h0M335.9 591.7h0M381.9 636.4h0M316.0 604.7h0M326.3 628.9h0M378.6 625.3h0M347.7 641.5h0M368.4 636.0h0M405.3 628.2h0M396.0 636.1h0M327.5 628.1h0M388.0 624.3h0M377.2 605.9h0M343.9 642.4h0M338.5 593.8h0M401.5 620.8h0M366.5 594.2h0M371.4 636.7h0M347.4 641.8h0M355.9 594.1h0M338.2 640.8h0M389.8 622.8h0M340.6 640.8h0M397.3 635.0h0M317.4 606.0h0M403.6 623.9h0M386.3 623.9h0M334.5 636.9h0M360.5 637.9h0M329.7 591.5h0M376.7 617.0h0M384.6 637.3h0M351.2 592.8h0M373.0 636.3h0M404.6 629.5h0M398.0 621.1h0M334.1 590.4h0M370.1 635.7h0M390.5 621.0h0M377.2 614.6h0M364.4 637.6h0M370.4 597.0h0M350.1 640.7h0M316.7 607.4h0M333.1 591.2h0M399.6 621.5h0M376.3 608.2h0M391.7 621.2h0M378.2 621.4h0M383.9 634.6h0M391.8 622.6h0M354.1 640.1h0M391.9 621.4h0M330.3 632.5h0M335.8 636.2h0M334.3 591.7h0M319.2 621.3h0M338.7 642.0h0M378.1 628.5h0M357.0 593.4h0M385.6 636.5h0M365.2 594.3h0M367.6 636.9h0M335.8 639.4h0M376.1 601.5h0M374.6 636.6h0M378.5 629.6h0M337.0 638.4h0M342.3 642.0h0M382.4 627.6h0M370.5 596.3h0M321.3 621.9h0M317.0 618.5h0M330.0 630.9h0M361.0 593.5h0M403.0 623.5h0M324.3 624.7h0M380.8 627.8h0M317.3 593.9h0M362.8 594.7h0M404.8 625.6h0M347.9 593.9h0M318.5 621.0h0" stroke="#070108" stroke-width="0.8" stroke-linecap="round" fill="none"/><path d="M339.3 634.5h0M367.1 609.8h0M334.2 602.6h0M352.5 638.0h0M335.3 597.1h0M328.9 596.9h0M393.1 622.0h0M361.9 618.7h0M346.7 593.5h0M340.1 596.1h0M359.0 627.2h0M394.8 626.3h0M368.5 618.9h0M352.8 630.0h0M341.8 634.9h0M351.9 634.2h0M367.7 618.1h0M369.6 595.9h0M364.2 618.1h0M391.0 622.1h0M322.4 612.7h0M365.6 621.7h0M383.3 630.2h0M316.3 605.9h0M334.6 615.7h0M318.6 618.7h0M338.1 604.3h0M349.4 625.0h0M365.5 625.0h0M336.1 605.8h0M367.4 606.0h0M362.9 609.7h0M317.1 612.0h0M351.9 637.9h0M330.7 610.0h0M335.7 620.1h0M373.8 625.4h0M359.5 637.1h0M340.7 631.4h0M336.1 608.5h0M364.8 622.2h0M359.7 614.5h0M365.0 605.9h0M361.8 635.8h0M367.7 617.1h0M337.0 609.9h0M336.5 605.3h0M387.1 624.5h0M338.8 624.0h0M342.4 613.1h0M351.1 628.0h0M321.3 613.9h0M371.7 604.1h0M360.0 604.7h0M343.2 625.6h0M345.7 635.9h0M373.8 606.5h0M382.6 633.5h0M327.2 599.4h0M375.6 628.3h0M355.5 602.1h0M321.6 602.2h0M376.5 605.5h0M370.2 601.1h0M357.9 613.4h0M323.2 611.9h0M395.3 632.5h0M354.4 617.3h0M343.6 630.7h0M326.4 602.1h0M317.3 595.7h0M321.9 618.6h0M330.3 626.2h0M347.4 638.2h0M339.9 621.4h0M351.2 617.7h0M352.6 627.7h0M345.6 593.3h0M343.5 632.6h0M352.9 611.9h0M332.6 623.9h0M352.9 640.0h0M329.7 604.5h0M341.6 593.1h0M332.7 632.2h0M352.3 605.1h0M374.3 601.8h0M325.9 596.5h0M328.3 615.1h0M386.6 630.0h0M330.8 599.1h0M342.9 599.4h0M320.4 606.3h0M351.1 611.5h0M319.7 609.7h0M335.4 598.8h0M345.9 637.6h0M403.7 627.8h0M345.2 626.9h0M370.0 611.2h0M364.5 620.6h0M330.4 593.8h0M348.1 640.1h0M371.3 620.9h0M334.1 633.3h0M333.1 593.5h0M335.3 620.1h0M356.5 593.9h0M331.8 626.7h0M372.6 611.9h0M350.2 611.1h0M375.2 628.1h0M329.0 614.9h0M338.9 622.6h0M339.5 606.6h0M389.2 623.3h0M351.0 599.9h0M375.1 599.5h0M333.2 608.5h0M357.6 627.6h0M326.2 608.5h0M339.6 600.8h0M371.3 623.4h0M342.4 595.0h0M373.7 608.9h0M349.2 633.7h0M327.4 626.6h0M317.8 617.6h0M367.4 632.4h0M350.6 636.9h0M346.5 635.6h0M394.5 631.9h0M349.1 604.4h0M321.6 602.0h0M397.2 622.9h0M363.7 621.9h0M342.6 602.9h0M359.9 607.4h0M404.4 629.7h0M346.4 637.0h0M361.6 601.4h0M339.3 617.8h0" stroke="#ffffff" stroke-width="0.6" stroke-linecap="round" stroke-opacity="0.6" fill="none"/><path d="M337.4 593.7h0M382.5 629.6h0M349.3 600.4h0M382.3 634.4h0M347.9 637.2h0M347.6 602.2h0M370.0 597.2h0M319.0 620.3h0M369.3 629.8h0M360.2 632.3h0M337.1 622.3h0M370.6 633.3h0M323.0 616.7h0M376.6 624.6h0M348.8 617.9h0M341.6 605.1h0M327.5 619.2h0M394.2 626.2h0M332.7 626.2h0M351.7 606.4h0M333.7 597.1h0M319.2 606.1h0M342.8 610.5h0M335.7 618.6h0M361.6 594.8h0M342.3 615.3h0M345.2 635.9h0M384.4 632.8h0M356.5 605.9h0M386.4 624.9h0M380.4 630.8h0M345.9 618.3h0M366.4 626.2h0M351.9 628.9h0M370.0 612.5h0M347.0 626.2h0M335.7 624.3h0M342.6 614.7h0M333.2 609.4h0M382.0 634.1h0M354.6 636.2h0M337.1 597.3h0M400.3 628.2h0M366.6 634.3h0M335.9 603.5h0M376.0 615.3h0M356.6 616.0h0M388.3 635.0h0M348.1 597.4h0M365.4 605.1h0M321.9 614.5h0M388.1 630.0h0M330.6 614.7h0M341.0 610.2h0M391.8 632.6h0M370.2 628.9h0M364.5 605.3h0M390.3 634.9h0M384.3 633.3h0M360.3 620.9h0M323.0 600.2h0M359.1 599.7h0M373.4 621.6h0M374.6 630.6h0M357.2 632.3h0M394.4 627.1h0M338.8 611.8h0M330.7 603.0h0M344.6 602.8h0M355.5 608.1h0M368.5 612.7h0M368.9 635.9h0M366.9 635.1h0M367.1 614.1h0M344.3 632.8h0M367.9 595.2h0M365.2 634.3h0M364.4 635.6h0M375.4 635.2h0M339.1 627.6h0M328.6 600.8h0M326.5 603.4h0M352.7 594.7h0M372.5 601.6h0M394.8 622.8h0M340.3 640.4h0M341.5 637.7h0M339.3 597.8h0M367.2 636.7h0M351.2 595.4h0M357.1 636.8h0M339.1 638.1h0M351.8 600.4h0M373.2 605.0h0M333.2 623.9h0M342.4 636.6h0M339.7 610.4h0M348.6 629.3h0M360.5 593.9h0M376.1 612.0h0M355.0 626.3h0M319.3 595.8h0M336.8 635.9h0M388.3 624.8h0M358.1 600.7h0M338.7 624.0h0M395.1 625.8h0M360.1 623.1h0M369.1 635.6h0M369.7 618.3h0M358.1 593.8h0M332.6 630.3h0M347.1 623.3h0M346.4 594.5h0M394.5 626.8h0M372.8 610.9h0M328.2 601.6h0M369.2 618.6h0M392.4 628.3h0M332.0 601.3h0M343.3 595.5h0M378.5 631.8h0M354.8 606.5h0M376.6 620.6h0M373.2 621.7h0M340.8 618.1h0M342.2 593.5h0M356.6 621.3h0M324.9 624.6h0M346.6 606.3h0M328.1 616.6h0M341.8 608.2h0M403.7 623.7h0M347.7 594.4h0M320.3 616.8h0M368.5 630.2h0M332.3 631.7h0M334.0 631.4h0M361.7 599.5h0M374.4 631.0h0M356.4 613.7h0M340.1 595.4h0M371.5 600.9h0M343.8 594.1h0M349.2 613.3h0M360.6 637.4h0M364.7 608.9h0M339.7 607.0h0M368.1 621.5h0M340.3 620.8h0M317.0 612.3h0M354.3 608.1h0M319.0 600.8h0M357.3 608.5h0M329.7 599.4h0M366.4 633.3h0M358.6 625.7h0M327.9 619.1h0M387.6 627.7h0M325.9 598.2h0M350.2 603.5h0M331.1 620.5h0M399.5 623.5h0M376.0 631.4h0M364.2 630.2h0M400.2 629.8h0M375.9 633.1h0M327.5 606.8h0M343.2 595.9h0M332.6 630.1h0M345.0 629.0h0M367.5 629.8h0M339.7 629.7h0M335.8 613.9h0M344.1 613.3h0M344.0 600.4h0M355.4 605.3h0M362.2 616.4h0M363.7 627.9h0M380.0 634.8h0M341.7 616.5h0M375.4 632.6h0M366.4 620.8h0M374.8 625.1h0M318.5 600.7h0M356.2 636.1h0M346.7 618.5h0M319.9 606.8h0M341.3 600.6h0M321.0 595.4h0M368.3 610.7h0M388.8 628.1h0M347.3 626.0h0M349.1 628.8h0M348.1 620.4h0M345.4 601.6h0M328.1 597.5h0M352.9 619.1h0M374.9 631.2h0M324.1 596.7h0M317.4 597.5h0M365.9 621.8h0M391.7 631.0h0M355.5 624.8h0M358.0 633.5h0M357.8 595.4h0M336.9 625.3h0M360.3 623.2h0M347.8 634.0h0M390.1 634.9h0M334.7 605.1h0M355.5 595.1h0M369.4 603.2h0M344.4 639.5h0M348.5 606.6h0M354.1 613.7h0M367.6 625.1h0M337.6 630.4h0M355.8 634.6h0M359.1 623.4h0M320.1 603.6h0M363.2 602.0h0M353.9 635.5h0M352.7 601.2h0M332.6 630.3h0M361.6 622.5h0M366.8 636.7h0M352.3 629.4h0M336.6 610.2h0M342.2 629.7h0M342.7 595.0h0M334.4 595.1h0M353.2 624.9h0M317.6 616.8h0M374.0 615.6h0M374.3 619.0h0M370.7 632.7h0M320.2 620.5h0M317.3 611.7h0M381.8 634.1h0M375.1 631.3h0M344.4 624.1h0M362.1 612.5h0M347.1 599.9h0M325.7 620.0h0M373.3 626.8h0M368.6 620.7h0M362.7 632.2h0M351.0 626.6h0M319.4 615.4h0M321.5 615.6h0M335.6 605.7h0M362.3 624.0h0M341.4 634.6h0M340.2 605.0h0M341.1 602.5h0M329.8 603.2h0M320.6 607.9h0M344.1 621.5h0M359.2 619.9h0M365.1 620.8h0M355.1 598.7h0M361.1 632.7h0M373.4 626.3h0M376.0 626.6h0M319.4 596.8h0M351.3 635.6h0M355.4 600.5h0M360.5 625.1h0M396.5 627.7h0M333.3 600.2h0M384.6 626.4h0M331.7 619.7h0M337.7 597.1h0M377.3 614.6h0M360.1 607.6h0M323.5 602.3h0M328.2 613.4h0M353.4 619.4h0M359.0 601.6h0M365.2 607.2h0M373.2 619.6h0M323.4 619.3h0M350.5 619.6h0M385.6 631.6h0M354.6 622.5h0M353.7 593.9h0M365.6 633.9h0M366.3 601.6h0M374.6 619.0h0M362.3 596.3h0M347.6 633.2h0M386.2 629.0h0M365.5 631.7h0M366.6 619.8h0M372.3 622.3h0M375.3 627.0h0M354.4 610.8h0M326.3 624.8h0M322.1 601.4h0M392.9 625.7h0M359.6 597.0h0M370.2 607.6h0M328.2 593.6h0M367.0 596.4h0M355.3 624.7h0M346.9 640.7h0M369.5 606.3h0M357.7 629.0h0M367.5 612.6h0M316.6 608.2h0M329.5 628.8h0M379.3 630.3h0M331.2 624.0h0M358.5 604.0h0M341.7 616.4h0M371.2 611.7h0M363.7 602.8h0M333.4 612.5h0M376.5 616.7h0M320.7 609.1h0M378.4 621.0h0M364.2 618.2h0M339.0 618.1h0M335.2 628.4h0M349.7 614.6h0M327.1 608.7h0M348.3 619.2h0M368.2 600.3h0M362.2 615.0h0M327.6 596.1h0M351.9 614.6h0M390.7 629.2h0M343.0 629.3h0M317.1 599.9h0M333.6 633.2h0M349.4 631.4h0M347.3 632.2h0M326.5 603.7h0M328.4 595.3h0M338.8 603.3h0M322.4 611.2h0M318.3 593.8h0M374.2 631.8h0M326.2 616.0h0M341.4 602.9h0M363.1 609.6h0M377.6 611.2h0M318.3 597.1h0M362.0 633.9h0M343.6 628.7h0M365.2 615.1h0M331.7 632.6h0M358.0 609.6h0M333.3 612.0h0M387.6 633.5h0M327.4 615.4h0M372.5 598.5h0M334.6 627.5h0M336.4 610.1h0M360.6 593.9h0M318.7 600.1h0M340.4 600.8h0M354.6 611.2h0M351.5 635.4h0M349.2 635.0h0M329.3 614.6h0M376.0 605.0h0M371.8 622.5h0M355.3 599.3h0M339.2 634.7h0M400.9 633.7h0M325.4 594.8h0M354.7 623.3h0M342.7 638.3h0M394.0 622.6h0M381.5 631.5h0M349.5 630.1h0M349.2 629.6h0M398.0 633.4h0M340.9 602.9h0M333.1 596.7h0M376.4 620.0h0M377.2 619.2h0M343.4 611.2h0M355.2 624.0h0M397.1 632.4h0M339.1 594.5h0M370.3 629.8h0M361.3 608.9h0M337.3 637.6h0M372.3 599.5h0M333.6 591.9h0M329.0 624.2h0M336.6 623.4h0M342.8 603.3h0M374.2 619.5h0M376.0 605.3h0M363.9 612.6h0M352.8 597.6h0M336.0 594.7h0M332.0 592.5h0M320.9 616.9h0M333.6 605.0h0M362.5 634.9h0M340.1 609.9h0M334.1 620.9h0M368.3 596.9h0M346.5 604.5h0M341.7 596.8h0M369.6 616.9h0M371.6 627.9h0M328.8 593.1h0M363.4 630.5h0M336.3 607.1h0M391.9 626.1h0M376.8 611.5h0M324.9 597.6h0M330.1 603.0h0M371.3 630.1h0M336.2 628.5h0M377.5 626.3h0M333.6 625.1h0M355.3 606.7h0M367.4 631.7h0M318.3 607.3h0M327.0 622.4h0M350.3 620.1h0M351.7 596.8h0M371.4 636.2h0M366.1 596.4h0M344.8 614.9h0M360.4 634.1h0M359.2 605.7h0M371.1 597.2h0M330.4 604.9h0M369.8 604.4h0M359.1 636.5h0M334.2 625.2h0M322.7 593.3h0M352.2 601.7h0M329.1 619.6h0M381.1 627.9h0M360.8 601.3h0M322.3 602.2h0M342.2 617.4h0M367.7 612.9h0M368.4 598.3h0M350.7 597.7h0M337.2 608.6h0M362.5 630.7h0M335.4 609.9h0M352.0 610.9h0M356.9 602.6h0M388.6 624.3h0M319.3 619.3h0M375.5 624.3h0M326.0 619.1h0M349.2 627.5h0M319.4 601.5h0M326.0 619.3h0M361.2 633.8h0M350.8 637.5h0M320.0 611.0h0M353.1 613.4h0M324.7 597.8h0M360.9 603.5h0M360.2 597.7h0M382.3 631.1h0M345.4 602.9h0M346.8 638.6h0M351.4 628.4h0M348.0 634.6h0M334.6 615.7h0M346.7 611.0h0M352.6 639.4h0M349.0 613.5h0M363.3 636.4h0M360.2 625.4h0M382.4 634.9h0M347.1 623.6h0M330.0 628.0h0M371.6 625.8h0M355.5 616.6h0M371.3 605.8h0M367.5 630.6h0M327.3 626.1h0M333.2 622.9h0M372.5 625.9h0M326.2 623.5h0M319.6 610.0h0M318.5 598.5h0M318.3 619.7h0M324.9 614.1h0M396.1 632.7h0M363.2 606.2h0M330.3 613.7h0M372.3 599.9h0M343.9 617.6h0M353.1 623.5h0M338.7 592.5h0M373.8 604.2h0M326.8 604.8h0M359.5 621.2h0M364.8 624.4h0M357.6 619.8h0M345.5 592.6h0M376.1 630.2h0M371.4 617.7h0M365.9 599.3h0M334.0 604.4h0M330.8 622.7h0M326.7 600.8h0M375.3 608.7h0M327.1 615.6h0M335.8 617.3h0M351.3 634.1h0M331.1 622.0h0M347.3 611.5h0M343.8 636.9h0M349.8 600.7h0M367.4 600.8h0M340.3 640.6h0M360.5 618.3h0M359.0 637.8h0M384.3 634.2h0M363.1 597.7h0M342.4 612.9h0M319.7 600.6h0M367.1 634.1h0M353.6 620.2h0M375.0 623.8h0M358.5 633.6h0M342.4 617.7h0M361.7 601.1h0M358.4 622.1h0M334.8 616.9h0M369.2 608.6h0M339.0 593.9h0M353.6 635.7h0M319.3 620.5h0M356.4 602.6h0M331.8 600.7h0M372.0 624.8h0M332.6 617.5h0M399.2 634.6h0M395.6 624.4h0M320.6 598.5h0M355.2 626.4h0M351.9 632.3h0M357.0 619.2h0M364.0 612.6h0M321.0 622.6h0M354.0 606.5h0M370.1 602.6h0M334.0 624.7h0M325.2 624.5h0M356.3 615.5h0M331.7 621.5h0M366.6 598.0h0M362.2 601.5h0M373.7 635.1h0M334.8 615.3h0M355.5 633.2h0M333.1 605.2h0M401.2 622.2h0M350.2 594.7h0M348.8 641.3h0M369.5 618.8h0M358.3 614.9h0M340.6 637.7h0M349.7 598.9h0M346.9 623.4h0M396.9 635.3h0M351.0 595.3h0M334.8 598.0h0M356.8 632.9h0M319.3 595.2h0M348.1 631.9h0M336.3 632.2h0M362.8 606.4h0M340.8 635.7h0M322.2 596.8h0M375.5 613.8h0M341.2 619.4h0M365.8 623.6h0M347.9 631.3h0M361.6 608.0h0M335.8 624.6h0M338.8 619.9h0M319.7 594.1h0M345.7 593.5h0M365.6 636.7h0M342.0 611.9h0M332.3 595.8h0M334.5 617.2h0M357.9 601.0h0M318.1 619.7h0M398.0 633.7h0M376.9 627.7h0M342.1 629.0h0M322.2 599.6h0M331.6 628.6h0M352.1 632.6h0M363.4 633.5h0M323.9 608.2h0M353.1 609.3h0M342.1 597.8h0M362.1 616.3h0M320.6 592.6h0M331.4 602.7h0M389.0 632.5h0M349.0 597.2h0M340.5 613.5h0M319.3 601.2h0M373.3 614.9h0M334.3 612.5h0M357.2 610.1h0M329.3 606.8h0M358.7 598.3h0M399.2 634.3h0M321.2 607.0h0M374.2 614.9h0M322.1 598.7h0M341.2 595.6h0M339.2 630.8h0M359.7 625.2h0M354.1 594.4h0M370.3 600.8h0M339.6 633.9h0M367.6 635.9h0M343.3 612.9h0M350.0 632.0h0M350.1 633.0h0M377.6 626.5h0M323.8 617.7h0M394.8 634.5h0M319.2 606.9h0M324.3 624.5h0M366.7 604.1h0M349.1 593.1h0M337.2 610.4h0M369.8 603.4h0M367.6 619.9h0M371.1 597.2h0M339.3 593.1h0M365.0 632.6h0M367.4 635.5h0M357.5 614.8h0M379.0 632.6h0M357.1 599.8h0M359.7 609.8h0M347.1 595.4h0M326.6 592.8h0M330.3 630.2h0M375.2 627.2h0M349.4 629.6h0M344.9 613.6h0M360.1 596.3h0M329.4 592.2h0M342.7 594.3h0M366.7 607.1h0M323.6 598.2h0M398.9 628.3h0M377.7 624.3h0M391.1 634.3h0M328.6 629.3h0M346.0 631.1h0M341.6 606.1h0M345.8 604.7h0M333.3 624.9h0M332.8 627.4h0M333.3 611.3h0M401.1 630.0h0M334.9 605.5h0M350.9 629.8h0M385.5 628.6h0M331.7 615.4h0M349.7 640.1h0M325.5 608.6h0M361.0 623.5h0M333.8 593.1h0M324.3 600.0h0M336.4 599.1h0M347.8 640.1h0M350.2 624.9h0M396.0 635.4h0M352.0 637.7h0M352.7 635.6h0M388.2 624.2h0M364.5 617.9h0M374.5 605.9h0M330.9 615.1h0M362.4 616.7h0M368.0 616.3h0M339.7 603.5h0M390.0 630.5h0M377.1 628.0h0M358.4 622.1h0M403.2 626.0h0M353.0 619.5h0M334.6 627.8h0M349.2 626.9h0M346.9 628.8h0M386.5 626.0h0M361.5 622.4h0M394.7 626.2h0M352.4 632.2h0M358.9 615.4h0M343.4 597.9h0M346.5 609.9h0M323.5 612.3h0M390.4 627.7h0M319.7 600.2h0M338.3 600.2h0M333.1 606.9h0M358.3 596.3h0M320.6 620.3h0M340.7 604.3h0M364.0 606.5h0M351.2 609.7h0M376.9 621.3h0M374.9 629.4h0M355.1 606.7h0M331.8 606.9h0M352.5 603.0h0M345.9 640.4h0M367.2 615.5h0M335.1 593.9h0M383.7 632.3h0M347.2 604.8h0M347.9 613.0h0M335.5 621.2h0M340.6 627.8h0M351.3 636.1h0M377.9 616.2h0M392.5 629.3h0M329.6 614.9h0M328.9 600.6h0M340.9 628.0h0M328.5 627.0h0M335.9 631.0h0M333.7 599.0h0M357.2 612.7h0M354.8 594.1h0M336.2 621.4h0M344.3 641.4h0M367.7 595.8h0M352.3 610.9h0M336.5 607.8h0M350.3 626.9h0M339.0 620.8h0M376.9 607.5h0M332.8 626.8h0M369.4 626.8h0M367.9 622.3h0M350.1 626.9h0M327.9 628.7h0M340.9 633.1h0M336.5 606.1h0M330.2 629.0h0M372.0 602.7h0M324.3 609.9h0M362.9 632.8h0M366.4 605.8h0M332.1 598.9h0M400.4 633.4h0M376.7 629.3h0M361.3 604.7h0M358.8 594.3h0M342.1 605.3h0M351.4 594.1h0M353.0 634.5h0M352.2 632.2h0M333.0 602.3h0M337.0 611.9h0M362.8 612.0h0M339.8 640.4h0M357.1 598.5h0M331.5 630.2h0M391.9 621.6h0M356.6 630.1h0M393.2 630.4h0M328.0 627.0h0M337.9 614.0h0M378.2 629.9h0M347.8 608.9h0M318.8 595.2h0M328.6 614.4h0M392.5 626.2h0M340.8 636.1h0M330.3 613.3h0M351.4 624.5h0M368.0 602.3h0M348.2 640.5h0M367.4 633.8h0M354.1 637.0h0M350.8 616.9h0M353.4 618.2h0M399.7 621.5h0M318.9 601.1h0M323.1 596.5h0M336.0 607.3h0M340.3 592.9h0M319.1 618.4h0M403.4 625.7h0M369.2 600.6h0M364.4 634.2h0M338.5 599.7h0M320.1 614.6h0M346.6 639.5h0M353.2 619.8h0M403.3 629.8h0M331.5 598.2h0M320.5 622.4h0M351.4 597.2h0M358.4 607.9h0M361.9 619.0h0M362.8 600.5h0M331.4 597.1h0M332.7 611.5h0M369.5 615.9h0M355.8 604.0h0M326.9 600.4h0M372.7 605.7h0M351.3 631.1h0M369.4 598.1h0M337.4 614.9h0M317.7 617.6h0M330.4 608.0h0M349.3 619.4h0M353.9 595.1h0M392.3 624.1h0M338.4 612.7h0M334.2 635.4h0M344.9 596.0h0M369.8 627.0h0M322.9 601.6h0M330.0 629.7h0M347.8 606.4h0M338.0 618.4h0M336.2 598.5h0M366.3 635.0h0M329.6 592.5h0M323.7 606.6h0M365.1 616.9h0M375.1 634.2h0M379.5 629.8h0M331.3 604.9h0M333.5 629.4h0M331.6 596.4h0M354.0 593.4h0M367.5 598.6h0M363.7 602.5h0M351.9 606.4h0M368.2 612.0h0M362.9 599.5h0M355.5 595.8h0M340.0 610.7h0M359.5 595.4h0M356.9 603.7h0M318.8 595.0h0M375.4 627.9h0M336.0 631.3h0M393.3 625.0h0M336.3 631.8h0M340.7 633.7h0M392.6 625.0h0M362.4 608.2h0M373.6 634.8h0M332.6 627.5h0M333.0 624.3h0M323.8 600.7h0M355.3 600.4h0M389.0 633.2h0M328.6 625.9h0M321.4 598.7h0M329.0 613.6h0M358.7 606.1h0M331.1 610.3h0M337.0 632.0h0M359.3 618.3h0M323.1 606.8h0M358.1 625.5h0M316.6 605.2h0M341.1 602.7h0M360.3 615.5h0M329.5 616.4h0M353.7 629.1h0M342.1 641.5h0M381.1 629.6h0M338.8 610.3h0M333.0 599.2h0M361.8 635.4h0M391.1 635.5h0M361.6 618.6h0M337.1 635.5h0M368.1 625.5h0M373.2 627.7h0M359.5 607.2h0M326.1 610.3h0M316.8 607.3h0M401.1 627.5h0M350.5 615.9h0M394.7 621.9h0M358.6 636.3h0M371.1 617.7h0M344.0 623.8h0M370.2 610.1h0M338.3 606.1h0M343.2 619.5h0M359.7 619.1h0M385.8 633.1h0M340.1 630.7h0M376.2 635.8h0M344.8 632.6h0M356.5 634.8h0M375.3 626.8h0M373.3 607.2h0M400.8 629.7h0M351.7 630.6h0M336.3 613.0h0M338.0 637.9h0M362.4 622.8h0M366.3 611.5h0M347.6 636.1h0M350.4 599.2h0M342.0 612.6h0M344.8 641.6h0M376.0 607.3h0M360.3 620.2h0M340.7 634.3h0M393.9 626.4h0M345.5 618.5h0M366.9 614.2h0M323.7 607.2h0M379.5 633.9h0M325.2 622.0h0M368.1 619.7h0M346.7 593.9h0M333.3 622.8h0M343.8 604.4h0M398.0 635.1h0M361.4 602.3h0M373.7 621.4h0M384.1 631.8h0M349.8 600.3h0M369.1 601.1h0M326.1 621.4h0M329.1 605.8h0M343.0 603.9h0M370.0 614.9h0M358.8 603.8h0M366.4 606.8h0M341.8 616.0h0M325.7 623.7h0M396.7 634.9h0M345.2 638.9h0M340.4 610.7h0M356.9 622.0h0M362.5 635.7h0M354.2 611.4h0M384.4 634.3h0M333.5 610.1h0M375.4 619.4h0M349.7 625.7h0M353.5 622.0h0M359.2 630.2h0M343.4 613.7h0M336.8 625.2h0M352.9 634.9h0M376.4 614.3h0M356.3 617.0h0M333.5 630.2h0M332.3 594.4h0M332.9 618.0h0M318.1 601.1h0M374.3 602.0h0M319.4 614.0h0M365.0 627.6h0M346.7 623.9h0M403.7 627.8h0M363.9 595.6h0M322.7 606.4h0M375.7 617.5h0M360.5 614.2h0M368.4 611.1h0M357.2 624.4h0M330.4 629.8h0M378.2 632.4h0M363.3 628.1h0M328.3 626.0h0M342.1 620.1h0M337.3 604.2h0M328.3 618.0h0M359.8 620.2h0M342.3 626.6h0M345.5 597.4h0M375.2 608.3h0M366.5 599.4h0M332.7 631.6h0M360.9 629.2h0M386.9 624.9h0M370.9 600.2h0M338.5 637.4h0M365.3 626.1h0M372.1 615.6h0M345.7 633.6h0M333.8 598.3h0M386.6 629.6h0M389.9 629.8h0M394.2 624.7h0M343.0 630.3h0M323.7 600.7h0M353.9 637.1h0M375.5 615.8h0M324.2 614.6h0M342.0 618.9h0M349.6 594.7h0M317.8 616.8h0M382.6 627.8h0M366.1 600.5h0M358.2 597.3h0M331.6 620.7h0M336.2 599.0h0M328.5 605.7h0M389.8 631.6h0M372.3 600.9h0M320.3 602.9h0M370.9 605.3h0M361.4 602.0h0M344.1 636.7h0M371.3 633.6h0M338.9 602.9h0M400.4 629.5h0M366.5 596.9h0M340.1 606.5h0M359.2 630.9h0M347.1 618.8h0M351.8 635.8h0M355.8 612.5h0M348.1 606.8h0M317.1 607.2h0M393.2 630.0h0M357.0 626.8h0M383.8 635.1h0M338.2 612.7h0M332.9 600.1h0M318.0 603.6h0M350.0 609.9h0M346.5 610.1h0M358.9 635.1h0M344.5 617.2h0M359.5 623.8h0M356.3 630.4h0M369.2 631.2h0M322.1 610.4h0M395.5 628.8h0M392.7 625.2h0M362.3 625.9h0M368.5 633.6h0M328.0 621.6h0M352.3 622.3h0M336.7 627.0h0M395.8 627.0h0M332.3 617.3h0M390.7 628.1h0M368.8 625.1h0M359.5 621.6h0M345.8 597.8h0M363.4 594.7h0M338.0 592.7h0M360.3 630.0h0M345.0 636.8h0M334.7 604.0h0M337.4 602.9h0M342.2 639.5h0M367.3 614.2h0M342.9 630.0h0M321.9 610.1h0M343.1 609.3h0M344.8 612.9h0M333.5 612.0h0M374.4 614.6h0M337.1 594.8h0M332.7 631.5h0M329.5 612.4h0M344.1 600.5h0M350.5 636.6h0M318.6 594.3h0M320.0 617.3h0M347.5 617.2h0M336.3 614.5h0M362.9 603.5h0M337.9 593.2h0M367.7 613.8h0M375.4 613.9h0M352.8 624.3h0M370.8 635.7h0M336.5 617.5h0M341.3 634.5h0M321.7 598.7h0M394.5 626.1h0M345.6 609.4h0M343.0 602.8h0M338.0 631.7h0M347.6 605.2h0M349.8 594.4h0M339.2 625.6h0M390.0 625.1h0M330.1 595.5h0M387.4 628.5h0M337.0 617.8h0M366.1 600.3h0M370.4 617.5h0M361.5 597.9h0M334.0 614.2h0M376.4 609.5h0M350.9 597.1h0M361.0 613.9h0M358.1 608.4h0M352.2 616.1h0M364.7 631.7h0M358.5 629.1h0M360.8 625.1h0M357.9 601.1h0M335.5 603.1h0M343.2 626.0h0M359.3 616.2h0M340.5 593.5h0M322.9 613.1h0M338.9 592.5h0M371.8 635.8h0M373.3 626.3h0M340.8 641.2h0M349.1 598.6h0M350.4 593.2h0M350.2 612.4h0M354.5 622.2h0M343.7 613.1h0M346.8 625.5h0M335.6 605.5h0M336.8 598.0h0M361.4 618.1h0M351.7 623.7h0M355.7 614.7h0M389.4 635.9h0M331.5 629.2h0M343.5 621.8h0M374.9 622.8h0M333.3 622.5h0M363.9 621.0h0M324.3 609.7h0M324.9 596.3h0M334.2 595.7h0M348.3 641.0h0M328.0 623.9h0M345.7 611.5h0M342.3 624.5h0M367.0 610.7h0M348.2 639.1h0M335.4 610.4h0M321.7 618.6h0M343.7 637.5h0M385.3 626.4h0M380.7 630.8h0M360.4 604.0h0M339.7 627.2h0M350.7 625.8h0M352.8 600.6h0M337.8 613.5h0M378.2 617.8h0M337.0 611.1h0M403.5 625.1h0M359.6 616.9h0M329.2 621.3h0M366.2 607.6h0M340.2 612.0h0M361.4 636.2h0M322.1 606.4h0M340.7 637.7h0M352.2 606.5h0M364.3 611.1h0M368.2 613.2h0M371.1 629.7h0M361.5 614.8h0M361.5 614.4h0M393.2 624.3h0M376.8 630.1h0M401.2 630.7h0M353.5 624.6h0M379.4 629.6h0M349.2 598.1h0M363.1 604.1h0M334.4 630.5h0M364.5 595.1h0M371.5 624.1h0M363.1 598.8h0M331.3 615.9h0M320.5 609.5h0M342.8 594.5h0M345.9 614.1h0M359.7 628.6h0M332.2 598.7h0M324.2 623.6h0M337.5 627.5h0M360.4 602.5h0M362.2 617.7h0M371.7 623.2h0M401.2 623.8h0M318.8 611.4h0M325.1 609.7h0M352.4 601.3h0M370.7 596.5h0M338.5 631.7h0M354.3 600.8h0M318.2 593.4h0M338.5 596.7h0M340.0 638.3h0M320.6 607.0h0M340.9 635.9h0M379.3 632.1h0M357.8 596.1h0M339.1 616.7h0M321.6 606.6h0M335.3 594.3h0M355.5 628.2h0M327.3 611.7h0M359.3 604.5h0M331.4 631.6h0M359.2 617.3h0M367.6 635.9h0M395.8 627.5h0M336.4 592.1h0M319.0 599.0h0M335.9 631.0h0M347.1 593.7h0M333.3 618.3h0M319.2 614.7h0M390.2 630.8h0M350.5 621.4h0M343.0 622.5h0M342.7 605.4h0M357.7 596.4h0M357.7 618.3h0M346.3 611.7h0M368.9 620.3h0M356.7 606.0h0M325.1 597.6h0M330.8 608.3h0M336.3 623.6h0M345.7 608.0h0M352.5 614.7h0M366.5 606.4h0M360.5 607.4h0M330.9 594.4h0M336.1 603.4h0M391.6 630.6h0M380.6 632.9h0M403.2 629.9h0M318.1 599.3h0M328.2 604.8h0M337.0 596.7h0M363.5 607.2h0M376.2 622.7h0M349.8 632.6h0M371.2 603.0h0M376.5 632.1h0M335.6 597.1h0M366.9 603.4h0M320.3 605.8h0M330.9 607.2h0M352.3 612.0h0M363.2 630.9h0M335.6 619.7h0M367.9 599.0h0M355.1 617.0h0M349.9 629.9h0M355.4 602.9h0M364.8 630.9h0M371.7 632.3h0M376.9 630.4h0M384.5 635.0h0M357.2 635.0h0M352.8 611.6h0M355.2 603.0h0M340.6 613.9h0M324.0 620.9h0M325.9 624.8h0M328.1 620.5h0M360.2 612.6h0M377.6 618.0h0M403.3 626.0h0M357.8 636.3h0M327.4 618.9h0M386.3 629.9h0M356.2 635.7h0M375.3 620.1h0M352.9 632.3h0M342.6 604.7h0M333.5 609.6h0M374.3 604.1h0M355.5 626.8h0M352.3 636.6h0M374.6 604.3h0M341.3 631.9h0M360.6 596.4h0M358.7 603.6h0M345.6 616.4h0M352.9 613.8h0M390.5 622.2h0M371.8 607.1h0M366.3 597.0h0M344.2 620.6h0M389.3 635.0h0M373.8 633.5h0M323.6 622.9h0M366.4 619.1h0M352.7 611.3h0M329.4 604.3h0M337.7 608.0h0M369.9 616.1h0M322.8 604.3h0M346.3 619.6h0M342.6 595.1h0M325.0 593.9h0M363.7 634.3h0M359.7 636.5h0M370.4 596.1h0M355.3 616.4h0M352.8 628.0h0M321.4 609.4h0M362.3 616.2h0M349.6 629.5h0M326.3 622.4h0M331.5 622.4h0M347.6 612.1h0M345.4 624.4h0M358.2 627.7h0M328.3 614.2h0M317.7 610.5h0M345.4 629.1h0M350.8 639.3h0M356.1 634.1h0M318.4 619.0h0M352.8 611.3h0M344.0 604.1h0M389.2 632.5h0M330.3 591.6h0M363.2 622.0h0M360.0 606.0h0M339.4 597.4h0M359.1 631.6h0M335.0 616.4h0M328.2 608.8h0M323.1 603.2h0M346.4 640.8h0M339.9 610.4h0M327.7 621.2h0M340.2 610.4h0M346.1 597.3h0M370.4 609.7h0M373.5 599.1h0M323.8 596.7h0M355.3 618.8h0M345.5 634.6h0M376.7 624.6h0M339.9 617.8h0M345.4 629.0h0M352.8 632.3h0M349.4 593.9h0M362.0 614.6h0M349.7 616.0h0M372.7 614.9h0M383.5 634.8h0M338.3 635.0h0M336.1 595.3h0M355.5 610.1h0M375.4 629.6h0M336.1 608.9h0M328.9 621.5h0M341.2 624.1h0M343.4 619.9h0M393.5 624.0h0M337.6 620.3h0M351.9 620.3h0M344.6 615.9h0M340.4 607.6h0M347.6 617.8h0M386.6 634.0h0M357.5 615.2h0M333.0 618.1h0M334.7 631.5h0M367.0 605.1h0M355.7 630.5h0M343.3 641.3h0M351.8 599.0h0M371.8 618.1h0M348.7 600.8h0M372.8 612.9h0M328.7 607.8h0M377.3 633.9h0M403.1 630.4h0M333.5 599.8h0M322.2 592.6h0M361.6 619.4h0M364.9 626.6h0M348.0 621.9h0M333.0 632.2h0M360.7 636.8h0M331.9 622.9h0M345.6 641.2h0M350.3 624.4h0M351.3 630.9h0M348.5 609.0h0M340.7 634.5h0M367.5 636.5h0M358.6 632.7h0M322.9 609.1h0M334.2 598.3h0M368.8 597.5h0M319.3 614.2h0M317.4 606.0h0M347.3 638.2h0M338.7 612.1h0M344.5 607.3h0M392.0 622.9h0M370.7 621.1h0M325.9 623.0h0M377.7 632.0h0M354.9 616.0h0M339.1 638.9h0M357.7 625.3h0M347.2 599.9h0M319.1 611.7h0M337.1 593.1h0M333.0 614.0h0M361.4 622.6h0M354.8 611.7h0M336.8 592.1h0M397.3 629.1h0M325.5 615.8h0M361.0 616.4h0M326.6 599.4h0M318.4 595.1h0M374.5 634.3h0M377.4 615.9h0M329.8 620.4h0M340.2 623.2h0M360.4 608.8h0M352.7 598.8h0M397.8 628.3h0M332.3 629.5h0M351.2 625.2h0M366.2 607.6h0M356.5 638.3h0M320.5 596.1h0M374.7 630.9h0M352.3 608.9h0M372.3 604.1h0M396.2 629.1h0M342.1 601.6h0M338.2 611.6h0M343.5 615.4h0M351.0 635.2h0M337.8 601.8h0M357.6 632.7h0M333.3 605.2h0M363.9 628.4h0M351.3 639.7h0M355.4 633.3h0M365.9 632.1h0M362.7 624.8h0M331.2 616.8h0M347.0 618.0h0M354.8 605.0h0M395.6 631.3h0M344.5 640.0h0M326.7 625.6h0M325.8 619.3h0M376.6 623.2h0M361.1 620.8h0M335.0 596.0h0M369.5 602.9h0M400.1 631.5h0M362.1 601.1h0M374.1 603.3h0M326.6 626.9h0M324.7 605.4h0M327.5 628.3h0M343.0 593.2h0M317.7 597.8h0M365.8 629.8h0M340.8 597.7h0M342.5 622.0h0M371.0 631.7h0M331.7 604.3h0M353.5 597.4h0M354.8 612.3h0M374.1 616.3h0M354.5 613.9h0M343.6 609.7h0M341.4 629.3h0M325.3 612.4h0M355.4 594.2h0M359.2 636.1h0M363.9 627.9h0M363.3 636.9h0M345.9 635.2h0M376.9 633.0h0M355.6 609.0h0M323.4 612.0h0M346.0 593.8h0M354.6 623.3h0M353.4 630.5h0M369.3 623.1h0M334.0 623.1h0M360.8 594.2h0M345.7 626.0h0M393.5 634.3h0M383.5 627.9h0M384.9 630.1h0M343.2 630.9h0M350.4 600.1h0M349.3 609.3h0M328.4 594.7h0M366.4 603.2h0M365.1 620.2h0M339.9 605.2h0M320.3 601.6h0M320.3 621.5h0M331.3 612.0h0M360.4 598.4h0M370.8 628.6h0M361.9 635.6h0M349.4 619.1h0M362.8 595.2h0M353.2 606.8h0M374.1 616.7h0M372.8 601.3h0M399.1 631.3h0M340.6 611.8h0M368.9 597.9h0M357.4 611.4h0M333.2 617.5h0M334.8 600.4h0M369.6 617.3h0M370.3 622.4h0M346.0 618.8h0M347.7 641.5h0M326.8 593.3h0M366.2 625.5h0M348.2 630.8h0M358.0 605.9h0M324.4 617.8h0M344.1 604.4h0M353.9 616.1h0M362.3 619.0h0M373.0 609.0h0M376.9 608.3h0M368.6 611.6h0M351.5 633.3h0M330.5 600.7h0M361.6 596.9h0M331.8 616.1h0M349.3 609.5h0M385.5 634.4h0M344.2 618.9h0M369.1 600.5h0M360.8 622.7h0M394.7 635.4h0M367.4 630.1h0M337.0 598.7h0M367.5 615.0h0M356.8 599.8h0M371.5 635.0h0M339.7 604.2h0M331.7 628.8h0M358.8 607.6h0M345.8 627.0h0M363.3 600.8h0M324.7 592.0h0M337.9 610.7h0M349.1 607.4h0M335.8 616.7h0M343.4 624.5h0M369.5 623.2h0M356.1 625.4h0M360.1 631.0h0M353.5 614.7h0M358.0 633.5h0M361.7 602.6h0M373.2 607.4h0M360.8 617.1h0M355.8 625.7h0M370.8 600.1h0M329.1 627.1h0M353.9 639.0h0M328.5 619.2h0M341.1 603.7h0M373.3 632.6h0M356.5 633.5h0M318.4 607.7h0M335.8 597.6h0M355.3 626.7h0M361.3 633.1h0M371.2 610.5h0M347.9 608.4h0M363.4 636.8h0M368.2 616.4h0M362.8 620.2h0M370.6 627.0h0M359.9 626.5h0M373.7 609.3h0M355.4 616.1h0M344.3 597.6h0M371.1 633.7h0M358.9 624.5h0M324.8 603.5h0M357.5 612.4h0M320.2 597.2h0M338.2 630.5h0M324.9 618.4h0M401.8 627.2h0M353.0 621.3h0M346.6 630.5h0M368.8 605.9h0M396.1 631.1h0M349.2 622.7h0M352.7 638.3h0M336.2 634.6h0M323.2 613.8h0M321.1 620.7h0M362.5 636.3h0M331.7 598.8h0M319.5 621.0h0M339.8 608.0h0M364.7 631.6h0M324.2 610.9h0M373.1 620.6h0M339.9 623.5h0M342.5 600.5h0M356.5 621.9h0M347.6 598.8h0M368.7 631.8h0M370.7 625.6h0M381.8 630.7h0M354.4 612.3h0M341.9 628.1h0M373.6 621.0h0M369.3 611.3h0M347.2 626.6h0M375.2 615.7h0M326.9 603.3h0M357.7 638.5h0M363.5 616.7h0M335.1 600.4h0M349.3 606.8h0M327.0 609.5h0M367.8 595.3h0M375.8 624.8h0M397.9 623.2h0M349.0 629.1h0M340.0 602.7h0M361.4 606.8h0M354.5 627.6h0M334.0 612.7h0M400.3 625.8h0M339.9 610.1h0M357.3 607.8h0M345.3 614.7h0M389.2 623.5h0M367.4 606.2h0M321.0 612.3h0M353.1 616.8h0M317.1 613.6h0M365.8 634.3h0M351.2 630.3h0M332.5 623.9h0M363.3 594.5h0M345.5 638.1h0M400.4 624.0h0M330.8 592.9h0M341.0 612.6h0M362.0 624.1h0M324.4 592.1h0M341.9 622.4h0M374.3 624.9h0M316.5 608.0h0M333.6 593.7h0M329.7 603.1h0M373.3 621.2h0M351.9 608.2h0M385.8 626.3h0M346.1 621.2h0M318.5 611.3h0M347.7 597.6h0M332.4 621.9h0M350.2 613.3h0M341.8 621.1h0M343.3 597.0h0M323.1 610.2h0M333.4 628.6h0M372.0 605.6h0M396.6 626.1h0M336.4 620.0h0M356.8 609.5h0M384.4 633.0h0M328.9 604.5h0M393.2 624.5h0M370.5 611.5h0M328.1 604.3h0M352.8 610.5h0M364.0 621.9h0M365.0 627.0h0M396.4 633.0h0M399.9 625.4h0M354.8 630.5h0M394.7 624.8h0M356.6 624.7h0M317.2 606.3h0M348.3 627.5h0M380.7 631.6h0M342.2 626.5h0M399.0 630.8h0M357.2 620.4h0M318.7 610.8h0M369.7 612.9h0M327.8 615.6h0M372.3 609.6h0M337.3 631.0h0M353.1 597.1h0M359.1 610.1h0M396.3 629.1h0M346.2 623.8h0M336.2 627.7h0M354.0 622.0h0M372.8 628.1h0M327.2 597.5h0M329.9 613.4h0M368.0 598.9h0M356.4 620.0h0M368.1 629.8h0M363.0 620.9h0M338.4 636.3h0M368.1 614.6h0M361.9 633.3h0M343.3 600.0h0M375.9 607.6h0M393.5 622.7h0M336.5 592.9h0M385.0 629.0h0M344.6 606.6h0M396.8 622.0h0M325.5 619.4h0M361.5 598.0h0M322.4 610.5h0M377.6 618.6h0M377.3 632.7h0M322.3 607.5h0M356.7 606.1h0M351.5 640.3h0M354.7 597.9h0M374.8 626.3h0M321.0 595.1h0M384.3 627.9h0M335.9 611.2h0M349.8 608.3h0M336.6 620.1h0M320.7 603.0h0M366.1 623.5h0M369.8 614.0h0M400.8 623.9h0M361.1 622.0h0M334.3 615.8h0M317.8 599.9h0M338.9 629.9h0M321.3 597.1h0M351.6 611.6h0M357.3 624.4h0M333.0 608.4h0M354.8 619.4h0M369.6 622.7h0M328.9 602.9h0M326.1 614.7h0M357.5 635.9h0M371.0 602.5h0M362.3 626.6h0M346.7 633.7h0M325.4 599.4h0M372.8 628.0h0M365.2 603.5h0M361.0 606.8h0M338.9 639.3h0M392.3 624.7h0M397.7 626.0h0M358.2 604.2h0M316.8 601.6h0M333.4 612.4h0M332.5 610.1h0M326.0 627.1h0M333.9 591.8h0M401.7 629.7h0M360.5 612.5h0M337.5 606.7h0M354.9 637.6h0M373.3 625.5h0M350.3 609.8h0M338.9 628.2h0M333.0 600.3h0M335.1 596.8h0M319.6 598.6h0M349.1 596.8h0M363.8 635.9h0M372.1 619.5h0M334.4 617.9h0M338.5 624.4h0M318.4 614.5h0M334.9 624.8h0M351.9 621.6h0M364.4 611.2h0M365.0 621.1h0M328.1 628.1h0M328.9 602.2h0M374.5 615.5h0M320.9 602.3h0M348.0 627.4h0M325.7 602.2h0M372.3 602.1h0M393.8 623.1h0M371.4 608.3h0M367.6 603.6h0M384.2 634.8h0M353.6 624.5h0M323.1 620.1h0M364.6 599.0h0M348.2 623.6h0M365.2 634.0h0M351.4 634.5h0M346.6 626.1h0M369.5 627.0h0M360.3 611.2h0M337.0 609.1h0M369.4 628.9h0M329.6 612.1h0M358.1 607.5h0M375.5 633.0h0M342.3 616.8h0M355.6 604.8h0M334.2 615.4h0M340.7 622.6h0M331.9 594.3h0M400.0 622.1h0M349.4 611.0h0M355.8 608.2h0M377.7 627.3h0M334.3 611.5h0M325.0 609.6h0M341.5 599.7h0M349.5 610.8h0M353.8 593.8h0M318.8 601.2h0M362.5 595.4h0M341.1 637.5h0M356.2 619.5h0M345.5 612.6h0M368.6 630.0h0M347.1 616.7h0M362.5 627.9h0M332.1 614.6h0M359.5 627.8h0M331.4 621.3h0M365.1 623.8h0M401.0 627.0h0M319.8 594.0h0M396.0 634.5h0M334.3 630.0h0M371.0 602.1h0M362.9 637.2h0M352.7 634.1h0M320.6 604.0h0M389.0 627.1h0M340.1 607.6h0M361.3 632.6h0M360.6 610.1h0M318.4 617.3h0M398.1 622.8h0M339.2 626.3h0M347.7 622.7h0M349.4 618.0h0M322.1 618.8h0M401.1 633.6h0M335.9 625.7h0M372.7 623.6h0M322.6 609.3h0M397.2 628.7h0M372.0 616.9h0M375.5 625.8h0M351.8 595.0h0M394.8 622.0h0M347.9 596.6h0M365.9 617.6h0M344.3 607.8h0M386.5 628.3h0M366.9 607.8h0M359.7 628.2h0M341.3 612.6h0M391.2 633.4h0M334.3 618.6h0M322.7 610.5h0M344.5 627.7h0M353.7 618.1h0M332.7 619.2h0M335.7 613.2h0M333.9 622.1h0M352.5 600.6h0M351.4 631.5h0M355.8 619.7h0M363.0 635.7h0M361.8 622.6h0M369.8 601.1h0M377.2 620.0h0M356.0 628.1h0M318.0 613.5h0M361.1 632.3h0M344.2 624.2h0M376.5 623.2h0M353.0 594.1h0M370.7 611.1h0M341.7 622.6h0M357.1 629.4h0M326.9 616.2h0M400.3 630.5h0M319.9 593.6h0M330.5 611.1h0M394.1 622.6h0M336.0 622.8h0M331.0 592.5h0M352.2 612.4h0M340.5 640.0h0M401.6 622.7h0M374.5 604.7h0M357.4 604.4h0M347.7 629.7h0M371.2 626.4h0M338.6 610.8h0M333.1 608.2h0M393.3 627.2h0M348.6 597.8h0M353.7 633.8h0M363.8 620.2h0M334.4 610.1h0M340.0 607.9h0M342.9 600.9h0M385.3 629.3h0M323.2 592.6h0M365.0 601.9h0M371.7 605.6h0M365.4 606.7h0M347.3 601.4h0M358.8 608.7h0M397.8 629.7h0M338.3 596.3h0M366.5 601.4h0M368.2 627.8h0M387.4 634.3h0M328.9 597.1h0M351.5 608.3h0M350.1 602.0h0M344.7 620.2h0M343.2 622.6h0M352.8 607.5h0M356.3 614.0h0M349.8 603.2h0M322.7 610.9h0M320.7 613.3h0M372.4 628.4h0M346.3 605.4h0M324.4 594.2h0M331.9 625.8h0M356.0 631.5h0M354.1 637.0h0M345.0 594.4h0M365.8 608.9h0M338.5 626.5h0M369.9 633.1h0M320.4 604.7h0M322.4 597.5h0M347.3 617.2h0M373.5 629.1h0M348.2 640.4h0M356.2 627.4h0M342.5 609.6h0M392.1 622.4h0M339.5 624.0h0M353.9 631.7h0M358.1 632.6h0M390.8 634.9h0M354.8 609.9h0M368.5 635.0h0M343.8 597.9h0M341.5 640.7h0M363.7 622.0h0M360.0 612.9h0M369.2 633.4h0M370.4 630.0h0M396.3 629.0h0M391.2 630.9h0M395.1 625.3h0M338.2 624.7h0M354.4 622.5h0M371.7 636.0h0M386.3 626.1h0M372.7 615.2h0M349.0 620.0h0M365.8 617.6h0M339.8 599.5h0M374.2 614.3h0M329.0 624.8h0M388.5 628.7h0M334.0 620.8h0M326.0 608.8h0M404.6 628.2h0M367.3 606.9h0M341.7 628.5h0M355.5 596.3h0M353.7 598.6h0M336.3 628.2h0M363.1 633.4h0M377.0 619.4h0M366.3 631.5h0M379.6 631.9h0M371.5 631.6h0M371.0 627.7h0M347.7 637.8h0M324.6 602.7h0M370.6 611.1h0M374.7 620.2h0M390.5 633.4h0M366.5 619.5h0M364.5 609.5h0M365.1 608.7h0M371.4 604.4h0M372.4 605.7h0M344.7 641.6h0M368.4 605.9h0M382.0 630.7h0M346.1 623.3h0M348.2 619.3h0M344.5 637.1h0M334.7 619.0h0M330.9 631.9h0M378.7 629.4h0M327.4 625.7h0M382.7 634.8h0M327.2 592.2h0M389.9 629.6h0M357.4 612.9h0M330.3 626.2h0M339.4 597.5h0M341.8 614.8h0M360.3 636.0h0M365.8 603.8h0M380.9 631.0h0M351.0 627.7h0M336.7 600.2h0M324.2 600.8h0M330.0 617.3h0M362.4 618.9h0M337.2 606.7h0M354.6 607.0h0M341.5 629.7h0M335.0 598.7h0M318.2 602.2h0M351.9 609.5h0M368.1 617.9h0M334.2 600.9h0M316.8 600.7h0M366.7 627.2h0M326.0 597.9h0M352.6 604.9h0M371.0 634.1h0M386.9 631.5h0M333.7 608.0h0M381.4 634.6h0M339.9 596.4h0M344.9 613.2h0M327.8 616.5h0M359.3 595.8h0M320.4 610.0h0M344.1 613.1h0M366.2 632.7h0M349.0 611.4h0M383.4 633.4h0M337.8 619.9h0M366.4 618.8h0M360.5 619.9h0M377.8 619.4h0M350.0 635.1h0M359.0 611.5h0M331.2 596.7h0M333.1 614.9h0M330.2 612.0h0M342.8 619.5h0M327.0 616.8h0M336.0 598.4h0M374.4 612.3h0M319.3 614.7h0M367.7 635.6h0M357.5 628.5h0M356.4 629.7h0M396.1 623.5h0M350.0 604.1h0M345.6 628.9h0M344.5 620.5h0M369.1 605.6h0M344.3 595.3h0M341.4 595.4h0M353.1 635.1h0M375.0 617.8h0M320.6 605.8h0M369.8 624.0h0M366.5 614.7h0M352.6 611.5h0M365.8 600.4h0M341.4 612.1h0M350.6 622.9h0M337.9 602.0h0M367.6 629.6h0M398.1 623.6h0M327.8 628.0h0M353.2 605.1h0M350.0 619.9h0M359.0 597.7h0M327.9 609.5h0M356.8 609.9h0M366.4 619.2h0M338.4 623.2h0M385.8 629.9h0M335.6 607.3h0M321.9 601.7h0M355.6 636.7h0M376.3 623.3h0M351.8 596.0h0M340.1 593.3h0M363.3 619.9h0M375.4 609.5h0M397.8 626.8h0M330.0 624.4h0M335.5 599.9h0M321.1 596.1h0M366.3 625.3h0M345.0 628.3h0M359.3 621.1h0M374.7 611.0h0M326.6 606.9h0M368.9 599.2h0M350.6 623.6h0M322.0 611.8h0M360.7 621.1h0M366.2 609.8h0M323.8 597.4h0M355.5 637.0h0M346.4 611.1h0M349.6 635.2h0M343.0 624.0h0M347.1 600.4h0M373.7 599.0h0M375.3 625.9h0M347.1 608.4h0M318.6 593.3h0M345.5 629.2h0M354.9 624.1h0M347.3 634.0h0M360.8 595.8h0M350.5 632.1h0M373.1 631.0h0M349.0 635.4h0M374.8 613.7h0M364.0 619.3h0M369.8 623.8h0M392.0 622.2h0M348.1 623.1h0M320.5 616.6h0M376.0 607.5h0M352.7 615.9h0M355.0 607.3h0M328.8 610.5h0M362.5 623.2h0M347.4 615.2h0M336.9 602.0h0M333.0 595.4h0M339.7 610.6h0M331.3 596.1h0M396.0 626.2h0M354.9 622.5h0M356.4 633.5h0M390.5 623.0h0M362.9 625.9h0M334.6 609.9h0M343.1 622.2h0M383.4 629.5h0M372.7 606.0h0M322.5 597.9h0M341.1 627.9h0M365.3 621.3h0M317.9 601.7h0M335.7 635.0h0M354.0 606.5h0M329.1 623.8h0M335.2 610.4h0M400.3 627.2h0M375.9 617.4h0M348.5 632.5h0M338.2 607.5h0M402.0 630.1h0M333.1 632.6h0M360.7 606.8h0M335.8 621.5h0M336.5 609.5h0M373.2 628.2h0M354.9 613.1h0M324.9 617.0h0M367.9 603.3h0M333.8 622.4h0M361.8 618.9h0M371.1 611.3h0M347.9 598.1h0M346.3 611.3h0M330.3 605.1h0M401.2 630.1h0M338.8 593.2h0M392.4 626.3h0M357.3 612.8h0M361.0 602.4h0M362.1 611.6h0M343.3 637.8h0M332.3 630.6h0M369.8 601.4h0M365.5 600.8h0M359.4 607.9h0M331.4 611.5h0M361.6 628.3h0M335.4 605.8h0M341.1 615.5h0M363.1 623.4h0M333.5 630.1h0M324.5 624.2h0M347.2 634.8h0M363.1 599.3h0M364.9 634.6h0M364.7 617.1h0M388.3 635.9h0M334.7 595.3h0M351.4 637.2h0M357.6 617.1h0M324.9 606.3h0M362.9 597.5h0M327.0 597.8h0M361.9 601.2h0M393.6 629.7h0M320.9 613.0h0M365.0 630.7h0M363.7 634.1h0M362.9 620.5h0M366.7 622.2h0M403.3 631.8h0M341.7 623.8h0M340.5 603.4h0M335.6 627.0h0M343.1 626.0h0M363.1 624.7h0M353.3 609.5h0M386.3 633.0h0M346.8 619.3h0M366.2 600.0h0M357.3 635.3h0M324.7 625.6h0M370.8 599.7h0M375.9 616.1h0M349.0 597.8h0M368.6 621.2h0M340.7 636.6h0M354.1 610.0h0M316.9 611.2h0M361.3 616.2h0M370.2 606.5h0M334.6 595.1h0M346.2 611.9h0M370.4 618.5h0M348.4 622.6h0M326.0 599.8h0M346.3 619.6h0M338.0 594.3h0M337.2 600.1h0M377.0 612.5h0M343.6 612.1h0M334.6 601.6h0M359.5 631.9h0M320.4 602.8h0M367.8 596.3h0M386.3 627.2h0M340.0 615.6h0M375.5 619.8h0M368.8 632.2h0M398.0 625.0h0M358.9 620.7h0M343.2 600.9h0M321.6 609.6h0M366.3 605.8h0M360.4 607.3h0M334.6 607.1h0M395.1 628.9h0M348.3 607.5h0M341.8 634.2h0M371.8 622.9h0M345.4 624.6h0M345.9 635.3h0M333.4 593.8h0M369.6 615.4h0M346.1 618.4h0M352.4 603.7h0M359.2 635.8h0M335.8 630.2h0M373.2 623.4h0M339.7 624.7h0M374.6 618.9h0M348.2 622.7h0M329.2 592.5h0M393.1 631.9h0M335.4 615.2h0M361.7 636.0h0M324.6 613.7h0M334.7 622.4h0M354.5 610.0h0M357.2 595.8h0M359.3 596.5h0M370.3 622.9h0M334.5 615.0h0M400.9 629.8h0M368.2 621.0h0M362.1 617.9h0M384.9 628.6h0M366.3 618.4h0M403.8 625.9h0M353.3 635.8h0M346.4 625.8h0M334.1 632.4h0M331.6 601.2h0M354.6 627.2h0M348.0 628.9h0M326.4 608.8h0M356.8 595.8h0M332.9 618.9h0M351.9 608.4h0M350.5 611.0h0M341.4 609.1h0M348.0 630.7h0M351.3 597.0h0M338.9 593.4h0M361.7 609.2h0M324.6 625.4h0M333.5 621.7h0M340.7 609.2h0M334.9 608.6h0M330.5 611.1h0M345.9 604.7h0M326.3 600.3h0M320.1 599.8h0M371.0 620.3h0M399.6 625.7h0M323.2 594.0h0M356.6 597.0h0M359.3 616.7h0M338.8 616.3h0M336.5 602.2h0M368.7 605.8h0M393.9 634.9h0M358.6 618.0h0M323.2 592.5h0M318.2 619.6h0M330.7 599.8h0M331.3 599.2h0M366.7 621.3h0M318.8 598.4h0M337.8 610.1h0M374.5 632.9h0M377.9 615.6h0M399.5 628.9h0M332.2 610.7h0M350.0 613.9h0M334.3 612.1h0M326.3 595.9h0M322.2 615.2h0M397.6 626.6h0M321.0 619.2h0M367.1 601.9h0M319.2 603.1h0M384.3 635.2h0M363.4 628.8h0M334.7 611.3h0M364.8 633.8h0M334.5 593.4h0M388.0 632.9h0M334.7 610.6h0M334.4 599.4h0M360.6 603.6h0M336.2 617.4h0M377.0 616.5h0M350.2 613.2h0M347.0 614.6h0M345.7 610.7h0M316.6 600.5h0M351.1 626.3h0M319.3 597.5h0M331.8 614.1h0M352.2 622.2h0M353.2 611.6h0M336.6 603.9h0M374.0 607.6h0M318.4 599.9h0M332.3 627.6h0M343.2 630.1h0M318.0 610.5h0M350.6 595.2h0M341.0 613.1h0" stroke="#45146a" stroke-width="1.0" stroke-linecap="round" stroke-opacity="0.9" fill="none"/><path d="M324.8 624.2h0M351.5 640.1h0M364.7 623.3h0M322.5 593.4h0M322.3 602.5h0M338.9 604.9h0M358.4 621.1h0M335.7 607.9h0M317.7 599.7h0M346.9 626.7h0M331.9 619.4h0M361.1 615.3h0M330.5 598.5h0M344.3 621.3h0M343.7 612.5h0M362.5 634.6h0M345.3 632.0h0M347.6 614.4h0M343.7 623.1h0M373.7 624.9h0M370.7 619.1h0M391.3 623.7h0M355.6 606.8h0M341.5 632.2h0M344.2 608.1h0M391.7 626.9h0M382.4 632.3h0M335.9 607.4h0M352.1 635.1h0M345.4 620.2h0M322.6 603.6h0M333.9 606.7h0M393.5 634.8h0M364.8 631.7h0M338.1 623.5h0M355.1 608.4h0M338.8 636.9h0M344.1 596.3h0M319.8 617.0h0M355.5 636.6h0M390.9 634.0h0M359.9 630.5h0M372.3 602.8h0M352.0 599.6h0M331.1 621.0h0M369.1 624.7h0M370.3 610.2h0M330.8 594.9h0M346.3 623.9h0M364.3 597.3h0M336.8 636.7h0M355.2 609.5h0M348.9 624.0h0M392.2 626.4h0M343.2 616.0h0M338.2 604.7h0M341.4 634.9h0M392.2 624.6h0M318.8 596.6h0M320.5 609.7h0M378.3 634.2h0M352.8 630.8h0M359.1 603.6h0M319.3 609.8h0M330.5 624.5h0M358.9 637.9h0M401.3 630.0h0M376.9 616.6h0M338.1 620.3h0M358.1 608.8h0M361.0 630.9h0M374.4 627.1h0M360.5 608.4h0M347.8 627.2h0M348.1 633.8h0M358.9 624.3h0M350.7 630.2h0M341.2 618.5h0M360.6 631.0h0M328.7 605.8h0M351.2 625.0h0M318.9 612.9h0M357.9 611.8h0M361.9 598.0h0M377.8 619.3h0M350.2 607.6h0M342.2 634.3h0M355.1 598.3h0M380.6 632.8h0M344.7 638.2h0M335.2 632.6h0M385.3 634.2h0M340.0 618.5h0M376.6 619.5h0M319.2 608.4h0M329.1 623.7h0M366.0 605.9h0M333.3 606.5h0M353.6 599.3h0M336.0 611.9h0M344.1 606.0h0M374.6 617.8h0M375.6 635.8h0M371.2 622.2h0M385.5 632.2h0M392.5 633.3h0M348.0 598.2h0M356.2 622.6h0M344.6 606.9h0M328.7 606.9h0M368.6 615.4h0M325.7 618.2h0M363.3 610.5h0M341.9 595.1h0M334.4 602.5h0M361.1 622.3h0M326.2 593.5h0M377.6 631.5h0M367.9 619.6h0M363.8 627.4h0M336.4 607.6h0M334.2 613.1h0M355.5 613.6h0M318.8 595.6h0M317.3 617.0h0M331.1 617.4h0M343.6 629.4h0M377.3 623.4h0M364.8 631.7h0M330.7 611.0h0M333.8 618.2h0M355.8 634.3h0M318.3 609.9h0M348.8 634.6h0M341.1 608.0h0M401.9 627.4h0M346.0 632.1h0M354.8 611.0h0M359.3 611.2h0M354.7 635.1h0M373.8 620.2h0M341.9 634.1h0M351.6 635.0h0M367.7 614.3h0M378.5 629.9h0M328.2 596.2h0M372.1 631.7h0M361.1 619.5h0M348.5 627.4h0M333.2 631.4h0M347.9 619.0h0M348.7 605.1h0M373.2 631.4h0M331.5 596.5h0M365.9 633.6h0M336.6 594.9h0M336.2 592.7h0M329.0 612.9h0M326.8 601.6h0M346.3 615.7h0M332.4 599.1h0M390.6 625.7h0M397.0 630.1h0M359.6 600.1h0M373.2 612.6h0M329.0 616.1h0M370.8 632.0h0M324.4 609.6h0M358.7 617.4h0M388.4 624.2h0M319.1 611.5h0M324.4 613.5h0M343.3 605.6h0M349.5 605.8h0M348.1 630.7h0M386.2 634.1h0M377.8 632.8h0M320.1 620.6h0M366.5 626.7h0M327.8 619.2h0M328.7 608.7h0M339.8 631.0h0M395.1 626.3h0M320.9 599.9h0M366.7 629.6h0M356.7 621.3h0M375.9 615.5h0M326.1 625.5h0M345.5 625.4h0M327.2 591.8h0M348.9 600.0h0M345.7 628.0h0M373.6 608.5h0M356.6 611.0h0M326.8 626.0h0M368.0 599.7h0M375.1 623.2h0M402.5 625.5h0M393.7 635.1h0M338.3 636.1h0M373.1 606.9h0M388.3 629.6h0M349.0 600.5h0M330.5 611.0h0M358.5 606.7h0M316.4 607.4h0M376.9 620.6h0M317.5 614.5h0M360.7 629.2h0M370.8 599.8h0M345.4 608.1h0M339.8 603.7h0M340.8 612.2h0M387.5 635.5h0M347.3 618.7h0M374.4 601.7h0M375.6 607.7h0M338.2 607.8h0M324.1 600.3h0M348.8 625.1h0M352.7 614.2h0M326.8 614.9h0M388.9 632.3h0M353.7 593.7h0M361.5 594.2h0M321.5 601.7h0M330.2 600.6h0M342.9 619.6h0M345.1 634.8h0M341.9 635.8h0M387.6 633.8h0M350.3 612.3h0M349.2 638.8h0M355.0 603.0h0M374.1 622.3h0M317.9 598.6h0M329.4 597.0h0M343.3 636.4h0M395.9 630.9h0M354.2 626.1h0M318.5 601.8h0M363.6 613.9h0M360.4 605.1h0M344.8 630.6h0M368.4 615.8h0M322.8 610.3h0M365.0 637.1h0M343.2 631.0h0M373.0 629.6h0M334.6 620.3h0M356.8 629.6h0M355.0 633.0h0M376.5 627.8h0M326.0 595.2h0M373.8 630.4h0M389.3 624.5h0M318.7 609.3h0M335.1 612.2h0M323.3 598.5h0M388.8 625.2h0M333.2 626.0h0M346.9 624.8h0M355.0 603.3h0M333.5 633.5h0M398.0 629.8h0M340.2 610.9h0M376.0 612.6h0M396.3 636.0h0M336.3 611.5h0M323.6 602.0h0M354.4 621.0h0M377.4 624.2h0M335.3 598.7h0M386.9 625.2h0M330.6 617.3h0M397.4 625.8h0M330.2 594.2h0M374.0 601.0h0M375.6 614.5h0M376.2 616.1h0M375.0 615.2h0M342.3 594.3h0M329.1 614.6h0M333.1 621.6h0M376.7 624.5h0M374.6 631.5h0M327.9 591.9h0M363.6 597.6h0M354.8 609.5h0M385.8 630.1h0M354.6 615.4h0M355.4 597.1h0M363.4 608.1h0M325.4 598.0h0M354.4 599.7h0M365.1 609.6h0M393.4 622.2h0M358.0 616.6h0M348.5 627.6h0M328.2 627.9h0M347.0 629.0h0M360.7 604.9h0M356.6 624.0h0M336.2 604.8h0M399.4 634.1h0M335.2 620.8h0M327.7 602.4h0M373.5 618.9h0M359.6 620.3h0M364.4 636.7h0M374.5 628.3h0M360.1 617.2h0M365.5 613.3h0M355.5 608.7h0M348.6 607.7h0M358.6 598.1h0M319.4 601.6h0M352.3 636.2h0M376.7 624.9h0M368.4 626.3h0M352.6 628.1h0M331.0 627.8h0M355.7 630.3h0M325.1 591.9h0M331.2 622.4h0M372.8 634.5h0M327.1 625.9h0M326.3 607.8h0M336.1 619.4h0M395.3 633.3h0M329.8 596.7h0M360.9 633.0h0M350.9 629.2h0M344.3 596.5h0M317.9 597.7h0M371.0 607.8h0M336.1 596.7h0M327.4 595.8h0M352.6 628.9h0M344.9 604.0h0M357.6 610.3h0M349.0 622.1h0M345.1 608.9h0M352.4 627.5h0M339.9 630.2h0M346.4 600.4h0M360.9 637.4h0M351.6 615.1h0M363.7 616.6h0M336.3 605.1h0M357.5 618.6h0M375.7 621.4h0M342.8 631.2h0M343.5 632.1h0M339.0 602.0h0M336.4 604.4h0M345.0 614.2h0M325.4 597.4h0M342.4 615.2h0M343.9 618.7h0M330.0 612.6h0M343.8 593.7h0M363.8 629.5h0M355.2 622.5h0M340.3 611.9h0M337.7 593.2h0M337.1 608.2h0M357.5 611.6h0M337.8 610.0h0M340.8 615.0h0M341.3 635.5h0M404.4 629.3h0M338.6 622.2h0M363.0 628.1h0M350.5 621.0h0M333.8 600.1h0M349.4 636.1h0M332.1 609.3h0M341.0 604.7h0M333.4 605.0h0M401.2 633.3h0M354.0 611.5h0M317.3 607.5h0M338.8 635.7h0M344.8 620.9h0M344.1 595.2h0M339.1 609.4h0M354.7 625.6h0M386.6 632.2h0M328.1 623.3h0M377.5 618.5h0M349.0 618.0h0M353.4 610.8h0M334.2 598.8h0M372.8 613.4h0M333.2 602.4h0M403.0 629.5h0M377.9 622.1h0M374.4 602.6h0M361.0 627.8h0M359.0 625.4h0M365.6 612.1h0M334.5 622.7h0M332.3 605.4h0M328.3 627.4h0M325.2 622.4h0M330.1 607.1h0M322.9 592.7h0M321.3 611.2h0M322.1 616.1h0M374.3 620.1h0M327.7 608.3h0M342.8 614.5h0M351.6 595.1h0M395.1 625.2h0M348.1 593.1h0M338.1 606.9h0M338.2 596.6h0M342.6 633.2h0M371.9 614.9h0M369.9 634.1h0M373.8 625.8h0M342.5 638.3h0M342.2 612.4h0M332.0 612.3h0M324.8 625.0h0M369.8 615.4h0M370.1 606.6h0M359.0 623.3h0M357.0 614.7h0M355.5 596.9h0M359.4 618.2h0M330.0 630.8h0M376.2 631.9h0M324.2 622.1h0M401.6 625.8h0M347.4 640.9h0M351.2 609.0h0M321.5 600.0h0M343.8 615.9h0M365.8 602.3h0M356.2 637.5h0M350.3 616.4h0M330.1 614.0h0M352.2 617.7h0M370.7 622.3h0M394.2 634.7h0M361.5 608.8h0M331.6 617.6h0M330.0 620.9h0M343.9 600.9h0M352.7 619.3h0M326.8 619.8h0M336.0 636.0h0M397.9 624.7h0M349.4 598.3h0M352.4 629.4h0M318.6 608.5h0M399.3 624.4h0M344.9 639.1h0M334.8 618.4h0M372.1 626.2h0M346.4 631.4h0M340.9 601.2h0M343.8 606.4h0M355.3 639.1h0M337.1 603.0h0M361.6 621.7h0M339.7 638.5h0M352.3 593.3h0M338.7 597.0h0M345.1 624.7h0M347.4 624.0h0M373.8 617.2h0M347.0 621.6h0M361.2 600.5h0M351.1 625.8h0M341.5 622.4h0M371.2 632.6h0M344.8 598.4h0M341.9 613.8h0M324.3 614.9h0M347.1 599.9h0M350.5 602.5h0M389.1 626.1h0M341.3 603.5h0M342.6 612.3h0M368.6 611.9h0M364.6 635.9h0M360.6 632.2h0M398.7 623.1h0M350.1 631.0h0M397.4 626.5h0M337.8 600.2h0M388.1 626.5h0M319.6 612.1h0M371.7 633.0h0M401.6 622.3h0M393.7 623.2h0M332.5 613.3h0M344.8 600.8h0M344.9 597.1h0M320.7 600.0h0M378.3 624.3h0M338.5 612.8h0M329.5 613.8h0M368.1 632.3h0M357.1 601.1h0M338.4 617.1h0M347.9 598.7h0M376.8 625.7h0M370.1 600.1h0M353.9 608.2h0M318.9 593.2h0M361.3 594.0h0M362.7 597.3h0M343.8 598.6h0M350.1 598.6h0M375.8 604.3h0M320.1 601.8h0M375.9 630.0h0M341.7 630.4h0M328.5 598.7h0M336.0 634.6h0M345.4 594.4h0M354.9 594.9h0M391.0 622.2h0M399.6 625.6h0M395.5 625.7h0M344.0 602.5h0M340.4 604.2h0M322.5 614.5h0M328.7 610.2h0M356.6 634.0h0M358.3 626.2h0M328.4 620.8h0M319.0 619.9h0M346.1 612.0h0M370.6 632.6h0M336.0 609.1h0M360.8 612.6h0M355.9 606.8h0M333.1 607.6h0M331.6 602.3h0M338.1 638.1h0M390.9 623.9h0M353.1 620.0h0M349.8 614.6h0M377.3 610.6h0M362.2 610.4h0M399.8 621.3h0M385.9 626.0h0M357.5 620.9h0M352.9 638.4h0M350.4 626.3h0M320.9 620.9h0M361.3 631.2h0M357.0 627.1h0M354.9 601.5h0M369.8 607.7h0M327.1 599.9h0M372.5 616.0h0M360.0 637.4h0M350.2 602.7h0M353.7 608.4h0M368.9 622.1h0M356.9 599.7h0M322.2 618.0h0M321.8 609.8h0M332.4 631.9h0M374.6 633.5h0M329.2 606.8h0M373.1 603.7h0M377.9 633.5h0M329.6 601.1h0M375.7 622.3h0M349.7 624.9h0M346.7 630.4h0M345.1 631.5h0M349.9 625.6h0M396.6 630.6h0M326.2 615.5h0M332.9 613.8h0M356.3 619.5h0M389.0 627.8h0M331.9 631.2h0M354.6 629.0h0M404.5 628.6h0M391.9 623.4h0M334.7 611.1h0M318.9 613.4h0M347.1 636.8h0M333.4 613.4h0M401.3 632.5h0M340.3 613.3h0M319.8 599.7h0M359.1 594.2h0M392.6 626.6h0M395.7 631.8h0M368.5 628.1h0M338.8 622.1h0M404.0 629.0h0M348.4 628.6h0M355.3 629.5h0M400.6 630.3h0M352.8 631.5h0M375.5 609.6h0M325.9 613.0h0M387.4 624.6h0M343.0 617.2h0M355.6 626.8h0M364.1 623.4h0M371.5 620.6h0M342.1 624.3h0M327.5 627.5h0M348.1 604.6h0M344.0 596.6h0M362.7 605.8h0M338.8 625.3h0M360.6 615.0h0M344.3 594.7h0M341.1 626.3h0M336.2 595.7h0M369.2 602.5h0M327.6 616.3h0M360.5 633.2h0M377.6 634.3h0M391.8 626.4h0M401.8 623.7h0M377.8 624.4h0M323.4 593.7h0M345.6 602.6h0M345.7 628.3h0M335.1 624.4h0M339.9 605.2h0M333.2 609.7h0M347.9 629.9h0M356.3 619.9h0M362.0 600.0h0M340.9 622.4h0M331.2 629.2h0M343.0 623.0h0M350.7 637.5h0M324.2 619.3h0M338.0 631.4h0M349.9 637.7h0M356.3 637.0h0M360.8 597.1h0M328.2 613.1h0M351.7 625.1h0M365.7 611.2h0M334.9 623.2h0M331.7 623.1h0M361.0 629.6h0M328.1 622.9h0M363.7 596.5h0M354.6 630.6h0M372.6 609.7h0M373.3 599.2h0M333.0 623.6h0M357.3 628.6h0M394.3 625.9h0M379.8 630.2h0M346.9 632.0h0M361.9 633.0h0M372.8 608.0h0M323.9 606.4h0M347.5 640.7h0M353.0 614.9h0M336.7 604.0h0M353.7 635.0h0M395.6 633.7h0M366.9 627.7h0M342.1 601.1h0M321.3 617.6h0M370.4 635.1h0M342.6 600.3h0M367.1 598.0h0M324.6 606.4h0M392.6 628.0h0M322.7 614.9h0M346.0 641.8h0M344.5 630.8h0M401.4 623.9h0M342.8 592.7h0M325.1 597.1h0M326.2 597.0h0M322.1 613.6h0M344.7 607.9h0M357.4 600.3h0M365.1 601.3h0M326.7 606.7h0M363.4 612.2h0M374.1 621.0h0M346.6 608.1h0M339.0 632.2h0M375.5 611.6h0M358.6 621.3h0M356.5 638.3h0M361.7 618.2h0M391.4 627.9h0M325.9 621.1h0M331.4 592.7h0M321.3 595.2h0M347.5 633.5h0M365.2 636.0h0M374.7 606.5h0M354.0 606.5h0M339.2 634.7h0M401.4 630.0h0M368.9 618.1h0M372.3 605.9h0M322.4 611.9h0M371.3 625.4h0M337.9 600.4h0M337.9 617.7h0M372.7 623.2h0M328.1 591.7h0M344.9 596.9h0M386.2 632.0h0M378.1 616.5h0M319.6 602.0h0M326.4 605.4h0M340.4 630.2h0M378.8 631.3h0M387.8 632.9h0M340.4 625.0h0M377.8 617.1h0M358.3 626.9h0M340.6 625.7h0M362.9 611.6h0M378.7 631.8h0M325.0 604.1h0M345.0 596.2h0M335.6 604.5h0M374.6 613.0h0M347.4 605.2h0M321.9 598.6h0M321.2 622.8h0M344.1 632.6h0M320.6 604.1h0M318.5 594.1h0M338.9 629.8h0M351.2 603.0h0M389.1 624.5h0M362.1 626.0h0M372.6 607.3h0M391.2 635.9h0M318.3 606.3h0M323.9 595.7h0M349.5 602.3h0M328.8 622.1h0M317.9 608.1h0M388.5 623.7h0M360.0 633.6h0M330.3 606.5h0M348.9 595.9h0M340.6 637.5h0M324.4 615.6h0M354.0 609.9h0M346.4 622.8h0M374.5 623.2h0M361.8 631.2h0M342.4 630.8h0M331.5 595.2h0M342.0 629.9h0M365.0 610.0h0M351.1 627.5h0M351.5 606.0h0M341.8 641.6h0M375.6 624.5h0M351.8 618.8h0M333.7 614.1h0M369.7 613.5h0M328.0 620.8h0M329.5 621.8h0M388.1 631.0h0M377.0 626.2h0M328.5 609.3h0M376.3 617.4h0M396.9 631.3h0M321.3 597.9h0M325.7 603.2h0M322.1 605.2h0M373.2 602.4h0M332.7 619.9h0M353.3 621.9h0M393.5 632.2h0M370.9 618.7h0M344.0 594.7h0M343.2 627.0h0M333.5 596.6h0M359.8 596.5h0M365.5 598.9h0M357.5 621.4h0M375.7 632.5h0M339.2 618.6h0M388.9 627.4h0M355.6 601.4h0M330.1 630.2h0M399.4 626.7h0M319.9 604.2h0M391.8 628.0h0M326.7 592.4h0M403.5 626.1h0M327.3 613.5h0M340.4 627.6h0M336.3 616.6h0M360.0 606.2h0M354.1 598.8h0M388.6 634.2h0M370.8 597.2h0M346.3 607.1h0M365.6 636.7h0M366.7 608.4h0M368.1 596.6h0M356.2 596.7h0M352.0 612.9h0M343.8 629.4h0M360.4 615.0h0M387.7 636.0h0M325.3 593.2h0M384.3 627.9h0M344.8 611.5h0M361.8 627.3h0M395.9 631.3h0M349.3 614.4h0M398.1 632.1h0M387.4 633.9h0M373.0 615.5h0M350.9 618.5h0M375.8 623.8h0M331.1 622.0h0M325.1 617.8h0M322.5 600.6h0M372.1 621.5h0M320.6 600.4h0M352.1 608.7h0M339.9 626.1h0M333.7 595.8h0M395.7 622.7h0M341.2 602.8h0M371.8 632.4h0M328.4 603.1h0M383.5 632.0h0M328.9 628.9h0M349.8 622.1h0M354.5 598.3h0M338.0 626.1h0M360.8 603.2h0M366.1 626.4h0M357.3 627.1h0M333.1 599.7h0M346.2 634.2h0M332.5 632.6h0M318.0 597.2h0M373.0 635.5h0M335.5 624.0h0M319.6 593.5h0M388.4 624.7h0M360.5 629.9h0M334.0 593.0h0M372.1 622.7h0M355.1 608.0h0M366.8 616.1h0M325.2 623.9h0M374.7 621.4h0M341.2 635.0h0M332.5 626.1h0M341.3 596.3h0M334.8 602.9h0M341.6 615.2h0M357.8 636.4h0M325.1 619.8h0M345.6 618.5h0M404.7 628.7h0M347.4 621.9h0M317.4 606.6h0M325.3 608.7h0M359.0 627.3h0M357.6 595.6h0M365.9 620.1h0M348.4 609.2h0M386.0 628.7h0M367.5 619.4h0M338.4 618.7h0M339.5 621.5h0M351.7 619.7h0M362.7 600.8h0M323.5 616.5h0M373.2 610.4h0M320.9 596.3h0M353.9 633.4h0M344.6 595.4h0M333.8 605.2h0M346.6 605.9h0M360.0 607.6h0M359.0 613.3h0M403.2 631.3h0M359.6 637.6h0M372.3 611.1h0M371.5 612.7h0M370.1 626.5h0M370.8 621.0h0M368.0 609.6h0M334.2 603.6h0M325.7 592.5h0M370.8 634.5h0M376.0 621.6h0M331.3 607.0h0M397.6 627.7h0M381.0 633.2h0M401.7 631.1h0M323.7 605.5h0M318.2 613.8h0M347.6 631.5h0M351.8 596.5h0M357.9 636.0h0M339.0 601.6h0M339.5 635.8h0M351.8 616.4h0M346.9 629.8h0M387.9 633.5h0M331.3 626.1h0M367.9 612.2h0M342.7 629.0h0M372.1 608.9h0M319.4 602.6h0M362.6 597.9h0M338.8 595.5h0M375.9 628.5h0M345.9 604.8h0M360.0 607.2h0M337.0 615.8h0M398.7 630.7h0M372.5 612.7h0M359.2 625.2h0M356.5 623.6h0M345.0 604.7h0M377.8 626.4h0M365.4 607.3h0M388.7 631.5h0M336.2 621.7h0M322.2 592.7h0M389.7 625.2h0M396.7 632.6h0M390.7 623.1h0M385.0 632.4h0M387.8 630.2h0M380.5 632.6h0M378.5 621.9h0M366.2 607.5h0M332.7 629.2h0M367.8 611.2h0M397.0 621.8h0M368.3 602.6h0M333.9 614.0h0M340.9 636.9h0M367.9 630.3h0M368.9 634.6h0M348.9 626.8h0M350.4 609.4h0M355.7 612.7h0M318.0 601.0h0M362.3 631.8h0M351.4 605.9h0M347.2 615.1h0M391.7 630.5h0M316.6 609.6h0M331.5 598.3h0M369.9 613.2h0M352.5 596.4h0M364.3 615.2h0M336.2 618.0h0M336.7 602.6h0M373.5 621.0h0M349.7 604.0h0M344.3 608.6h0M373.6 613.1h0M389.0 630.1h0M355.6 603.7h0M350.9 635.8h0M373.9 602.4h0M340.1 599.4h0M397.8 634.9h0M334.2 623.8h0M369.2 633.2h0M374.1 625.3h0M344.0 605.6h0M346.5 616.4h0M336.6 620.8h0M358.2 627.9h0M370.2 624.1h0M351.3 626.2h0M376.2 617.6h0M368.2 605.4h0M391.9 627.1h0M342.1 635.1h0M329.6 609.7h0M331.7 597.3h0M361.7 610.8h0M355.1 632.7h0M340.4 605.5h0M345.0 626.8h0M343.0 637.5h0M325.7 612.9h0M323.6 596.0h0M349.5 625.0h0M338.7 617.5h0M357.5 603.1h0M330.3 631.2h0M368.9 600.8h0M373.6 624.0h0M327.3 626.2h0M354.6 614.5h0M325.6 603.0h0M368.9 608.8h0M352.5 624.5h0M367.6 636.6h0M361.3 628.4h0M352.3 622.3h0M393.7 634.8h0M361.5 621.6h0M367.7 611.3h0M389.5 630.6h0M350.2 617.8h0M336.5 620.5h0M320.4 598.5h0M321.2 605.5h0M343.6 636.2h0M348.7 605.4h0M326.1 619.1h0M339.3 598.1h0M373.2 632.4h0M370.4 607.6h0M330.4 601.1h0M357.0 611.1h0M359.9 593.7h0M353.4 624.6h0M325.0 626.0h0M350.0 624.5h0M361.7 635.9h0M371.4 630.5h0M335.3 622.0h0M318.4 598.1h0M359.0 632.1h0M343.0 625.2h0M322.4 603.2h0M354.7 622.2h0M362.0 599.2h0M318.4 606.6h0M329.2 616.5h0M321.5 623.3h0M320.4 592.9h0M339.6 623.0h0M336.3 617.5h0M326.8 604.5h0M399.8 630.1h0M373.5 613.1h0M323.6 615.1h0M356.5 593.6h0M345.7 596.1h0M364.0 630.6h0M365.7 595.0h0M344.3 593.4h0M338.5 611.7h0M325.8 592.9h0M375.6 609.0h0M350.9 605.0h0M392.1 623.2h0M337.1 632.8h0M371.4 629.8h0M357.9 601.5h0M322.0 615.3h0M363.4 626.1h0M368.1 599.1h0M327.6 597.3h0M331.4 598.3h0M375.1 608.5h0M327.8 596.2h0M328.6 597.7h0M385.8 633.7h0M341.5 609.7h0M331.5 593.1h0M333.6 623.6h0M356.6 595.9h0M342.9 621.8h0M347.9 608.5h0M333.0 593.5h0M347.4 634.7h0M394.1 627.4h0M321.6 610.4h0M348.8 626.4h0M381.2 634.3h0M370.2 623.9h0M318.4 609.5h0M344.8 622.3h0M333.2 613.1h0M362.2 631.2h0M346.3 627.5h0M400.1 623.3h0M367.9 599.2h0M357.9 602.6h0M377.5 623.8h0M352.7 634.5h0M361.6 624.4h0M357.6 619.9h0M320.0 619.2h0M333.3 595.4h0M370.0 633.6h0M337.0 612.6h0M360.8 625.8h0M370.6 627.9h0M364.7 602.8h0M350.7 618.5h0M401.3 633.4h0M321.9 594.3h0M371.8 610.8h0M329.7 594.8h0M354.4 615.8h0M354.2 623.1h0M357.7 601.6h0M398.0 633.6h0M364.2 607.8h0M357.4 637.0h0M325.0 600.7h0M391.0 629.2h0M353.0 598.7h0M326.3 613.8h0M346.6 614.5h0M360.8 595.2h0M393.3 627.2h0M365.3 628.7h0M325.4 621.9h0M375.8 633.4h0M334.6 625.7h0M335.8 616.6h0M359.0 635.1h0M320.3 606.1h0M344.0 629.9h0M332.5 608.4h0M361.1 626.8h0M317.6 601.2h0M355.2 611.1h0M353.5 595.6h0M324.7 621.2h0M342.0 612.5h0M365.0 598.3h0M352.6 619.7h0M321.8 601.8h0M335.0 612.4h0M343.1 622.2h0M388.7 630.6h0M353.6 622.5h0M366.3 599.3h0M339.6 637.8h0M322.0 597.5h0M326.8 621.1h0M350.6 600.2h0M383.2 627.9h0M349.7 630.1h0M358.0 594.2h0M353.1 613.6h0M369.8 630.7h0M355.0 606.7h0M348.6 611.9h0M352.2 608.4h0M353.4 601.1h0M359.4 594.5h0M345.0 601.6h0M338.2 603.7h0M375.8 632.5h0M338.2 602.7h0M361.1 606.1h0M336.2 598.8h0M363.0 623.3h0M333.3 594.2h0M331.7 629.6h0M317.1 597.5h0M352.3 624.9h0M364.0 614.0h0M375.9 614.7h0M370.9 612.2h0M320.0 599.2h0M351.4 625.1h0M387.2 633.4h0M344.4 609.0h0M389.3 635.2h0M343.4 600.1h0M389.6 624.9h0M347.3 605.8h0M320.5 598.5h0M350.1 606.8h0M364.6 630.9h0M341.5 623.4h0M378.2 620.7h0M374.4 603.2h0M361.8 621.7h0M352.0 618.7h0M352.9 629.0h0M320.2 621.9h0M390.2 632.4h0M330.1 617.3h0M370.4 636.0h0M371.6 597.8h0M374.6 608.7h0M370.2 621.6h0M334.8 609.8h0M352.2 628.7h0M367.6 604.5h0M372.1 609.3h0M338.6 633.2h0M340.2 612.2h0M399.4 629.0h0M342.6 628.9h0M375.2 627.2h0M333.1 630.6h0M333.3 628.1h0M324.8 595.1h0M339.4 599.8h0M348.9 616.2h0M331.9 606.2h0M327.2 594.4h0M366.5 604.1h0M349.7 627.7h0M327.3 593.2h0M341.0 602.5h0M328.7 605.7h0M345.8 637.5h0M361.6 617.2h0M359.1 597.0h0M323.3 599.4h0M330.7 598.9h0M348.2 628.1h0M350.1 595.6h0M347.0 621.6h0M373.0 617.8h0M366.0 612.5h0M329.6 605.3h0M359.0 607.9h0M326.8 599.7h0M332.8 596.3h0M355.7 628.1h0M331.0 604.8h0M361.3 614.2h0M353.3 638.9h0M330.5 630.7h0M369.7 597.6h0M360.8 620.5h0M324.7 600.8h0M355.1 634.3h0M374.7 615.0h0M342.1 619.4h0M335.8 623.6h0M350.2 595.2h0M368.3 629.5h0M379.8 629.8h0M339.2 600.3h0M326.8 621.8h0M342.4 611.7h0M374.3 600.0h0M362.0 607.5h0M358.9 623.9h0M329.3 628.5h0M339.2 594.5h0M360.3 620.3h0M360.0 633.1h0M348.2 624.0h0M340.6 618.1h0M352.5 632.2h0M342.3 637.5h0M351.4 602.1h0M375.2 612.9h0M369.3 635.6h0M342.2 604.9h0M361.6 600.2h0M343.3 640.2h0M338.0 636.5h0M392.6 628.2h0M354.6 596.4h0M338.2 594.8h0M366.1 628.6h0M323.8 603.1h0M372.4 599.4h0" stroke="#7a2c92" stroke-width="0.95" stroke-linecap="round" stroke-opacity="0.9" fill="none"/><path d="M351.4 602.6h0M327.5 592.4h0M385.2 628.7h0M394.2 628.1h0M346.8 638.2h0M335.9 610.2h0M328.2 616.3h0M349.2 614.7h0M371.4 603.7h0M363.0 620.5h0M322.7 598.3h0M347.2 622.5h0M347.2 595.0h0M378.4 634.4h0M398.1 623.2h0M328.9 598.4h0M344.5 625.5h0M358.0 627.6h0M332.2 611.5h0M337.9 630.0h0M322.0 599.5h0M324.2 616.5h0M402.2 632.5h0M350.3 638.4h0M342.1 606.9h0M339.8 601.2h0M389.4 630.4h0M338.2 628.0h0M347.4 604.5h0M353.3 619.5h0M334.2 620.1h0M349.3 612.8h0M369.4 598.2h0M330.7 592.5h0M372.1 629.7h0M370.3 609.0h0M358.9 608.3h0M344.9 632.2h0M355.8 596.4h0M341.0 604.1h0M333.0 599.9h0M376.2 612.5h0M371.3 601.9h0M352.5 601.7h0M361.4 608.0h0M359.8 601.2h0M322.7 604.7h0M320.5 620.7h0M365.1 634.9h0M353.0 638.0h0M321.8 615.5h0M366.7 600.8h0M401.2 631.4h0M367.8 624.8h0M326.0 607.3h0M345.7 634.7h0M351.5 609.2h0M324.1 598.5h0M324.8 622.0h0M358.0 609.5h0M393.6 635.5h0M331.9 620.6h0M362.5 615.5h0M336.5 603.5h0M357.5 622.4h0M338.7 610.2h0M356.6 635.7h0M328.1 613.4h0M371.0 606.3h0M349.1 605.6h0M351.3 602.9h0M366.0 608.0h0M353.1 635.3h0M353.8 604.5h0M357.9 625.2h0M388.2 623.7h0M358.3 637.6h0M322.2 621.1h0M351.0 632.5h0M383.5 633.9h0M367.1 632.4h0M366.8 602.1h0M374.1 601.0h0M386.6 627.8h0M347.9 628.8h0M337.3 635.9h0M347.6 600.1h0M323.0 595.2h0M347.7 605.8h0M388.1 631.2h0M335.1 632.7h0M325.4 601.3h0M371.3 633.2h0M328.5 591.6h0M384.5 633.1h0M354.3 633.1h0M348.6 602.3h0M341.9 604.0h0M338.0 621.1h0M356.5 622.0h0M390.0 623.1h0M351.5 637.3h0M340.8 630.9h0M325.1 608.3h0M363.2 634.8h0M378.7 629.9h0M328.5 614.2h0M392.6 627.4h0M344.6 604.2h0M321.1 601.1h0M345.5 617.0h0M388.5 623.4h0M364.2 628.4h0M333.2 598.8h0M327.5 628.0h0M375.7 632.2h0M349.4 612.1h0M382.3 630.8h0M353.4 600.5h0M345.7 604.4h0M359.6 598.0h0M345.3 606.9h0M365.4 626.6h0M383.0 627.1h0M364.9 621.6h0M339.1 595.1h0M321.5 623.2h0M324.3 607.0h0M329.9 615.2h0M372.7 597.8h0M334.3 629.7h0M350.5 610.4h0M347.0 620.7h0M350.4 633.6h0M335.8 620.6h0M359.1 628.1h0M332.3 612.4h0M333.6 628.9h0M344.8 626.7h0M342.9 593.9h0M332.7 628.7h0M353.0 594.6h0M347.2 603.1h0M360.8 606.3h0M354.0 598.0h0M324.1 622.2h0M372.9 627.9h0M345.4 633.9h0M342.2 632.2h0M340.4 623.8h0M337.8 603.7h0M344.2 625.4h0M326.2 621.0h0M342.4 622.4h0M343.3 626.9h0M376.1 619.0h0M360.1 619.0h0M332.2 599.2h0M361.2 604.3h0M344.4 626.9h0M320.5 601.4h0M341.0 601.4h0M368.8 613.9h0M347.4 604.2h0M344.3 638.5h0M339.8 632.2h0M339.9 602.8h0M352.3 613.3h0M356.6 611.3h0M342.8 639.8h0M390.3 623.1h0M366.5 626.6h0M325.3 591.9h0M386.7 624.5h0M359.0 611.9h0M373.3 609.3h0M323.3 614.0h0M372.1 604.5h0M398.3 634.3h0M373.1 613.7h0M341.3 596.6h0M351.0 639.5h0M366.2 629.7h0M349.4 613.9h0M355.0 638.3h0M360.7 606.4h0M351.2 626.9h0M357.6 629.5h0M342.3 617.6h0M369.7 604.8h0M394.4 625.2h0M322.7 618.2h0M372.5 623.7h0M371.8 621.5h0M385.0 633.9h0M318.2 619.7h0M341.4 620.9h0M340.5 618.4h0M336.8 604.4h0M339.9 627.2h0M356.7 610.3h0M393.0 622.5h0M341.2 628.7h0M340.7 627.0h0M342.9 617.7h0M342.2 616.4h0M361.0 607.7h0M333.1 616.7h0M333.9 596.0h0M355.1 614.3h0M355.6 607.1h0M328.8 596.1h0M368.7 608.9h0M359.2 637.3h0M334.2 629.4h0M349.3 616.2h0M339.0 623.9h0M316.5 603.4h0M392.8 627.2h0M363.9 618.1h0M367.7 624.9h0M320.4 607.7h0M350.3 624.0h0M363.0 633.8h0M331.6 603.3h0M330.3 598.0h0M392.8 622.6h0M339.4 635.7h0M328.2 613.2h0M320.2 621.8h0M342.4 603.7h0M333.2 618.3h0M401.7 631.4h0M351.3 640.1h0M346.1 610.0h0M347.4 609.9h0M335.0 609.4h0M395.0 634.7h0M323.4 618.2h0M367.2 617.1h0M398.5 634.6h0M398.1 633.2h0M349.2 618.9h0M397.3 635.2h0M378.2 633.7h0M351.5 612.0h0M340.8 626.6h0M332.7 594.9h0M341.0 621.7h0M346.1 628.0h0M363.9 625.9h0M393.3 625.1h0M372.3 630.0h0M335.8 600.2h0M348.7 601.1h0M333.0 609.0h0M342.8 593.4h0M342.5 616.8h0M324.6 618.0h0M326.7 595.0h0M361.3 626.5h0M347.5 637.5h0M327.9 620.4h0M385.2 627.9h0M344.7 601.2h0M372.8 603.4h0M338.9 619.4h0M362.3 624.4h0M392.1 632.7h0M390.2 623.0h0M350.2 618.3h0M358.0 625.3h0M346.4 596.8h0M316.6 602.8h0M399.2 627.7h0M343.7 622.8h0M359.7 602.2h0M334.4 602.3h0M339.2 612.0h0M373.2 618.6h0M338.8 621.6h0M334.0 630.1h0M344.6 612.5h0M339.5 622.8h0M355.6 612.6h0M343.1 593.0h0M353.8 631.6h0M344.2 602.3h0M341.2 630.4h0M390.6 625.1h0M364.8 629.6h0M353.5 624.1h0M342.9 598.5h0M338.2 613.1h0M367.4 636.5h0M349.4 636.9h0M336.1 604.6h0M371.3 626.4h0M339.9 613.8h0M326.0 594.9h0M322.1 609.8h0M400.5 623.1h0M393.5 629.1h0M317.3 616.9h0M351.2 610.3h0M330.6 610.5h0M359.1 629.0h0M348.3 624.7h0M360.2 628.6h0M344.5 598.6h0M345.3 601.5h0M375.5 606.9h0M332.9 601.7h0M342.8 603.2h0M350.4 627.4h0M344.8 627.3h0M325.3 596.6h0M356.8 628.0h0M340.4 604.8h0M372.8 599.0h0M337.3 627.6h0M329.2 619.0h0M344.4 640.8h0M344.3 633.2h0M378.8 629.8h0M333.0 597.4h0M364.1 603.5h0M337.5 632.4h0M327.6 609.6h0M334.5 599.6h0M342.5 636.8h0M344.1 596.7h0M367.2 620.5h0M331.4 629.8h0M348.7 616.1h0M345.0 614.9h0M317.9 597.6h0M390.8 622.7h0M374.2 615.1h0M360.5 628.4h0M349.3 616.0h0M364.9 606.3h0M344.1 601.5h0M361.6 632.1h0M355.5 632.8h0M333.4 618.2h0M361.4 602.9h0M363.1 600.8h0M342.2 610.8h0M355.6 596.0h0M334.4 622.0h0M345.8 600.9h0M341.5 626.5h0M337.2 635.8h0M372.8 600.1h0M389.3 632.0h0M350.8 639.4h0M350.7 624.1h0M350.5 631.4h0M318.4 611.6h0M347.4 608.3h0M337.5 625.6h0M337.1 598.1h0M342.2 601.4h0M349.1 600.7h0M360.8 616.1h0M332.0 613.5h0M376.2 606.2h0M338.3 607.7h0M318.6 616.0h0M388.1 626.3h0M338.9 602.6h0M325.7 596.8h0M343.1 627.2h0M322.0 601.5h0M362.2 609.4h0M371.5 612.3h0M359.1 594.9h0M335.9 633.2h0M394.3 626.6h0M322.3 619.2h0M323.1 618.0h0M369.2 613.5h0M374.3 602.1h0M326.2 620.7h0M340.0 638.1h0M394.3 632.8h0M370.9 605.9h0M387.0 626.0h0M367.1 626.8h0M358.4 635.7h0M318.4 613.7h0M365.2 626.3h0M353.3 595.1h0M338.2 621.9h0M340.8 637.0h0M353.7 607.1h0M346.7 613.4h0M348.6 632.0h0" stroke="#c0507c" stroke-width="0.9" stroke-linecap="round" stroke-opacity="0.9" fill="none"/><path d="M373.7 631.0h0M365.0 599.5h0M341.3 595.2h0M393.4 630.0h0M370.2 613.2h0M403.8 626.7h0M335.3 623.4h0M340.7 618.0h0M351.0 614.9h0M349.4 630.9h0M362.3 634.3h0M322.9 599.1h0M391.0 624.4h0M370.1 599.3h0M322.2 606.3h0M355.7 600.6h0M342.7 640.8h0M330.1 606.6h0M326.6 613.9h0M345.6 593.9h0M357.5 625.6h0M324.6 609.5h0M377.8 630.4h0M317.8 598.3h0M376.1 633.3h0M377.7 614.4h0M363.2 614.0h0M343.5 619.5h0M336.9 595.1h0M356.4 604.8h0M341.7 630.3h0M385.7 634.9h0M395.2 635.2h0M339.9 615.6h0M385.9 632.7h0M357.4 610.2h0M335.0 631.8h0M343.5 623.6h0M377.0 608.6h0M360.7 626.8h0M333.7 599.3h0M344.3 594.4h0M336.5 602.1h0M330.0 613.9h0M362.0 622.9h0M353.4 614.4h0M355.3 606.3h0M324.1 622.9h0M324.7 615.3h0M391.6 627.0h0M352.3 635.4h0M338.3 619.5h0M358.9 626.4h0M343.2 604.2h0M365.0 599.1h0M342.5 636.5h0M322.8 607.7h0M348.2 640.4h0M368.8 599.5h0M367.8 601.9h0M395.5 634.2h0M361.0 602.8h0M363.9 626.8h0M350.5 601.0h0M346.5 630.6h0M331.7 615.1h0M318.1 607.2h0M335.8 622.1h0M348.1 640.0h0M366.8 599.6h0M330.8 615.2h0M354.0 616.1h0M343.0 632.8h0M364.3 607.6h0M371.3 623.1h0M352.9 597.6h0M339.7 628.9h0M337.9 612.2h0M340.0 631.2h0M348.1 601.9h0M361.9 599.9h0M330.2 622.3h0M369.3 633.2h0M335.9 620.0h0M365.0 608.2h0M328.8 595.4h0M325.7 597.8h0M366.6 626.4h0M319.3 616.9h0M342.4 616.1h0M382.1 631.8h0M339.7 597.9h0M331.1 616.9h0M364.8 637.0h0M338.7 639.6h0M349.1 612.8h0M354.3 638.5h0M335.2 604.4h0M376.6 620.3h0M334.0 598.7h0M363.5 608.8h0M377.9 633.7h0M356.9 627.2h0M336.9 616.1h0M318.4 618.9h0M401.8 632.0h0M381.8 627.8h0M356.7 638.5h0M365.4 598.5h0M377.3 611.3h0M328.7 620.6h0M368.9 632.9h0M340.4 592.9h0M375.4 611.2h0M332.5 601.6h0M346.0 605.5h0M345.7 595.1h0M365.3 632.9h0M342.9 597.2h0M333.1 597.9h0M353.4 602.2h0M354.9 612.8h0M398.5 628.9h0M358.9 606.8h0M362.5 605.9h0M334.7 613.8h0M330.7 602.3h0M336.2 611.1h0M377.6 627.1h0M319.0 594.9h0M368.2 613.1h0M396.1 622.9h0M328.0 600.5h0M354.9 614.5h0M335.7 634.6h0M368.0 602.1h0M350.5 640.2h0M350.8 607.5h0M374.7 611.9h0M402.0 630.3h0M334.0 613.3h0M317.8 610.6h0M349.8 630.6h0M336.5 618.8h0M342.5 636.9h0M391.1 632.7h0M325.3 604.3h0M323.9 603.5h0M331.9 605.7h0M387.0 624.7h0M329.5 609.9h0M340.9 603.7h0M402.8 630.0h0M331.4 595.7h0M370.1 628.7h0M345.7 624.8h0M357.7 620.7h0M393.6 635.5h0M370.3 604.2h0M362.1 606.7h0M326.0 603.5h0M362.2 628.9h0M346.9 633.9h0M375.0 602.7h0M328.1 614.7h0M335.7 625.4h0M345.4 604.5h0M363.5 597.7h0M329.2 601.8h0M328.2 608.2h0M342.0 609.6h0" stroke="#ec8c62" stroke-width="0.9" stroke-linecap="round" stroke-opacity="0.9" fill="none"/><polygon points="311.4,636.1 315.8,631.7 321.0,630.0 326.3,631.7 330.7,636.1 333.3,641.3 328.0,642.2 317.5,641.3 312.3,639.6" fill="#070108" stroke="#070108" stroke-width="1.0" stroke-linejoin="round"/><path d="M331.1 642.4h0M314.3 634.2h0M312.3 637.7h0M324.1 630.9h0M329.4 634.8h0M311.3 640.5h0M316.2 640.5h0M312.3 639.3h0M314.8 640.3h0M325.2 641.9h0M319.3 641.3h0M314.7 640.5h0M327.2 632.3h0M331.3 638.5h0M319.7 629.9h0M313.4 640.8h0M331.0 641.6h0M317.4 630.5h0M311.7 638.7h0M315.8 631.8h0M320.2 630.7h0M318.5 641.2h0M316.2 640.7h0M319.2 631.1h0M311.3 634.4h0M332.3 641.8h0M330.7 636.6h0M313.3 639.2h0M327.2 632.5h0M312.7 637.7h0M327.2 631.8h0M324.2 630.4h0M315.5 631.7h0M310.2 636.6h0M328.5 640.9h0M315.9 640.0h0M330.3 641.1h0M316.2 632.7h0M322.8 632.2h0M324.2 643.0h0M317.7 630.2h0M324.6 631.0h0M311.4 639.0h0M333.9 641.7h0M326.9 630.9h0M332.2 640.9h0M314.9 632.5h0M331.8 636.8h0M321.6 631.6h0M331.4 637.2h0M330.0 634.0h0M312.5 638.0h0M311.5 635.6h0M312.5 638.4h0" stroke="#070108" stroke-width="0.8" stroke-linecap="round" fill="none"/><path d="M326.5 634.0h0M324.5 641.6h0M332.2 639.5h0M323.9 635.5h0M325.4 632.5h0M320.5 631.5h0M315.7 637.4h0M326.5 641.2h0M317.0 635.7h0M317.2 636.9h0M323.3 632.6h0M328.8 640.6h0M319.7 639.4h0M312.6 636.3h0M322.4 637.7h0M321.6 630.9h0M331.8 640.9h0M318.0 638.1h0" stroke="#ffffff" stroke-width="0.7" stroke-linecap="round" stroke-opacity="0.75" fill="none"/><path d="M323.9 637.7h0M322.9 635.6h0M314.6 639.7h0M324.0 632.9h0M330.9 639.8h0M324.5 638.8h0M328.1 636.9h0M328.8 637.7h0M325.7 639.5h0M333.0 641.3h0M317.4 637.0h0M313.7 634.7h0M316.6 639.4h0M315.7 633.9h0M316.7 634.0h0M328.4 639.2h0M328.4 634.3h0M327.2 638.9h0" stroke="#4a1572" stroke-width="0.9" stroke-linecap="round" stroke-opacity="0.9" fill="none"/><path d="M317.2 635.0h0M317.9 632.5h0M321.6 633.4h0M324.7 639.7h0M329.5 641.8h0M317.8 633.8h0M317.5 635.1h0M323.4 634.8h0M319.3 637.4h0" stroke="#9a3494" stroke-width="0.9" stroke-linecap="round" stroke-opacity="0.9" fill="none"/><polygon points="337.7,546.3 342.0,539.3 349.0,536.6 354.3,537.5 356.9,541.0 355.2,546.3 350.8,550.7 345.5,554.2 341.2,558.5 337.7,555.0 336.8,550.7" fill="#070108" stroke="#070108" stroke-width="1.0" stroke-linejoin="round"/><path d="M338.2 547.4h0M355.7 545.8h0M337.9 555.6h0M351.9 549.4h0M354.3 537.8h0M345.0 555.3h0M351.7 547.5h0M355.6 538.4h0M341.6 558.2h0M345.1 538.2h0M341.1 558.2h0M346.4 537.2h0M350.3 551.9h0M342.6 557.4h0M355.5 547.3h0M340.6 558.0h0M353.4 538.1h0M346.6 553.1h0M347.5 552.5h0M337.3 549.5h0M357.5 540.9h0M342.8 539.6h0M337.4 552.3h0M336.8 550.7h0M344.2 538.4h0M341.3 559.3h0M338.4 544.7h0M342.3 557.4h0M340.5 557.6h0M350.5 536.3h0M350.4 536.7h0M354.1 546.8h0M355.7 539.8h0M339.2 555.5h0M349.9 537.9h0M338.8 556.9h0M338.4 545.7h0M350.3 549.4h0M344.8 555.3h0M346.0 537.3h0M350.6 550.6h0M337.1 552.5h0M337.5 549.9h0M353.6 547.6h0M349.9 537.3h0M354.1 538.1h0M340.0 557.0h0M350.5 550.1h0M355.0 546.7h0M337.0 548.9h0M357.2 546.7h0M343.6 537.5h0M356.9 542.9h0M344.7 538.4h0M340.4 557.1h0M350.3 550.8h0M352.1 537.4h0M337.0 546.5h0M351.9 547.5h0M350.9 549.2h0M350.4 550.5h0M350.4 550.0h0M352.6 537.2h0M338.9 545.3h0M346.1 554.2h0M336.4 548.0h0" stroke="#070108" stroke-width="0.8" stroke-linecap="round" fill="none"/><path d="M346.0 546.4h0M352.2 542.1h0M346.1 539.0h0M344.8 538.5h0M344.1 552.3h0M340.0 543.6h0M350.3 549.1h0M341.6 546.1h0M352.5 538.5h0M353.3 542.7h0M342.3 541.5h0M344.5 545.7h0M345.8 541.1h0M353.7 545.1h0M351.4 545.4h0M350.4 544.7h0M338.2 553.2h0M346.7 543.9h0M349.2 543.5h0M340.5 547.1h0M343.0 551.1h0M351.0 537.0h0M352.2 539.4h0M342.8 539.1h0M343.9 544.5h0M352.3 543.3h0" stroke="#ffffff" stroke-width="0.7" stroke-linecap="round" stroke-opacity="0.75" fill="none"/><path d="M351.8 537.2h0M349.8 537.8h0M343.6 555.6h0M348.2 543.6h0M355.6 544.5h0M349.9 540.0h0M340.7 542.8h0M347.7 551.7h0M343.5 540.6h0M343.5 547.4h0M347.3 539.2h0M340.0 548.0h0M349.3 549.7h0M347.6 548.1h0M352.5 547.0h0M355.3 544.8h0M353.5 547.3h0M354.7 543.0h0M353.8 543.7h0M341.4 546.9h0M346.5 538.5h0M356.6 541.6h0M344.1 545.8h0M343.4 551.6h0M339.0 548.5h0M343.9 544.0h0" stroke="#4a1572" stroke-width="0.9" stroke-linecap="round" stroke-opacity="0.9" fill="none"/><path d="M342.0 548.7h0M342.9 545.5h0M348.7 541.6h0M343.8 555.9h0M348.9 549.2h0M352.2 544.4h0M342.0 554.6h0M348.2 544.6h0M349.0 542.8h0M339.9 553.9h0M346.2 548.6h0M351.1 543.3h0M350.6 543.8h0" stroke="#9a3494" stroke-width="0.9" stroke-linecap="round" stroke-opacity="0.9" fill="none"/><polygon points="383.0,531.5 392.0,531.3 394.0,528.3 399.0,527.6 402.0,530.0 401.0,536.0 399.0,539.3 396.0,539.3 394.0,535.5 388.0,534.0 383.0,533.8" fill="#070108" stroke="#070108" stroke-width="1.0" stroke-linejoin="round"/><path d="M398.7 526.2h0M397.5 540.0h0M401.4 536.3h0M389.9 533.9h0M391.0 530.5h0M392.2 535.7h0M393.8 534.7h0M398.6 538.6h0M402.0 530.8h0M398.9 539.6h0M391.2 534.3h0M401.3 533.0h0M385.7 532.3h0M387.8 532.9h0M384.3 533.0h0M391.3 530.5h0M393.1 535.4h0M391.0 530.4h0M389.6 534.7h0M382.4 533.7h0M391.9 534.7h0M394.3 538.8h0M399.9 528.0h0M401.1 536.0h0M395.9 540.2h0M394.9 527.7h0M394.8 536.9h0M395.7 528.5h0M388.7 533.9h0M384.3 533.0h0M395.1 536.4h0M398.3 528.2h0M384.1 532.5h0M391.2 532.7h0M400.8 534.3h0M400.6 539.2h0M390.1 532.0h0M391.6 533.8h0M383.1 531.7h0M396.5 539.3h0M396.4 528.1h0M393.9 536.1h0M389.8 534.3h0M397.2 527.6h0M392.1 531.1h0M387.0 534.0h0M393.2 530.1h0M383.2 533.3h0M392.7 530.2h0M393.4 528.7h0M388.5 530.6h0M400.9 527.6h0M383.7 531.0h0M389.6 530.5h0M400.9 530.3h0M388.4 531.0h0M399.1 537.6h0M395.1 535.9h0M401.1 534.2h0M402.4 532.3h0M392.5 528.8h0M391.7 535.5h0M393.0 530.2h0M385.5 532.4h0M401.5 531.1h0M384.3 530.3h0" stroke="#070108" stroke-width="0.8" stroke-linecap="round" fill="none"/><path d="M394.8 529.2h0M398.4 530.6h0M395.7 537.4h0M399.4 532.5h0M396.4 531.2h0M391.3 531.9h0M396.7 530.6h0M387.8 533.2h0M398.1 537.2h0M400.0 532.9h0M397.9 530.6h0" stroke="#ffffff" stroke-width="0.7" stroke-linecap="round" stroke-opacity="0.75" fill="none"/><path d="M393.7 530.3h0M398.6 530.2h0M398.5 532.4h0M386.0 532.6h0M397.1 535.1h0M398.5 534.0h0M398.4 534.3h0M401.0 532.0h0M395.9 529.8h0M399.7 535.1h0M395.8 532.6h0" stroke="#4a1572" stroke-width="0.9" stroke-linecap="round" stroke-opacity="0.9" fill="none"/><path d="M388.0 532.1h0M389.2 532.7h0M397.6 532.0h0M401.3 532.7h0M396.5 534.0h0" stroke="#9a3494" stroke-width="0.9" stroke-linecap="round" stroke-opacity="0.9" fill="none"/><polygon points="407.0,576.1 413.6,576.8 418.0,578.2 423.8,578.2 424.5,583.4 423.1,589.2 420.9,591.4 418.7,594.3 418.0,597.2 415.8,596.5 415.0,593.6 412.1,591.4 409.2,593.6 407.7,590.7 406.3,584.8 403.4,582.6 405.5,580.4" fill="#070108" stroke="#070108" stroke-width="1.0" stroke-linejoin="round"/><path d="M420.9 590.6h0M422.4 588.8h0M403.3 582.3h0M412.0 592.3h0M414.3 592.2h0M415.5 595.7h0M405.6 580.2h0M422.3 589.6h0M410.3 593.0h0M424.5 582.1h0M406.0 582.0h0M408.1 590.9h0M417.4 596.9h0M415.0 577.7h0M404.1 583.6h0M425.0 582.1h0M419.6 579.0h0M415.9 595.7h0M415.7 596.9h0M416.8 597.0h0M408.3 591.4h0M403.5 581.5h0M415.5 592.0h0M425.5 582.6h0M411.7 592.8h0M406.4 578.4h0M418.7 597.9h0M406.0 588.1h0M417.2 577.5h0M405.1 580.8h0M407.5 574.6h0M408.0 591.4h0M416.7 595.7h0M423.3 579.8h0M407.4 588.8h0M414.3 591.9h0M406.6 579.8h0M421.1 577.2h0M403.6 583.8h0M422.5 578.1h0M415.3 595.5h0M415.8 595.8h0M403.8 582.5h0M423.2 578.8h0M404.6 583.7h0M403.8 583.3h0M421.2 591.0h0M404.0 579.7h0M420.2 591.2h0M406.2 586.8h0M408.1 586.3h0M415.6 594.4h0M411.4 591.1h0M415.2 596.5h0M409.1 590.8h0M406.1 579.1h0M404.4 582.2h0M415.4 577.5h0M407.2 588.7h0M410.3 592.1h0M423.4 590.9h0M412.2 590.2h0M419.4 595.4h0M415.7 593.2h0M413.1 575.9h0M408.2 575.8h0M423.9 583.2h0M421.7 590.6h0M406.8 585.6h0M415.9 576.8h0M421.7 591.2h0M419.0 598.0h0M422.6 587.2h0M415.4 594.7h0M415.5 593.9h0M417.3 596.7h0M407.6 591.5h0M425.6 580.3h0M407.1 591.8h0M405.1 582.3h0M420.7 590.8h0M415.3 577.6h0M413.3 593.8h0M421.9 589.4h0M403.8 582.3h0M417.1 596.9h0M420.9 590.5h0M404.8 579.6h0M408.2 593.8h0M423.0 590.7h0M409.0 593.9h0M410.0 592.2h0M403.8 581.7h0M409.1 593.0h0M418.7 596.1h0M407.0 590.1h0M407.7 576.3h0M405.8 583.9h0M414.9 595.5h0M413.4 594.5h0M414.8 576.2h0M414.8 595.4h0" stroke="#070108" stroke-width="0.8" stroke-linecap="round" fill="none"/><path d="M410.3 582.4h0M417.6 590.7h0M408.6 586.6h0M411.4 591.4h0M420.2 582.9h0M421.0 588.7h0M407.0 584.9h0M414.7 588.5h0M408.0 579.2h0M410.4 579.2h0M421.8 584.7h0M421.5 589.6h0M410.6 578.2h0M409.3 579.9h0M420.2 587.5h0M417.7 582.2h0M417.4 591.8h0M407.3 581.8h0M416.6 586.8h0M420.4 579.9h0M423.5 579.4h0M413.4 583.9h0M412.2 583.7h0M413.8 592.0h0M407.8 580.7h0M423.8 584.9h0M408.0 580.7h0" stroke="#ffffff" stroke-width="0.7" stroke-linecap="round" stroke-opacity="0.75" fill="none"/><path d="M421.8 588.5h0M412.1 581.2h0M410.7 578.6h0M409.2 590.2h0M413.3 590.7h0M412.6 585.8h0M417.8 590.6h0M413.5 578.1h0M418.3 592.0h0M406.8 582.2h0M408.5 587.5h0M411.8 581.1h0M412.1 580.5h0M418.0 595.0h0M417.2 583.5h0M408.9 586.6h0M411.2 587.9h0M417.2 582.9h0M404.5 582.6h0M413.0 582.1h0M408.0 579.1h0M413.0 589.2h0M419.3 589.6h0M419.8 584.9h0M417.5 579.3h0M423.8 585.0h0M409.7 581.3h0" stroke="#4a1572" stroke-width="0.9" stroke-linecap="round" stroke-opacity="0.9" fill="none"/><path d="M419.0 579.5h0M415.2 588.1h0M408.0 580.0h0M423.8 583.5h0M419.9 587.2h0M421.6 587.6h0M405.7 582.5h0M418.7 589.8h0M407.2 584.4h0M413.7 590.2h0M410.9 585.9h0M413.5 580.3h0M417.0 578.9h0" stroke="#9a3494" stroke-width="0.9" stroke-linecap="round" stroke-opacity="0.9" fill="none"/><polygon points="441.0,620.6 443.2,615.8 447.6,615.8 445.4,618.4 442.3,620.6" fill="#070108" stroke="#070108" stroke-width="1.0" stroke-linejoin="round"/><path d="M441.0 620.6h0M443.9 620.0h0M444.0 619.8h0M443.0 616.2h0M441.7 620.4h0M447.4 615.7h0M440.7 620.7h0M441.5 620.5h0M444.6 618.4h0M443.4 616.4h0M446.9 617.1h0M442.9 618.9h0M441.0 620.6h0M447.1 616.2h0M447.3 616.0h0M442.6 619.6h0M443.2 616.7h0M445.9 616.4h0M444.1 617.9h0M447.7 616.2h0M448.8 616.5h0M445.9 615.7h0M442.7 617.4h0M446.1 616.4h0M446.7 617.0h0M446.1 618.6h0M445.5 617.2h0M442.5 620.7h0M441.2 618.6h0M441.9 618.2h0" stroke="#070108" stroke-width="0.8" stroke-linecap="round" fill="none"/><path d="M446.1 617.3h0" stroke="#ffffff" stroke-width="0.7" stroke-linecap="round" stroke-opacity="0.75" fill="none"/><path d="M444.5 617.3h0" stroke="#4a1572" stroke-width="0.9" stroke-linecap="round" stroke-opacity="0.9" fill="none"/><path d="" stroke="#9a3494" stroke-width="0.9" stroke-linecap="round" stroke-opacity="0.9" fill="none"/><polygon points="454.2,639.4 457.7,636.8 460.3,635.9 463.8,632.8 467.3,632.0 469.5,633.3 470.4,637.7 469.9,642.0 467.3,644.7 462.9,645.5 460.3,643.8 458.5,641.2 455.0,640.3" fill="#070108" stroke="#070108" stroke-width="1.0" stroke-linejoin="round"/><path d="M469.6 643.0h0M460.5 644.3h0M457.4 641.8h0M470.5 640.1h0M470.3 636.1h0M466.9 632.7h0M461.7 644.2h0M460.9 644.9h0M460.1 644.1h0M454.3 639.7h0M468.4 632.2h0M464.6 633.9h0M466.4 631.2h0M468.7 632.3h0M465.4 631.6h0M461.1 634.9h0M466.4 632.6h0M468.3 644.0h0M455.0 638.3h0M457.9 642.0h0M459.4 643.6h0M469.0 640.9h0M471.0 639.5h0M456.0 640.6h0M459.7 645.8h0M460.1 635.9h0M467.1 644.1h0M456.8 639.3h0M456.9 638.7h0M468.3 631.8h0M464.9 645.6h0M462.5 634.8h0M460.1 643.8h0M456.6 639.7h0M465.6 645.3h0M466.1 633.3h0M463.9 646.0h0M465.0 644.5h0M455.3 640.3h0M468.6 632.5h0M464.9 633.1h0M458.8 642.5h0M457.5 640.8h0M466.5 633.8h0M465.1 643.9h0M457.8 635.8h0M454.2 640.4h0M454.7 639.0h0M464.9 632.7h0M464.5 633.0h0M467.6 644.3h0M454.2 637.9h0M469.1 642.6h0M464.1 632.4h0M457.1 637.8h0M460.1 641.9h0M469.2 641.5h0M469.9 637.6h0M470.1 642.4h0M464.3 631.7h0M465.3 645.3h0M469.7 635.0h0M456.7 637.2h0M459.0 639.9h0M469.0 642.1h0M459.9 643.3h0M471.6 643.6h0M469.2 643.7h0M466.4 632.6h0M457.4 640.7h0M465.0 632.4h0M454.6 640.1h0M460.3 643.0h0M470.0 640.8h0M464.4 645.6h0M465.1 645.0h0M470.8 638.6h0M460.5 636.9h0" stroke="#070108" stroke-width="0.8" stroke-linecap="round" fill="none"/><path d="M465.6 644.8h0M467.3 643.0h0M467.7 635.6h0M468.7 639.3h0M463.2 641.1h0M467.9 642.5h0M458.9 639.5h0M458.2 639.9h0M459.5 637.5h0M462.8 639.8h0M465.1 642.9h0M465.0 642.9h0M460.4 640.1h0" stroke="#ffffff" stroke-width="0.7" stroke-linecap="round" stroke-opacity="0.75" fill="none"/><path d="M461.3 640.6h0M469.3 634.6h0M461.6 644.2h0M465.7 635.5h0M463.6 644.2h0M466.1 637.9h0M462.2 643.1h0M463.7 634.2h0M468.8 639.6h0M469.4 636.1h0M463.6 634.5h0M462.7 635.6h0M466.6 637.6h0" stroke="#4a1572" stroke-width="0.9" stroke-linecap="round" stroke-opacity="0.9" fill="none"/><path d="M462.6 637.3h0M465.2 640.5h0M465.5 638.5h0M462.2 636.7h0M460.7 639.3h0M465.0 637.8h0" stroke="#9a3494" stroke-width="0.9" stroke-linecap="round" stroke-opacity="0.9" fill="none"/><polygon points="419.6,657.3 421.3,659.4 422.2,664.3 422.7,669.5 421.8,673.9 418.3,676.5 420.0,680.0 422.7,682.7 423.5,687.0 421.8,689.7 415.6,691.4 406.9,692.3 398.1,693.2 395.1,691.4 394.6,684.4 395.9,675.6 399.9,673.9 401.6,670.4 406.0,666.9 409.5,663.8 413.9,660.8 417.4,658.1" fill="#070108" stroke="#070108" stroke-width="1.0" stroke-linejoin="round"/><path d="M421.8 665.7h0M419.3 677.5h0M410.5 692.5h0M423.9 686.3h0M397.8 674.2h0M415.6 691.1h0M422.9 674.7h0M420.3 675.0h0M422.9 689.9h0M420.9 688.1h0M420.9 660.8h0M419.6 679.7h0M396.9 675.6h0M417.6 658.9h0M421.6 689.7h0M396.8 675.2h0M419.3 679.1h0M419.6 675.9h0M394.9 681.6h0M422.3 667.1h0M404.1 669.0h0M422.6 688.2h0M422.5 673.3h0M414.2 691.1h0M403.0 670.4h0M395.7 688.3h0M421.1 673.2h0M414.4 660.2h0M418.2 657.3h0M419.4 659.1h0M409.5 692.5h0M395.9 693.2h0M419.1 657.0h0M423.7 661.9h0M423.3 690.8h0M410.0 664.1h0M421.4 665.9h0M421.0 681.2h0M404.8 667.9h0M397.4 674.5h0M419.2 674.6h0M398.6 693.5h0M417.1 691.1h0M422.5 687.6h0M417.7 678.0h0M422.6 663.8h0M419.9 656.3h0M413.7 662.1h0M423.7 687.0h0M395.6 690.4h0M401.4 668.4h0M394.9 683.8h0M422.3 662.3h0M421.9 668.3h0M416.2 658.2h0M420.1 690.7h0M419.1 675.8h0M418.1 657.1h0M396.4 678.2h0M405.0 670.1h0M402.2 669.4h0M419.2 675.1h0M422.6 683.7h0M416.3 659.0h0M398.7 674.3h0M421.5 681.9h0M422.3 672.1h0M422.3 683.4h0M421.5 669.2h0M422.4 685.1h0M416.3 691.2h0M419.0 676.2h0M418.7 657.9h0M394.6 678.9h0M418.9 676.2h0M420.9 660.0h0M421.8 666.1h0M395.3 692.3h0M415.3 659.6h0M419.3 657.4h0M404.3 670.2h0M407.4 665.4h0M415.2 660.3h0M415.5 660.9h0M394.4 687.5h0M396.7 675.7h0M413.9 691.3h0M414.5 659.2h0M423.8 665.5h0M403.7 692.9h0M400.5 672.5h0M402.2 693.9h0M421.5 658.7h0M413.9 690.9h0M395.1 677.5h0M419.7 690.0h0M418.0 675.6h0M420.4 690.1h0M394.4 689.3h0M406.8 666.5h0M419.7 675.6h0M403.3 669.1h0M423.0 688.6h0M419.8 674.4h0M397.6 692.7h0M409.8 663.1h0M419.5 657.7h0M418.1 658.2h0M405.7 693.2h0M410.8 663.5h0M420.5 657.6h0M396.1 689.7h0M416.0 660.0h0M418.7 678.8h0M401.1 672.2h0M420.7 658.8h0M419.7 656.7h0M407.4 664.4h0M394.1 687.4h0M418.9 657.8h0M411.9 661.7h0M422.4 686.2h0M421.6 686.7h0M409.0 665.0h0M422.6 666.6h0M415.4 691.9h0M407.5 665.9h0M417.6 677.7h0M412.0 661.3h0M395.0 691.5h0M422.0 659.3h0M420.9 657.9h0" stroke="#070108" stroke-width="0.8" stroke-linecap="round" fill="none"/><path d="M420.0 666.1h0M412.5 662.8h0M418.6 674.5h0M414.4 675.6h0M403.4 689.7h0M396.7 678.6h0M408.2 668.4h0M422.5 667.5h0M412.5 669.8h0M406.4 678.9h0M405.4 681.2h0M408.9 667.6h0M398.2 675.3h0M417.7 665.3h0M419.8 682.1h0M411.6 683.6h0M418.7 660.7h0M399.5 678.4h0M413.5 661.8h0M406.1 672.4h0M406.8 682.4h0M401.5 683.4h0M399.1 681.7h0M414.9 678.0h0M413.6 677.2h0M418.0 668.4h0M399.0 691.9h0M400.0 683.3h0M418.4 674.0h0M420.0 659.0h0M406.0 679.3h0M413.8 666.6h0M401.6 689.6h0M412.5 685.4h0M422.0 685.7h0M408.6 679.6h0M416.2 677.3h0M411.5 683.8h0M408.1 674.6h0M411.4 672.4h0M418.2 678.3h0M418.2 679.7h0M417.6 666.0h0M405.3 671.0h0M410.7 679.8h0M419.4 681.1h0M417.9 670.2h0M396.6 691.9h0M419.5 674.7h0M412.5 674.5h0M410.5 673.9h0M407.8 672.0h0M413.2 669.6h0M416.4 675.6h0M402.9 685.1h0M400.9 680.0h0M415.3 685.1h0M405.7 683.5h0M407.5 673.4h0M417.7 664.8h0M409.2 681.6h0M407.9 685.5h0M415.2 690.9h0M405.0 672.4h0M404.9 675.1h0M402.0 688.3h0M407.7 668.3h0M395.8 690.7h0M406.8 677.5h0M408.2 675.0h0" stroke="#ffffff" stroke-width="0.7" stroke-linecap="round" stroke-opacity="0.75" fill="none"/><path d="M416.3 690.8h0M412.7 688.3h0M407.5 666.4h0M414.8 687.1h0M407.9 691.9h0M408.0 691.9h0M413.0 666.5h0M412.0 663.4h0M411.9 678.7h0M404.9 689.6h0M398.4 689.9h0M399.7 682.2h0M415.4 681.4h0M411.1 663.5h0M415.8 662.7h0M415.0 669.2h0M404.5 672.7h0M415.1 669.9h0M407.3 666.4h0M408.5 670.9h0M418.6 676.3h0M420.5 674.5h0M408.9 678.1h0M399.6 689.1h0M409.9 666.8h0M409.4 689.1h0M398.0 678.2h0M412.7 669.0h0M408.7 666.4h0M419.7 665.8h0M418.7 688.5h0M402.0 684.8h0M401.9 680.2h0M407.3 685.2h0M412.5 690.3h0M405.1 680.6h0M403.2 683.0h0M404.5 682.0h0M418.1 686.8h0M405.4 682.9h0M414.4 672.3h0M404.9 674.4h0M403.9 688.3h0M419.9 685.2h0M420.2 673.8h0M397.7 689.0h0M406.9 691.1h0M419.6 674.2h0M417.8 678.9h0M411.5 665.0h0M396.0 675.9h0M414.6 679.7h0M418.6 687.4h0M405.1 677.3h0M418.6 685.4h0M418.5 676.1h0M414.7 660.6h0M407.8 674.3h0M407.3 681.5h0M417.5 663.8h0M402.3 692.2h0M409.0 669.9h0M403.2 676.3h0M418.4 665.2h0M405.7 681.8h0M409.4 665.5h0M418.4 690.5h0M414.5 675.8h0M413.3 679.7h0M412.1 667.9h0" stroke="#4a1572" stroke-width="0.9" stroke-linecap="round" stroke-opacity="0.9" fill="none"/><path d="M408.0 692.1h0M415.7 685.6h0M415.6 668.1h0M416.4 687.6h0M412.6 682.9h0M419.4 660.6h0M400.6 689.5h0M417.4 661.2h0M412.7 682.6h0M405.1 675.5h0M412.8 689.1h0M418.7 673.7h0M410.4 682.6h0M418.0 685.0h0M404.5 670.1h0M411.4 664.1h0M395.7 684.9h0M416.3 682.6h0M399.5 678.8h0M419.0 662.8h0M418.9 685.1h0M402.0 690.8h0M410.2 665.4h0M405.7 689.6h0M400.2 677.7h0M396.4 688.8h0M406.7 670.7h0M401.1 678.5h0M411.2 683.7h0M404.4 686.8h0M400.2 690.8h0M406.3 669.7h0M401.9 674.3h0M413.6 661.9h0M402.4 674.5h0" stroke="#9a3494" stroke-width="0.9" stroke-linecap="round" stroke-opacity="0.9" fill="none"/><ellipse cx="399.6" cy="545.2" rx="4.6" ry="3.4" fill="none" stroke="#070108" stroke-width="1.6"/><path d="M394.8 541 L396.8 541 L396.5 549 L394.8 548Z" fill="#070108"/><line x1="383.2" y1="532.3" x2="392.0" y2="532.6" stroke="#6b2286" stroke-width="0.9"/><path d="M418.7 584.4h0M419.8 584.5h0M419.0 585.0h0M418.6 584.2h0M419.7 586.5h0M420.3 586.4h0M420.0 585.0h0M418.7 584.5h0M416.6 586.0h0M417.2 586.1h0M420.0 585.6h0M419.9 584.9h0M417.8 585.4h0M418.7 584.2h0M419.8 586.9h0M419.9 585.4h0M420.8 585.7h0M418.7 586.3h0" stroke="#ffffff" stroke-width="0.9" stroke-linecap="round" stroke-opacity="0.95" fill="none"/><path d="M465.5 636.9h0M463.2 636.9h0M466.2 641.7h0M463.0 639.2h0M466.4 637.9h0M466.5 637.1h0M465.7 636.3h0M467.2 639.9h0M465.1 640.8h0M467.4 638.0h0M462.7 637.7h0M464.0 640.8h0M464.5 637.6h0M467.5 638.8h0M462.7 639.3h0M467.1 638.1h0M464.4 641.9h0M463.4 640.8h0M463.0 638.0h0M464.2 638.8h0M463.9 637.4h0M463.9 640.3h0M463.9 638.9h0M466.7 639.1h0M465.0 637.6h0M466.1 636.1h0M465.7 640.0h0M464.0 637.6h0M467.7 639.6h0M465.6 640.7h0" stroke="#ffffff" stroke-width="0.9" stroke-linecap="round" stroke-opacity="0.95" fill="none"/><path d="M415.1 674.6h0M415.4 674.8h0M408.7 675.2h0M411.1 672.9h0M410.4 674.8h0M409.5 675.9h0M413.0 676.5h0M411.6 675.1h0M411.2 673.6h0M409.0 674.2h0M412.8 673.3h0M408.7 675.4h0M408.6 675.5h0M409.9 675.7h0M411.6 676.9h0M412.8 676.0h0M414.2 673.9h0M411.5 674.1h0M408.1 674.7h0M414.0 675.2h0M412.4 677.4h0M414.2 674.1h0M410.7 673.9h0M414.6 673.5h0M410.0 675.6h0" stroke="#ffffff" stroke-width="0.9" stroke-linecap="round" stroke-opacity="0.95" fill="none"/><path d="M400.7 683.2h0M400.8 683.1h0M399.0 683.8h0M401.7 685.2h0M401.8 683.4h0M400.3 685.3h0M400.8 683.7h0M399.4 683.3h0M402.0 684.7h0M399.9 682.0h0M400.0 685.7h0M399.3 684.7h0" stroke="#ffffff" stroke-width="0.9" stroke-linecap="round" stroke-opacity="0.95" fill="none"/><path d="M316.8 630.8h0M315.8 631.4h0M323.3 625.2h0M319.7 624.4h0M318.4 628.6h0M318.4 626.2h0M321.0 629.9h0M324.4 625.9h0M329.5 632.1h0M329.6 634.5h0M331.5 633.8h0M323.6 630.1h0M326.8 630.0h0M318.7 622.8h0M330.0 633.0h0M324.5 626.6h0M317.3 625.7h0M325.5 631.5h0M325.2 627.5h0M333.4 636.8h0M330.4 634.7h0M325.3 631.2h0M323.2 626.5h0M318.9 623.9h0M316.9 630.5h0M327.1 633.8h0M324.8 628.6h0M323.9 627.5h0M316.7 631.1h0M327.9 633.8h0M333.1 635.3h0M329.2 634.5h0M321.7 623.8h0M319.3 625.3h0M325.9 628.1h0M319.0 629.4h0M317.1 630.1h0M318.1 620.4h0M326.1 628.8h0M326.5 628.6h0M316.3 626.3h0M318.3 626.3h0M332.5 635.4h0M328.5 630.0h0M318.1 630.8h0M323.5 630.6h0M331.5 633.4h0M327.9 632.4h0M320.9 626.2h0M319.3 628.3h0M328.3 630.8h0M329.6 632.5h0M329.3 634.4h0M328.3 630.9h0M318.9 627.2h0M325.3 627.4h0M323.9 626.5h0M317.4 630.1h0M323.5 630.8h0M328.0 630.6h0M318.2 622.8h0M318.8 628.0h0M316.9 629.3h0M317.2 621.0h0M332.2 634.0h0M323.6 629.6h0M318.7 630.6h0M328.0 634.2h0M317.9 626.7h0M316.2 631.4h0M331.0 636.0h0M321.2 628.6h0M322.1 624.5h0M330.6 632.6h0M327.8 631.8h0M317.3 630.4h0M318.5 621.7h0M324.1 629.5h0M328.8 630.0h0M319.5 627.1h0M319.1 624.7h0M331.2 632.7h0M318.7 629.0h0M317.0 623.0h0M333.4 636.1h0M318.4 630.3h0M323.4 626.7h0M325.1 629.6h0M317.7 620.9h0M322.2 623.8h0" stroke="#070108" stroke-width="0.9" stroke-linecap="round" fill="none"/><path d="M398.5 627.3h0M394.6 633.3h0M399.3 629.5h0M393.0 627.3h0M395.3 632.6h0M392.9 629.8h0M392.1 627.7h0M403.5 625.8h0M404.1 624.8h0M394.3 629.6h0M397.2 632.4h0M402.9 626.4h0M402.5 627.6h0M396.5 624.0h0M399.2 624.0h0M400.2 625.1h0M401.0 631.6h0M400.5 628.0h0M396.7 623.9h0M404.1 630.5h0M391.3 633.2h0M391.4 632.0h0M404.6 629.2h0M398.6 632.7h0M396.7 633.4h0M391.1 632.7h0M400.3 624.8h0M399.0 634.5h0M399.4 628.1h0M400.2 627.8h0M398.9 632.8h0M397.1 626.3h0M396.6 630.7h0M401.7 624.6h0M401.9 623.5h0M398.8 624.9h0M394.9 626.0h0M400.2 625.8h0M396.3 634.3h0M401.9 625.9h0M392.6 632.0h0M395.9 628.8h0M391.4 628.9h0M400.9 633.5h0M396.8 629.4h0M399.2 629.9h0M393.5 634.1h0M392.1 632.2h0M398.8 634.6h0M398.3 633.6h0M394.9 629.4h0M398.2 634.3h0M404.1 627.7h0M401.3 628.7h0M398.8 629.9h0M401.6 632.9h0M397.4 625.0h0M392.6 634.6h0M397.1 631.5h0M398.2 632.1h0M394.4 631.7h0M394.9 631.7h0M403.2 627.9h0M398.9 633.7h0M394.8 629.1h0M404.1 628.4h0M398.4 631.7h0M400.6 627.9h0M395.8 629.2h0M398.8 628.7h0M391.6 631.2h0M396.5 626.5h0M393.3 627.1h0M396.7 630.0h0M401.4 627.8h0M395.8 624.7h0M392.3 626.6h0M392.0 628.8h0M398.8 632.4h0M395.3 631.0h0M400.1 634.3h0M393.8 624.4h0M392.7 632.6h0M394.2 623.4h0M402.1 632.7h0M404.1 626.1h0M394.1 623.8h0M399.4 629.0h0M390.8 632.8h0M391.8 632.9h0M395.0 628.8h0M394.3 632.1h0M401.2 623.2h0M397.5 630.5h0M404.3 629.9h0M394.5 623.8h0M394.3 629.7h0M397.4 624.7h0M398.9 627.7h0M399.6 625.7h0M393.8 632.2h0M396.5 627.5h0M394.8 633.4h0M394.2 625.3h0M395.1 634.6h0M399.3 630.6h0M402.6 631.1h0M396.5 622.2h0M390.2 633.9h0M401.9 632.7h0M391.7 626.3h0M404.1 626.6h0M395.9 622.7h0M396.8 623.3h0M399.7 622.5h0M393.2 629.8h0M397.7 627.8h0M399.7 633.2h0M401.4 630.7h0M399.1 627.7h0M396.8 632.7h0M393.9 634.0h0M397.5 625.8h0M399.9 630.4h0M399.1 622.1h0M390.8 628.7h0M397.2 632.2h0M398.6 634.8h0M396.8 624.4h0M391.7 632.6h0M398.6 633.1h0M394.0 624.7h0M401.6 633.6h0M392.5 631.8h0M402.2 630.8h0M403.8 624.2h0M394.9 625.7h0M397.6 623.4h0M397.1 631.7h0M394.5 627.2h0M399.3 621.9h0M398.2 626.5h0M394.5 631.6h0M396.5 634.9h0M396.5 632.4h0M393.2 629.9h0M393.0 633.7h0M401.8 630.7h0M400.6 625.0h0M393.8 628.0h0M399.3 626.4h0M394.4 633.1h0M391.0 628.0h0M397.9 632.4h0M391.7 633.6h0M396.4 624.3h0M400.5 628.1h0M399.1 632.2h0M395.9 625.8h0M397.2 631.5h0" stroke="#c85a82" stroke-width="1.0" stroke-linecap="round" stroke-opacity="0.9" fill="none"/><path d="M401.6 624.1h0M392.6 632.3h0M402.2 631.9h0M391.8 628.2h0M399.2 623.0h0M397.4 633.3h0M403.0 626.9h0M402.3 627.9h0M397.2 624.2h0M396.9 628.3h0M403.2 627.8h0M398.6 627.9h0M396.0 631.6h0M401.8 622.9h0M403.1 631.3h0M395.8 634.3h0M396.3 627.6h0M399.2 631.1h0M395.6 629.9h0M400.5 628.4h0M395.3 626.9h0M393.1 631.0h0M395.5 622.7h0M394.7 634.4h0M397.0 625.2h0M393.9 635.2h0M391.7 631.0h0M394.9 629.9h0M401.1 622.2h0M396.2 624.7h0M396.4 635.6h0M398.0 623.0h0M401.0 633.4h0M392.0 632.6h0M397.1 625.6h0M394.9 626.9h0M399.1 624.0h0M397.8 624.3h0M394.7 623.5h0M400.1 631.4h0M403.7 623.8h0M396.4 630.0h0M397.2 630.4h0M394.7 632.3h0M394.9 626.2h0M394.6 628.0h0M399.3 631.3h0M394.4 631.6h0M395.5 625.7h0M400.9 622.5h0M392.7 627.1h0M400.1 631.2h0M400.2 633.4h0M396.2 634.1h0M402.6 631.6h0M400.1 625.3h0M396.4 635.3h0M393.3 627.0h0M402.8 624.6h0M391.7 632.3h0" stroke="#ee9470" stroke-width="0.9" stroke-linecap="round" stroke-opacity="0.9" fill="none"/><line x1="423.5" y1="673.5" x2="430.5" y2="676.1" stroke="#111" stroke-width="1.0"/><line x1="533.9" y1="566.3" x2="533.9" y2="665.6" stroke="#222" stroke-width="0.7"/><line x1="533.9" y1="665.6" x2="678.4" y2="665.6" stroke="#222" stroke-width="0.7"/><line x1="532.1" y1="661.1" x2="533.9" y2="661.1" stroke="#222" stroke-width="0.6"/><text x="530.9" y="663.2" font-size="5.8" text-anchor="end" fill="#222">0</text><line x1="532.1" y1="637.9" x2="533.9" y2="637.9" stroke="#222" stroke-width="0.6"/><text x="530.9" y="640.0" font-size="5.8" text-anchor="end" fill="#222">1</text><line x1="532.1" y1="614.7" x2="533.9" y2="614.7" stroke="#222" stroke-width="0.6"/><text x="530.9" y="616.8" font-size="5.8" text-anchor="end" fill="#222">2</text><line x1="532.1" y1="591.6" x2="533.9" y2="591.6" stroke="#222" stroke-width="0.6"/><text x="530.9" y="593.7" font-size="5.8" text-anchor="end" fill="#222">3</text><line x1="532.1" y1="568.4" x2="533.9" y2="568.4" stroke="#222" stroke-width="0.6"/><text x="530.9" y="570.5" font-size="5.8" text-anchor="end" fill="#222">4</text><text x="609.6" y="566.6" font-size="5.5" text-anchor="middle" fill="#222">AKR1C3</text><text x="0.0" y="0.0" font-size="6.3" text-anchor="middle" fill="#222" transform="translate(524.6,612.5) rotate(-90)">Expression Level</text><text x="562.4" y="673.6" font-size="6.2" text-anchor="middle" fill="#222">Cancer cells</text><text x="609.6" y="675.4" font-size="6.2" text-anchor="middle" fill="#222">Proliferating</text><text x="609.6" y="682.2" font-size="6.2" text-anchor="middle" fill="#222">cancer cells</text><text x="657.2" y="675.4" font-size="6.2" text-anchor="middle" fill="#222">Epithelials</text><path d="M542.3 661.1 C554.3 660.1 559.3 657.1 560.9 652.1 L561.4 626.33 L561.9499999999999 600.832 L562.0999999999999 571.1616 L562.5 571.1616 L562.65 600.832 L563.1999999999999 626.33 L563.6999999999999 652.1 C565.3 657.1 570.3 660.1 582.3 661.1 Z" fill="#c69a35" stroke="#222" stroke-width="0.3"/><path d="M589.0 661.1 C601.6 660.1 606.6 657.1 608.2 652.1 L608.7 626.33 L609.25 600.832 L609.4 571.1616 L609.8000000000001 571.1616 L609.95 600.832 L610.5 626.33 L611.0 652.1 C612.6 657.1 617.6 660.1 630.2 661.1 Z" fill="#86cf3e" stroke="#222" stroke-width="0.3"/><line x1="655.5" y1="591.6" x2="655.5" y2="661.1" stroke="#777" stroke-width="0.5"/><path d="M574.0 638.6h0M557.3 622.0h0M564.5 618.2h0M566.6 637.0h0M543.8 600.3h0M560.0 642.1h0M565.6 616.7h0M547.8 648.9h0M575.6 619.8h0M565.8 635.2h0M581.5 624.8h0M557.8 643.0h0M543.1 622.0h0M562.9 619.5h0M554.6 624.6h0M561.1 621.2h0M548.9 609.5h0M571.0 615.3h0M569.0 630.1h0M551.2 625.7h0M558.2 589.6h0M546.3 622.5h0M565.4 650.6h0M566.9 607.5h0M547.3 641.8h0M568.3 586.9h0M578.9 614.0h0M560.1 631.9h0M576.3 596.6h0M566.2 598.2h0M577.9 613.1h0M569.6 630.5h0M557.4 623.3h0M556.5 606.8h0M574.5 585.2h0M562.5 626.1h0M567.6 624.1h0M569.6 646.5h0M575.9 624.9h0M576.7 598.1h0M563.7 624.9h0M550.1 647.9h0M559.1 637.0h0M550.1 620.5h0M575.3 641.9h0M544.0 613.6h0M556.9 619.1h0M568.9 586.3h0M577.2 637.2h0M580.5 634.7h0M577.6 628.4h0M578.7 642.7h0M568.3 644.8h0M573.9 610.9h0M550.4 597.6h0M574.2 633.4h0M578.1 624.7h0M578.4 603.8h0M578.0 626.5h0M575.9 632.8h0M554.8 628.5h0M580.6 627.4h0M573.2 632.5h0M545.5 623.8h0M561.3 627.5h0M543.8 615.7h0M558.9 622.8h0M562.8 622.7h0M567.9 636.9h0M559.8 597.8h0M573.2 648.5h0M561.8 610.8h0M559.2 608.6h0M550.8 641.3h0M559.4 612.0h0M571.8 643.6h0M571.3 599.1h0M543.2 638.9h0M546.3 632.1h0M580.4 601.3h0M574.2 593.9h0M546.5 627.6h0M553.3 603.5h0M546.0 619.3h0M580.5 613.0h0M551.3 601.5h0M553.9 647.4h0M552.4 639.1h0M580.2 617.9h0M549.4 603.1h0M564.8 620.8h0M551.2 630.4h0M553.4 622.5h0M571.7 597.0h0M562.0 611.7h0M543.5 603.6h0M561.9 611.8h0M547.9 631.2h0M581.3 603.3h0M542.8 627.4h0M566.4 618.7h0M559.8 625.8h0M545.5 576.9h0M552.8 626.7h0M574.1 600.3h0M562.9 610.9h0M545.0 604.6h0M571.5 625.9h0M555.8 632.1h0M556.8 596.8h0M578.0 603.8h0M549.6 626.7h0M567.7 581.2h0M573.8 629.0h0M567.8 631.3h0M568.3 611.0h0M565.6 591.0h0M544.8 622.9h0M566.2 612.7h0M552.7 612.4h0M552.4 631.7h0M569.0 625.2h0M545.9 639.7h0M549.4 630.3h0M567.2 611.0h0M551.2 633.9h0M572.1 637.6h0M544.1 600.0h0M565.3 621.0h0M549.6 616.5h0M581.1 650.5h0M574.5 625.9h0M562.6 637.0h0M573.1 624.4h0M577.9 621.7h0M547.8 620.2h0M555.7 648.4h0M560.6 611.4h0M562.6 597.5h0M559.3 614.9h0M551.1 628.8h0M570.7 631.3h0M559.1 638.1h0M579.6 597.5h0M571.5 611.3h0M569.5 636.4h0M568.9 633.5h0M561.5 599.3h0M547.9 605.8h0M579.9 608.6h0M557.8 611.7h0M554.6 633.4h0M570.9 629.6h0M574.3 624.0h0M556.4 614.6h0M567.7 608.0h0M551.1 625.2h0M551.3 629.8h0M545.2 630.7h0M543.6 606.9h0M565.1 613.8h0M563.1 595.3h0M547.1 616.4h0M555.0 613.0h0M561.2 608.3h0M546.5 648.0h0M581.8 623.8h0M578.7 631.3h0M544.3 638.5h0M543.3 630.9h0M572.4 614.4h0M544.3 607.3h0M554.9 629.1h0M564.0 645.8h0M579.0 609.6h0M575.0 625.8h0M544.9 631.1h0M575.6 607.5h0M575.8 625.0h0M550.7 620.3h0M549.1 619.1h0M576.2 602.5h0M564.5 622.1h0M577.2 640.1h0M571.3 607.8h0M580.2 643.5h0M576.1 611.4h0M573.4 599.2h0M576.6 626.8h0M558.8 623.8h0M574.5 622.0h0M562.6 596.3h0M581.1 627.4h0M547.4 598.3h0M550.5 598.7h0M542.9 622.9h0M568.6 628.9h0M563.1 631.7h0M549.9 601.4h0M566.0 614.3h0M569.6 648.7h0M581.8 618.8h0M559.3 595.0h0M559.4 635.8h0M560.9 616.0h0M571.7 641.0h0M561.9 642.4h0M553.1 625.4h0M555.2 612.6h0M576.3 637.3h0M580.0 628.3h0M570.8 618.6h0M561.0 616.2h0M543.6 630.0h0M567.3 618.8h0M563.4 639.1h0M550.7 615.9h0M579.7 613.0h0M550.8 607.4h0M556.8 626.4h0M555.6 616.7h0M563.2 631.2h0M555.3 634.7h0M558.8 638.4h0M567.3 606.0h0M548.1 648.7h0M544.0 611.0h0M572.4 595.5h0M565.1 600.8h0M553.5 630.7h0M563.0 613.9h0M558.7 621.3h0M580.5 627.0h0M554.6 645.9h0M551.2 592.2h0M563.1 600.4h0M563.2 611.9h0M561.8 622.6h0M572.8 622.3h0M570.7 631.7h0M551.4 606.5h0M563.1 606.8h0M550.2 611.3h0M548.4 647.5h0M556.5 618.2h0M564.6 645.1h0M581.1 642.4h0M558.8 596.2h0M562.1 590.4h0M577.1 627.9h0M569.0 615.0h0M543.1 650.4h0M569.1 634.0h0M570.0 634.8h0M573.0 644.7h0M548.4 628.2h0M550.2 598.6h0M558.6 617.2h0M571.1 627.3h0M570.8 612.2h0M562.0 600.8h0M577.3 618.6h0M546.9 629.2h0M557.5 617.3h0M564.8 637.9h0M559.4 637.1h0M542.9 628.6h0M568.7 629.7h0M572.7 628.7h0M555.7 620.7h0M561.9 630.8h0M564.5 612.5h0M545.0 633.3h0M569.1 612.8h0M578.8 641.5h0M561.1 632.0h0M545.4 621.8h0M567.9 616.9h0M553.8 619.6h0M547.3 633.6h0M570.3 601.1h0M568.4 646.6h0M550.9 642.9h0M557.1 636.0h0M548.4 599.5h0M570.4 618.0h0M563.6 601.2h0M564.2 633.9h0M575.7 625.0h0M550.6 615.2h0M577.9 619.6h0M571.8 624.3h0M545.4 641.4h0M551.7 632.3h0M543.2 611.9h0M555.4 611.8h0M578.2 609.4h0M570.8 631.0h0M573.0 617.4h0M544.7 619.8h0M578.2 626.4h0M559.2 592.3h0M566.6 613.7h0M562.5 648.8h0M565.2 627.2h0M578.4 607.8h0M580.3 623.7h0M544.6 601.4h0M563.3 642.6h0M569.6 630.8h0M580.3 604.8h0M546.6 629.9h0M581.4 645.5h0M559.1 628.8h0M551.8 627.4h0M565.6 602.7h0M566.6 635.5h0M578.7 612.6h0M544.7 604.4h0M555.0 631.5h0M579.6 636.1h0M568.6 601.6h0M548.8 605.2h0M561.2 586.3h0M544.9 600.1h0M573.8 628.1h0M545.7 646.4h0M576.6 628.8h0M578.0 632.8h0M544.9 620.1h0M545.9 650.0h0M576.1 646.3h0M556.4 618.5h0M579.4 626.2h0M574.8 624.6h0M580.3 619.8h0M558.2 630.2h0M555.6 614.4h0M579.2 620.0h0M577.3 610.4h0M555.3 602.3h0M563.8 612.8h0M571.4 645.0h0M543.7 609.4h0M572.5 632.9h0M577.6 639.4h0M581.6 615.5h0M553.6 609.8h0M544.8 621.4h0M556.1 635.5h0M546.6 620.2h0M563.2 583.1h0M552.3 637.1h0M561.8 613.1h0M565.1 600.7h0M550.2 623.1h0M557.3 647.5h0M577.3 646.9h0M559.0 628.0h0M547.6 596.1h0M568.8 592.3h0M571.9 609.6h0M570.5 619.6h0M574.0 645.5h0M556.0 616.7h0M544.0 608.6h0M548.2 627.7h0M572.8 637.3h0M570.4 622.3h0M579.0 634.7h0M545.4 608.1h0M569.6 626.3h0M560.3 601.2h0M550.7 627.3h0M545.7 610.8h0M576.4 597.7h0M557.2 639.0h0M553.9 633.5h0M550.4 609.2h0M567.3 598.0h0M552.9 626.2h0M571.4 627.2h0M565.4 642.5h0M548.9 639.7h0M566.1 596.3h0M569.7 638.7h0M558.2 629.3h0M553.3 617.0h0M547.3 645.0h0M551.4 603.5h0M559.6 620.0h0M544.3 614.4h0M562.6 600.1h0M568.3 601.1h0M563.0 628.9h0M564.6 610.6h0M554.4 613.8h0M568.5 605.6h0M575.0 597.6h0M571.8 591.9h0M572.9 612.7h0M551.8 633.8h0M573.6 608.6h0M560.1 630.6h0M578.9 578.1h0M570.9 629.1h0M550.3 613.8h0M569.1 621.9h0M561.6 613.2h0M565.4 631.9h0M570.8 629.3h0M547.6 631.9h0M557.1 604.9h0M560.3 608.6h0M578.1 604.5h0M574.4 645.0h0M576.5 612.0h0M572.2 609.0h0M557.3 625.4h0M559.9 631.9h0M572.5 603.6h0M570.7 607.0h0M547.6 640.1h0M544.9 623.6h0M577.6 616.3h0M543.3 641.4h0M551.7 643.0h0M580.6 620.6h0M563.4 619.6h0M553.1 614.1h0M568.5 627.7h0M561.7 628.1h0M569.7 613.1h0M557.3 573.5h0M560.6 639.9h0M544.7 600.8h0M554.9 626.9h0M574.0 639.6h0M579.4 630.1h0M548.2 611.5h0M550.9 600.9h0M558.7 611.8h0M579.8 615.4h0M550.5 594.0h0M568.8 618.8h0M547.7 611.4h0M548.4 621.3h0M580.7 633.5h0M581.0 611.2h0M580.8 625.4h0M581.2 625.3h0M553.8 612.9h0M577.4 601.2h0M563.9 606.7h0M558.3 607.7h0M552.8 622.3h0M543.8 621.8h0M559.2 637.3h0M572.6 630.5h0M552.4 590.5h0M559.7 647.1h0M572.4 606.2h0M580.1 617.7h0M552.2 643.7h0M553.8 641.1h0M547.6 615.5h0M556.0 622.9h0M549.4 628.8h0M563.1 620.8h0M572.9 603.8h0M551.2 644.3h0M545.1 623.2h0M558.9 623.4h0M573.6 639.4h0M553.6 604.8h0M564.1 631.4h0M573.2 628.6h0M563.1 617.9h0M556.0 639.2h0M581.4 629.6h0M577.5 610.3h0M569.9 642.9h0M570.7 636.4h0M557.6 631.4h0M561.8 618.0h0M567.3 636.8h0M553.3 649.8h0M561.0 614.0h0M571.1 623.1h0M564.3 638.7h0M565.4 625.1h0M549.2 642.4h0M562.5 620.7h0M568.0 649.9h0M581.6 643.6h0M580.9 639.0h0M566.1 648.4h0M566.5 636.5h0M544.9 629.3h0M565.8 620.3h0M555.2 635.4h0M551.0 647.5h0M578.7 612.5h0M557.0 640.0h0M563.2 607.6h0M543.2 617.8h0M566.1 628.2h0M545.9 622.6h0M579.0 610.6h0M546.6 649.1h0M579.9 622.1h0M546.5 617.2h0M551.3 626.7h0M566.9 616.9h0M566.2 646.3h0M566.7 615.3h0M547.7 633.9h0M576.3 615.4h0M553.3 631.9h0M575.6 635.2h0M571.0 630.0h0M549.7 624.4h0M568.4 620.7h0M551.5 610.2h0M565.6 624.8h0M579.5 621.7h0M560.9 627.5h0M546.5 647.8h0M567.3 606.4h0M545.3 626.5h0M576.8 612.9h0M550.7 610.2h0M564.5 638.9h0M573.3 614.7h0M557.3 639.4h0M546.4 625.9h0M570.7 623.8h0M581.2 618.9h0M570.7 617.9h0M550.1 646.3h0M552.9 622.9h0M561.1 628.9h0M576.5 637.8h0M574.1 617.3h0M543.0 583.5h0M568.1 600.8h0M549.3 636.1h0M564.0 595.9h0M569.2 632.9h0M559.9 612.0h0M543.4 626.5h0M564.3 617.8h0M546.9 634.5h0M571.9 625.4h0M564.6 629.5h0M551.1 607.2h0M553.3 631.6h0M547.1 624.3h0M572.6 630.2h0M574.3 621.7h0M559.3 621.3h0M564.2 602.7h0M554.9 623.1h0M565.1 622.4h0M551.5 622.5h0M571.6 616.0h0M579.1 632.2h0M561.1 623.7h0M559.4 632.3h0M560.4 629.8h0M572.2 618.7h0M573.9 606.6h0M560.9 608.0h0M545.1 590.1h0M550.8 631.2h0M574.5 638.0h0M563.7 619.9h0M556.4 638.1h0M576.7 621.5h0M575.9 608.3h0M568.4 629.0h0M568.2 623.5h0M560.7 620.4h0M568.8 617.7h0M550.9 618.5h0M557.0 622.3h0M550.5 642.6h0M563.4 626.0h0M574.0 618.8h0M557.6 625.1h0M572.0 638.6h0M567.2 622.1h0M570.1 613.0h0M575.7 612.2h0M555.6 629.1h0M564.9 633.7h0M567.9 619.0h0M579.5 622.4h0M560.9 629.7h0M570.0 630.1h0M558.7 644.7h0M575.9 611.4h0M548.7 621.6h0M565.3 591.1h0M573.9 627.9h0M580.1 599.7h0M559.7 608.8h0M548.5 642.1h0M572.0 623.8h0M567.7 642.4h0M570.2 628.8h0M574.8 614.9h0M556.3 631.8h0M563.9 622.0h0M558.2 635.7h0M572.4 636.5h0M550.9 629.3h0M557.2 603.0h0M544.7 630.5h0M559.1 638.2h0M561.7 636.3h0M564.7 635.9h0M552.4 591.4h0M566.6 614.7h0M571.9 625.2h0M543.5 631.5h0M579.8 620.5h0M562.7 601.9h0M552.2 638.7h0M561.2 621.1h0M557.1 629.9h0M565.9 636.2h0M562.0 643.2h0M550.9 637.6h0M550.3 640.3h0M551.6 617.9h0M552.3 613.8h0M575.3 607.2h0M565.1 624.6h0M567.6 617.1h0M581.5 612.6h0M577.1 609.0h0M554.6 629.5h0M557.6 637.0h0M572.8 620.4h0M566.4 626.9h0M548.3 587.4h0M565.4 614.5h0M556.6 607.6h0M574.5 631.6h0M549.6 603.0h0M580.5 596.9h0M564.6 635.5h0M569.7 626.3h0M555.9 603.0h0M557.5 629.9h0M579.3 595.0h0M575.3 637.3h0M544.2 629.6h0M572.3 599.8h0M569.1 648.1h0M576.9 628.9h0M558.2 590.2h0M570.3 633.9h0M573.3 627.9h0M565.2 638.2h0M547.7 611.1h0M548.4 619.4h0M563.1 605.8h0M574.4 630.4h0M580.0 598.7h0M566.7 603.5h0M561.4 628.9h0M564.7 625.9h0M548.0 639.1h0M546.1 594.6h0M573.8 635.2h0M579.2 635.3h0M559.7 630.8h0M571.9 599.7h0M565.2 603.0h0M564.1 610.4h0M580.5 644.9h0M576.8 631.1h0M575.3 626.5h0M556.3 620.1h0M577.1 640.4h0M572.8 641.5h0M568.4 642.3h0M563.8 628.5h0M575.7 627.6h0M571.5 636.3h0M554.8 642.7h0M564.7 646.4h0M575.4 586.3h0M578.8 618.6h0M580.9 601.9h0M559.5 635.0h0M577.5 629.1h0M550.5 582.5h0M575.6 617.0h0M552.2 638.9h0M573.1 616.4h0M573.1 619.7h0M557.9 600.0h0M548.1 615.7h0M580.9 644.0h0M560.8 628.8h0M553.4 622.3h0M564.4 620.4h0M568.1 648.2h0M569.3 633.7h0M552.3 630.0h0M559.1 644.4h0M563.8 587.4h0M574.8 622.8h0M558.4 610.4h0M555.2 631.0h0M557.8 632.3h0M570.0 633.4h0M550.8 614.2h0M571.0 612.7h0M551.0 618.8h0M560.2 597.1h0M572.9 635.2h0M544.9 603.7h0M560.2 631.7h0M561.6 629.6h0M546.5 620.0h0M559.8 602.9h0M543.2 618.6h0M570.6 614.6h0M549.3 639.9h0M545.5 626.1h0M560.7 630.6h0M581.4 615.2h0M574.2 626.6h0M579.3 605.7h0M579.9 620.7h0M570.9 605.7h0M560.1 605.9h0M572.5 610.2h0M578.7 617.7h0M555.8 615.2h0M564.9 624.4h0M570.5 600.9h0M569.5 609.9h0M571.1 624.1h0M562.6 615.2h0M544.4 612.5h0M544.3 609.7h0M567.5 644.9h0M556.9 629.1h0M565.6 624.9h0M548.9 628.9h0M579.9 622.8h0M543.8 642.5h0M565.1 628.6h0M579.3 637.3h0M572.5 619.0h0M552.0 630.8h0M577.2 623.5h0M577.1 624.9h0M546.8 621.7h0M558.3 627.6h0M577.5 631.1h0M567.3 649.8h0M574.2 616.4h0M571.7 633.2h0M564.7 620.2h0M564.2 631.1h0M549.6 603.5h0M551.3 607.0h0M560.9 610.0h0M554.8 649.6h0M552.9 630.8h0M569.9 619.4h0M555.8 616.6h0M555.9 608.8h0M579.3 645.5h0M576.2 620.0h0M546.9 628.9h0M545.5 643.8h0M553.1 612.9h0M555.1 635.1h0M556.1 621.2h0M543.8 642.6h0M563.9 616.9h0M570.6 639.3h0M560.8 633.5h0M562.6 635.0h0M564.8 601.6h0M571.7 616.7h0M554.9 623.1h0M547.3 629.7h0M573.7 634.5h0M573.1 619.8h0M556.7 630.2h0M569.5 628.5h0M556.6 612.2h0M573.0 616.7h0M579.7 636.5h0M545.1 624.6h0M562.4 635.8h0M555.2 599.2h0M579.9 646.2h0M573.2 602.4h0M555.4 628.1h0M547.2 617.5h0M555.7 649.4h0M556.5 620.2h0M561.8 620.9h0M568.7 616.2h0M550.6 611.2h0M543.2 589.0h0M568.2 625.6h0M544.7 627.3h0M545.0 625.5h0M548.0 631.4h0M559.1 635.9h0M554.0 611.7h0M581.7 578.3h0M563.8 610.4h0M544.2 593.2h0M562.9 646.1h0M575.2 596.1h0M567.1 637.3h0M575.2 623.4h0M577.5 609.4h0M558.4 639.0h0M578.5 605.8h0M565.2 595.9h0M580.3 605.1h0M550.3 611.2h0M580.6 620.8h0M573.7 639.4h0M558.4 614.0h0M557.6 620.7h0M579.4 626.9h0M543.4 605.7h0M550.4 629.4h0M557.9 590.4h0M564.6 638.0h0M555.1 601.1h0M545.8 607.3h0M557.7 631.7h0M544.1 623.7h0M577.4 602.7h0M555.3 578.6h0M542.9 596.7h0M570.6 633.4h0M546.4 604.2h0M560.6 624.9h0M566.4 625.2h0M565.6 610.0h0M576.5 631.8h0M554.1 615.9h0M560.6 633.9h0M574.3 612.0h0M556.4 623.6h0M551.9 589.3h0M561.9 641.7h0M576.1 587.2h0M547.0 595.7h0M577.6 610.3h0M554.0 639.2h0M555.2 609.2h0M580.2 600.6h0M570.1 611.4h0M559.9 635.8h0M548.0 632.0h0M572.9 631.9h0M574.5 633.4h0M543.0 604.6h0M577.1 617.5h0M556.9 602.4h0M579.7 629.7h0M569.2 587.6h0M580.5 601.7h0M581.2 600.8h0M543.1 627.6h0M567.4 617.4h0M568.3 636.1h0M546.4 622.1h0M572.8 615.2h0M566.0 615.1h0M560.7 614.1h0M559.0 619.2h0M563.0 631.8h0M566.1 650.1h0M550.2 627.2h0M546.8 624.0h0M544.1 629.8h0M581.6 610.9h0M562.6 639.7h0M547.0 628.2h0M581.1 629.7h0M551.2 612.6h0M555.9 624.5h0M579.1 643.9h0M547.7 611.0h0M567.1 629.3h0M559.0 618.8h0M569.5 607.2h0M550.2 627.2h0M559.1 615.8h0M561.7 625.6h0M550.1 617.2h0M549.8 625.1h0M552.8 629.2h0M562.3 635.4h0M565.9 591.7h0M549.1 646.5h0M579.1 602.6h0M572.5 603.2h0M550.9 611.6h0M565.2 626.3h0M577.4 607.3h0M569.5 602.7h0M563.4 615.0h0M579.7 620.0h0M551.5 591.2h0M578.4 616.2h0M567.7 623.7h0M550.5 627.6h0M556.2 619.7h0M569.6 625.1h0M559.5 642.1h0M558.7 624.7h0M549.7 626.3h0M557.2 626.3h0M579.3 600.1h0M546.6 613.2h0M567.4 637.8h0M553.6 638.1h0M551.5 643.8h0M574.1 633.6h0M558.5 604.1h0M566.1 607.3h0M556.1 619.1h0M569.4 615.6h0M567.5 632.4h0M558.5 605.3h0M575.2 610.8h0M569.0 622.4h0M550.8 630.3h0M567.3 620.1h0M560.0 616.5h0M544.9 619.0h0M573.2 605.5h0M554.3 580.3h0M548.5 601.0h0M578.4 632.8h0M575.9 594.6h0M545.2 615.5h0M550.0 631.2h0M568.8 627.4h0M557.1 619.9h0M552.2 586.1h0M551.5 629.3h0M544.7 624.6h0M559.1 613.8h0M552.9 593.5h0M554.7 605.4h0M559.2 642.2h0M543.1 603.7h0M567.0 616.1h0M567.4 612.6h0M574.6 620.7h0M546.6 635.3h0M563.8 629.2h0M563.2 608.6h0M575.1 613.8h0M575.9 630.1h0M558.3 615.9h0M573.8 633.3h0M576.8 633.7h0M580.2 620.9h0M572.3 605.0h0M580.7 631.6h0M571.3 610.8h0M551.3 639.6h0M566.7 632.3h0M552.5 625.5h0M567.4 625.4h0M572.6 630.9h0M566.9 622.4h0M557.7 607.7h0M546.6 600.9h0M568.8 648.5h0M575.3 618.1h0M570.4 615.8h0M560.9 617.6h0M558.3 613.9h0M562.8 619.3h0M577.2 617.9h0M557.4 635.8h0M578.6 635.2h0M581.1 625.3h0M546.9 617.3h0M570.4 644.0h0M569.4 617.6h0M562.5 637.4h0M545.7 633.6h0M563.2 618.9h0M577.4 628.9h0M547.0 622.7h0M551.2 603.8h0M579.0 649.4h0M568.0 614.1h0M553.3 637.5h0M554.7 610.0h0M557.9 620.9h0M572.5 626.6h0M543.5 627.9h0M574.6 636.4h0M573.5 635.5h0M581.7 628.8h0M562.0 594.3h0M556.4 630.2h0M577.0 628.0h0M552.6 624.6h0M575.2 625.5h0M577.4 650.0h0M558.4 616.9h0M575.9 612.6h0M571.2 642.2h0M575.5 615.9h0M577.6 602.0h0M545.4 624.1h0M543.4 621.5h0M551.6 596.2h0M579.3 626.3h0M562.1 633.9h0M548.0 641.9h0M558.7 642.0h0M568.3 637.1h0M543.5 597.8h0M580.5 602.5h0M579.4 620.5h0M554.0 639.9h0M556.3 607.9h0M544.8 617.8h0M557.9 628.1h0M564.9 641.2h0M575.0 641.5h0M570.2 614.3h0M579.1 642.5h0M562.5 642.6h0M551.5 626.8h0M565.6 621.7h0M568.0 598.5h0M574.7 642.8h0M562.6 608.9h0M560.3 614.6h0M562.9 623.9h0M580.3 613.6h0M572.9 615.5h0M546.3 608.7h0M554.8 579.9h0M566.4 620.4h0M577.6 646.6h0M560.7 611.5h0M566.5 625.3h0M569.7 613.9h0M546.7 640.5h0M560.7 597.3h0M560.2 616.7h0M580.6 625.1h0M572.9 637.1h0M565.8 591.2h0M567.3 618.3h0M551.7 624.1h0M542.8 632.3h0M552.4 621.5h0M550.0 608.1h0M555.4 633.7h0M580.3 635.0h0M576.0 598.8h0M560.5 643.2h0M549.3 607.0h0M563.4 632.9h0M575.9 611.2h0M595.7 648.1h0M615.3 621.7h0M590.7 637.6h0M617.1 620.8h0M607.4 607.4h0M595.3 621.2h0M606.4 648.3h0M613.7 636.1h0M623.3 647.5h0M626.2 639.5h0M601.2 634.8h0M619.0 624.1h0M596.9 624.5h0M615.3 648.9h0M606.4 625.9h0M602.1 630.9h0M625.4 627.5h0M627.0 623.6h0M604.2 632.5h0M600.1 640.2h0M593.9 613.0h0M615.1 634.0h0M599.3 628.0h0M610.7 631.1h0M623.2 618.1h0M617.1 604.9h0M628.8 647.1h0M601.2 645.0h0M626.9 642.4h0M607.6 627.8h0M592.2 614.6h0M592.0 609.6h0M609.7 648.4h0M611.3 605.7h0M623.8 647.2h0M607.8 643.6h0M622.0 649.5h0M621.3 639.8h0M625.6 642.9h0M590.2 619.4h0M608.2 628.4h0M600.2 626.6h0M601.4 649.3h0M620.9 639.9h0M615.9 640.9h0M597.1 624.4h0M621.4 638.2h0M609.8 628.8h0M624.1 614.1h0M599.7 631.2h0M628.9 643.4h0M600.0 599.7h0M625.8 621.0h0M594.3 619.6h0M600.4 633.3h0M621.5 650.1h0M624.2 640.2h0M600.0 629.6h0M603.3 631.5h0M625.8 630.6h0M621.8 635.5h0M623.9 635.4h0M606.4 647.3h0M596.2 612.8h0M618.8 592.8h0M610.5 621.7h0M594.0 624.3h0M626.5 612.5h0M615.2 638.3h0M628.6 647.7h0M609.1 625.3h0M605.0 621.5h0M623.6 632.0h0M596.8 625.3h0M592.8 641.4h0M595.2 633.5h0M598.6 645.4h0M601.4 646.0h0M610.2 644.4h0M608.8 627.3h0M622.3 621.1h0M605.4 621.5h0M619.6 614.0h0M606.9 616.9h0M606.9 617.7h0M593.5 635.7h0M595.8 628.2h0M628.9 636.2h0M624.0 647.2h0M608.0 623.1h0M619.1 623.5h0M616.3 625.5h0M592.0 637.3h0M626.6 612.4h0M618.2 626.8h0M600.2 632.0h0M607.0 636.5h0M617.7 620.2h0M603.4 614.8h0M615.0 601.6h0M608.5 638.8h0M592.2 626.1h0M612.6 628.8h0M590.3 634.9h0M603.3 631.3h0M591.4 619.6h0M606.1 626.2h0M611.3 629.9h0M608.9 648.3h0M621.4 638.7h0M620.7 642.6h0M604.4 612.0h0M597.9 625.8h0M616.8 628.1h0M627.0 628.8h0M611.7 627.6h0M610.2 600.6h0M604.2 617.2h0M614.4 625.7h0M615.2 618.9h0M594.0 647.7h0M615.3 631.6h0M602.3 629.8h0M616.8 629.6h0M614.5 633.7h0M613.7 611.4h0M593.3 599.9h0M611.1 636.4h0M609.6 632.5h0M608.1 644.9h0M623.0 620.2h0M626.6 629.5h0M607.3 622.8h0M603.3 648.0h0M627.0 637.3h0M598.2 628.2h0M603.2 616.3h0M627.5 630.3h0M620.0 637.1h0M609.8 623.3h0M624.1 603.6h0M592.3 636.9h0M625.5 635.9h0M605.4 632.3h0M610.4 622.3h0M619.2 632.5h0M623.9 640.5h0M591.3 641.1h0M591.0 647.9h0M620.7 633.8h0M618.3 634.3h0M593.0 649.3h0M611.6 647.1h0M626.7 641.3h0M628.2 646.0h0M604.4 617.1h0M617.9 632.1h0M599.8 637.0h0M602.6 636.9h0M612.9 628.3h0M626.3 640.1h0M626.8 648.8h0M611.6 642.9h0M623.3 619.4h0M614.2 621.5h0M595.9 639.3h0M609.9 641.8h0M594.0 616.8h0M622.4 642.8h0M602.5 618.7h0M592.3 641.9h0M625.2 621.8h0M620.8 625.3h0M591.0 639.3h0M592.9 622.4h0M619.0 620.0h0M599.4 638.0h0M591.4 621.6h0M616.6 625.8h0M626.7 621.6h0M600.7 636.7h0M597.3 616.4h0M622.3 621.9h0M592.9 627.7h0M591.9 608.5h0M627.2 645.8h0M595.1 633.4h0M612.9 605.9h0M607.2 636.0h0M595.6 642.3h0M614.4 638.5h0M607.5 632.7h0M598.7 607.3h0M601.6 635.0h0M623.5 629.6h0M592.1 625.9h0M591.4 643.4h0M600.8 627.6h0M622.3 619.3h0M628.1 629.5h0M607.0 648.0h0M594.1 630.8h0M621.7 629.4h0M599.5 642.4h0M600.4 618.2h0M601.3 616.6h0M626.0 616.7h0M606.9 610.2h0M626.8 623.7h0M609.0 623.8h0M618.7 641.3h0M618.5 601.1h0M599.0 637.2h0M610.5 643.0h0M603.2 635.7h0M627.6 646.3h0M600.6 622.2h0M615.6 620.7h0M621.3 622.7h0M613.9 601.1h0M627.4 633.5h0M621.2 618.3h0M602.7 650.3h0M626.4 643.5h0M621.3 645.0h0M601.9 622.5h0M591.0 629.2h0M628.7 621.5h0M627.2 629.3h0M628.6 625.2h0M628.3 641.3h0M600.5 614.1h0M611.3 625.0h0M609.8 631.4h0M627.4 592.4h0M595.9 602.2h0M607.2 634.2h0M622.0 636.2h0M622.2 639.1h0M599.8 635.4h0M623.7 629.4h0M595.8 600.8h0M609.6 626.5h0M610.8 641.0h0M619.0 630.6h0M616.3 650.1h0M622.2 615.7h0M616.0 627.0h0M624.5 593.7h0M627.8 622.0h0M612.6 647.4h0M594.9 627.8h0M613.6 630.5h0M611.0 630.4h0M627.1 638.5h0M599.5 625.4h0M612.3 637.0h0M617.3 613.9h0M614.4 634.0h0M599.2 624.5h0M627.6 632.9h0M614.3 633.6h0M610.2 648.3h0M615.7 636.5h0M605.7 649.4h0M611.1 640.8h0M606.6 616.6h0M600.0 633.4h0M619.4 634.1h0M605.7 628.0h0M601.8 631.4h0M626.7 636.9h0M603.2 595.3h0M617.1 636.4h0M590.5 628.9h0M609.9 642.6h0M618.1 634.2h0M610.0 647.4h0M623.0 626.6h0M599.0 616.1h0M610.1 639.4h0M593.1 622.0h0M590.9 601.4h0M596.6 629.6h0M591.6 621.3h0M601.7 641.6h0M597.6 626.1h0M607.6 637.5h0M626.8 618.2h0M592.4 643.7h0M614.1 635.6h0M614.8 638.1h0M621.6 624.6h0M609.1 637.2h0M624.7 641.7h0M602.3 634.9h0M594.6 649.6h0M603.9 617.5h0M592.1 645.0h0M602.0 618.8h0M619.9 623.2h0M610.4 628.6h0M598.8 634.7h0M619.9 627.5h0M592.8 617.4h0M590.4 629.1h0M596.2 615.0h0M608.0 636.0h0M607.0 609.1h0M599.7 644.8h0M604.8 623.8h0M591.8 648.2h0M617.0 635.0h0M597.9 628.2h0M623.2 628.9h0M602.5 615.1h0M621.4 634.9h0M620.5 626.5h0M593.5 630.8h0M615.1 615.0h0M606.2 628.0h0M620.8 619.6h0M625.5 629.7h0M623.7 635.7h0M591.1 635.8h0M623.7 630.0h0M598.2 637.6h0M622.2 631.5h0M615.9 624.9h0M598.0 620.4h0M597.7 629.4h0M600.9 614.7h0M614.4 641.4h0M607.0 630.3h0M592.9 627.9h0M590.2 648.4h0M604.1 646.7h0M608.3 648.9h0M594.6 647.6h0M627.0 636.7h0M617.4 614.4h0M599.0 616.4h0M603.3 643.4h0M594.8 631.6h0M602.0 640.6h0M618.5 602.3h0M620.5 625.9h0M617.2 636.9h0M624.5 633.3h0M602.2 629.0h0M627.2 646.7h0M601.9 622.2h0M616.7 624.2h0M617.4 644.0h0M606.1 637.7h0M603.7 629.7h0M622.8 646.0h0M606.8 622.7h0M621.1 602.5h0M597.6 633.8h0M597.9 625.3h0M591.7 638.5h0M607.2 623.9h0M613.2 598.7h0M595.1 608.3h0M599.1 632.9h0M611.0 631.4h0M590.5 625.5h0M618.5 596.5h0M596.6 615.6h0M627.6 644.8h0M611.0 639.4h0M628.3 633.3h0M621.9 631.5h0M597.1 625.2h0M623.8 620.7h0M599.5 627.9h0M619.5 622.4h0M609.1 624.2h0M601.9 647.6h0M615.0 641.2h0M598.1 647.6h0M592.5 605.0h0M594.3 635.3h0M620.3 640.4h0M596.4 626.6h0M620.6 609.9h0M594.2 644.7h0M594.9 634.4h0M593.6 633.4h0M595.7 603.1h0M594.1 626.3h0M607.2 629.5h0M622.7 639.9h0M596.5 634.7h0M611.1 648.1h0M614.4 647.3h0M608.3 620.8h0M612.2 620.9h0M614.8 640.1h0M625.1 632.3h0M590.5 637.0h0M613.0 622.5h0M603.4 635.0h0M600.0 614.4h0M618.1 645.9h0M614.6 620.0h0M622.1 629.2h0M606.6 635.9h0M625.8 632.6h0M599.6 622.2h0M603.4 632.2h0M610.1 642.9h0M604.0 628.6h0M592.8 645.4h0M594.1 633.6h0M603.7 632.1h0M627.2 626.9h0M611.1 629.2h0M607.0 644.2h0M616.8 608.8h0M625.2 641.5h0M611.4 621.6h0M598.7 628.2h0M620.4 629.9h0M599.6 643.8h0M606.4 617.6h0M598.7 619.4h0M601.4 613.8h0M604.4 631.4h0M602.7 642.2h0M594.9 612.7h0M615.7 618.7h0M593.0 625.1h0M615.0 621.3h0M593.9 636.7h0M608.0 649.0h0M597.1 629.3h0M607.0 622.8h0M595.6 632.0h0M627.5 631.1h0M595.9 624.8h0M614.8 620.7h0M621.0 633.8h0M612.4 648.3h0M596.7 626.8h0M616.5 627.7h0M598.9 626.3h0M603.0 649.7h0M593.5 644.7h0M618.0 615.7h0M623.9 632.9h0M623.6 606.4h0M606.2 609.3h0M598.1 625.8h0M615.8 632.9h0M602.3 626.0h0M597.7 639.8h0M612.7 650.1h0M591.3 644.2h0M621.4 631.6h0M607.7 629.5h0M607.8 615.5h0M626.0 620.0h0M606.7 635.0h0M609.0 629.4h0M599.8 634.5h0M594.0 610.9h0M618.9 636.1h0M629.1 633.8h0M621.0 640.1h0M594.3 612.5h0M609.8 635.7h0M624.3 632.9h0M599.0 638.7h0M619.1 623.0h0M612.2 643.4h0M603.5 647.1h0M619.7 629.9h0M609.0 623.3h0M613.7 634.7h0M603.7 623.4h0M624.1 620.5h0M602.4 628.5h0M601.6 622.6h0M609.8 618.9h0M595.0 647.6h0M610.5 611.1h0M613.3 647.9h0M594.6 613.7h0M617.3 617.4h0M599.0 625.6h0M599.4 610.0h0M607.0 620.3h0M619.9 631.7h0M611.1 604.2h0M619.1 622.1h0M608.1 619.9h0M597.0 642.4h0M599.4 620.9h0M616.9 622.9h0M593.5 623.5h0M622.3 606.8h0M599.5 623.9h0M601.9 633.4h0M624.2 644.9h0M614.6 635.9h0M600.4 635.1h0M601.2 621.9h0M595.2 636.7h0M626.1 634.1h0M619.8 628.6h0M623.0 643.1h0M621.9 642.3h0M592.5 609.3h0M613.3 636.8h0M609.6 645.7h0M598.2 636.6h0M621.2 624.6h0M596.2 599.3h0M611.5 621.6h0M595.6 608.1h0M619.8 630.1h0M595.5 605.7h0M592.8 603.6h0M602.5 640.0h0M627.1 628.3h0M609.5 636.9h0M601.2 622.1h0M600.1 619.2h0M610.0 628.9h0M604.1 616.8h0M597.3 650.5h0M597.0 618.3h0M606.4 648.5h0M605.4 613.8h0M608.2 636.3h0M611.2 617.2h0M610.4 630.6h0M606.2 631.9h0M617.5 620.1h0M610.9 645.2h0M619.9 637.7h0M605.6 605.0h0M628.1 648.9h0M606.2 641.8h0M615.6 618.1h0M615.6 614.1h0M611.9 618.9h0M602.2 642.2h0M606.9 648.7h0M620.6 637.7h0M605.1 633.4h0M592.8 620.2h0M602.2 643.0h0M629.1 616.3h0M611.2 614.4h0M624.0 629.1h0M608.4 637.0h0M591.9 645.5h0M642.0 590.4h0M651.0 605.5h0M644.0 621.7h0M639.5 627.5h0M645.5 641.4h0M640.5 635.6h0M658.0 641.4h0M664.0 622.9h0M662.0 634.4h0M663.0 639.1h0M661.0 605.5h0M640.0 620.5h0" stroke="#111" stroke-width="0.95" stroke-linecap="round" fill="none"/><line x1="542.6" y1="660.7" x2="582.5" y2="660.7" stroke="#111" stroke-width="1.0"/><line x1="588.6" y1="660.7" x2="629.8" y2="660.7" stroke="#111" stroke-width="1.0"/><line x1="636.4" y1="660.9" x2="675.8" y2="660.9" stroke="#111" stroke-width="1.2"/></svg></body></html>
